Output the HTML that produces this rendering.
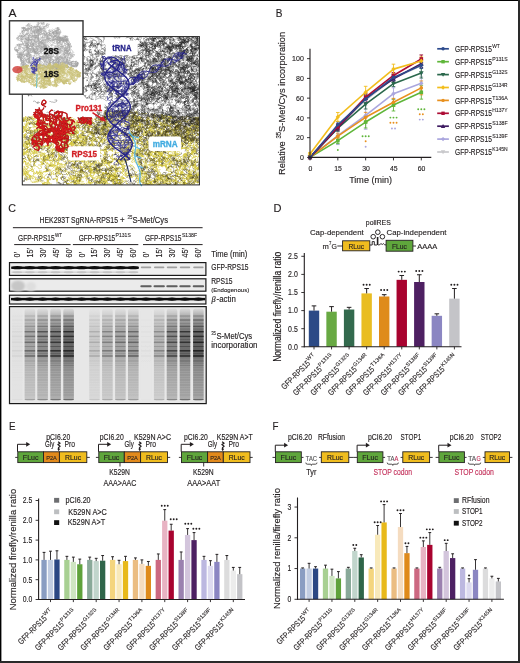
<!DOCTYPE html>
<html><head><meta charset="utf-8"><style>
html,body{margin:0;padding:0;background:#fff;}
body{width:520px;height:663px;overflow:hidden;position:relative;}
svg{position:absolute;left:0;top:0;display:block;font-family:"Liberation Sans", sans-serif;will-change:transform;}
</style></head><body>
<svg width="520" height="663" viewBox="0 0 520 663">
<rect x="0.00" y="0.00" width="520.00" height="663.00" fill="#fff" />
<text x="8.40" y="16.80" font-size="11.5" fill="#231f20" textLength="8.00" lengthAdjust="spacingAndGlyphs" stroke="#231f20" stroke-width="0.15">A</text>
<text x="275.80" y="16.80" font-size="11.5" fill="#231f20" textLength="6.70" lengthAdjust="spacingAndGlyphs" stroke="#231f20" stroke-width="0.15">B</text>
<text x="8.30" y="212.10" font-size="11.5" fill="#231f20" textLength="7.70" lengthAdjust="spacingAndGlyphs" stroke="#231f20" stroke-width="0.15">C</text>
<text x="273.60" y="211.80" font-size="11.5" fill="#231f20" textLength="8.00" lengthAdjust="spacingAndGlyphs" stroke="#231f20" stroke-width="0.15">D</text>
<text x="8.90" y="429.50" font-size="11.5" fill="#231f20" textLength="6.50" lengthAdjust="spacingAndGlyphs" stroke="#231f20" stroke-width="0.15">E</text>
<text x="272.40" y="429.50" font-size="11.5" fill="#231f20" textLength="6.00" lengthAdjust="spacingAndGlyphs" stroke="#231f20" stroke-width="0.15">F</text>
<line x1="337.82" y1="123.83" x2="337.82" y2="129.75" stroke="#c8c8cb" stroke-width="0.9" />
<line x1="336.02" y1="123.83" x2="339.62" y2="123.83" stroke="#c8c8cb" stroke-width="0.9" />
<line x1="336.02" y1="129.75" x2="339.62" y2="129.75" stroke="#c8c8cb" stroke-width="0.9" />
<line x1="365.65" y1="95.19" x2="365.65" y2="105.06" stroke="#c8c8cb" stroke-width="0.9" />
<line x1="363.85" y1="95.19" x2="367.45" y2="95.19" stroke="#c8c8cb" stroke-width="0.9" />
<line x1="363.85" y1="105.06" x2="367.45" y2="105.06" stroke="#c8c8cb" stroke-width="0.9" />
<line x1="393.48" y1="73.46" x2="393.48" y2="83.34" stroke="#c8c8cb" stroke-width="0.9" />
<line x1="391.68" y1="73.46" x2="395.28" y2="73.46" stroke="#c8c8cb" stroke-width="0.9" />
<line x1="391.68" y1="83.34" x2="395.28" y2="83.34" stroke="#c8c8cb" stroke-width="0.9" />
<line x1="421.30" y1="54.70" x2="421.30" y2="76.42" stroke="#c8c8cb" stroke-width="0.9" />
<line x1="419.50" y1="54.70" x2="423.10" y2="54.70" stroke="#c8c8cb" stroke-width="0.9" />
<line x1="419.50" y1="76.42" x2="423.10" y2="76.42" stroke="#c8c8cb" stroke-width="0.9" />
<line x1="337.82" y1="126.79" x2="337.82" y2="144.56" stroke="#aaa6de" stroke-width="0.9" />
<line x1="336.02" y1="126.79" x2="339.62" y2="126.79" stroke="#aaa6de" stroke-width="0.9" />
<line x1="336.02" y1="144.56" x2="339.62" y2="144.56" stroke="#aaa6de" stroke-width="0.9" />
<line x1="365.65" y1="101.61" x2="365.65" y2="129.26" stroke="#aaa6de" stroke-width="0.9" />
<line x1="363.85" y1="101.61" x2="367.45" y2="101.61" stroke="#aaa6de" stroke-width="0.9" />
<line x1="363.85" y1="129.26" x2="367.45" y2="129.26" stroke="#aaa6de" stroke-width="0.9" />
<line x1="393.48" y1="87.78" x2="393.48" y2="99.63" stroke="#aaa6de" stroke-width="0.9" />
<line x1="391.68" y1="87.78" x2="395.28" y2="87.78" stroke="#aaa6de" stroke-width="0.9" />
<line x1="391.68" y1="99.63" x2="395.28" y2="99.63" stroke="#aaa6de" stroke-width="0.9" />
<line x1="421.30" y1="73.46" x2="421.30" y2="93.21" stroke="#aaa6de" stroke-width="0.9" />
<line x1="419.50" y1="73.46" x2="423.10" y2="73.46" stroke="#aaa6de" stroke-width="0.9" />
<line x1="419.50" y1="93.21" x2="423.10" y2="93.21" stroke="#aaa6de" stroke-width="0.9" />
<line x1="337.82" y1="137.65" x2="337.82" y2="143.58" stroke="#5fb63a" stroke-width="0.9" />
<line x1="336.02" y1="137.65" x2="339.62" y2="137.65" stroke="#5fb63a" stroke-width="0.9" />
<line x1="336.02" y1="143.58" x2="339.62" y2="143.58" stroke="#5fb63a" stroke-width="0.9" />
<line x1="365.65" y1="116.12" x2="365.65" y2="127.97" stroke="#5fb63a" stroke-width="0.9" />
<line x1="363.85" y1="116.12" x2="367.45" y2="116.12" stroke="#5fb63a" stroke-width="0.9" />
<line x1="363.85" y1="127.97" x2="367.45" y2="127.97" stroke="#5fb63a" stroke-width="0.9" />
<line x1="393.48" y1="99.14" x2="393.48" y2="110.99" stroke="#5fb63a" stroke-width="0.9" />
<line x1="391.68" y1="99.14" x2="395.28" y2="99.14" stroke="#5fb63a" stroke-width="0.9" />
<line x1="391.68" y1="110.99" x2="395.28" y2="110.99" stroke="#5fb63a" stroke-width="0.9" />
<line x1="421.30" y1="85.31" x2="421.30" y2="99.14" stroke="#5fb63a" stroke-width="0.9" />
<line x1="419.50" y1="85.31" x2="423.10" y2="85.31" stroke="#5fb63a" stroke-width="0.9" />
<line x1="419.50" y1="99.14" x2="423.10" y2="99.14" stroke="#5fb63a" stroke-width="0.9" />
<line x1="337.82" y1="133.21" x2="337.82" y2="139.13" stroke="#e8901e" stroke-width="0.9" />
<line x1="336.02" y1="133.21" x2="339.62" y2="133.21" stroke="#e8901e" stroke-width="0.9" />
<line x1="336.02" y1="139.13" x2="339.62" y2="139.13" stroke="#e8901e" stroke-width="0.9" />
<line x1="365.65" y1="112.37" x2="365.65" y2="122.25" stroke="#e8901e" stroke-width="0.9" />
<line x1="363.85" y1="112.37" x2="367.45" y2="112.37" stroke="#e8901e" stroke-width="0.9" />
<line x1="363.85" y1="122.25" x2="367.45" y2="122.25" stroke="#e8901e" stroke-width="0.9" />
<line x1="393.48" y1="98.35" x2="393.48" y2="106.25" stroke="#e8901e" stroke-width="0.9" />
<line x1="391.68" y1="98.35" x2="395.28" y2="98.35" stroke="#e8901e" stroke-width="0.9" />
<line x1="391.68" y1="106.25" x2="395.28" y2="106.25" stroke="#e8901e" stroke-width="0.9" />
<line x1="421.30" y1="80.97" x2="421.30" y2="94.79" stroke="#e8901e" stroke-width="0.9" />
<line x1="419.50" y1="80.97" x2="423.10" y2="80.97" stroke="#e8901e" stroke-width="0.9" />
<line x1="419.50" y1="94.79" x2="423.10" y2="94.79" stroke="#e8901e" stroke-width="0.9" />
<line x1="337.82" y1="125.31" x2="337.82" y2="131.23" stroke="#2b684c" stroke-width="0.9" />
<line x1="336.02" y1="125.31" x2="339.62" y2="125.31" stroke="#2b684c" stroke-width="0.9" />
<line x1="336.02" y1="131.23" x2="339.62" y2="131.23" stroke="#2b684c" stroke-width="0.9" />
<line x1="365.65" y1="99.14" x2="365.65" y2="109.01" stroke="#2b684c" stroke-width="0.9" />
<line x1="363.85" y1="99.14" x2="367.45" y2="99.14" stroke="#2b684c" stroke-width="0.9" />
<line x1="363.85" y1="109.01" x2="367.45" y2="109.01" stroke="#2b684c" stroke-width="0.9" />
<line x1="393.48" y1="80.67" x2="393.48" y2="86.60" stroke="#2b684c" stroke-width="0.9" />
<line x1="391.68" y1="80.67" x2="395.28" y2="80.67" stroke="#2b684c" stroke-width="0.9" />
<line x1="391.68" y1="86.60" x2="395.28" y2="86.60" stroke="#2b684c" stroke-width="0.9" />
<line x1="421.30" y1="68.13" x2="421.30" y2="78.00" stroke="#2b684c" stroke-width="0.9" />
<line x1="419.50" y1="68.13" x2="423.10" y2="68.13" stroke="#2b684c" stroke-width="0.9" />
<line x1="419.50" y1="78.00" x2="423.10" y2="78.00" stroke="#2b684c" stroke-width="0.9" />
<line x1="337.82" y1="124.81" x2="337.82" y2="130.74" stroke="#3f1c62" stroke-width="0.9" />
<line x1="336.02" y1="124.81" x2="339.62" y2="124.81" stroke="#3f1c62" stroke-width="0.9" />
<line x1="336.02" y1="130.74" x2="339.62" y2="130.74" stroke="#3f1c62" stroke-width="0.9" />
<line x1="365.65" y1="94.20" x2="365.65" y2="102.10" stroke="#3f1c62" stroke-width="0.9" />
<line x1="363.85" y1="94.20" x2="367.45" y2="94.20" stroke="#3f1c62" stroke-width="0.9" />
<line x1="363.85" y1="102.10" x2="367.45" y2="102.10" stroke="#3f1c62" stroke-width="0.9" />
<line x1="393.48" y1="75.83" x2="393.48" y2="81.76" stroke="#3f1c62" stroke-width="0.9" />
<line x1="391.68" y1="75.83" x2="395.28" y2="75.83" stroke="#3f1c62" stroke-width="0.9" />
<line x1="391.68" y1="81.76" x2="395.28" y2="81.76" stroke="#3f1c62" stroke-width="0.9" />
<line x1="421.30" y1="59.64" x2="421.30" y2="67.54" stroke="#3f1c62" stroke-width="0.9" />
<line x1="419.50" y1="59.64" x2="423.10" y2="59.64" stroke="#3f1c62" stroke-width="0.9" />
<line x1="419.50" y1="67.54" x2="423.10" y2="67.54" stroke="#3f1c62" stroke-width="0.9" />
<line x1="337.82" y1="123.83" x2="337.82" y2="129.75" stroke="#ad0d35" stroke-width="0.9" />
<line x1="336.02" y1="123.83" x2="339.62" y2="123.83" stroke="#ad0d35" stroke-width="0.9" />
<line x1="336.02" y1="129.75" x2="339.62" y2="129.75" stroke="#ad0d35" stroke-width="0.9" />
<line x1="365.65" y1="93.21" x2="365.65" y2="101.11" stroke="#ad0d35" stroke-width="0.9" />
<line x1="363.85" y1="93.21" x2="367.45" y2="93.21" stroke="#ad0d35" stroke-width="0.9" />
<line x1="363.85" y1="101.11" x2="367.45" y2="101.11" stroke="#ad0d35" stroke-width="0.9" />
<line x1="393.48" y1="72.48" x2="393.48" y2="78.40" stroke="#ad0d35" stroke-width="0.9" />
<line x1="391.68" y1="72.48" x2="395.28" y2="72.48" stroke="#ad0d35" stroke-width="0.9" />
<line x1="391.68" y1="78.40" x2="395.28" y2="78.40" stroke="#ad0d35" stroke-width="0.9" />
<line x1="421.30" y1="55.00" x2="421.30" y2="62.90" stroke="#ad0d35" stroke-width="0.9" />
<line x1="419.50" y1="55.00" x2="423.10" y2="55.00" stroke="#ad0d35" stroke-width="0.9" />
<line x1="419.50" y1="62.90" x2="423.10" y2="62.90" stroke="#ad0d35" stroke-width="0.9" />
<line x1="337.82" y1="121.85" x2="337.82" y2="127.78" stroke="#2c4a8c" stroke-width="0.9" />
<line x1="336.02" y1="121.85" x2="339.62" y2="121.85" stroke="#2c4a8c" stroke-width="0.9" />
<line x1="336.02" y1="127.78" x2="339.62" y2="127.78" stroke="#2c4a8c" stroke-width="0.9" />
<line x1="365.65" y1="95.19" x2="365.65" y2="103.09" stroke="#2c4a8c" stroke-width="0.9" />
<line x1="363.85" y1="95.19" x2="367.45" y2="95.19" stroke="#2c4a8c" stroke-width="0.9" />
<line x1="363.85" y1="103.09" x2="367.45" y2="103.09" stroke="#2c4a8c" stroke-width="0.9" />
<line x1="393.48" y1="74.45" x2="393.48" y2="80.38" stroke="#2c4a8c" stroke-width="0.9" />
<line x1="391.68" y1="74.45" x2="395.28" y2="74.45" stroke="#2c4a8c" stroke-width="0.9" />
<line x1="391.68" y1="80.38" x2="395.28" y2="80.38" stroke="#2c4a8c" stroke-width="0.9" />
<line x1="421.30" y1="62.40" x2="421.30" y2="68.33" stroke="#2c4a8c" stroke-width="0.9" />
<line x1="419.50" y1="62.40" x2="423.10" y2="62.40" stroke="#2c4a8c" stroke-width="0.9" />
<line x1="419.50" y1="68.33" x2="423.10" y2="68.33" stroke="#2c4a8c" stroke-width="0.9" />
<line x1="310.00" y1="152.46" x2="310.00" y2="155.43" stroke="#f2bd1c" stroke-width="0.9" />
<line x1="308.20" y1="152.46" x2="311.80" y2="152.46" stroke="#f2bd1c" stroke-width="0.9" />
<line x1="308.20" y1="155.43" x2="311.80" y2="155.43" stroke="#f2bd1c" stroke-width="0.9" />
<line x1="337.82" y1="112.47" x2="337.82" y2="121.36" stroke="#f2bd1c" stroke-width="0.9" />
<line x1="336.02" y1="112.47" x2="339.62" y2="112.47" stroke="#f2bd1c" stroke-width="0.9" />
<line x1="336.02" y1="121.36" x2="339.62" y2="121.36" stroke="#f2bd1c" stroke-width="0.9" />
<line x1="365.65" y1="86.30" x2="365.65" y2="98.15" stroke="#f2bd1c" stroke-width="0.9" />
<line x1="363.85" y1="86.30" x2="367.45" y2="86.30" stroke="#f2bd1c" stroke-width="0.9" />
<line x1="363.85" y1="98.15" x2="367.45" y2="98.15" stroke="#f2bd1c" stroke-width="0.9" />
<line x1="393.48" y1="64.18" x2="393.48" y2="74.05" stroke="#f2bd1c" stroke-width="0.9" />
<line x1="391.68" y1="64.18" x2="395.28" y2="64.18" stroke="#f2bd1c" stroke-width="0.9" />
<line x1="391.68" y1="74.05" x2="395.28" y2="74.05" stroke="#f2bd1c" stroke-width="0.9" />
<line x1="421.30" y1="56.97" x2="421.30" y2="64.87" stroke="#f2bd1c" stroke-width="0.9" />
<line x1="419.50" y1="56.97" x2="423.10" y2="56.97" stroke="#f2bd1c" stroke-width="0.9" />
<line x1="419.50" y1="64.87" x2="423.10" y2="64.87" stroke="#f2bd1c" stroke-width="0.9" />
<polyline points="310.00,157.40 337.82,126.79 365.65,100.12 393.48,78.40 421.30,65.56" fill="none" stroke="#c8c8cb" stroke-width="1.6" stroke-linejoin="round"/>
<path d="M310.00 159.74L312.34 155.60L307.66 155.60Z" fill="#c8c8cb"/>
<path d="M337.82 129.13L340.16 124.99L335.49 124.99Z" fill="#c8c8cb"/>
<path d="M365.65 102.47L367.99 98.33L363.31 98.33Z" fill="#c8c8cb"/>
<path d="M393.48 80.74L395.81 76.60L391.14 76.60Z" fill="#c8c8cb"/>
<path d="M421.30 67.90L423.64 63.76L418.96 63.76Z" fill="#c8c8cb"/>
<polyline points="310.00,157.40 337.82,135.68 365.65,115.43 393.48,93.71 421.30,83.34" fill="none" stroke="#aaa6de" stroke-width="1.6" stroke-linejoin="round"/>
<path d="M310.00 155.06L312.16 157.40L310.00 159.74L307.84 157.40Z" fill="#aaa6de"/>
<path d="M337.82 133.34L339.99 135.68L337.82 138.02L335.66 135.68Z" fill="#aaa6de"/>
<path d="M365.65 113.09L367.81 115.43L365.65 117.77L363.49 115.43Z" fill="#aaa6de"/>
<path d="M393.48 91.37L395.64 93.71L393.48 96.05L391.31 93.71Z" fill="#aaa6de"/>
<path d="M421.30 81.00L423.46 83.34L421.30 85.68L419.14 83.34Z" fill="#aaa6de"/>
<polyline points="310.00,157.40 337.82,140.61 365.65,122.05 393.48,105.06 421.30,92.23" fill="none" stroke="#5fb63a" stroke-width="1.6" stroke-linejoin="round"/>
<rect x="308.20" y="155.60" width="3.60" height="3.60" fill="#5fb63a" />
<rect x="336.02" y="138.81" width="3.60" height="3.60" fill="#5fb63a" />
<rect x="363.85" y="120.25" width="3.60" height="3.60" fill="#5fb63a" />
<rect x="391.68" y="103.26" width="3.60" height="3.60" fill="#5fb63a" />
<rect x="419.50" y="90.43" width="3.60" height="3.60" fill="#5fb63a" />
<polyline points="310.00,157.40 337.82,136.17 365.65,117.31 393.48,102.30 421.30,87.88" fill="none" stroke="#e8901e" stroke-width="1.6" stroke-linejoin="round"/>
<circle cx="310.00" cy="157.40" r="1.80" fill="#e8901e"/>
<circle cx="337.82" cy="136.17" r="1.80" fill="#e8901e"/>
<circle cx="365.65" cy="117.31" r="1.80" fill="#e8901e"/>
<circle cx="393.48" cy="102.30" r="1.80" fill="#e8901e"/>
<circle cx="421.30" cy="87.88" r="1.80" fill="#e8901e"/>
<polyline points="310.00,157.40 337.82,128.27 365.65,104.08 393.48,83.63 421.30,73.07" fill="none" stroke="#2b684c" stroke-width="1.6" stroke-linejoin="round"/>
<path d="M310.00 159.74L312.34 155.60L307.66 155.60Z" fill="#2b684c"/>
<path d="M337.82 130.61L340.16 126.47L335.49 126.47Z" fill="#2b684c"/>
<path d="M365.65 106.42L367.99 102.28L363.31 102.28Z" fill="#2b684c"/>
<path d="M393.48 85.97L395.81 81.83L391.14 81.83Z" fill="#2b684c"/>
<path d="M421.30 75.41L423.64 71.27L418.96 71.27Z" fill="#2b684c"/>
<polyline points="310.00,157.40 337.82,127.78 365.65,98.15 393.48,78.80 421.30,63.59" fill="none" stroke="#3f1c62" stroke-width="1.6" stroke-linejoin="round"/>
<path d="M310.00 155.06L312.34 159.20L307.66 159.20Z" fill="#3f1c62"/>
<path d="M337.82 125.44L340.16 129.58L335.49 129.58Z" fill="#3f1c62"/>
<path d="M365.65 95.81L367.99 99.95L363.31 99.95Z" fill="#3f1c62"/>
<path d="M393.48 76.45L395.81 80.59L391.14 80.59Z" fill="#3f1c62"/>
<path d="M421.30 61.25L423.64 65.39L418.96 65.39Z" fill="#3f1c62"/>
<polyline points="310.00,157.40 337.82,126.79 365.65,97.16 393.48,75.44 421.30,58.95" fill="none" stroke="#ad0d35" stroke-width="1.6" stroke-linejoin="round"/>
<rect x="308.20" y="155.60" width="3.60" height="3.60" fill="#ad0d35" />
<rect x="336.02" y="124.99" width="3.60" height="3.60" fill="#ad0d35" />
<rect x="363.85" y="95.36" width="3.60" height="3.60" fill="#ad0d35" />
<rect x="391.68" y="73.64" width="3.60" height="3.60" fill="#ad0d35" />
<rect x="419.50" y="57.15" width="3.60" height="3.60" fill="#ad0d35" />
<polyline points="310.00,157.40 337.82,124.81 365.65,99.14 393.48,77.41 421.30,65.36" fill="none" stroke="#2c4a8c" stroke-width="1.6" stroke-linejoin="round"/>
<circle cx="310.00" cy="157.40" r="1.80" fill="#2c4a8c"/>
<circle cx="337.82" cy="124.81" r="1.80" fill="#2c4a8c"/>
<circle cx="365.65" cy="99.14" r="1.80" fill="#2c4a8c"/>
<circle cx="393.48" cy="77.41" r="1.80" fill="#2c4a8c"/>
<circle cx="421.30" cy="65.36" r="1.80" fill="#2c4a8c"/>
<polyline points="310.00,153.94 337.82,116.91 365.65,92.23 393.48,69.12 421.30,60.92" fill="none" stroke="#f2bd1c" stroke-width="1.6" stroke-linejoin="round"/>
<path d="M310.00 151.60L312.16 153.94L310.00 156.28L307.84 153.94Z" fill="#f2bd1c"/>
<path d="M337.82 114.57L339.99 116.91L337.82 119.25L335.66 116.91Z" fill="#f2bd1c"/>
<path d="M365.65 89.89L367.81 92.23L365.65 94.57L363.49 92.23Z" fill="#f2bd1c"/>
<path d="M393.48 66.78L395.64 69.12L393.48 71.46L391.31 69.12Z" fill="#f2bd1c"/>
<path d="M421.30 58.58L423.46 60.92L421.30 63.26L419.14 60.92Z" fill="#f2bd1c"/>
<circle cx="337.82" cy="150.00" r="0.95" fill="#5fb63a"/>
<circle cx="362.55" cy="136.30" r="0.95" fill="#5fb63a"/>
<circle cx="365.65" cy="136.30" r="0.95" fill="#5fb63a"/>
<circle cx="368.75" cy="136.30" r="0.95" fill="#5fb63a"/>
<circle cx="365.65" cy="141.30" r="0.95" fill="#e8901e"/>
<circle cx="365.65" cy="146.80" r="0.95" fill="#aaa6de"/>
<circle cx="390.38" cy="117.60" r="0.95" fill="#5fb63a"/>
<circle cx="393.48" cy="117.60" r="0.95" fill="#5fb63a"/>
<circle cx="396.58" cy="117.60" r="0.95" fill="#5fb63a"/>
<circle cx="390.38" cy="122.80" r="0.95" fill="#e8901e"/>
<circle cx="393.48" cy="122.80" r="0.95" fill="#e8901e"/>
<circle cx="396.58" cy="122.80" r="0.95" fill="#e8901e"/>
<circle cx="391.93" cy="128.50" r="0.95" fill="#aaa6de"/>
<circle cx="395.03" cy="128.50" r="0.95" fill="#aaa6de"/>
<circle cx="418.20" cy="109.20" r="0.95" fill="#5fb63a"/>
<circle cx="421.30" cy="109.20" r="0.95" fill="#5fb63a"/>
<circle cx="424.40" cy="109.20" r="0.95" fill="#5fb63a"/>
<circle cx="419.75" cy="114.20" r="0.95" fill="#e8901e"/>
<circle cx="422.85" cy="114.20" r="0.95" fill="#e8901e"/>
<circle cx="419.75" cy="119.60" r="0.95" fill="#aaa6de"/>
<circle cx="422.85" cy="119.60" r="0.95" fill="#aaa6de"/>
<line x1="310.00" y1="48.80" x2="310.00" y2="158.00" stroke="#231f20" stroke-width="1.1" />
<line x1="309.50" y1="157.40" x2="431.30" y2="157.40" stroke="#231f20" stroke-width="1.1" />
<line x1="307.00" y1="157.40" x2="310.00" y2="157.40" stroke="#231f20" stroke-width="0.9" />
<text x="303.80" y="160.15" font-size="7.9" fill="#231f20" text-anchor="end" textLength="3.91" lengthAdjust="spacingAndGlyphs"  stroke="#231f20" stroke-width="0.15">0</text>
<line x1="307.00" y1="137.65" x2="310.00" y2="137.65" stroke="#231f20" stroke-width="0.9" />
<text x="303.80" y="140.40" font-size="7.9" fill="#231f20" text-anchor="end" textLength="7.82" lengthAdjust="spacingAndGlyphs"  stroke="#231f20" stroke-width="0.15">20</text>
<line x1="307.00" y1="117.90" x2="310.00" y2="117.90" stroke="#231f20" stroke-width="0.9" />
<text x="303.80" y="120.65" font-size="7.9" fill="#231f20" text-anchor="end" textLength="7.82" lengthAdjust="spacingAndGlyphs"  stroke="#231f20" stroke-width="0.15">40</text>
<line x1="307.00" y1="98.15" x2="310.00" y2="98.15" stroke="#231f20" stroke-width="0.9" />
<text x="303.80" y="100.90" font-size="7.9" fill="#231f20" text-anchor="end" textLength="7.82" lengthAdjust="spacingAndGlyphs"  stroke="#231f20" stroke-width="0.15">60</text>
<line x1="307.00" y1="78.40" x2="310.00" y2="78.40" stroke="#231f20" stroke-width="0.9" />
<text x="303.80" y="81.15" font-size="7.9" fill="#231f20" text-anchor="end" textLength="7.82" lengthAdjust="spacingAndGlyphs"  stroke="#231f20" stroke-width="0.15">80</text>
<line x1="307.00" y1="58.65" x2="310.00" y2="58.65" stroke="#231f20" stroke-width="0.9" />
<text x="303.80" y="61.40" font-size="7.9" fill="#231f20" text-anchor="end" textLength="11.73" lengthAdjust="spacingAndGlyphs"  stroke="#231f20" stroke-width="0.15">100</text>
<line x1="310.00" y1="157.40" x2="310.00" y2="160.40" stroke="#231f20" stroke-width="0.9" />
<text x="310.30" y="170.60" font-size="7.3" fill="#231f20" text-anchor="middle" textLength="3.82" lengthAdjust="spacingAndGlyphs"  stroke="#231f20" stroke-width="0.15">0</text>
<line x1="337.82" y1="157.40" x2="337.82" y2="160.40" stroke="#231f20" stroke-width="0.9" />
<text x="338.12" y="170.60" font-size="7.3" fill="#231f20" text-anchor="middle" textLength="7.63" lengthAdjust="spacingAndGlyphs"  stroke="#231f20" stroke-width="0.15">15</text>
<line x1="365.65" y1="157.40" x2="365.65" y2="160.40" stroke="#231f20" stroke-width="0.9" />
<text x="365.95" y="170.60" font-size="7.3" fill="#231f20" text-anchor="middle" textLength="7.63" lengthAdjust="spacingAndGlyphs"  stroke="#231f20" stroke-width="0.15">30</text>
<line x1="393.48" y1="157.40" x2="393.48" y2="160.40" stroke="#231f20" stroke-width="0.9" />
<text x="393.78" y="170.60" font-size="7.3" fill="#231f20" text-anchor="middle" textLength="7.63" lengthAdjust="spacingAndGlyphs"  stroke="#231f20" stroke-width="0.15">45</text>
<line x1="421.30" y1="157.40" x2="421.30" y2="160.40" stroke="#231f20" stroke-width="0.9" />
<text x="421.60" y="170.60" font-size="7.3" fill="#231f20" text-anchor="middle" textLength="7.63" lengthAdjust="spacingAndGlyphs"  stroke="#231f20" stroke-width="0.15">60</text>
<text x="370.60" y="182.50" font-size="9.8" fill="#231f20" text-anchor="middle" textLength="42.80" lengthAdjust="spacingAndGlyphs"  stroke="#231f20" stroke-width="0.15">Time (min)</text>
<text transform="translate(284.6 103.4) rotate(-90)" font-size="9.9" fill="#231f20" text-anchor="middle" textLength="143" lengthAdjust="spacingAndGlyphs" stroke="#231f20" stroke-width="0.15">Relative <tspan font-size="6.4" dy="-3.4">35</tspan><tspan dy="3.4">S-Met/Cys incorporation</tspan></text>
<line x1="437.20" y1="48.80" x2="448.90" y2="48.80" stroke="#2c4a8c" stroke-width="1.7" />
<circle cx="443.05" cy="48.80" r="1.70" fill="#2c4a8c"/>
<g><text x="455.00" y="51.90" font-size="8.2" fill="#231f20" textLength="36.90" lengthAdjust="spacingAndGlyphs" stroke="#231f20" stroke-width="0.15">GFP-RPS15</text><text x="492.30" y="47.90" font-size="5.00" fill="#231f20" textLength="7.50" lengthAdjust="spacingAndGlyphs" stroke="#231f20" stroke-width="0.1">WT</text></g>
<line x1="437.20" y1="61.70" x2="448.90" y2="61.70" stroke="#5fb63a" stroke-width="1.7" />
<rect x="441.35" y="60.00" width="3.40" height="3.40" fill="#5fb63a" />
<g><text x="455.00" y="64.80" font-size="8.2" fill="#231f20" textLength="36.90" lengthAdjust="spacingAndGlyphs" stroke="#231f20" stroke-width="0.15">GFP-RPS15</text><text x="492.30" y="60.80" font-size="5.00" fill="#231f20" textLength="15.30" lengthAdjust="spacingAndGlyphs" stroke="#231f20" stroke-width="0.1">P131S</text></g>
<line x1="437.20" y1="74.60" x2="448.90" y2="74.60" stroke="#2b684c" stroke-width="1.7" />
<path d="M443.05 76.81L445.26 72.90L440.84 72.90Z" fill="#2b684c"/>
<g><text x="455.00" y="77.70" font-size="8.2" fill="#231f20" textLength="36.90" lengthAdjust="spacingAndGlyphs" stroke="#231f20" stroke-width="0.15">GFP-RPS15</text><text x="492.30" y="73.70" font-size="5.00" fill="#231f20" textLength="15.30" lengthAdjust="spacingAndGlyphs" stroke="#231f20" stroke-width="0.1">G132S</text></g>
<line x1="437.20" y1="87.50" x2="448.90" y2="87.50" stroke="#f2bd1c" stroke-width="1.7" />
<path d="M443.05 85.29L445.09 87.50L443.05 89.71L441.01 87.50Z" fill="#f2bd1c"/>
<g><text x="455.00" y="90.60" font-size="8.2" fill="#231f20" textLength="36.90" lengthAdjust="spacingAndGlyphs" stroke="#231f20" stroke-width="0.15">GFP-RPS15</text><text x="492.30" y="86.60" font-size="5.00" fill="#231f20" textLength="15.30" lengthAdjust="spacingAndGlyphs" stroke="#231f20" stroke-width="0.1">G134R</text></g>
<line x1="437.20" y1="100.40" x2="448.90" y2="100.40" stroke="#e8901e" stroke-width="1.7" />
<circle cx="443.05" cy="100.40" r="1.70" fill="#e8901e"/>
<g><text x="455.00" y="103.50" font-size="8.2" fill="#231f20" textLength="36.90" lengthAdjust="spacingAndGlyphs" stroke="#231f20" stroke-width="0.15">GFP-RPS15</text><text x="492.30" y="99.50" font-size="5.00" fill="#231f20" textLength="15.30" lengthAdjust="spacingAndGlyphs" stroke="#231f20" stroke-width="0.1">T136A</text></g>
<line x1="437.20" y1="113.30" x2="448.90" y2="113.30" stroke="#ad0d35" stroke-width="1.7" />
<rect x="441.35" y="111.60" width="3.40" height="3.40" fill="#ad0d35" />
<g><text x="455.00" y="116.40" font-size="8.2" fill="#231f20" textLength="36.90" lengthAdjust="spacingAndGlyphs" stroke="#231f20" stroke-width="0.15">GFP-RPS15</text><text x="492.30" y="112.40" font-size="5.00" fill="#231f20" textLength="15.30" lengthAdjust="spacingAndGlyphs" stroke="#231f20" stroke-width="0.1">H137Y</text></g>
<line x1="437.20" y1="126.20" x2="448.90" y2="126.20" stroke="#3f1c62" stroke-width="1.7" />
<path d="M443.05 123.99L445.26 127.90L440.84 127.90Z" fill="#3f1c62"/>
<g><text x="455.00" y="129.30" font-size="8.2" fill="#231f20" textLength="36.90" lengthAdjust="spacingAndGlyphs" stroke="#231f20" stroke-width="0.15">GFP-RPS15</text><text x="492.30" y="125.30" font-size="5.00" fill="#231f20" textLength="15.30" lengthAdjust="spacingAndGlyphs" stroke="#231f20" stroke-width="0.1">S138F</text></g>
<line x1="437.20" y1="139.10" x2="448.90" y2="139.10" stroke="#aaa6de" stroke-width="1.7" />
<path d="M443.05 136.89L445.09 139.10L443.05 141.31L441.01 139.10Z" fill="#aaa6de"/>
<g><text x="455.00" y="142.20" font-size="8.2" fill="#231f20" textLength="36.90" lengthAdjust="spacingAndGlyphs" stroke="#231f20" stroke-width="0.15">GFP-RPS15</text><text x="492.30" y="138.20" font-size="5.00" fill="#231f20" textLength="15.30" lengthAdjust="spacingAndGlyphs" stroke="#231f20" stroke-width="0.1">S139F</text></g>
<line x1="437.20" y1="152.00" x2="448.90" y2="152.00" stroke="#c8c8cb" stroke-width="1.7" />
<path d="M443.05 154.21L445.26 150.30L440.84 150.30Z" fill="#c8c8cb"/>
<g><text x="455.00" y="155.10" font-size="8.2" fill="#231f20" textLength="36.90" lengthAdjust="spacingAndGlyphs" stroke="#231f20" stroke-width="0.15">GFP-RPS15</text><text x="492.30" y="151.10" font-size="5.00" fill="#231f20" textLength="15.30" lengthAdjust="spacingAndGlyphs" stroke="#231f20" stroke-width="0.1">K145N</text></g>
<rect x="308.80" y="310.60" width="10.40" height="36.20" fill="#2c4a86" />
<line x1="314.00" y1="310.60" x2="314.00" y2="305.89" stroke="#231f20" stroke-width="1.0" />
<line x1="311.70" y1="305.89" x2="316.30" y2="305.89" stroke="#231f20" stroke-width="1.0" />
<line x1="314.00" y1="346.80" x2="314.00" y2="349.40" stroke="#231f20" stroke-width="0.9" />
<rect x="326.35" y="311.69" width="10.40" height="35.11" fill="#68a943" />
<line x1="331.55" y1="311.69" x2="331.55" y2="306.62" stroke="#231f20" stroke-width="1.0" />
<line x1="329.25" y1="306.62" x2="333.85" y2="306.62" stroke="#231f20" stroke-width="1.0" />
<line x1="331.55" y1="346.80" x2="331.55" y2="349.40" stroke="#231f20" stroke-width="0.9" />
<rect x="343.90" y="309.51" width="10.40" height="37.29" fill="#336a4e" />
<line x1="349.10" y1="309.51" x2="349.10" y2="307.34" stroke="#231f20" stroke-width="1.0" />
<line x1="346.80" y1="307.34" x2="351.40" y2="307.34" stroke="#231f20" stroke-width="1.0" />
<line x1="349.10" y1="346.80" x2="349.10" y2="349.40" stroke="#231f20" stroke-width="0.9" />
<rect x="361.45" y="293.40" width="10.40" height="53.40" fill="#e9bd22" />
<line x1="366.65" y1="293.40" x2="366.65" y2="288.52" stroke="#231f20" stroke-width="1.0" />
<line x1="364.35" y1="288.52" x2="368.95" y2="288.52" stroke="#231f20" stroke-width="1.0" />
<line x1="366.65" y1="346.80" x2="366.65" y2="349.40" stroke="#231f20" stroke-width="0.9" />
<circle cx="363.55" cy="284.80" r="0.95" fill="#231f20"/>
<circle cx="366.65" cy="284.80" r="0.95" fill="#231f20"/>
<circle cx="369.75" cy="284.80" r="0.95" fill="#231f20"/>
<rect x="379.00" y="296.48" width="10.40" height="50.32" fill="#df8b1b" />
<line x1="384.20" y1="296.48" x2="384.20" y2="294.67" stroke="#231f20" stroke-width="1.0" />
<line x1="381.90" y1="294.67" x2="386.50" y2="294.67" stroke="#231f20" stroke-width="1.0" />
<line x1="384.20" y1="346.80" x2="384.20" y2="349.40" stroke="#231f20" stroke-width="0.9" />
<circle cx="381.10" cy="290.00" r="0.95" fill="#231f20"/>
<circle cx="384.20" cy="290.00" r="0.95" fill="#231f20"/>
<circle cx="387.30" cy="290.00" r="0.95" fill="#231f20"/>
<rect x="396.55" y="279.83" width="10.40" height="66.97" fill="#a8032f" />
<line x1="401.75" y1="279.83" x2="401.75" y2="275.49" stroke="#231f20" stroke-width="1.0" />
<line x1="399.45" y1="275.49" x2="404.05" y2="275.49" stroke="#231f20" stroke-width="1.0" />
<line x1="401.75" y1="346.80" x2="401.75" y2="349.40" stroke="#231f20" stroke-width="0.9" />
<circle cx="398.65" cy="271.60" r="0.95" fill="#231f20"/>
<circle cx="401.75" cy="271.60" r="0.95" fill="#231f20"/>
<circle cx="404.85" cy="271.60" r="0.95" fill="#231f20"/>
<rect x="414.10" y="282.00" width="10.40" height="64.80" fill="#4e2062" />
<line x1="419.30" y1="282.00" x2="419.30" y2="274.76" stroke="#231f20" stroke-width="1.0" />
<line x1="417.00" y1="274.76" x2="421.60" y2="274.76" stroke="#231f20" stroke-width="1.0" />
<line x1="419.30" y1="346.80" x2="419.30" y2="349.40" stroke="#231f20" stroke-width="0.9" />
<circle cx="416.20" cy="271.00" r="0.95" fill="#231f20"/>
<circle cx="419.30" cy="271.00" r="0.95" fill="#231f20"/>
<circle cx="422.40" cy="271.00" r="0.95" fill="#231f20"/>
<rect x="431.65" y="315.81" width="10.40" height="30.99" fill="#8b86c2" />
<line x1="436.85" y1="315.81" x2="436.85" y2="313.82" stroke="#231f20" stroke-width="1.0" />
<line x1="434.55" y1="313.82" x2="439.15" y2="313.82" stroke="#231f20" stroke-width="1.0" />
<line x1="436.85" y1="346.80" x2="436.85" y2="349.40" stroke="#231f20" stroke-width="0.9" />
<rect x="449.20" y="298.65" width="10.40" height="48.15" fill="#c4c4c8" />
<line x1="454.40" y1="298.65" x2="454.40" y2="288.52" stroke="#231f20" stroke-width="1.0" />
<line x1="452.10" y1="288.52" x2="456.70" y2="288.52" stroke="#231f20" stroke-width="1.0" />
<line x1="454.40" y1="346.80" x2="454.40" y2="349.40" stroke="#231f20" stroke-width="0.9" />
<circle cx="451.30" cy="284.80" r="0.95" fill="#231f20"/>
<circle cx="454.40" cy="284.80" r="0.95" fill="#231f20"/>
<circle cx="457.50" cy="284.80" r="0.95" fill="#231f20"/>
<line x1="304.30" y1="253.00" x2="304.30" y2="347.30" stroke="#231f20" stroke-width="1.1" />
<line x1="303.80" y1="346.80" x2="461.50" y2="346.80" stroke="#231f20" stroke-width="1.1" />
<line x1="301.30" y1="346.80" x2="304.30" y2="346.80" stroke="#231f20" stroke-width="0.9" />
<text x="297.80" y="349.65" font-size="8.4" fill="#231f20" text-anchor="end" textLength="9.70" lengthAdjust="spacingAndGlyphs"  stroke="#231f20" stroke-width="0.15">0.0</text>
<line x1="301.30" y1="328.70" x2="304.30" y2="328.70" stroke="#231f20" stroke-width="0.9" />
<text x="297.80" y="331.55" font-size="8.4" fill="#231f20" text-anchor="end" textLength="9.70" lengthAdjust="spacingAndGlyphs"  stroke="#231f20" stroke-width="0.15">0.5</text>
<line x1="301.30" y1="310.60" x2="304.30" y2="310.60" stroke="#231f20" stroke-width="0.9" />
<text x="297.80" y="313.45" font-size="8.4" fill="#231f20" text-anchor="end" textLength="9.70" lengthAdjust="spacingAndGlyphs"  stroke="#231f20" stroke-width="0.15">1.0</text>
<line x1="301.30" y1="292.50" x2="304.30" y2="292.50" stroke="#231f20" stroke-width="0.9" />
<text x="297.80" y="295.35" font-size="8.4" fill="#231f20" text-anchor="end" textLength="9.70" lengthAdjust="spacingAndGlyphs"  stroke="#231f20" stroke-width="0.15">1.5</text>
<line x1="301.30" y1="274.40" x2="304.30" y2="274.40" stroke="#231f20" stroke-width="0.9" />
<text x="297.80" y="277.25" font-size="8.4" fill="#231f20" text-anchor="end" textLength="9.70" lengthAdjust="spacingAndGlyphs"  stroke="#231f20" stroke-width="0.15">2.0</text>
<line x1="301.30" y1="256.30" x2="304.30" y2="256.30" stroke="#231f20" stroke-width="0.9" />
<text x="297.80" y="259.15" font-size="8.4" fill="#231f20" text-anchor="end" textLength="9.70" lengthAdjust="spacingAndGlyphs"  stroke="#231f20" stroke-width="0.15">2.5</text>
<text transform="translate(281.0 306.8) rotate(-90)" font-size="10" fill="#231f20" text-anchor="middle" textLength="110" lengthAdjust="spacingAndGlyphs" stroke="#231f20" stroke-width="0.15">Normalized firefly/renilla ratio</text>
<g transform="rotate(-45 317.00 357.50)"><text x="271.10" y="357.50" font-size="8.3" fill="#231f20" textLength="36.90" lengthAdjust="spacingAndGlyphs" stroke="#231f20" stroke-width="0.15">GFP-RPS15</text><text x="308.40" y="353.90" font-size="5.30" fill="#231f20" textLength="8.60" lengthAdjust="spacingAndGlyphs" stroke="#231f20" stroke-width="0.1">WT</text></g>
<g transform="rotate(-45 334.55 357.50)"><text x="280.25" y="357.50" font-size="8.3" fill="#231f20" textLength="36.90" lengthAdjust="spacingAndGlyphs" stroke="#231f20" stroke-width="0.15">GFP-RPS15</text><text x="317.55" y="353.90" font-size="5.30" fill="#231f20" textLength="17.00" lengthAdjust="spacingAndGlyphs" stroke="#231f20" stroke-width="0.1">P131S</text></g>
<g transform="rotate(-45 352.10 357.50)"><text x="297.80" y="357.50" font-size="8.3" fill="#231f20" textLength="36.90" lengthAdjust="spacingAndGlyphs" stroke="#231f20" stroke-width="0.15">GFP-RPS15</text><text x="335.10" y="353.90" font-size="5.30" fill="#231f20" textLength="17.00" lengthAdjust="spacingAndGlyphs" stroke="#231f20" stroke-width="0.1">G132S</text></g>
<g transform="rotate(-45 369.65 357.50)"><text x="315.35" y="357.50" font-size="8.3" fill="#231f20" textLength="36.90" lengthAdjust="spacingAndGlyphs" stroke="#231f20" stroke-width="0.15">GFP-RPS15</text><text x="352.65" y="353.90" font-size="5.30" fill="#231f20" textLength="17.00" lengthAdjust="spacingAndGlyphs" stroke="#231f20" stroke-width="0.1">G134R</text></g>
<g transform="rotate(-45 387.20 357.50)"><text x="332.90" y="357.50" font-size="8.3" fill="#231f20" textLength="36.90" lengthAdjust="spacingAndGlyphs" stroke="#231f20" stroke-width="0.15">GFP-RPS15</text><text x="370.20" y="353.90" font-size="5.30" fill="#231f20" textLength="17.00" lengthAdjust="spacingAndGlyphs" stroke="#231f20" stroke-width="0.1">T136A</text></g>
<g transform="rotate(-45 404.75 357.50)"><text x="350.45" y="357.50" font-size="8.3" fill="#231f20" textLength="36.90" lengthAdjust="spacingAndGlyphs" stroke="#231f20" stroke-width="0.15">GFP-RPS15</text><text x="387.75" y="353.90" font-size="5.30" fill="#231f20" textLength="17.00" lengthAdjust="spacingAndGlyphs" stroke="#231f20" stroke-width="0.1">H137Y</text></g>
<g transform="rotate(-45 422.30 357.50)"><text x="368.00" y="357.50" font-size="8.3" fill="#231f20" textLength="36.90" lengthAdjust="spacingAndGlyphs" stroke="#231f20" stroke-width="0.15">GFP-RPS15</text><text x="405.30" y="353.90" font-size="5.30" fill="#231f20" textLength="17.00" lengthAdjust="spacingAndGlyphs" stroke="#231f20" stroke-width="0.1">S138F</text></g>
<g transform="rotate(-45 439.85 357.50)"><text x="385.55" y="357.50" font-size="8.3" fill="#231f20" textLength="36.90" lengthAdjust="spacingAndGlyphs" stroke="#231f20" stroke-width="0.15">GFP-RPS15</text><text x="422.85" y="353.90" font-size="5.30" fill="#231f20" textLength="17.00" lengthAdjust="spacingAndGlyphs" stroke="#231f20" stroke-width="0.1">S139F</text></g>
<g transform="rotate(-45 457.40 357.50)"><text x="403.10" y="357.50" font-size="8.3" fill="#231f20" textLength="36.90" lengthAdjust="spacingAndGlyphs" stroke="#231f20" stroke-width="0.15">GFP-RPS15</text><text x="440.40" y="353.90" font-size="5.30" fill="#231f20" textLength="17.00" lengthAdjust="spacingAndGlyphs" stroke="#231f20" stroke-width="0.1">K145N</text></g>
<text x="365.80" y="225.40" font-size="8.0" fill="#231f20" textLength="25.00" lengthAdjust="spacingAndGlyphs"  stroke="#231f20" stroke-width="0.15">pollRES</text>
<text x="310.00" y="234.80" font-size="8.0" fill="#231f20" textLength="53.70" lengthAdjust="spacingAndGlyphs"  stroke="#231f20" stroke-width="0.15">Cap-dependent</text>
<text x="386.50" y="234.80" font-size="8.0" fill="#231f20" textLength="60.00" lengthAdjust="spacingAndGlyphs"  stroke="#231f20" stroke-width="0.15">Cap-independent</text>
<text x="322.60" y="248.60" font-size="8.0" fill="#231f20" textLength="6.30" lengthAdjust="spacingAndGlyphs"  stroke="#231f20" stroke-width="0.15">m</text>
<text x="329.00" y="244.60" font-size="4.8" fill="#231f20" textLength="2.40" lengthAdjust="spacingAndGlyphs"  stroke="#231f20" stroke-width="0.1">7</text>
<text x="331.60" y="248.60" font-size="8.0" fill="#231f20" textLength="5.40" lengthAdjust="spacingAndGlyphs"  stroke="#231f20" stroke-width="0.15">G</text>
<line x1="337.30" y1="246.00" x2="342.50" y2="246.00" stroke="#231f20" stroke-width="0.9" />
<rect x="342.60" y="240.80" width="27.20" height="10.00" fill="#f0bd1f" stroke="#231f20" stroke-width="0.9" />
<text x="356.30" y="248.70" font-size="7.8" fill="#231f20" text-anchor="middle" textLength="15.50" lengthAdjust="spacingAndGlyphs"  stroke="#231f20" stroke-width="0.15">RLuc</text>
<path d="M370 245.0 H372.2 V241.6 H374.3 V245.0 H376.9 M378.3 245.0 H379.4 Q380.6 243.0 381.7 244.0 Q382.6 245.0 383.4 243.6 Q384.2 245.0 386.2 245.0" fill="none" stroke="#231f20" stroke-width="0.95"/>
<path d="M377.6 245.0 V237.0" stroke="#231f20" stroke-width="1.6"/>
<circle cx="377.8" cy="232.2" r="2.3" fill="none" stroke="#231f20" stroke-width="0.95"/>
<circle cx="373.2" cy="236.7" r="2.3" fill="none" stroke="#231f20" stroke-width="0.95"/>
<circle cx="382.4" cy="236.7" r="2.3" fill="none" stroke="#231f20" stroke-width="0.95"/>
<rect x="386.10" y="240.30" width="26.80" height="10.90" fill="#5fa63c" stroke="#231f20" stroke-width="0.9" />
<text x="399.50" y="248.70" font-size="7.8" fill="#231f20" text-anchor="middle" textLength="15.00" lengthAdjust="spacingAndGlyphs"  stroke="#231f20" stroke-width="0.15">FLuc</text>
<line x1="413.00" y1="246.00" x2="416.00" y2="246.00" stroke="#231f20" stroke-width="0.9" />
<text x="417.30" y="248.70" font-size="8.0" fill="#231f20" textLength="20.00" lengthAdjust="spacingAndGlyphs"  stroke="#231f20" stroke-width="0.15">AAAA</text>
<line x1="15.20" y1="457.40" x2="17.80" y2="457.40" stroke="#231f20" stroke-width="0.9" />
<line x1="86.80" y1="457.40" x2="89.80" y2="457.40" stroke="#231f20" stroke-width="0.9" />
<rect x="17.80" y="451.80" width="25.70" height="10.80" fill="#5fa63c" stroke="#231f20" stroke-width="0.9" />
<text x="30.65" y="460.00" font-size="7.8" fill="#231f20" text-anchor="middle" textLength="15.60" lengthAdjust="spacingAndGlyphs"  stroke="#231f20" stroke-width="0.15">FLuc</text>
<rect x="43.50" y="451.80" width="15.90" height="10.80" fill="#e28a1c" stroke="#231f20" stroke-width="0.9" />
<text x="51.45" y="460.00" font-size="6.2" fill="#231f20" text-anchor="middle" textLength="10.60" lengthAdjust="spacingAndGlyphs"  stroke="#231f20" stroke-width="0.1">P2A</text>
<rect x="59.40" y="451.80" width="27.40" height="10.80" fill="#f0bd1f" stroke="#231f20" stroke-width="0.9" />
<text x="73.10" y="460.00" font-size="7.8" fill="#231f20" text-anchor="middle" textLength="16.00" lengthAdjust="spacingAndGlyphs"  stroke="#231f20" stroke-width="0.15">RLuc</text>
<path d="M17.50 451.80V444.30H27.40" fill="none" stroke="#231f20" stroke-width="1.0"/>
<path d="M26.20 441.90L30.20 444.30L26.20 446.70Z" fill="#231f20"/>
<text x="46.30" y="439.80" font-size="8.2" fill="#231f20" textLength="23.90" lengthAdjust="spacingAndGlyphs"  stroke="#231f20" stroke-width="0.15">pCI6.20</text>
<text x="45.10" y="447.10" font-size="8.2" fill="#231f20" textLength="9.20" lengthAdjust="spacingAndGlyphs"  stroke="#231f20" stroke-width="0.15">Gly</text>
<path d="M58.10 441.80 L60.10 443.20 L57.90 444.60 L60.10 446.20 L58.50 447.60 L58.70 449.60" fill="none" stroke="#231f20" stroke-width="1.25" stroke-linejoin="round"/>
<path d="M57.30 448.80L60.10 448.80L58.70 451.20Z" fill="#231f20"/>
<text x="64.40" y="447.10" font-size="8.2" fill="#231f20" textLength="10.50" lengthAdjust="spacingAndGlyphs"  stroke="#231f20" stroke-width="0.15">Pro</text>
<line x1="95.90" y1="457.40" x2="98.80" y2="457.40" stroke="#231f20" stroke-width="0.9" />
<line x1="167.50" y1="457.40" x2="170.20" y2="457.40" stroke="#231f20" stroke-width="0.9" />
<rect x="98.80" y="451.80" width="25.50" height="10.80" fill="#5fa63c" stroke="#231f20" stroke-width="0.9" />
<text x="111.55" y="460.00" font-size="7.8" fill="#231f20" text-anchor="middle" textLength="15.60" lengthAdjust="spacingAndGlyphs"  stroke="#231f20" stroke-width="0.15">FLuc</text>
<rect x="124.30" y="451.80" width="16.30" height="10.80" fill="#e28a1c" stroke="#231f20" stroke-width="0.9" />
<text x="132.45" y="460.00" font-size="6.2" fill="#231f20" text-anchor="middle" textLength="10.60" lengthAdjust="spacingAndGlyphs"  stroke="#231f20" stroke-width="0.1">P2A</text>
<rect x="140.60" y="451.80" width="26.90" height="10.80" fill="#f0bd1f" stroke="#231f20" stroke-width="0.9" />
<text x="154.05" y="460.00" font-size="7.8" fill="#231f20" text-anchor="middle" textLength="16.00" lengthAdjust="spacingAndGlyphs"  stroke="#231f20" stroke-width="0.15">RLuc</text>
<path d="M98.50 451.80V444.30H108.40" fill="none" stroke="#231f20" stroke-width="1.0"/>
<path d="M107.20 441.90L111.20 444.30L107.20 446.70Z" fill="#231f20"/>
<text x="99.80" y="439.80" font-size="8.2" fill="#231f20" textLength="23.90" lengthAdjust="spacingAndGlyphs"  stroke="#231f20" stroke-width="0.15">pCI6.20</text>
<text x="134.00" y="439.80" font-size="8.2" fill="#231f20" textLength="37.00" lengthAdjust="spacingAndGlyphs"  stroke="#231f20" stroke-width="0.15">K529N A>C</text>
<text x="124.60" y="447.10" font-size="8.2" fill="#231f20" textLength="9.20" lengthAdjust="spacingAndGlyphs"  stroke="#231f20" stroke-width="0.15">Gly</text>
<path d="M139.10 441.80 L141.10 443.20 L138.90 444.60 L141.10 446.20 L139.50 447.60 L139.70 449.60" fill="none" stroke="#231f20" stroke-width="1.25" stroke-linejoin="round"/>
<path d="M138.30 448.80L141.10 448.80L139.70 451.20Z" fill="#231f20"/>
<text x="145.50" y="447.10" font-size="8.2" fill="#231f20" textLength="10.50" lengthAdjust="spacingAndGlyphs"  stroke="#231f20" stroke-width="0.15">Pro</text>
<line x1="120.00" y1="462.60" x2="120.00" y2="466.50" stroke="#231f20" stroke-width="0.9" />
<text x="119.60" y="475.00" font-size="8.2" fill="#231f20" text-anchor="middle" textLength="20.60" lengthAdjust="spacingAndGlyphs"  stroke="#231f20" stroke-width="0.15">K529N</text>
<text x="120.00" y="486.00" font-size="8.2" fill="#231f20" text-anchor="middle" textLength="33.00" lengthAdjust="spacingAndGlyphs"  stroke="#231f20" stroke-width="0.15">AAA>AAC</text>
<line x1="178.90" y1="457.40" x2="181.50" y2="457.40" stroke="#231f20" stroke-width="0.9" />
<line x1="250.00" y1="457.40" x2="252.70" y2="457.40" stroke="#231f20" stroke-width="0.9" />
<rect x="181.50" y="451.80" width="26.10" height="10.80" fill="#5fa63c" stroke="#231f20" stroke-width="0.9" />
<text x="194.55" y="460.00" font-size="7.8" fill="#231f20" text-anchor="middle" textLength="15.60" lengthAdjust="spacingAndGlyphs"  stroke="#231f20" stroke-width="0.15">FLuc</text>
<rect x="207.60" y="451.80" width="15.70" height="10.80" fill="#e28a1c" stroke="#231f20" stroke-width="0.9" />
<text x="215.45" y="460.00" font-size="6.2" fill="#231f20" text-anchor="middle" textLength="10.60" lengthAdjust="spacingAndGlyphs"  stroke="#231f20" stroke-width="0.1">P2A</text>
<rect x="223.30" y="451.80" width="26.70" height="10.80" fill="#f0bd1f" stroke="#231f20" stroke-width="0.9" />
<text x="236.65" y="460.00" font-size="7.8" fill="#231f20" text-anchor="middle" textLength="16.00" lengthAdjust="spacingAndGlyphs"  stroke="#231f20" stroke-width="0.15">RLuc</text>
<path d="M181.20 451.80V444.30H191.10" fill="none" stroke="#231f20" stroke-width="1.0"/>
<path d="M189.90 441.90L193.90 444.30L189.90 446.70Z" fill="#231f20"/>
<text x="184.00" y="439.80" font-size="8.2" fill="#231f20" textLength="23.90" lengthAdjust="spacingAndGlyphs"  stroke="#231f20" stroke-width="0.15">pCI6.20</text>
<text x="216.80" y="439.80" font-size="8.2" fill="#231f20" textLength="36.00" lengthAdjust="spacingAndGlyphs"  stroke="#231f20" stroke-width="0.15">K529N A>T</text>
<text x="207.80" y="447.10" font-size="8.2" fill="#231f20" textLength="9.20" lengthAdjust="spacingAndGlyphs"  stroke="#231f20" stroke-width="0.15">Gly</text>
<path d="M222.10 441.80 L224.10 443.20 L221.90 444.60 L224.10 446.20 L222.50 447.60 L222.70 449.60" fill="none" stroke="#231f20" stroke-width="1.25" stroke-linejoin="round"/>
<path d="M221.30 448.80L224.10 448.80L222.70 451.20Z" fill="#231f20"/>
<text x="228.60" y="447.10" font-size="8.2" fill="#231f20" textLength="10.50" lengthAdjust="spacingAndGlyphs"  stroke="#231f20" stroke-width="0.15">Pro</text>
<line x1="203.70" y1="462.60" x2="203.70" y2="466.50" stroke="#231f20" stroke-width="0.9" />
<text x="203.30" y="475.00" font-size="8.2" fill="#231f20" text-anchor="middle" textLength="20.60" lengthAdjust="spacingAndGlyphs"  stroke="#231f20" stroke-width="0.15">K529N</text>
<text x="203.70" y="486.00" font-size="8.2" fill="#231f20" text-anchor="middle" textLength="33.00" lengthAdjust="spacingAndGlyphs"  stroke="#231f20" stroke-width="0.15">AAA>AAT</text>
<rect x="41.40" y="559.90" width="5.30" height="39.60" fill="#8a9dc2" />
<line x1="44.05" y1="559.90" x2="44.05" y2="552.38" stroke="#231f20" stroke-width="0.9" />
<line x1="42.65" y1="552.38" x2="45.45" y2="552.38" stroke="#231f20" stroke-width="1.0" />
<rect x="47.85" y="559.90" width="5.30" height="39.60" fill="#c2cde2" />
<line x1="50.50" y1="559.90" x2="50.50" y2="551.19" stroke="#231f20" stroke-width="0.9" />
<line x1="49.10" y1="551.19" x2="51.90" y2="551.19" stroke="#231f20" stroke-width="1.0" />
<rect x="54.30" y="559.50" width="5.30" height="40.00" fill="#2b4783" />
<line x1="56.95" y1="559.50" x2="56.95" y2="550.79" stroke="#231f20" stroke-width="0.9" />
<line x1="55.55" y1="550.79" x2="58.35" y2="550.79" stroke="#231f20" stroke-width="1.0" />
<line x1="50.50" y1="599.50" x2="50.50" y2="602.10" stroke="#231f20" stroke-width="0.9" />
<rect x="64.25" y="559.90" width="5.30" height="39.60" fill="#a8d092" />
<line x1="66.90" y1="559.90" x2="66.90" y2="556.34" stroke="#231f20" stroke-width="0.9" />
<line x1="65.50" y1="556.34" x2="68.30" y2="556.34" stroke="#231f20" stroke-width="1.0" />
<rect x="70.70" y="561.88" width="5.30" height="37.62" fill="#cfe5c2" />
<line x1="73.35" y1="561.88" x2="73.35" y2="557.13" stroke="#231f20" stroke-width="0.9" />
<line x1="71.95" y1="557.13" x2="74.75" y2="557.13" stroke="#231f20" stroke-width="1.0" />
<rect x="77.15" y="564.26" width="5.30" height="35.24" fill="#5fa23b" />
<line x1="79.80" y1="564.26" x2="79.80" y2="559.11" stroke="#231f20" stroke-width="0.9" />
<line x1="78.40" y1="559.11" x2="81.20" y2="559.11" stroke="#231f20" stroke-width="1.0" />
<line x1="73.35" y1="599.50" x2="73.35" y2="602.10" stroke="#231f20" stroke-width="0.9" />
<rect x="87.10" y="559.90" width="5.30" height="39.60" fill="#89a999" />
<line x1="89.75" y1="559.90" x2="89.75" y2="557.13" stroke="#231f20" stroke-width="0.9" />
<line x1="88.35" y1="557.13" x2="91.15" y2="557.13" stroke="#231f20" stroke-width="1.0" />
<rect x="93.55" y="561.09" width="5.30" height="38.41" fill="#c1d5cc" />
<line x1="96.20" y1="561.09" x2="96.20" y2="558.32" stroke="#231f20" stroke-width="0.9" />
<line x1="94.80" y1="558.32" x2="97.60" y2="558.32" stroke="#231f20" stroke-width="1.0" />
<rect x="100.00" y="560.69" width="5.30" height="38.81" fill="#2f6549" />
<line x1="102.65" y1="560.69" x2="102.65" y2="555.54" stroke="#231f20" stroke-width="0.9" />
<line x1="101.25" y1="555.54" x2="104.05" y2="555.54" stroke="#231f20" stroke-width="1.0" />
<line x1="96.20" y1="599.50" x2="96.20" y2="602.10" stroke="#231f20" stroke-width="0.9" />
<rect x="109.95" y="559.90" width="5.30" height="39.60" fill="#f4d57e" />
<line x1="112.60" y1="559.90" x2="112.60" y2="556.73" stroke="#231f20" stroke-width="0.9" />
<line x1="111.20" y1="556.73" x2="114.00" y2="556.73" stroke="#231f20" stroke-width="1.0" />
<rect x="116.40" y="564.26" width="5.30" height="35.24" fill="#f8e9ba" />
<line x1="119.05" y1="564.26" x2="119.05" y2="560.30" stroke="#231f20" stroke-width="0.9" />
<line x1="117.65" y1="560.30" x2="120.45" y2="560.30" stroke="#231f20" stroke-width="1.0" />
<rect x="122.85" y="561.09" width="5.30" height="38.41" fill="#e8b91a" />
<line x1="125.50" y1="561.09" x2="125.50" y2="556.34" stroke="#231f20" stroke-width="0.9" />
<line x1="124.10" y1="556.34" x2="126.90" y2="556.34" stroke="#231f20" stroke-width="1.0" />
<line x1="119.05" y1="599.50" x2="119.05" y2="602.10" stroke="#231f20" stroke-width="0.9" />
<rect x="132.80" y="559.90" width="5.30" height="39.60" fill="#ebbd82" />
<line x1="135.45" y1="559.90" x2="135.45" y2="557.92" stroke="#231f20" stroke-width="0.9" />
<line x1="134.05" y1="557.92" x2="136.85" y2="557.92" stroke="#231f20" stroke-width="1.0" />
<rect x="139.25" y="563.86" width="5.30" height="35.64" fill="#f5dcc0" />
<line x1="141.90" y1="563.86" x2="141.90" y2="559.90" stroke="#231f20" stroke-width="0.9" />
<line x1="140.50" y1="559.90" x2="143.30" y2="559.90" stroke="#231f20" stroke-width="1.0" />
<rect x="145.70" y="565.84" width="5.30" height="33.66" fill="#df8a1b" />
<line x1="148.35" y1="565.84" x2="148.35" y2="561.48" stroke="#231f20" stroke-width="0.9" />
<line x1="146.95" y1="561.48" x2="149.75" y2="561.48" stroke="#231f20" stroke-width="1.0" />
<line x1="141.90" y1="599.50" x2="141.90" y2="602.10" stroke="#231f20" stroke-width="0.9" />
<rect x="155.65" y="559.90" width="5.30" height="39.60" fill="#cc6881" />
<line x1="158.30" y1="559.90" x2="158.30" y2="553.96" stroke="#231f20" stroke-width="0.9" />
<line x1="156.90" y1="553.96" x2="159.70" y2="553.96" stroke="#231f20" stroke-width="1.0" />
<rect x="162.10" y="520.70" width="5.30" height="78.80" fill="#e8b3c3" />
<line x1="164.75" y1="520.70" x2="164.75" y2="509.61" stroke="#231f20" stroke-width="0.9" />
<line x1="163.35" y1="509.61" x2="166.15" y2="509.61" stroke="#231f20" stroke-width="1.0" />
<rect x="168.55" y="530.60" width="5.30" height="68.90" fill="#a8032f" />
<line x1="171.20" y1="530.60" x2="171.20" y2="524.26" stroke="#231f20" stroke-width="0.9" />
<line x1="169.80" y1="524.26" x2="172.60" y2="524.26" stroke="#231f20" stroke-width="1.0" />
<line x1="164.75" y1="599.50" x2="164.75" y2="602.10" stroke="#231f20" stroke-width="0.9" />
<rect x="178.50" y="559.90" width="5.30" height="39.60" fill="#9b81af" />
<line x1="181.15" y1="559.90" x2="181.15" y2="551.98" stroke="#231f20" stroke-width="0.9" />
<line x1="179.75" y1="551.98" x2="182.55" y2="551.98" stroke="#231f20" stroke-width="1.0" />
<rect x="184.95" y="534.95" width="5.30" height="64.55" fill="#d3c5dc" />
<line x1="187.60" y1="534.95" x2="187.60" y2="528.62" stroke="#231f20" stroke-width="0.9" />
<line x1="186.20" y1="528.62" x2="189.00" y2="528.62" stroke="#231f20" stroke-width="1.0" />
<rect x="191.40" y="540.10" width="5.30" height="59.40" fill="#4d2062" />
<line x1="194.05" y1="540.10" x2="194.05" y2="532.58" stroke="#231f20" stroke-width="0.9" />
<line x1="192.65" y1="532.58" x2="195.45" y2="532.58" stroke="#231f20" stroke-width="1.0" />
<line x1="187.60" y1="599.50" x2="187.60" y2="602.10" stroke="#231f20" stroke-width="0.9" />
<rect x="201.35" y="559.90" width="5.30" height="39.60" fill="#bcb8e0" />
<line x1="204.00" y1="559.90" x2="204.00" y2="556.34" stroke="#231f20" stroke-width="0.9" />
<line x1="202.60" y1="556.34" x2="205.40" y2="556.34" stroke="#231f20" stroke-width="1.0" />
<rect x="207.80" y="565.84" width="5.30" height="33.66" fill="#dddbf0" />
<line x1="210.45" y1="565.84" x2="210.45" y2="560.69" stroke="#231f20" stroke-width="0.9" />
<line x1="209.05" y1="560.69" x2="211.85" y2="560.69" stroke="#231f20" stroke-width="1.0" />
<rect x="214.25" y="561.88" width="5.30" height="37.62" fill="#8b86c2" />
<line x1="216.90" y1="561.88" x2="216.90" y2="554.36" stroke="#231f20" stroke-width="0.9" />
<line x1="215.50" y1="554.36" x2="218.30" y2="554.36" stroke="#231f20" stroke-width="1.0" />
<line x1="210.45" y1="599.50" x2="210.45" y2="602.10" stroke="#231f20" stroke-width="0.9" />
<rect x="224.20" y="559.90" width="5.30" height="39.60" fill="#dcdcdd" />
<line x1="226.85" y1="559.90" x2="226.85" y2="555.54" stroke="#231f20" stroke-width="0.9" />
<line x1="225.45" y1="555.54" x2="228.25" y2="555.54" stroke="#231f20" stroke-width="1.0" />
<rect x="230.65" y="570.59" width="5.30" height="28.91" fill="#ececec" />
<line x1="233.30" y1="570.59" x2="233.30" y2="567.42" stroke="#231f20" stroke-width="0.9" />
<line x1="231.90" y1="567.42" x2="234.70" y2="567.42" stroke="#231f20" stroke-width="1.0" />
<rect x="237.10" y="574.16" width="5.30" height="25.34" fill="#c3c3c7" />
<line x1="239.75" y1="574.16" x2="239.75" y2="567.42" stroke="#231f20" stroke-width="0.9" />
<line x1="238.35" y1="567.42" x2="241.15" y2="567.42" stroke="#231f20" stroke-width="1.0" />
<line x1="233.30" y1="599.50" x2="233.30" y2="602.10" stroke="#231f20" stroke-width="0.9" />
<circle cx="161.75" cy="505.80" r="0.95" fill="#231f20"/>
<circle cx="164.75" cy="505.80" r="0.95" fill="#231f20"/>
<circle cx="167.75" cy="505.80" r="0.95" fill="#231f20"/>
<circle cx="170.70" cy="519.30" r="0.95" fill="#231f20"/>
<circle cx="173.70" cy="519.30" r="0.95" fill="#231f20"/>
<circle cx="176.70" cy="519.30" r="0.95" fill="#231f20"/>
<circle cx="185.30" cy="523.80" r="0.95" fill="#231f20"/>
<circle cx="188.30" cy="523.80" r="0.95" fill="#231f20"/>
<circle cx="191.30" cy="523.80" r="0.95" fill="#231f20"/>
<circle cx="193.35" cy="528.80" r="0.95" fill="#231f20"/>
<circle cx="196.35" cy="528.80" r="0.95" fill="#231f20"/>
<circle cx="199.35" cy="528.80" r="0.95" fill="#231f20"/>
<line x1="38.60" y1="498.60" x2="38.60" y2="600.00" stroke="#231f20" stroke-width="1.1" />
<line x1="38.10" y1="599.50" x2="245.00" y2="599.50" stroke="#231f20" stroke-width="1.1" />
<line x1="35.60" y1="599.50" x2="38.60" y2="599.50" stroke="#231f20" stroke-width="0.9" />
<text x="32.30" y="602.40" font-size="8.2" fill="#231f20" text-anchor="end" textLength="9.50" lengthAdjust="spacingAndGlyphs"  stroke="#231f20" stroke-width="0.15">0.0</text>
<line x1="35.60" y1="579.70" x2="38.60" y2="579.70" stroke="#231f20" stroke-width="0.9" />
<text x="32.30" y="582.60" font-size="8.2" fill="#231f20" text-anchor="end" textLength="9.50" lengthAdjust="spacingAndGlyphs"  stroke="#231f20" stroke-width="0.15">0.5</text>
<line x1="35.60" y1="559.90" x2="38.60" y2="559.90" stroke="#231f20" stroke-width="0.9" />
<text x="32.30" y="562.80" font-size="8.2" fill="#231f20" text-anchor="end" textLength="9.50" lengthAdjust="spacingAndGlyphs"  stroke="#231f20" stroke-width="0.15">1.0</text>
<line x1="35.60" y1="540.10" x2="38.60" y2="540.10" stroke="#231f20" stroke-width="0.9" />
<text x="32.30" y="543.00" font-size="8.2" fill="#231f20" text-anchor="end" textLength="9.50" lengthAdjust="spacingAndGlyphs"  stroke="#231f20" stroke-width="0.15">1.5</text>
<line x1="35.60" y1="520.30" x2="38.60" y2="520.30" stroke="#231f20" stroke-width="0.9" />
<text x="32.30" y="523.20" font-size="8.2" fill="#231f20" text-anchor="end" textLength="9.50" lengthAdjust="spacingAndGlyphs"  stroke="#231f20" stroke-width="0.15">2.0</text>
<line x1="35.60" y1="500.50" x2="38.60" y2="500.50" stroke="#231f20" stroke-width="0.9" />
<text x="32.30" y="503.40" font-size="8.2" fill="#231f20" text-anchor="end" textLength="9.50" lengthAdjust="spacingAndGlyphs"  stroke="#231f20" stroke-width="0.15">2.5</text>
<text transform="translate(15.8 549.6) rotate(-90)" font-size="9.9" fill="#231f20" text-anchor="middle" textLength="121.5" lengthAdjust="spacingAndGlyphs" stroke="#231f20" stroke-width="0.15">Normalized firefly/renilla ratio</text>
<rect x="54.10" y="497.90" width="5.10" height="4.80" fill="#6d6e71" />
<text x="65.60" y="503.00" font-size="8.2" fill="#231f20" textLength="25.00" lengthAdjust="spacingAndGlyphs"  stroke="#231f20" stroke-width="0.15">pCI6.20</text>
<rect x="54.10" y="509.40" width="5.10" height="4.80" fill="#bcbec0" />
<text x="68.30" y="514.50" font-size="8.2" fill="#231f20" textLength="38.60" lengthAdjust="spacingAndGlyphs"  stroke="#231f20" stroke-width="0.15">K529N A>C</text>
<rect x="54.10" y="520.20" width="5.10" height="4.80" fill="#111111" />
<text x="67.70" y="524.60" font-size="8.2" fill="#231f20" textLength="37.50" lengthAdjust="spacingAndGlyphs"  stroke="#231f20" stroke-width="0.15">K529N A>T</text>
<g transform="rotate(-45 53.70 612.50)"><text x="7.80" y="612.50" font-size="8.3" fill="#231f20" textLength="36.90" lengthAdjust="spacingAndGlyphs" stroke="#231f20" stroke-width="0.15">GFP-RPS15</text><text x="45.10" y="608.90" font-size="5.30" fill="#231f20" textLength="8.60" lengthAdjust="spacingAndGlyphs" stroke="#231f20" stroke-width="0.1">WT</text></g>
<g transform="rotate(-45 76.55 612.50)"><text x="22.25" y="612.50" font-size="8.3" fill="#231f20" textLength="36.90" lengthAdjust="spacingAndGlyphs" stroke="#231f20" stroke-width="0.15">GFP-RPS15</text><text x="59.55" y="608.90" font-size="5.30" fill="#231f20" textLength="17.00" lengthAdjust="spacingAndGlyphs" stroke="#231f20" stroke-width="0.1">P131S</text></g>
<g transform="rotate(-45 99.40 612.50)"><text x="45.10" y="612.50" font-size="8.3" fill="#231f20" textLength="36.90" lengthAdjust="spacingAndGlyphs" stroke="#231f20" stroke-width="0.15">GFP-RPS15</text><text x="82.40" y="608.90" font-size="5.30" fill="#231f20" textLength="17.00" lengthAdjust="spacingAndGlyphs" stroke="#231f20" stroke-width="0.1">G132S</text></g>
<g transform="rotate(-45 122.25 612.50)"><text x="67.95" y="612.50" font-size="8.3" fill="#231f20" textLength="36.90" lengthAdjust="spacingAndGlyphs" stroke="#231f20" stroke-width="0.15">GFP-RPS15</text><text x="105.25" y="608.90" font-size="5.30" fill="#231f20" textLength="17.00" lengthAdjust="spacingAndGlyphs" stroke="#231f20" stroke-width="0.1">G134R</text></g>
<g transform="rotate(-45 145.10 612.50)"><text x="90.80" y="612.50" font-size="8.3" fill="#231f20" textLength="36.90" lengthAdjust="spacingAndGlyphs" stroke="#231f20" stroke-width="0.15">GFP-RPS15</text><text x="128.10" y="608.90" font-size="5.30" fill="#231f20" textLength="17.00" lengthAdjust="spacingAndGlyphs" stroke="#231f20" stroke-width="0.1">T136A</text></g>
<g transform="rotate(-45 167.95 612.50)"><text x="113.65" y="612.50" font-size="8.3" fill="#231f20" textLength="36.90" lengthAdjust="spacingAndGlyphs" stroke="#231f20" stroke-width="0.15">GFP-RPS15</text><text x="150.95" y="608.90" font-size="5.30" fill="#231f20" textLength="17.00" lengthAdjust="spacingAndGlyphs" stroke="#231f20" stroke-width="0.1">H137Y</text></g>
<g transform="rotate(-45 190.80 612.50)"><text x="136.50" y="612.50" font-size="8.3" fill="#231f20" textLength="36.90" lengthAdjust="spacingAndGlyphs" stroke="#231f20" stroke-width="0.15">GFP-RPS15</text><text x="173.80" y="608.90" font-size="5.30" fill="#231f20" textLength="17.00" lengthAdjust="spacingAndGlyphs" stroke="#231f20" stroke-width="0.1">S138F</text></g>
<g transform="rotate(-45 213.65 612.50)"><text x="159.35" y="612.50" font-size="8.3" fill="#231f20" textLength="36.90" lengthAdjust="spacingAndGlyphs" stroke="#231f20" stroke-width="0.15">GFP-RPS15</text><text x="196.65" y="608.90" font-size="5.30" fill="#231f20" textLength="17.00" lengthAdjust="spacingAndGlyphs" stroke="#231f20" stroke-width="0.1">S139F</text></g>
<g transform="rotate(-45 236.50 612.50)"><text x="182.20" y="612.50" font-size="8.3" fill="#231f20" textLength="36.90" lengthAdjust="spacingAndGlyphs" stroke="#231f20" stroke-width="0.15">GFP-RPS15</text><text x="219.50" y="608.90" font-size="5.30" fill="#231f20" textLength="17.00" lengthAdjust="spacingAndGlyphs" stroke="#231f20" stroke-width="0.1">K145N</text></g>
<line x1="272.50" y1="457.40" x2="275.50" y2="457.40" stroke="#231f20" stroke-width="0.9" />
<line x1="301.30" y1="457.40" x2="303.50" y2="457.40" stroke="#231f20" stroke-width="0.9" />
<line x1="319.10" y1="457.40" x2="321.30" y2="457.40" stroke="#231f20" stroke-width="0.9" />
<line x1="348.80" y1="457.40" x2="353.80" y2="457.40" stroke="#231f20" stroke-width="0.9" />
<rect x="275.50" y="451.80" width="25.80" height="10.80" fill="#5fa63c" stroke="#231f20" stroke-width="0.9" />
<text x="288.40" y="460.00" font-size="7.8" fill="#231f20" text-anchor="middle" textLength="15.60" lengthAdjust="spacingAndGlyphs"  stroke="#231f20" stroke-width="0.15">FLuc</text>
<rect x="321.30" y="451.80" width="27.50" height="10.80" fill="#f0bd1f" stroke="#231f20" stroke-width="0.9" />
<text x="335.05" y="460.00" font-size="7.8" fill="#231f20" text-anchor="middle" textLength="16.00" lengthAdjust="spacingAndGlyphs"  stroke="#231f20" stroke-width="0.15">RLuc</text>
<path d="M275.30 451.80V445.20H285.30" fill="none" stroke="#231f20" stroke-width="1.0"/>
<path d="M284.10 442.80L288.10 445.20L284.10 447.60Z" fill="#231f20"/>
<text x="305.80" y="460.60" font-size="6.6" fill="#58595b" textLength="11.20" lengthAdjust="spacingAndGlyphs"  stroke="#58595b" stroke-width="0.15">TAC</text>
<path d="M305.80 462.60 q0 1.6 1.6 1.6 H310.40 q1 0 1 1.2 q0 -1.2 1 -1.2 H315.40 q1.6 0 1.6 -1.6" fill="none" stroke="#231f20" stroke-width="0.8"/>
<text x="288.00" y="439.80" font-size="8.2" fill="#231f20" textLength="24.00" lengthAdjust="spacingAndGlyphs"  stroke="#231f20" stroke-width="0.15">pCI6.20</text>
<text x="318.00" y="439.80" font-size="8.2" fill="#231f20" textLength="27.00" lengthAdjust="spacingAndGlyphs"  stroke="#231f20" stroke-width="0.15">RFfusion</text>
<text x="311.30" y="475.20" font-size="8.2" fill="#231f20" text-anchor="middle" textLength="10.00" lengthAdjust="spacingAndGlyphs"  stroke="#231f20" stroke-width="0.15">Tyr</text>
<line x1="353.80" y1="457.40" x2="357.30" y2="457.40" stroke="#231f20" stroke-width="0.9" />
<line x1="382.90" y1="457.40" x2="385.10" y2="457.40" stroke="#231f20" stroke-width="0.9" />
<line x1="400.60" y1="457.40" x2="402.80" y2="457.40" stroke="#231f20" stroke-width="0.9" />
<line x1="429.60" y1="457.40" x2="432.70" y2="457.40" stroke="#231f20" stroke-width="0.9" />
<rect x="357.30" y="451.80" width="25.60" height="10.80" fill="#5fa63c" stroke="#231f20" stroke-width="0.9" />
<text x="370.10" y="460.00" font-size="7.8" fill="#231f20" text-anchor="middle" textLength="15.60" lengthAdjust="spacingAndGlyphs"  stroke="#231f20" stroke-width="0.15">FLuc</text>
<rect x="402.80" y="451.80" width="26.80" height="10.80" fill="#f0bd1f" stroke="#231f20" stroke-width="0.9" />
<text x="416.20" y="460.00" font-size="7.8" fill="#231f20" text-anchor="middle" textLength="16.00" lengthAdjust="spacingAndGlyphs"  stroke="#231f20" stroke-width="0.15">RLuc</text>
<path d="M357.10 451.80V445.20H367.10" fill="none" stroke="#231f20" stroke-width="1.0"/>
<path d="M365.90 442.80L369.90 445.20L365.90 447.60Z" fill="#231f20"/>
<text x="387.20" y="460.60" font-size="6.6" fill="#58595b" textLength="7.17" lengthAdjust="spacingAndGlyphs"  stroke="#58595b" stroke-width="0.15">TA</text>
<text x="394.59" y="460.60" font-size="6.6" fill="#c4325c" textLength="3.81" lengthAdjust="spacingAndGlyphs"  stroke="#c4325c" stroke-width="0.15">A</text>
<path d="M387.20 462.60 q0 1.6 1.6 1.6 H391.80 q1 0 1 1.2 q0 -1.2 1 -1.2 H396.80 q1.6 0 1.6 -1.6" fill="none" stroke="#231f20" stroke-width="0.8"/>
<text x="368.00" y="439.80" font-size="8.2" fill="#231f20" textLength="24.00" lengthAdjust="spacingAndGlyphs"  stroke="#231f20" stroke-width="0.15">pCI6.20</text>
<text x="400.60" y="439.80" font-size="8.2" fill="#231f20" textLength="20.60" lengthAdjust="spacingAndGlyphs"  stroke="#231f20" stroke-width="0.15">STOP1</text>
<text x="373.40" y="475.10" font-size="8.2" fill="#c4325c" textLength="38.60" lengthAdjust="spacingAndGlyphs"  stroke="#c4325c" stroke-width="0.15">STOP codon</text>
<line x1="435.60" y1="457.40" x2="438.90" y2="457.40" stroke="#231f20" stroke-width="0.9" />
<line x1="464.40" y1="457.40" x2="466.60" y2="457.40" stroke="#231f20" stroke-width="0.9" />
<line x1="482.80" y1="457.40" x2="485.00" y2="457.40" stroke="#231f20" stroke-width="0.9" />
<line x1="509.50" y1="457.40" x2="512.40" y2="457.40" stroke="#231f20" stroke-width="0.9" />
<rect x="438.90" y="451.80" width="25.50" height="10.80" fill="#5fa63c" stroke="#231f20" stroke-width="0.9" />
<text x="451.65" y="460.00" font-size="7.8" fill="#231f20" text-anchor="middle" textLength="15.60" lengthAdjust="spacingAndGlyphs"  stroke="#231f20" stroke-width="0.15">FLuc</text>
<rect x="485.00" y="451.80" width="24.50" height="10.80" fill="#f0bd1f" stroke="#231f20" stroke-width="0.9" />
<text x="497.25" y="460.00" font-size="7.8" fill="#231f20" text-anchor="middle" textLength="16.00" lengthAdjust="spacingAndGlyphs"  stroke="#231f20" stroke-width="0.15">RLuc</text>
<path d="M438.70 451.80V445.20H448.70" fill="none" stroke="#231f20" stroke-width="1.0"/>
<path d="M447.50 442.80L451.50 445.20L447.50 447.60Z" fill="#231f20"/>
<text x="468.30" y="460.60" font-size="6.6" fill="#58595b" textLength="7.94" lengthAdjust="spacingAndGlyphs"  stroke="#58595b" stroke-width="0.15">TA</text>
<text x="476.48" y="460.60" font-size="6.6" fill="#c4325c" textLength="4.22" lengthAdjust="spacingAndGlyphs"  stroke="#c4325c" stroke-width="0.15">G</text>
<path d="M468.30 462.60 q0 1.6 1.6 1.6 H473.50 q1 0 1 1.2 q0 -1.2 1 -1.2 H479.10 q1.6 0 1.6 -1.6" fill="none" stroke="#231f20" stroke-width="0.8"/>
<text x="449.70" y="439.80" font-size="8.2" fill="#231f20" textLength="24.00" lengthAdjust="spacingAndGlyphs"  stroke="#231f20" stroke-width="0.15">pCI6.20</text>
<text x="480.70" y="439.80" font-size="8.2" fill="#231f20" textLength="20.60" lengthAdjust="spacingAndGlyphs"  stroke="#231f20" stroke-width="0.15">STOP2</text>
<text x="454.60" y="475.10" font-size="8.2" fill="#c4325c" textLength="39.20" lengthAdjust="spacingAndGlyphs"  stroke="#c4325c" stroke-width="0.15">STOP codon</text>
<rect x="300.00" y="568.55" width="5.30" height="30.75" fill="#8a9dc2" />
<line x1="302.65" y1="568.55" x2="302.65" y2="567.93" stroke="#231f20" stroke-width="0.9" />
<line x1="301.25" y1="567.93" x2="304.05" y2="567.93" stroke="#231f20" stroke-width="1.0" />
<rect x="306.45" y="568.55" width="5.30" height="30.75" fill="#c2cde2" />
<line x1="309.10" y1="568.55" x2="309.10" y2="563.32" stroke="#231f20" stroke-width="0.9" />
<line x1="307.70" y1="563.32" x2="310.50" y2="563.32" stroke="#231f20" stroke-width="1.0" />
<rect x="312.90" y="568.55" width="5.30" height="30.75" fill="#2b4783" />
<line x1="315.55" y1="568.55" x2="315.55" y2="566.70" stroke="#231f20" stroke-width="0.9" />
<line x1="314.15" y1="566.70" x2="316.95" y2="566.70" stroke="#231f20" stroke-width="1.0" />
<line x1="309.10" y1="599.30" x2="309.10" y2="601.90" stroke="#231f20" stroke-width="0.9" />
<rect x="322.85" y="568.55" width="5.30" height="30.75" fill="#a8d092" />
<line x1="325.50" y1="568.55" x2="325.50" y2="565.17" stroke="#231f20" stroke-width="0.9" />
<line x1="324.10" y1="565.17" x2="326.90" y2="565.17" stroke="#231f20" stroke-width="1.0" />
<rect x="329.30" y="575.93" width="5.30" height="23.37" fill="#cfe5c2" />
<line x1="331.95" y1="575.93" x2="331.95" y2="569.16" stroke="#231f20" stroke-width="0.9" />
<line x1="330.55" y1="569.16" x2="333.35" y2="569.16" stroke="#231f20" stroke-width="1.0" />
<rect x="335.75" y="578.39" width="5.30" height="20.91" fill="#5fa23b" />
<line x1="338.40" y1="578.39" x2="338.40" y2="571.62" stroke="#231f20" stroke-width="0.9" />
<line x1="337.00" y1="571.62" x2="339.80" y2="571.62" stroke="#231f20" stroke-width="1.0" />
<line x1="331.95" y1="599.30" x2="331.95" y2="601.90" stroke="#231f20" stroke-width="0.9" />
<rect x="345.70" y="568.55" width="5.30" height="30.75" fill="#89a999" />
<line x1="348.35" y1="568.55" x2="348.35" y2="567.32" stroke="#231f20" stroke-width="0.9" />
<line x1="346.95" y1="567.32" x2="349.75" y2="567.32" stroke="#231f20" stroke-width="1.0" />
<rect x="352.15" y="551.02" width="5.30" height="48.28" fill="#c1d5cc" />
<line x1="354.80" y1="551.02" x2="354.80" y2="548.25" stroke="#231f20" stroke-width="0.9" />
<line x1="353.40" y1="548.25" x2="356.20" y2="548.25" stroke="#231f20" stroke-width="1.0" />
<rect x="358.60" y="557.48" width="5.30" height="41.82" fill="#2f6549" />
<line x1="361.25" y1="557.48" x2="361.25" y2="554.71" stroke="#231f20" stroke-width="0.9" />
<line x1="359.85" y1="554.71" x2="362.65" y2="554.71" stroke="#231f20" stroke-width="1.0" />
<line x1="354.80" y1="599.30" x2="354.80" y2="601.90" stroke="#231f20" stroke-width="0.9" />
<rect x="368.55" y="568.55" width="5.30" height="30.75" fill="#f4d57e" />
<line x1="371.20" y1="568.55" x2="371.20" y2="567.93" stroke="#231f20" stroke-width="0.9" />
<line x1="369.80" y1="567.93" x2="372.60" y2="567.93" stroke="#231f20" stroke-width="1.0" />
<rect x="375.00" y="534.72" width="5.30" height="64.58" fill="#f8e9ba" />
<line x1="377.65" y1="534.72" x2="377.65" y2="525.50" stroke="#231f20" stroke-width="0.9" />
<line x1="376.25" y1="525.50" x2="379.05" y2="525.50" stroke="#231f20" stroke-width="1.0" />
<rect x="381.45" y="522.42" width="5.30" height="76.88" fill="#e8b91a" />
<line x1="384.10" y1="522.42" x2="384.10" y2="504.59" stroke="#231f20" stroke-width="0.9" />
<line x1="382.70" y1="504.59" x2="385.50" y2="504.59" stroke="#231f20" stroke-width="1.0" />
<line x1="377.65" y1="599.30" x2="377.65" y2="601.90" stroke="#231f20" stroke-width="0.9" />
<rect x="391.40" y="568.55" width="5.30" height="30.75" fill="#ebbd82" />
<line x1="394.05" y1="568.55" x2="394.05" y2="567.93" stroke="#231f20" stroke-width="0.9" />
<line x1="392.65" y1="567.93" x2="395.45" y2="567.93" stroke="#231f20" stroke-width="1.0" />
<rect x="397.85" y="527.04" width="5.30" height="72.26" fill="#f5dcc0" />
<line x1="400.50" y1="527.04" x2="400.50" y2="513.51" stroke="#231f20" stroke-width="0.9" />
<line x1="399.10" y1="513.51" x2="401.90" y2="513.51" stroke="#231f20" stroke-width="1.0" />
<rect x="404.30" y="553.17" width="5.30" height="46.12" fill="#df8a1b" />
<line x1="406.95" y1="553.17" x2="406.95" y2="546.41" stroke="#231f20" stroke-width="0.9" />
<line x1="405.55" y1="546.41" x2="408.35" y2="546.41" stroke="#231f20" stroke-width="1.0" />
<line x1="400.50" y1="599.30" x2="400.50" y2="601.90" stroke="#231f20" stroke-width="0.9" />
<rect x="414.25" y="568.55" width="5.30" height="30.75" fill="#cc6881" />
<line x1="416.90" y1="568.55" x2="416.90" y2="567.93" stroke="#231f20" stroke-width="0.9" />
<line x1="415.50" y1="567.93" x2="418.30" y2="567.93" stroke="#231f20" stroke-width="1.0" />
<rect x="420.70" y="547.02" width="5.30" height="52.27" fill="#e8b3c3" />
<line x1="423.35" y1="547.02" x2="423.35" y2="540.88" stroke="#231f20" stroke-width="0.9" />
<line x1="421.95" y1="540.88" x2="424.75" y2="540.88" stroke="#231f20" stroke-width="1.0" />
<rect x="427.15" y="544.87" width="5.30" height="54.43" fill="#a8032f" />
<line x1="429.80" y1="544.87" x2="429.80" y2="532.57" stroke="#231f20" stroke-width="0.9" />
<line x1="428.40" y1="532.57" x2="431.20" y2="532.57" stroke="#231f20" stroke-width="1.0" />
<line x1="423.35" y1="599.30" x2="423.35" y2="601.90" stroke="#231f20" stroke-width="0.9" />
<rect x="437.10" y="568.55" width="5.30" height="30.75" fill="#9b81af" />
<line x1="439.75" y1="568.55" x2="439.75" y2="567.32" stroke="#231f20" stroke-width="0.9" />
<line x1="438.35" y1="567.32" x2="441.15" y2="567.32" stroke="#231f20" stroke-width="1.0" />
<rect x="443.55" y="551.02" width="5.30" height="48.28" fill="#d3c5dc" />
<line x1="446.20" y1="551.02" x2="446.20" y2="543.33" stroke="#231f20" stroke-width="0.9" />
<line x1="444.80" y1="543.33" x2="447.60" y2="543.33" stroke="#231f20" stroke-width="1.0" />
<rect x="450.00" y="558.09" width="5.30" height="41.21" fill="#4d2062" />
<line x1="452.65" y1="558.09" x2="452.65" y2="553.79" stroke="#231f20" stroke-width="0.9" />
<line x1="451.25" y1="553.79" x2="454.05" y2="553.79" stroke="#231f20" stroke-width="1.0" />
<line x1="446.20" y1="599.30" x2="446.20" y2="601.90" stroke="#231f20" stroke-width="0.9" />
<rect x="459.95" y="568.55" width="5.30" height="30.75" fill="#bcb8e0" />
<line x1="462.60" y1="568.55" x2="462.60" y2="567.93" stroke="#231f20" stroke-width="0.9" />
<line x1="461.20" y1="567.93" x2="464.00" y2="567.93" stroke="#231f20" stroke-width="1.0" />
<rect x="466.40" y="582.39" width="5.30" height="16.91" fill="#dddbf0" />
<line x1="469.05" y1="582.39" x2="469.05" y2="578.70" stroke="#231f20" stroke-width="0.9" />
<line x1="467.65" y1="578.70" x2="470.45" y2="578.70" stroke="#231f20" stroke-width="1.0" />
<rect x="472.85" y="569.78" width="5.30" height="29.52" fill="#8b86c2" />
<line x1="475.50" y1="569.78" x2="475.50" y2="559.63" stroke="#231f20" stroke-width="0.9" />
<line x1="474.10" y1="559.63" x2="476.90" y2="559.63" stroke="#231f20" stroke-width="1.0" />
<line x1="469.05" y1="599.30" x2="469.05" y2="601.90" stroke="#231f20" stroke-width="0.9" />
<rect x="482.80" y="568.55" width="5.30" height="30.75" fill="#dcdcdd" />
<line x1="485.45" y1="568.55" x2="485.45" y2="567.93" stroke="#231f20" stroke-width="0.9" />
<line x1="484.05" y1="567.93" x2="486.85" y2="567.93" stroke="#231f20" stroke-width="1.0" />
<rect x="489.25" y="578.39" width="5.30" height="20.91" fill="#ececec" />
<line x1="491.90" y1="578.39" x2="491.90" y2="576.24" stroke="#231f20" stroke-width="0.9" />
<line x1="490.50" y1="576.24" x2="493.30" y2="576.24" stroke="#231f20" stroke-width="1.0" />
<rect x="495.70" y="581.46" width="5.30" height="17.84" fill="#c3c3c7" />
<line x1="498.35" y1="581.46" x2="498.35" y2="578.39" stroke="#231f20" stroke-width="0.9" />
<line x1="496.95" y1="578.39" x2="499.75" y2="578.39" stroke="#231f20" stroke-width="1.0" />
<line x1="491.90" y1="599.30" x2="491.90" y2="601.90" stroke="#231f20" stroke-width="0.9" />
<circle cx="353.30" cy="545.05" r="0.95" fill="#231f20"/>
<circle cx="356.30" cy="545.05" r="0.95" fill="#231f20"/>
<circle cx="374.65" cy="522.30" r="0.95" fill="#231f20"/>
<circle cx="377.65" cy="522.30" r="0.95" fill="#231f20"/>
<circle cx="380.65" cy="522.30" r="0.95" fill="#231f20"/>
<circle cx="381.10" cy="501.39" r="0.95" fill="#231f20"/>
<circle cx="384.10" cy="501.39" r="0.95" fill="#231f20"/>
<circle cx="387.10" cy="501.39" r="0.95" fill="#231f20"/>
<circle cx="397.50" cy="510.31" r="0.95" fill="#231f20"/>
<circle cx="400.50" cy="510.31" r="0.95" fill="#231f20"/>
<circle cx="403.50" cy="510.31" r="0.95" fill="#231f20"/>
<circle cx="405.45" cy="543.21" r="0.95" fill="#231f20"/>
<circle cx="408.45" cy="543.21" r="0.95" fill="#231f20"/>
<circle cx="420.35" cy="537.67" r="0.95" fill="#231f20"/>
<circle cx="423.35" cy="537.67" r="0.95" fill="#231f20"/>
<circle cx="426.35" cy="537.67" r="0.95" fill="#231f20"/>
<circle cx="426.80" cy="529.37" r="0.95" fill="#231f20"/>
<circle cx="429.80" cy="529.37" r="0.95" fill="#231f20"/>
<circle cx="432.80" cy="529.37" r="0.95" fill="#231f20"/>
<circle cx="444.70" cy="540.13" r="0.95" fill="#231f20"/>
<circle cx="447.70" cy="540.13" r="0.95" fill="#231f20"/>
<circle cx="469.05" cy="575.50" r="0.95" fill="#231f20"/>
<line x1="297.50" y1="497.50" x2="297.50" y2="599.80" stroke="#231f20" stroke-width="1.1" />
<line x1="297.00" y1="599.30" x2="503.90" y2="599.30" stroke="#231f20" stroke-width="1.1" />
<line x1="294.50" y1="599.30" x2="297.50" y2="599.30" stroke="#231f20" stroke-width="0.9" />
<text x="291.20" y="602.15" font-size="8.3" fill="#231f20" text-anchor="end" textLength="3.80" lengthAdjust="spacingAndGlyphs"  stroke="#231f20" stroke-width="0.15">0</text>
<line x1="294.50" y1="568.55" x2="297.50" y2="568.55" stroke="#231f20" stroke-width="0.9" />
<text x="291.20" y="571.40" font-size="8.3" fill="#231f20" text-anchor="end" textLength="3.80" lengthAdjust="spacingAndGlyphs"  stroke="#231f20" stroke-width="0.15">1</text>
<line x1="294.50" y1="537.80" x2="297.50" y2="537.80" stroke="#231f20" stroke-width="0.9" />
<text x="291.20" y="540.65" font-size="8.3" fill="#231f20" text-anchor="end" textLength="3.80" lengthAdjust="spacingAndGlyphs"  stroke="#231f20" stroke-width="0.15">2</text>
<line x1="294.50" y1="507.05" x2="297.50" y2="507.05" stroke="#231f20" stroke-width="0.9" />
<text x="291.20" y="509.90" font-size="8.3" fill="#231f20" text-anchor="end" textLength="3.80" lengthAdjust="spacingAndGlyphs"  stroke="#231f20" stroke-width="0.15">3</text>
<text transform="translate(280.4 548.6) rotate(-90)" font-size="9.9" fill="#231f20" text-anchor="middle" textLength="121" lengthAdjust="spacingAndGlyphs" stroke="#231f20" stroke-width="0.15">Normalized renilla/firefly ratio</text>
<rect x="453.80" y="498.20" width="5.00" height="4.80" fill="#6d6e71" />
<text x="462.00" y="503.40" font-size="8.2" fill="#231f20" textLength="27.50" lengthAdjust="spacingAndGlyphs"  stroke="#231f20" stroke-width="0.15">RFfusion</text>
<rect x="453.80" y="509.10" width="5.00" height="4.80" fill="#bcbec0" />
<text x="462.00" y="514.30" font-size="8.2" fill="#231f20" textLength="20.60" lengthAdjust="spacingAndGlyphs"  stroke="#231f20" stroke-width="0.15">STOP1</text>
<rect x="453.80" y="520.80" width="5.00" height="4.80" fill="#111111" />
<text x="462.00" y="526.00" font-size="8.2" fill="#231f20" textLength="20.60" lengthAdjust="spacingAndGlyphs"  stroke="#231f20" stroke-width="0.15">STOP2</text>
<g transform="rotate(-45 312.30 612.50)"><text x="266.40" y="612.50" font-size="8.3" fill="#231f20" textLength="36.90" lengthAdjust="spacingAndGlyphs" stroke="#231f20" stroke-width="0.15">GFP-RPS15</text><text x="303.70" y="608.90" font-size="5.30" fill="#231f20" textLength="8.60" lengthAdjust="spacingAndGlyphs" stroke="#231f20" stroke-width="0.1">WT</text></g>
<g transform="rotate(-45 335.15 612.50)"><text x="280.85" y="612.50" font-size="8.3" fill="#231f20" textLength="36.90" lengthAdjust="spacingAndGlyphs" stroke="#231f20" stroke-width="0.15">GFP-RPS15</text><text x="318.15" y="608.90" font-size="5.30" fill="#231f20" textLength="17.00" lengthAdjust="spacingAndGlyphs" stroke="#231f20" stroke-width="0.1">P131S</text></g>
<g transform="rotate(-45 358.00 612.50)"><text x="303.70" y="612.50" font-size="8.3" fill="#231f20" textLength="36.90" lengthAdjust="spacingAndGlyphs" stroke="#231f20" stroke-width="0.15">GFP-RPS15</text><text x="341.00" y="608.90" font-size="5.30" fill="#231f20" textLength="17.00" lengthAdjust="spacingAndGlyphs" stroke="#231f20" stroke-width="0.1">G132S</text></g>
<g transform="rotate(-45 380.85 612.50)"><text x="326.55" y="612.50" font-size="8.3" fill="#231f20" textLength="36.90" lengthAdjust="spacingAndGlyphs" stroke="#231f20" stroke-width="0.15">GFP-RPS15</text><text x="363.85" y="608.90" font-size="5.30" fill="#231f20" textLength="17.00" lengthAdjust="spacingAndGlyphs" stroke="#231f20" stroke-width="0.1">G134R</text></g>
<g transform="rotate(-45 403.70 612.50)"><text x="349.40" y="612.50" font-size="8.3" fill="#231f20" textLength="36.90" lengthAdjust="spacingAndGlyphs" stroke="#231f20" stroke-width="0.15">GFP-RPS15</text><text x="386.70" y="608.90" font-size="5.30" fill="#231f20" textLength="17.00" lengthAdjust="spacingAndGlyphs" stroke="#231f20" stroke-width="0.1">T136A</text></g>
<g transform="rotate(-45 426.55 612.50)"><text x="372.25" y="612.50" font-size="8.3" fill="#231f20" textLength="36.90" lengthAdjust="spacingAndGlyphs" stroke="#231f20" stroke-width="0.15">GFP-RPS15</text><text x="409.55" y="608.90" font-size="5.30" fill="#231f20" textLength="17.00" lengthAdjust="spacingAndGlyphs" stroke="#231f20" stroke-width="0.1">H137Y</text></g>
<g transform="rotate(-45 449.40 612.50)"><text x="395.10" y="612.50" font-size="8.3" fill="#231f20" textLength="36.90" lengthAdjust="spacingAndGlyphs" stroke="#231f20" stroke-width="0.15">GFP-RPS15</text><text x="432.40" y="608.90" font-size="5.30" fill="#231f20" textLength="17.00" lengthAdjust="spacingAndGlyphs" stroke="#231f20" stroke-width="0.1">S138F</text></g>
<g transform="rotate(-45 472.25 612.50)"><text x="417.95" y="612.50" font-size="8.3" fill="#231f20" textLength="36.90" lengthAdjust="spacingAndGlyphs" stroke="#231f20" stroke-width="0.15">GFP-RPS15</text><text x="455.25" y="608.90" font-size="5.30" fill="#231f20" textLength="17.00" lengthAdjust="spacingAndGlyphs" stroke="#231f20" stroke-width="0.1">S139F</text></g>
<g transform="rotate(-45 495.10 612.50)"><text x="440.80" y="612.50" font-size="8.3" fill="#231f20" textLength="36.90" lengthAdjust="spacingAndGlyphs" stroke="#231f20" stroke-width="0.15">GFP-RPS15</text><text x="478.10" y="608.90" font-size="5.30" fill="#231f20" textLength="17.00" lengthAdjust="spacingAndGlyphs" stroke="#231f20" stroke-width="0.1">K145N</text></g>
<text x="39.60" y="222.90" font-size="8.2" fill="#231f20" textLength="78.40" lengthAdjust="spacingAndGlyphs"  stroke="#231f20" stroke-width="0.15">HEK293T SgRNA-RPS15</text>
<text x="119.90" y="222.90" font-size="8.2" fill="#231f20" textLength="4.60" lengthAdjust="spacingAndGlyphs"  stroke="#231f20" stroke-width="0.15">+</text>
<text x="127.50" y="219.20" font-size="5.6" fill="#231f20" textLength="4.80" lengthAdjust="spacingAndGlyphs"  stroke="#231f20" stroke-width="0.1">35</text>
<text x="132.40" y="222.90" font-size="8.2" fill="#231f20" textLength="35.60" lengthAdjust="spacingAndGlyphs"  stroke="#231f20" stroke-width="0.15">S-Met/Cys</text>
<line x1="12.90" y1="227.70" x2="202.60" y2="227.70" stroke="#231f20" stroke-width="1.0" />
<g><text x="18.10" y="240.80" font-size="8.2" fill="#231f20" textLength="36.50" lengthAdjust="spacingAndGlyphs" stroke="#231f20" stroke-width="0.15">GFP-RPS15</text><text x="55.00" y="236.50" font-size="4.80" fill="#231f20" textLength="7.10" lengthAdjust="spacingAndGlyphs" stroke="#231f20" stroke-width="0.1">WT</text></g>
<line x1="14.20" y1="244.60" x2="70.60" y2="244.60" stroke="#231f20" stroke-width="1.0" />
<g><text x="78.70" y="240.80" font-size="8.2" fill="#231f20" textLength="36.50" lengthAdjust="spacingAndGlyphs" stroke="#231f20" stroke-width="0.15">GFP-RPS15</text><text x="115.60" y="236.50" font-size="4.80" fill="#231f20" textLength="15.20" lengthAdjust="spacingAndGlyphs" stroke="#231f20" stroke-width="0.1">P131S</text></g>
<line x1="72.90" y1="244.60" x2="138.30" y2="244.60" stroke="#231f20" stroke-width="1.0" />
<g><text x="145.00" y="240.80" font-size="8.2" fill="#231f20" textLength="36.50" lengthAdjust="spacingAndGlyphs" stroke="#231f20" stroke-width="0.15">GFP-RPS15</text><text x="181.90" y="236.50" font-size="4.80" fill="#231f20" textLength="15.20" lengthAdjust="spacingAndGlyphs" stroke="#231f20" stroke-width="0.1">S138F</text></g>
<line x1="143.00" y1="244.60" x2="202.60" y2="244.60" stroke="#231f20" stroke-width="1.0" />
<text transform="translate(20.20 257.4) rotate(-90)" font-size="8.6" fill="#231f20" textLength="5.4" lengthAdjust="spacingAndGlyphs" stroke="#231f20" stroke-width="0.15">0′</text>
<text transform="translate(32.80 257.4) rotate(-90)" font-size="8.6" fill="#231f20" textLength="9.2" lengthAdjust="spacingAndGlyphs" stroke="#231f20" stroke-width="0.15">15′</text>
<text transform="translate(45.50 257.4) rotate(-90)" font-size="8.6" fill="#231f20" textLength="9.2" lengthAdjust="spacingAndGlyphs" stroke="#231f20" stroke-width="0.15">30′</text>
<text transform="translate(58.50 257.4) rotate(-90)" font-size="8.6" fill="#231f20" textLength="9.2" lengthAdjust="spacingAndGlyphs" stroke="#231f20" stroke-width="0.15">45′</text>
<text transform="translate(71.50 257.4) rotate(-90)" font-size="8.6" fill="#231f20" textLength="9.2" lengthAdjust="spacingAndGlyphs" stroke="#231f20" stroke-width="0.15">60′</text>
<text transform="translate(84.50 257.4) rotate(-90)" font-size="8.6" fill="#231f20" textLength="5.4" lengthAdjust="spacingAndGlyphs" stroke="#231f20" stroke-width="0.15">0′</text>
<text transform="translate(97.40 257.4) rotate(-90)" font-size="8.6" fill="#231f20" textLength="9.2" lengthAdjust="spacingAndGlyphs" stroke="#231f20" stroke-width="0.15">15′</text>
<text transform="translate(110.30 257.4) rotate(-90)" font-size="8.6" fill="#231f20" textLength="9.2" lengthAdjust="spacingAndGlyphs" stroke="#231f20" stroke-width="0.15">30′</text>
<text transform="translate(123.30 257.4) rotate(-90)" font-size="8.6" fill="#231f20" textLength="9.2" lengthAdjust="spacingAndGlyphs" stroke="#231f20" stroke-width="0.15">45′</text>
<text transform="translate(136.20 257.4) rotate(-90)" font-size="8.6" fill="#231f20" textLength="9.2" lengthAdjust="spacingAndGlyphs" stroke="#231f20" stroke-width="0.15">60′</text>
<text transform="translate(148.90 257.4) rotate(-90)" font-size="8.6" fill="#231f20" textLength="5.4" lengthAdjust="spacingAndGlyphs" stroke="#231f20" stroke-width="0.15">0′</text>
<text transform="translate(162.10 257.4) rotate(-90)" font-size="8.6" fill="#231f20" textLength="9.2" lengthAdjust="spacingAndGlyphs" stroke="#231f20" stroke-width="0.15">15′</text>
<text transform="translate(174.90 257.4) rotate(-90)" font-size="8.6" fill="#231f20" textLength="9.2" lengthAdjust="spacingAndGlyphs" stroke="#231f20" stroke-width="0.15">30′</text>
<text transform="translate(187.90 257.4) rotate(-90)" font-size="8.6" fill="#231f20" textLength="9.2" lengthAdjust="spacingAndGlyphs" stroke="#231f20" stroke-width="0.15">45′</text>
<text transform="translate(201.30 257.4) rotate(-90)" font-size="8.6" fill="#231f20" textLength="9.2" lengthAdjust="spacingAndGlyphs" stroke="#231f20" stroke-width="0.15">60′</text>
<text x="211.20" y="256.70" font-size="8.2" fill="#231f20" textLength="36.20" lengthAdjust="spacingAndGlyphs"  stroke="#231f20" stroke-width="0.15">Time (min)</text>
<text x="211.20" y="270.40" font-size="8.2" fill="#231f20" textLength="37.30" lengthAdjust="spacingAndGlyphs"  stroke="#231f20" stroke-width="0.15">GFP-RPS15</text>
<text x="211.20" y="284.30" font-size="8.2" fill="#231f20" textLength="21.40" lengthAdjust="spacingAndGlyphs"  stroke="#231f20" stroke-width="0.15">RPS15</text>
<text x="211.20" y="291.60" font-size="5.4" fill="#231f20" textLength="38.00" lengthAdjust="spacingAndGlyphs"  stroke="#231f20" stroke-width="0.1">(Endogenous)</text>
<text x="211.6" y="302.4" font-size="8.2" fill="#231f20" font-family="Liberation Serif, serif" font-style="italic" stroke="#231f20" stroke-width="0.15">β</text>
<text x="216.60" y="302.40" font-size="8.2" fill="#231f20" textLength="19.20" lengthAdjust="spacingAndGlyphs"  stroke="#231f20" stroke-width="0.15">-actin</text>
<text x="211.20" y="335.40" font-size="5.6" fill="#231f20" textLength="4.80" lengthAdjust="spacingAndGlyphs"  stroke="#231f20" stroke-width="0.1">35</text>
<text x="216.40" y="339.20" font-size="8.2" fill="#231f20" textLength="35.70" lengthAdjust="spacingAndGlyphs"  stroke="#231f20" stroke-width="0.15">S-Met/Cys</text>
<text x="211.20" y="348.20" font-size="8.2" fill="#231f20" textLength="46.40" lengthAdjust="spacingAndGlyphs"  stroke="#231f20" stroke-width="0.15">incorporation</text>
<defs><filter id="bl1" x="-20%" y="-50%" width="140%" height="200%"><feGaussianBlur stdDeviation="0.6"/></filter><filter id="bl2" x="-20%" y="-50%" width="140%" height="200%"><feGaussianBlur stdDeviation="1.2"/></filter></defs>
<rect x="9.50" y="262.60" width="196.40" height="12.80" fill="#efefef" stroke="#1a1a1a" stroke-width="1.2" />
<g filter="url(#bl1)"><rect x="11.2" y="266.6" width="127.4" height="2.3" fill="#111"/><rect x="11.5" y="271.4" width="126.8" height="1.6" fill="#d6d6d6"/><ellipse cx="17.30" cy="267.7" rx="5.6" ry="1.6" fill="#0a0a0a"/><ellipse cx="17.30" cy="272.2" rx="4.8" ry="1.0" fill="#c4c4c4"/><ellipse cx="29.90" cy="267.7" rx="5.6" ry="1.6" fill="#0a0a0a"/><ellipse cx="29.90" cy="272.2" rx="4.8" ry="1.0" fill="#c4c4c4"/><ellipse cx="42.60" cy="267.7" rx="5.6" ry="1.6" fill="#0a0a0a"/><ellipse cx="42.60" cy="272.2" rx="4.8" ry="1.0" fill="#c4c4c4"/><ellipse cx="55.60" cy="267.7" rx="5.6" ry="1.6" fill="#0a0a0a"/><ellipse cx="55.60" cy="272.2" rx="4.8" ry="1.0" fill="#c4c4c4"/><ellipse cx="68.60" cy="267.7" rx="5.6" ry="1.6" fill="#0a0a0a"/><ellipse cx="68.60" cy="272.2" rx="4.8" ry="1.0" fill="#c4c4c4"/><ellipse cx="81.60" cy="267.7" rx="5.6" ry="1.6" fill="#0a0a0a"/><ellipse cx="81.60" cy="272.2" rx="4.8" ry="1.0" fill="#c4c4c4"/><ellipse cx="94.50" cy="267.7" rx="5.6" ry="1.6" fill="#0a0a0a"/><ellipse cx="94.50" cy="272.2" rx="4.8" ry="1.0" fill="#c4c4c4"/><ellipse cx="107.40" cy="267.7" rx="5.6" ry="1.6" fill="#0a0a0a"/><ellipse cx="107.40" cy="272.2" rx="4.8" ry="1.0" fill="#c4c4c4"/><ellipse cx="120.40" cy="267.7" rx="5.6" ry="1.6" fill="#0a0a0a"/><ellipse cx="120.40" cy="272.2" rx="4.8" ry="1.0" fill="#c4c4c4"/><ellipse cx="133.30" cy="267.7" rx="5.6" ry="1.6" fill="#0a0a0a"/><ellipse cx="133.30" cy="272.2" rx="4.8" ry="1.0" fill="#c4c4c4"/><rect x="140.80" y="266.6" width="10.4" height="1.7" rx="0.8" fill="#a0a0a0"/><rect x="154.00" y="266.6" width="10.4" height="1.7" rx="0.8" fill="#a0a0a0"/><rect x="166.80" y="266.6" width="10.4" height="1.7" rx="0.8" fill="#a0a0a0"/><rect x="179.80" y="266.6" width="10.4" height="1.7" rx="0.8" fill="#a0a0a0"/><rect x="193.20" y="266.6" width="10.4" height="1.7" rx="0.8" fill="#a0a0a0"/></g>
<rect x="9.50" y="278.80" width="196.40" height="12.40" fill="#ebebeb" stroke="#1a1a1a" stroke-width="1.2" />
<g filter="url(#bl2)"><ellipse cx="18" cy="286" rx="7" ry="5.5" fill="#c6c6c6"/><ellipse cx="31" cy="286.5" rx="5" ry="4.5" fill="#dedede"/></g><g filter="url(#bl1)"><rect x="140.30" y="285.2" width="11.4" height="2.0" rx="1.0" fill="#5e5e5e"/><rect x="153.50" y="285.2" width="11.4" height="2.0" rx="1.0" fill="#5e5e5e"/><rect x="166.30" y="285.2" width="11.4" height="2.0" rx="1.0" fill="#5e5e5e"/><rect x="179.30" y="285.2" width="11.4" height="2.0" rx="1.0" fill="#5e5e5e"/><rect x="192.70" y="285.2" width="11.4" height="2.0" rx="1.0" fill="#5e5e5e"/></g>
<rect x="9.50" y="295.20" width="196.40" height="8.80" fill="#ececec" stroke="#1a1a1a" stroke-width="1.2" />
<g filter="url(#bl1)"><rect x="11.0" y="297.9" width="194.2" height="2.4" fill="#111"/><ellipse cx="17.30" cy="299.1" rx="5.8" ry="1.7" fill="#080808"/><ellipse cx="29.90" cy="299.1" rx="5.8" ry="1.7" fill="#080808"/><ellipse cx="42.60" cy="299.1" rx="5.8" ry="1.7" fill="#080808"/><ellipse cx="55.60" cy="299.1" rx="5.8" ry="1.7" fill="#080808"/><ellipse cx="68.60" cy="299.1" rx="5.8" ry="1.7" fill="#080808"/><ellipse cx="81.60" cy="299.1" rx="5.8" ry="1.7" fill="#080808"/><ellipse cx="94.50" cy="299.1" rx="5.8" ry="1.7" fill="#080808"/><ellipse cx="107.40" cy="299.1" rx="5.8" ry="1.7" fill="#080808"/><ellipse cx="120.40" cy="299.1" rx="5.8" ry="1.7" fill="#080808"/><ellipse cx="133.30" cy="299.1" rx="5.8" ry="1.7" fill="#080808"/><ellipse cx="146.00" cy="299.1" rx="5.8" ry="1.7" fill="#080808"/><ellipse cx="159.20" cy="299.1" rx="5.8" ry="1.7" fill="#080808"/><ellipse cx="172.00" cy="299.1" rx="5.8" ry="1.7" fill="#080808"/><ellipse cx="185.00" cy="299.1" rx="5.8" ry="1.7" fill="#080808"/><ellipse cx="198.40" cy="299.1" rx="5.8" ry="1.7" fill="#080808"/></g>
<rect x="9.50" y="306.60" width="196.70" height="97.00" fill="#e7e7e7" stroke="#1a1a1a" stroke-width="1.2" />
<defs><linearGradient id="lg" x1="0" y1="0" x2="0" y2="1"><stop offset="0" stop-color="#dcdcdc"/><stop offset="0.07" stop-color="#b0b0b0"/><stop offset="0.16" stop-color="#8c8c8c"/><stop offset="0.28" stop-color="#666"/><stop offset="0.5" stop-color="#5c5c5c"/><stop offset="0.56" stop-color="#7c7c7c"/><stop offset="0.66" stop-color="#949494"/><stop offset="1" stop-color="#a6a6a6"/></linearGradient></defs>
<g filter="url(#bl1)"><rect x="12.00" y="308.5" width="10.6" height="92.0" rx="2.5" fill="url(#lg)" opacity="0.06"/><rect x="12.00" y="315.25" width="10.6" height="1.50" fill="#111" opacity="0.01"/><rect x="12.00" y="319.30" width="10.6" height="1.40" fill="#111" opacity="0.02"/><rect x="12.00" y="322.90" width="10.6" height="0.80" fill="#111" opacity="0.01"/><rect x="12.00" y="325.75" width="10.6" height="1.30" fill="#111" opacity="0.02"/><rect x="12.00" y="328.60" width="10.6" height="0.80" fill="#111" opacity="0.01"/><rect x="12.00" y="330.95" width="10.6" height="1.50" fill="#111" opacity="0.04"/><rect x="12.00" y="335.70" width="10.6" height="1.40" fill="#111" opacity="0.04"/><rect x="12.00" y="339.00" width="10.6" height="0.80" fill="#111" opacity="0.01"/><rect x="12.00" y="341.55" width="10.6" height="1.50" fill="#111" opacity="0.04"/><rect x="12.00" y="346.00" width="10.6" height="1.00" fill="#111" opacity="0.02"/><rect x="12.00" y="350.00" width="10.6" height="1.60" fill="#111" opacity="0.05"/><rect x="12.00" y="353.10" width="10.6" height="0.80" fill="#111" opacity="0.01"/><rect x="12.00" y="355.20" width="10.6" height="1.60" fill="#111" opacity="0.05"/><rect x="12.00" y="360.50" width="10.6" height="1.00" fill="#111" opacity="0.02"/><rect x="12.00" y="362.95" width="10.6" height="0.70" fill="#111" opacity="0.01"/><rect x="12.00" y="365.05" width="10.6" height="0.90" fill="#111" opacity="0.01"/><rect x="12.00" y="367.45" width="10.6" height="0.70" fill="#111" opacity="0.01"/><rect x="12.00" y="369.55" width="10.6" height="0.90" fill="#111" opacity="0.01"/><rect x="12.00" y="372.15" width="10.6" height="0.70" fill="#111" opacity="0.01"/><rect x="12.00" y="374.55" width="10.6" height="0.90" fill="#111" opacity="0.01"/><rect x="12.00" y="377.15" width="10.6" height="0.70" fill="#111" opacity="0.01"/><rect x="12.00" y="379.55" width="10.6" height="0.90" fill="#111" opacity="0.01"/><rect x="12.00" y="382.15" width="10.6" height="0.70" fill="#111" opacity="0.00"/><rect x="12.00" y="384.55" width="10.6" height="0.90" fill="#111" opacity="0.01"/><rect x="12.00" y="387.15" width="10.6" height="0.70" fill="#111" opacity="0.00"/><rect x="12.00" y="389.55" width="10.6" height="0.90" fill="#111" opacity="0.01"/><rect x="12.00" y="392.15" width="10.6" height="0.70" fill="#111" opacity="0.00"/><rect x="12.00" y="394.55" width="10.6" height="0.90" fill="#111" opacity="0.01"/><rect x="12.00" y="399.15" width="10.6" height="0.90" fill="#111" opacity="0.03"/><rect x="24.60" y="308.5" width="10.6" height="92.0" rx="2.5" fill="url(#lg)" opacity="0.50"/><rect x="24.60" y="315.25" width="10.6" height="1.50" fill="#111" opacity="0.10"/><rect x="24.60" y="319.30" width="10.6" height="1.40" fill="#111" opacity="0.18"/><rect x="24.60" y="322.90" width="10.6" height="0.80" fill="#111" opacity="0.10"/><rect x="24.60" y="325.75" width="10.6" height="1.30" fill="#111" opacity="0.20"/><rect x="24.60" y="328.60" width="10.6" height="0.80" fill="#111" opacity="0.12"/><rect x="24.60" y="330.95" width="10.6" height="1.50" fill="#111" opacity="0.36"/><rect x="24.60" y="335.70" width="10.6" height="1.40" fill="#111" opacity="0.34"/><rect x="24.60" y="339.00" width="10.6" height="0.80" fill="#111" opacity="0.12"/><rect x="24.60" y="341.55" width="10.6" height="1.50" fill="#111" opacity="0.36"/><rect x="24.60" y="346.00" width="10.6" height="1.00" fill="#111" opacity="0.18"/><rect x="24.60" y="350.00" width="10.6" height="1.60" fill="#111" opacity="0.38"/><rect x="24.60" y="353.10" width="10.6" height="0.80" fill="#111" opacity="0.12"/><rect x="24.60" y="355.20" width="10.6" height="1.60" fill="#111" opacity="0.38"/><rect x="24.60" y="360.50" width="10.6" height="1.00" fill="#111" opacity="0.14"/><rect x="24.60" y="362.95" width="10.6" height="0.70" fill="#111" opacity="0.06"/><rect x="24.60" y="365.05" width="10.6" height="0.90" fill="#111" opacity="0.09"/><rect x="24.60" y="367.45" width="10.6" height="0.70" fill="#111" opacity="0.06"/><rect x="24.60" y="369.55" width="10.6" height="0.90" fill="#111" opacity="0.08"/><rect x="24.60" y="372.15" width="10.6" height="0.70" fill="#111" opacity="0.05"/><rect x="24.60" y="374.55" width="10.6" height="0.90" fill="#111" opacity="0.07"/><rect x="24.60" y="377.15" width="10.6" height="0.70" fill="#111" opacity="0.05"/><rect x="24.60" y="379.55" width="10.6" height="0.90" fill="#111" opacity="0.06"/><rect x="24.60" y="382.15" width="10.6" height="0.70" fill="#111" opacity="0.04"/><rect x="24.60" y="384.55" width="10.6" height="0.90" fill="#111" opacity="0.06"/><rect x="24.60" y="387.15" width="10.6" height="0.70" fill="#111" opacity="0.04"/><rect x="24.60" y="389.55" width="10.6" height="0.90" fill="#111" opacity="0.05"/><rect x="24.60" y="392.15" width="10.6" height="0.70" fill="#111" opacity="0.04"/><rect x="24.60" y="394.55" width="10.6" height="0.90" fill="#111" opacity="0.05"/><rect x="24.60" y="399.15" width="10.6" height="0.90" fill="#111" opacity="0.24"/><rect x="37.30" y="308.5" width="10.6" height="92.0" rx="2.5" fill="url(#lg)" opacity="0.68"/><rect x="37.30" y="315.25" width="10.6" height="1.50" fill="#111" opacity="0.14"/><rect x="37.30" y="319.30" width="10.6" height="1.40" fill="#111" opacity="0.24"/><rect x="37.30" y="322.90" width="10.6" height="0.80" fill="#111" opacity="0.14"/><rect x="37.30" y="325.75" width="10.6" height="1.30" fill="#111" opacity="0.27"/><rect x="37.30" y="328.60" width="10.6" height="0.80" fill="#111" opacity="0.16"/><rect x="37.30" y="330.95" width="10.6" height="1.50" fill="#111" opacity="0.49"/><rect x="37.30" y="335.70" width="10.6" height="1.40" fill="#111" opacity="0.46"/><rect x="37.30" y="339.00" width="10.6" height="0.80" fill="#111" opacity="0.16"/><rect x="37.30" y="341.55" width="10.6" height="1.50" fill="#111" opacity="0.49"/><rect x="37.30" y="346.00" width="10.6" height="1.00" fill="#111" opacity="0.24"/><rect x="37.30" y="350.00" width="10.6" height="1.60" fill="#111" opacity="0.52"/><rect x="37.30" y="353.10" width="10.6" height="0.80" fill="#111" opacity="0.16"/><rect x="37.30" y="355.20" width="10.6" height="1.60" fill="#111" opacity="0.52"/><rect x="37.30" y="360.50" width="10.6" height="1.00" fill="#111" opacity="0.19"/><rect x="37.30" y="362.95" width="10.6" height="0.70" fill="#111" opacity="0.08"/><rect x="37.30" y="365.05" width="10.6" height="0.90" fill="#111" opacity="0.12"/><rect x="37.30" y="367.45" width="10.6" height="0.70" fill="#111" opacity="0.08"/><rect x="37.30" y="369.55" width="10.6" height="0.90" fill="#111" opacity="0.11"/><rect x="37.30" y="372.15" width="10.6" height="0.70" fill="#111" opacity="0.07"/><rect x="37.30" y="374.55" width="10.6" height="0.90" fill="#111" opacity="0.10"/><rect x="37.30" y="377.15" width="10.6" height="0.70" fill="#111" opacity="0.07"/><rect x="37.30" y="379.55" width="10.6" height="0.90" fill="#111" opacity="0.09"/><rect x="37.30" y="382.15" width="10.6" height="0.70" fill="#111" opacity="0.05"/><rect x="37.30" y="384.55" width="10.6" height="0.90" fill="#111" opacity="0.08"/><rect x="37.30" y="387.15" width="10.6" height="0.70" fill="#111" opacity="0.05"/><rect x="37.30" y="389.55" width="10.6" height="0.90" fill="#111" opacity="0.07"/><rect x="37.30" y="392.15" width="10.6" height="0.70" fill="#111" opacity="0.05"/><rect x="37.30" y="394.55" width="10.6" height="0.90" fill="#111" opacity="0.07"/><rect x="37.30" y="399.15" width="10.6" height="0.90" fill="#111" opacity="0.33"/><rect x="50.30" y="308.5" width="10.6" height="92.0" rx="2.5" fill="url(#lg)" opacity="0.85"/><rect x="50.30" y="315.25" width="10.6" height="1.50" fill="#111" opacity="0.17"/><rect x="50.30" y="319.30" width="10.6" height="1.40" fill="#111" opacity="0.31"/><rect x="50.30" y="322.90" width="10.6" height="0.80" fill="#111" opacity="0.17"/><rect x="50.30" y="325.75" width="10.6" height="1.30" fill="#111" opacity="0.34"/><rect x="50.30" y="328.60" width="10.6" height="0.80" fill="#111" opacity="0.20"/><rect x="50.30" y="330.95" width="10.6" height="1.50" fill="#111" opacity="0.61"/><rect x="50.30" y="335.70" width="10.6" height="1.40" fill="#111" opacity="0.58"/><rect x="50.30" y="339.00" width="10.6" height="0.80" fill="#111" opacity="0.20"/><rect x="50.30" y="341.55" width="10.6" height="1.50" fill="#111" opacity="0.61"/><rect x="50.30" y="346.00" width="10.6" height="1.00" fill="#111" opacity="0.31"/><rect x="50.30" y="350.00" width="10.6" height="1.60" fill="#111" opacity="0.65"/><rect x="50.30" y="353.10" width="10.6" height="0.80" fill="#111" opacity="0.20"/><rect x="50.30" y="355.20" width="10.6" height="1.60" fill="#111" opacity="0.65"/><rect x="50.30" y="360.50" width="10.6" height="1.00" fill="#111" opacity="0.24"/><rect x="50.30" y="362.95" width="10.6" height="0.70" fill="#111" opacity="0.10"/><rect x="50.30" y="365.05" width="10.6" height="0.90" fill="#111" opacity="0.15"/><rect x="50.30" y="367.45" width="10.6" height="0.70" fill="#111" opacity="0.10"/><rect x="50.30" y="369.55" width="10.6" height="0.90" fill="#111" opacity="0.14"/><rect x="50.30" y="372.15" width="10.6" height="0.70" fill="#111" opacity="0.08"/><rect x="50.30" y="374.55" width="10.6" height="0.90" fill="#111" opacity="0.12"/><rect x="50.30" y="377.15" width="10.6" height="0.70" fill="#111" opacity="0.08"/><rect x="50.30" y="379.55" width="10.6" height="0.90" fill="#111" opacity="0.11"/><rect x="50.30" y="382.15" width="10.6" height="0.70" fill="#111" opacity="0.07"/><rect x="50.30" y="384.55" width="10.6" height="0.90" fill="#111" opacity="0.10"/><rect x="50.30" y="387.15" width="10.6" height="0.70" fill="#111" opacity="0.07"/><rect x="50.30" y="389.55" width="10.6" height="0.90" fill="#111" opacity="0.09"/><rect x="50.30" y="392.15" width="10.6" height="0.70" fill="#111" opacity="0.07"/><rect x="50.30" y="394.55" width="10.6" height="0.90" fill="#111" opacity="0.08"/><rect x="50.30" y="399.15" width="10.6" height="0.90" fill="#111" opacity="0.41"/><rect x="63.30" y="308.5" width="10.6" height="92.0" rx="2.5" fill="url(#lg)" opacity="0.97"/><rect x="63.30" y="315.25" width="10.6" height="1.50" fill="#111" opacity="0.19"/><rect x="63.30" y="319.30" width="10.6" height="1.40" fill="#111" opacity="0.35"/><rect x="63.30" y="322.90" width="10.6" height="0.80" fill="#111" opacity="0.19"/><rect x="63.30" y="325.75" width="10.6" height="1.30" fill="#111" opacity="0.39"/><rect x="63.30" y="328.60" width="10.6" height="0.80" fill="#111" opacity="0.23"/><rect x="63.30" y="330.95" width="10.6" height="1.50" fill="#111" opacity="0.70"/><rect x="63.30" y="335.70" width="10.6" height="1.40" fill="#111" opacity="0.66"/><rect x="63.30" y="339.00" width="10.6" height="0.80" fill="#111" opacity="0.23"/><rect x="63.30" y="341.55" width="10.6" height="1.50" fill="#111" opacity="0.70"/><rect x="63.30" y="346.00" width="10.6" height="1.00" fill="#111" opacity="0.35"/><rect x="63.30" y="350.00" width="10.6" height="1.60" fill="#111" opacity="0.74"/><rect x="63.30" y="353.10" width="10.6" height="0.80" fill="#111" opacity="0.23"/><rect x="63.30" y="355.20" width="10.6" height="1.60" fill="#111" opacity="0.74"/><rect x="63.30" y="360.50" width="10.6" height="1.00" fill="#111" opacity="0.27"/><rect x="63.30" y="362.95" width="10.6" height="0.70" fill="#111" opacity="0.12"/><rect x="63.30" y="365.05" width="10.6" height="0.90" fill="#111" opacity="0.17"/><rect x="63.30" y="367.45" width="10.6" height="0.70" fill="#111" opacity="0.11"/><rect x="63.30" y="369.55" width="10.6" height="0.90" fill="#111" opacity="0.16"/><rect x="63.30" y="372.15" width="10.6" height="0.70" fill="#111" opacity="0.09"/><rect x="63.30" y="374.55" width="10.6" height="0.90" fill="#111" opacity="0.14"/><rect x="63.30" y="377.15" width="10.6" height="0.70" fill="#111" opacity="0.09"/><rect x="63.30" y="379.55" width="10.6" height="0.90" fill="#111" opacity="0.12"/><rect x="63.30" y="382.15" width="10.6" height="0.70" fill="#111" opacity="0.08"/><rect x="63.30" y="384.55" width="10.6" height="0.90" fill="#111" opacity="0.11"/><rect x="63.30" y="387.15" width="10.6" height="0.70" fill="#111" opacity="0.08"/><rect x="63.30" y="389.55" width="10.6" height="0.90" fill="#111" opacity="0.10"/><rect x="63.30" y="392.15" width="10.6" height="0.70" fill="#111" opacity="0.08"/><rect x="63.30" y="394.55" width="10.6" height="0.90" fill="#111" opacity="0.09"/><rect x="63.30" y="399.15" width="10.6" height="0.90" fill="#111" opacity="0.47"/><rect x="89.20" y="308.5" width="10.6" height="92.0" rx="2.5" fill="url(#lg)" opacity="0.22"/><rect x="89.20" y="315.25" width="10.6" height="1.50" fill="#111" opacity="0.04"/><rect x="89.20" y="319.30" width="10.6" height="1.40" fill="#111" opacity="0.08"/><rect x="89.20" y="322.90" width="10.6" height="0.80" fill="#111" opacity="0.04"/><rect x="89.20" y="325.75" width="10.6" height="1.30" fill="#111" opacity="0.09"/><rect x="89.20" y="328.60" width="10.6" height="0.80" fill="#111" opacity="0.05"/><rect x="89.20" y="330.95" width="10.6" height="1.50" fill="#111" opacity="0.16"/><rect x="89.20" y="335.70" width="10.6" height="1.40" fill="#111" opacity="0.15"/><rect x="89.20" y="339.00" width="10.6" height="0.80" fill="#111" opacity="0.05"/><rect x="89.20" y="341.55" width="10.6" height="1.50" fill="#111" opacity="0.16"/><rect x="89.20" y="346.00" width="10.6" height="1.00" fill="#111" opacity="0.08"/><rect x="89.20" y="350.00" width="10.6" height="1.60" fill="#111" opacity="0.17"/><rect x="89.20" y="353.10" width="10.6" height="0.80" fill="#111" opacity="0.05"/><rect x="89.20" y="355.20" width="10.6" height="1.60" fill="#111" opacity="0.17"/><rect x="89.20" y="360.50" width="10.6" height="1.00" fill="#111" opacity="0.06"/><rect x="89.20" y="362.95" width="10.6" height="0.70" fill="#111" opacity="0.03"/><rect x="89.20" y="365.05" width="10.6" height="0.90" fill="#111" opacity="0.04"/><rect x="89.20" y="367.45" width="10.6" height="0.70" fill="#111" opacity="0.02"/><rect x="89.20" y="369.55" width="10.6" height="0.90" fill="#111" opacity="0.04"/><rect x="89.20" y="372.15" width="10.6" height="0.70" fill="#111" opacity="0.02"/><rect x="89.20" y="374.55" width="10.6" height="0.90" fill="#111" opacity="0.03"/><rect x="89.20" y="377.15" width="10.6" height="0.70" fill="#111" opacity="0.02"/><rect x="89.20" y="379.55" width="10.6" height="0.90" fill="#111" opacity="0.03"/><rect x="89.20" y="382.15" width="10.6" height="0.70" fill="#111" opacity="0.02"/><rect x="89.20" y="384.55" width="10.6" height="0.90" fill="#111" opacity="0.02"/><rect x="89.20" y="387.15" width="10.6" height="0.70" fill="#111" opacity="0.02"/><rect x="89.20" y="389.55" width="10.6" height="0.90" fill="#111" opacity="0.02"/><rect x="89.20" y="392.15" width="10.6" height="0.70" fill="#111" opacity="0.02"/><rect x="89.20" y="394.55" width="10.6" height="0.90" fill="#111" opacity="0.02"/><rect x="89.20" y="399.15" width="10.6" height="0.90" fill="#111" opacity="0.11"/><rect x="102.10" y="308.5" width="10.6" height="92.0" rx="2.5" fill="url(#lg)" opacity="0.42"/><rect x="102.10" y="315.25" width="10.6" height="1.50" fill="#111" opacity="0.08"/><rect x="102.10" y="319.30" width="10.6" height="1.40" fill="#111" opacity="0.15"/><rect x="102.10" y="322.90" width="10.6" height="0.80" fill="#111" opacity="0.08"/><rect x="102.10" y="325.75" width="10.6" height="1.30" fill="#111" opacity="0.17"/><rect x="102.10" y="328.60" width="10.6" height="0.80" fill="#111" opacity="0.10"/><rect x="102.10" y="330.95" width="10.6" height="1.50" fill="#111" opacity="0.30"/><rect x="102.10" y="335.70" width="10.6" height="1.40" fill="#111" opacity="0.29"/><rect x="102.10" y="339.00" width="10.6" height="0.80" fill="#111" opacity="0.10"/><rect x="102.10" y="341.55" width="10.6" height="1.50" fill="#111" opacity="0.30"/><rect x="102.10" y="346.00" width="10.6" height="1.00" fill="#111" opacity="0.15"/><rect x="102.10" y="350.00" width="10.6" height="1.60" fill="#111" opacity="0.32"/><rect x="102.10" y="353.10" width="10.6" height="0.80" fill="#111" opacity="0.10"/><rect x="102.10" y="355.20" width="10.6" height="1.60" fill="#111" opacity="0.32"/><rect x="102.10" y="360.50" width="10.6" height="1.00" fill="#111" opacity="0.12"/><rect x="102.10" y="362.95" width="10.6" height="0.70" fill="#111" opacity="0.05"/><rect x="102.10" y="365.05" width="10.6" height="0.90" fill="#111" opacity="0.07"/><rect x="102.10" y="367.45" width="10.6" height="0.70" fill="#111" opacity="0.05"/><rect x="102.10" y="369.55" width="10.6" height="0.90" fill="#111" opacity="0.07"/><rect x="102.10" y="372.15" width="10.6" height="0.70" fill="#111" opacity="0.04"/><rect x="102.10" y="374.55" width="10.6" height="0.90" fill="#111" opacity="0.06"/><rect x="102.10" y="377.15" width="10.6" height="0.70" fill="#111" opacity="0.04"/><rect x="102.10" y="379.55" width="10.6" height="0.90" fill="#111" opacity="0.05"/><rect x="102.10" y="382.15" width="10.6" height="0.70" fill="#111" opacity="0.03"/><rect x="102.10" y="384.55" width="10.6" height="0.90" fill="#111" opacity="0.05"/><rect x="102.10" y="387.15" width="10.6" height="0.70" fill="#111" opacity="0.03"/><rect x="102.10" y="389.55" width="10.6" height="0.90" fill="#111" opacity="0.04"/><rect x="102.10" y="392.15" width="10.6" height="0.70" fill="#111" opacity="0.03"/><rect x="102.10" y="394.55" width="10.6" height="0.90" fill="#111" opacity="0.04"/><rect x="102.10" y="399.15" width="10.6" height="0.90" fill="#111" opacity="0.20"/><rect x="115.10" y="308.5" width="10.6" height="92.0" rx="2.5" fill="url(#lg)" opacity="0.50"/><rect x="115.10" y="315.25" width="10.6" height="1.50" fill="#111" opacity="0.10"/><rect x="115.10" y="319.30" width="10.6" height="1.40" fill="#111" opacity="0.18"/><rect x="115.10" y="322.90" width="10.6" height="0.80" fill="#111" opacity="0.10"/><rect x="115.10" y="325.75" width="10.6" height="1.30" fill="#111" opacity="0.20"/><rect x="115.10" y="328.60" width="10.6" height="0.80" fill="#111" opacity="0.12"/><rect x="115.10" y="330.95" width="10.6" height="1.50" fill="#111" opacity="0.36"/><rect x="115.10" y="335.70" width="10.6" height="1.40" fill="#111" opacity="0.34"/><rect x="115.10" y="339.00" width="10.6" height="0.80" fill="#111" opacity="0.12"/><rect x="115.10" y="341.55" width="10.6" height="1.50" fill="#111" opacity="0.36"/><rect x="115.10" y="346.00" width="10.6" height="1.00" fill="#111" opacity="0.18"/><rect x="115.10" y="350.00" width="10.6" height="1.60" fill="#111" opacity="0.38"/><rect x="115.10" y="353.10" width="10.6" height="0.80" fill="#111" opacity="0.12"/><rect x="115.10" y="355.20" width="10.6" height="1.60" fill="#111" opacity="0.38"/><rect x="115.10" y="360.50" width="10.6" height="1.00" fill="#111" opacity="0.14"/><rect x="115.10" y="362.95" width="10.6" height="0.70" fill="#111" opacity="0.06"/><rect x="115.10" y="365.05" width="10.6" height="0.90" fill="#111" opacity="0.09"/><rect x="115.10" y="367.45" width="10.6" height="0.70" fill="#111" opacity="0.06"/><rect x="115.10" y="369.55" width="10.6" height="0.90" fill="#111" opacity="0.08"/><rect x="115.10" y="372.15" width="10.6" height="0.70" fill="#111" opacity="0.05"/><rect x="115.10" y="374.55" width="10.6" height="0.90" fill="#111" opacity="0.07"/><rect x="115.10" y="377.15" width="10.6" height="0.70" fill="#111" opacity="0.05"/><rect x="115.10" y="379.55" width="10.6" height="0.90" fill="#111" opacity="0.06"/><rect x="115.10" y="382.15" width="10.6" height="0.70" fill="#111" opacity="0.04"/><rect x="115.10" y="384.55" width="10.6" height="0.90" fill="#111" opacity="0.06"/><rect x="115.10" y="387.15" width="10.6" height="0.70" fill="#111" opacity="0.04"/><rect x="115.10" y="389.55" width="10.6" height="0.90" fill="#111" opacity="0.05"/><rect x="115.10" y="392.15" width="10.6" height="0.70" fill="#111" opacity="0.04"/><rect x="115.10" y="394.55" width="10.6" height="0.90" fill="#111" opacity="0.05"/><rect x="115.10" y="399.15" width="10.6" height="0.90" fill="#111" opacity="0.24"/><rect x="128.00" y="308.5" width="10.6" height="92.0" rx="2.5" fill="url(#lg)" opacity="0.55"/><rect x="128.00" y="315.25" width="10.6" height="1.50" fill="#111" opacity="0.11"/><rect x="128.00" y="319.30" width="10.6" height="1.40" fill="#111" opacity="0.20"/><rect x="128.00" y="322.90" width="10.6" height="0.80" fill="#111" opacity="0.11"/><rect x="128.00" y="325.75" width="10.6" height="1.30" fill="#111" opacity="0.22"/><rect x="128.00" y="328.60" width="10.6" height="0.80" fill="#111" opacity="0.13"/><rect x="128.00" y="330.95" width="10.6" height="1.50" fill="#111" opacity="0.40"/><rect x="128.00" y="335.70" width="10.6" height="1.40" fill="#111" opacity="0.37"/><rect x="128.00" y="339.00" width="10.6" height="0.80" fill="#111" opacity="0.13"/><rect x="128.00" y="341.55" width="10.6" height="1.50" fill="#111" opacity="0.40"/><rect x="128.00" y="346.00" width="10.6" height="1.00" fill="#111" opacity="0.20"/><rect x="128.00" y="350.00" width="10.6" height="1.60" fill="#111" opacity="0.42"/><rect x="128.00" y="353.10" width="10.6" height="0.80" fill="#111" opacity="0.13"/><rect x="128.00" y="355.20" width="10.6" height="1.60" fill="#111" opacity="0.42"/><rect x="128.00" y="360.50" width="10.6" height="1.00" fill="#111" opacity="0.15"/><rect x="128.00" y="362.95" width="10.6" height="0.70" fill="#111" opacity="0.07"/><rect x="128.00" y="365.05" width="10.6" height="0.90" fill="#111" opacity="0.10"/><rect x="128.00" y="367.45" width="10.6" height="0.70" fill="#111" opacity="0.06"/><rect x="128.00" y="369.55" width="10.6" height="0.90" fill="#111" opacity="0.09"/><rect x="128.00" y="372.15" width="10.6" height="0.70" fill="#111" opacity="0.05"/><rect x="128.00" y="374.55" width="10.6" height="0.90" fill="#111" opacity="0.08"/><rect x="128.00" y="377.15" width="10.6" height="0.70" fill="#111" opacity="0.05"/><rect x="128.00" y="379.55" width="10.6" height="0.90" fill="#111" opacity="0.07"/><rect x="128.00" y="382.15" width="10.6" height="0.70" fill="#111" opacity="0.04"/><rect x="128.00" y="384.55" width="10.6" height="0.90" fill="#111" opacity="0.06"/><rect x="128.00" y="387.15" width="10.6" height="0.70" fill="#111" opacity="0.04"/><rect x="128.00" y="389.55" width="10.6" height="0.90" fill="#111" opacity="0.06"/><rect x="128.00" y="392.15" width="10.6" height="0.70" fill="#111" opacity="0.04"/><rect x="128.00" y="394.55" width="10.6" height="0.90" fill="#111" opacity="0.05"/><rect x="128.00" y="399.15" width="10.6" height="0.90" fill="#111" opacity="0.26"/><rect x="140.70" y="308.5" width="10.6" height="92.0" rx="2.5" fill="url(#lg)" opacity="0.02"/><rect x="140.70" y="315.25" width="10.6" height="1.50" fill="#111" opacity="0.00"/><rect x="140.70" y="319.30" width="10.6" height="1.40" fill="#111" opacity="0.01"/><rect x="140.70" y="322.90" width="10.6" height="0.80" fill="#111" opacity="0.00"/><rect x="140.70" y="325.75" width="10.6" height="1.30" fill="#111" opacity="0.01"/><rect x="140.70" y="328.60" width="10.6" height="0.80" fill="#111" opacity="0.00"/><rect x="140.70" y="330.95" width="10.6" height="1.50" fill="#111" opacity="0.01"/><rect x="140.70" y="335.70" width="10.6" height="1.40" fill="#111" opacity="0.01"/><rect x="140.70" y="339.00" width="10.6" height="0.80" fill="#111" opacity="0.00"/><rect x="140.70" y="341.55" width="10.6" height="1.50" fill="#111" opacity="0.01"/><rect x="140.70" y="346.00" width="10.6" height="1.00" fill="#111" opacity="0.01"/><rect x="140.70" y="350.00" width="10.6" height="1.60" fill="#111" opacity="0.02"/><rect x="140.70" y="353.10" width="10.6" height="0.80" fill="#111" opacity="0.00"/><rect x="140.70" y="355.20" width="10.6" height="1.60" fill="#111" opacity="0.02"/><rect x="140.70" y="360.50" width="10.6" height="1.00" fill="#111" opacity="0.01"/><rect x="140.70" y="362.95" width="10.6" height="0.70" fill="#111" opacity="0.00"/><rect x="140.70" y="365.05" width="10.6" height="0.90" fill="#111" opacity="0.00"/><rect x="140.70" y="367.45" width="10.6" height="0.70" fill="#111" opacity="0.00"/><rect x="140.70" y="369.55" width="10.6" height="0.90" fill="#111" opacity="0.00"/><rect x="140.70" y="372.15" width="10.6" height="0.70" fill="#111" opacity="0.00"/><rect x="140.70" y="374.55" width="10.6" height="0.90" fill="#111" opacity="0.00"/><rect x="140.70" y="377.15" width="10.6" height="0.70" fill="#111" opacity="0.00"/><rect x="140.70" y="379.55" width="10.6" height="0.90" fill="#111" opacity="0.00"/><rect x="140.70" y="382.15" width="10.6" height="0.70" fill="#111" opacity="0.00"/><rect x="140.70" y="384.55" width="10.6" height="0.90" fill="#111" opacity="0.00"/><rect x="140.70" y="387.15" width="10.6" height="0.70" fill="#111" opacity="0.00"/><rect x="140.70" y="389.55" width="10.6" height="0.90" fill="#111" opacity="0.00"/><rect x="140.70" y="392.15" width="10.6" height="0.70" fill="#111" opacity="0.00"/><rect x="140.70" y="394.55" width="10.6" height="0.90" fill="#111" opacity="0.00"/><rect x="140.70" y="399.15" width="10.6" height="0.90" fill="#111" opacity="0.01"/><rect x="153.90" y="308.5" width="10.6" height="92.0" rx="2.5" fill="url(#lg)" opacity="0.38"/><rect x="153.90" y="315.25" width="10.6" height="1.50" fill="#111" opacity="0.08"/><rect x="153.90" y="319.30" width="10.6" height="1.40" fill="#111" opacity="0.14"/><rect x="153.90" y="322.90" width="10.6" height="0.80" fill="#111" opacity="0.08"/><rect x="153.90" y="325.75" width="10.6" height="1.30" fill="#111" opacity="0.15"/><rect x="153.90" y="328.60" width="10.6" height="0.80" fill="#111" opacity="0.09"/><rect x="153.90" y="330.95" width="10.6" height="1.50" fill="#111" opacity="0.27"/><rect x="153.90" y="335.70" width="10.6" height="1.40" fill="#111" opacity="0.26"/><rect x="153.90" y="339.00" width="10.6" height="0.80" fill="#111" opacity="0.09"/><rect x="153.90" y="341.55" width="10.6" height="1.50" fill="#111" opacity="0.27"/><rect x="153.90" y="346.00" width="10.6" height="1.00" fill="#111" opacity="0.14"/><rect x="153.90" y="350.00" width="10.6" height="1.60" fill="#111" opacity="0.29"/><rect x="153.90" y="353.10" width="10.6" height="0.80" fill="#111" opacity="0.09"/><rect x="153.90" y="355.20" width="10.6" height="1.60" fill="#111" opacity="0.29"/><rect x="153.90" y="360.50" width="10.6" height="1.00" fill="#111" opacity="0.11"/><rect x="153.90" y="362.95" width="10.6" height="0.70" fill="#111" opacity="0.05"/><rect x="153.90" y="365.05" width="10.6" height="0.90" fill="#111" opacity="0.07"/><rect x="153.90" y="367.45" width="10.6" height="0.70" fill="#111" opacity="0.04"/><rect x="153.90" y="369.55" width="10.6" height="0.90" fill="#111" opacity="0.06"/><rect x="153.90" y="372.15" width="10.6" height="0.70" fill="#111" opacity="0.04"/><rect x="153.90" y="374.55" width="10.6" height="0.90" fill="#111" opacity="0.05"/><rect x="153.90" y="377.15" width="10.6" height="0.70" fill="#111" opacity="0.04"/><rect x="153.90" y="379.55" width="10.6" height="0.90" fill="#111" opacity="0.05"/><rect x="153.90" y="382.15" width="10.6" height="0.70" fill="#111" opacity="0.03"/><rect x="153.90" y="384.55" width="10.6" height="0.90" fill="#111" opacity="0.04"/><rect x="153.90" y="387.15" width="10.6" height="0.70" fill="#111" opacity="0.03"/><rect x="153.90" y="389.55" width="10.6" height="0.90" fill="#111" opacity="0.04"/><rect x="153.90" y="392.15" width="10.6" height="0.70" fill="#111" opacity="0.03"/><rect x="153.90" y="394.55" width="10.6" height="0.90" fill="#111" opacity="0.04"/><rect x="153.90" y="399.15" width="10.6" height="0.90" fill="#111" opacity="0.18"/><rect x="166.70" y="308.5" width="10.6" height="92.0" rx="2.5" fill="url(#lg)" opacity="0.72"/><rect x="166.70" y="315.25" width="10.6" height="1.50" fill="#111" opacity="0.14"/><rect x="166.70" y="319.30" width="10.6" height="1.40" fill="#111" opacity="0.26"/><rect x="166.70" y="322.90" width="10.6" height="0.80" fill="#111" opacity="0.14"/><rect x="166.70" y="325.75" width="10.6" height="1.30" fill="#111" opacity="0.29"/><rect x="166.70" y="328.60" width="10.6" height="0.80" fill="#111" opacity="0.17"/><rect x="166.70" y="330.95" width="10.6" height="1.50" fill="#111" opacity="0.52"/><rect x="166.70" y="335.70" width="10.6" height="1.40" fill="#111" opacity="0.49"/><rect x="166.70" y="339.00" width="10.6" height="0.80" fill="#111" opacity="0.17"/><rect x="166.70" y="341.55" width="10.6" height="1.50" fill="#111" opacity="0.52"/><rect x="166.70" y="346.00" width="10.6" height="1.00" fill="#111" opacity="0.26"/><rect x="166.70" y="350.00" width="10.6" height="1.60" fill="#111" opacity="0.55"/><rect x="166.70" y="353.10" width="10.6" height="0.80" fill="#111" opacity="0.17"/><rect x="166.70" y="355.20" width="10.6" height="1.60" fill="#111" opacity="0.55"/><rect x="166.70" y="360.50" width="10.6" height="1.00" fill="#111" opacity="0.20"/><rect x="166.70" y="362.95" width="10.6" height="0.70" fill="#111" opacity="0.09"/><rect x="166.70" y="365.05" width="10.6" height="0.90" fill="#111" opacity="0.13"/><rect x="166.70" y="367.45" width="10.6" height="0.70" fill="#111" opacity="0.08"/><rect x="166.70" y="369.55" width="10.6" height="0.90" fill="#111" opacity="0.12"/><rect x="166.70" y="372.15" width="10.6" height="0.70" fill="#111" opacity="0.07"/><rect x="166.70" y="374.55" width="10.6" height="0.90" fill="#111" opacity="0.10"/><rect x="166.70" y="377.15" width="10.6" height="0.70" fill="#111" opacity="0.07"/><rect x="166.70" y="379.55" width="10.6" height="0.90" fill="#111" opacity="0.09"/><rect x="166.70" y="382.15" width="10.6" height="0.70" fill="#111" opacity="0.06"/><rect x="166.70" y="384.55" width="10.6" height="0.90" fill="#111" opacity="0.08"/><rect x="166.70" y="387.15" width="10.6" height="0.70" fill="#111" opacity="0.06"/><rect x="166.70" y="389.55" width="10.6" height="0.90" fill="#111" opacity="0.07"/><rect x="166.70" y="392.15" width="10.6" height="0.70" fill="#111" opacity="0.06"/><rect x="166.70" y="394.55" width="10.6" height="0.90" fill="#111" opacity="0.07"/><rect x="166.70" y="399.15" width="10.6" height="0.90" fill="#111" opacity="0.35"/><rect x="179.70" y="308.5" width="10.6" height="92.0" rx="2.5" fill="url(#lg)" opacity="0.90"/><rect x="179.70" y="315.25" width="10.6" height="1.50" fill="#111" opacity="0.18"/><rect x="179.70" y="319.30" width="10.6" height="1.40" fill="#111" opacity="0.32"/><rect x="179.70" y="322.90" width="10.6" height="0.80" fill="#111" opacity="0.18"/><rect x="179.70" y="325.75" width="10.6" height="1.30" fill="#111" opacity="0.36"/><rect x="179.70" y="328.60" width="10.6" height="0.80" fill="#111" opacity="0.22"/><rect x="179.70" y="330.95" width="10.6" height="1.50" fill="#111" opacity="0.65"/><rect x="179.70" y="335.70" width="10.6" height="1.40" fill="#111" opacity="0.61"/><rect x="179.70" y="339.00" width="10.6" height="0.80" fill="#111" opacity="0.22"/><rect x="179.70" y="341.55" width="10.6" height="1.50" fill="#111" opacity="0.65"/><rect x="179.70" y="346.00" width="10.6" height="1.00" fill="#111" opacity="0.32"/><rect x="179.70" y="350.00" width="10.6" height="1.60" fill="#111" opacity="0.68"/><rect x="179.70" y="353.10" width="10.6" height="0.80" fill="#111" opacity="0.22"/><rect x="179.70" y="355.20" width="10.6" height="1.60" fill="#111" opacity="0.68"/><rect x="179.70" y="360.50" width="10.6" height="1.00" fill="#111" opacity="0.25"/><rect x="179.70" y="362.95" width="10.6" height="0.70" fill="#111" opacity="0.11"/><rect x="179.70" y="365.05" width="10.6" height="0.90" fill="#111" opacity="0.16"/><rect x="179.70" y="367.45" width="10.6" height="0.70" fill="#111" opacity="0.10"/><rect x="179.70" y="369.55" width="10.6" height="0.90" fill="#111" opacity="0.14"/><rect x="179.70" y="372.15" width="10.6" height="0.70" fill="#111" opacity="0.09"/><rect x="179.70" y="374.55" width="10.6" height="0.90" fill="#111" opacity="0.13"/><rect x="179.70" y="377.15" width="10.6" height="0.70" fill="#111" opacity="0.09"/><rect x="179.70" y="379.55" width="10.6" height="0.90" fill="#111" opacity="0.12"/><rect x="179.70" y="382.15" width="10.6" height="0.70" fill="#111" opacity="0.07"/><rect x="179.70" y="384.55" width="10.6" height="0.90" fill="#111" opacity="0.10"/><rect x="179.70" y="387.15" width="10.6" height="0.70" fill="#111" opacity="0.07"/><rect x="179.70" y="389.55" width="10.6" height="0.90" fill="#111" opacity="0.09"/><rect x="179.70" y="392.15" width="10.6" height="0.70" fill="#111" opacity="0.07"/><rect x="179.70" y="394.55" width="10.6" height="0.90" fill="#111" opacity="0.09"/><rect x="179.70" y="399.15" width="10.6" height="0.90" fill="#111" opacity="0.43"/><rect x="193.10" y="308.5" width="10.6" height="92.0" rx="2.5" fill="url(#lg)" opacity="1.00"/><rect x="193.10" y="315.25" width="10.6" height="1.50" fill="#111" opacity="0.21"/><rect x="193.10" y="319.30" width="10.6" height="1.40" fill="#111" opacity="0.38"/><rect x="193.10" y="322.90" width="10.6" height="0.80" fill="#111" opacity="0.21"/><rect x="193.10" y="325.75" width="10.6" height="1.30" fill="#111" opacity="0.42"/><rect x="193.10" y="328.60" width="10.6" height="0.80" fill="#111" opacity="0.25"/><rect x="193.10" y="330.95" width="10.6" height="1.50" fill="#111" opacity="0.76"/><rect x="193.10" y="335.70" width="10.6" height="1.40" fill="#111" opacity="0.71"/><rect x="193.10" y="339.00" width="10.6" height="0.80" fill="#111" opacity="0.25"/><rect x="193.10" y="341.55" width="10.6" height="1.50" fill="#111" opacity="0.76"/><rect x="193.10" y="346.00" width="10.6" height="1.00" fill="#111" opacity="0.38"/><rect x="193.10" y="350.00" width="10.6" height="1.60" fill="#111" opacity="0.80"/><rect x="193.10" y="353.10" width="10.6" height="0.80" fill="#111" opacity="0.25"/><rect x="193.10" y="355.20" width="10.6" height="1.60" fill="#111" opacity="0.80"/><rect x="193.10" y="360.50" width="10.6" height="1.00" fill="#111" opacity="0.29"/><rect x="193.10" y="362.95" width="10.6" height="0.70" fill="#111" opacity="0.13"/><rect x="193.10" y="365.05" width="10.6" height="0.90" fill="#111" opacity="0.18"/><rect x="193.10" y="367.45" width="10.6" height="0.70" fill="#111" opacity="0.12"/><rect x="193.10" y="369.55" width="10.6" height="0.90" fill="#111" opacity="0.17"/><rect x="193.10" y="372.15" width="10.6" height="0.70" fill="#111" opacity="0.10"/><rect x="193.10" y="374.55" width="10.6" height="0.90" fill="#111" opacity="0.15"/><rect x="193.10" y="377.15" width="10.6" height="0.70" fill="#111" opacity="0.10"/><rect x="193.10" y="379.55" width="10.6" height="0.90" fill="#111" opacity="0.13"/><rect x="193.10" y="382.15" width="10.6" height="0.70" fill="#111" opacity="0.08"/><rect x="193.10" y="384.55" width="10.6" height="0.90" fill="#111" opacity="0.12"/><rect x="193.10" y="387.15" width="10.6" height="0.70" fill="#111" opacity="0.08"/><rect x="193.10" y="389.55" width="10.6" height="0.90" fill="#111" opacity="0.11"/><rect x="193.10" y="392.15" width="10.6" height="0.70" fill="#111" opacity="0.08"/><rect x="193.10" y="394.55" width="10.6" height="0.90" fill="#111" opacity="0.10"/><rect x="193.10" y="399.15" width="10.6" height="0.90" fill="#111" opacity="0.50"/></g>
<defs><clipPath id="cpm"><rect x="22.3" y="36.6" width="177.1" height="148.3"/></clipPath><clipPath id="cpi"><rect x="9.8" y="21.1" width="72.9" height="72.8"/></clipPath></defs>
<g clip-path="url(#cpm)"><g transform="scale(0.5)"><path d="M56 348l-1 2-1-2-1-2-1-3-2 0 0-3-2-2 1-2-1-3M180 308l2-1 3 0 2-2 0-2 3-1 3 1 2-1-1-3 2 2M167 279l0-3 3-1 2-1 2 1 2-1 1-3 2-1 2-2 0-2M263 296l1 3-3 0-1 2-2 0 2 0 3 1 2 0 2-1 2-2M382 295l-2 0-3 1-2 1-2 2-2-2-3 0 0-3 3 1 1-2M75 309l-2-1-1-3-2-1-1-3-3 0-1-2-2 1-1 3 3 0M50 257l-1 2-2-1 0-3 0-3 2 2 2 2-3 1-2 1M199 306l-3-1-2 1 2 2 2-2 2-1 3 2-2-2-1-2-2-2M144 268l-2 1-3-1-2 1-3 0 0 3-2 1-1 3 1 2-1 2M79 271l-1 3-2-1-3-1-2 1-3 1-2-2-1 2 1-2-2-2M380 259l-2 2 2-2-3-1-2-1-2-2-2-1-2 1 0 2-2 2M176 337l-2 1-2-2 2 0 2 2-2 2-2-1-2-2-1-2 1 2M327 319l0-3-3 1-1 2 0 3 0 3-2-2-3-1 1-3-3 0M69 346l3 0-2 2-3-1 1 3-2 1-2 1-2 2-2-3 3 0M355 347l0 3-2 2 1-3 2-1 0-3 0-2 0-3 3 1-1 2M158 361l-2 0-3-1-2 1-1 2-2 2-2-2-2 2-2 1 0-2M71 276l2 0 2-2 2 1 2 0 1-2 2-2 0-3 2 0 3 0M366 328l1-2 1-3-1-2 0-3 0-2 1-3-2-2 3 0 3-1M380 348l-2 0-2 2-3-1-3 0-1-2-2-2-2 1-3-2 2-2M188 257l2 1 2 3 0 2 0 3 2 2-1-2 0-3 1-3-1-2M316 249l-2 0-3 0-3 0 0 2 1 2-2 2 2 2 2-2 2-2M382 351l-2 1-3 0 1 2 3 0 0-3 3 1-2 3 2 2 0 2M225 301l-2-1-1-2-1-2-3-1-2 1-3 1-2 0 0 3 2 1M327 353l-3 1 0 2 0 3 1 2-2 2-2 2 0 2-3 0-2-2M320 240l2-1 2-2 0-2 3 1 0 3 1 2 1 2 3-1 2 1M388 362l1 2-1 2-3 1 1-2 1-3 3 1 2 1 3 0 0 2M209 307l2 1 0 3 0 2 2-2-3-1-2-1-1 2-1-2 0 2M265 302l-1 2 2 2 0 2-1 3 2-1-2 2 1 3 2 1 2 2M293 353l1 2-1 2 1 3 2-2 1-2 2-2-1-2-3 0-2 0M92 309l2 2 0 3 0 2 2-2-2-2 2-1 3 0 2 0-2 2M93 235l2 1 3 0 2-1 1-2 3 1 2-1 2 2-2 2-1 2M111 275l-1 2 0 2-1 3-1-3 0-2-2-1 2-1 3 1 1-3M353 254l-2 1 3 1 2 1 2-1 1-3-2-1-2-2-2 1-1 3M78 350l2-1 1-2 0-3 1 3 1-2-2 0-3 0 2-3-1-2M325 331l-2 0-2-1 2 0 1-3-1-2-2-2-2 0-3 1 3 0M225 350l-2 2 3 0-2-2-3 0-2 0 1-2 0-3-1-2 1-2M284 307l2-1 0-3 1-2 0-3-2 0-3-1-1 2 2 2-1 2M208 348l2-1 3-1 1 3 1-2-3-1-2 1-3 0-2 1-1-2M161 328l0 3 2 1 1 3-1 2 0 3-1 2-1 2-3 1 0-2M128 311l2-1 2-2 1-3 3 1 2 1 1-2 2-2-3-1-2 2M249 309l-2 1-3-1 2-2 2 1 2-1 2-2 3-1 1-3 2-1M275 240l-1 2 2-1 2-2-2-2 3 0-1-3 2-1 1 2-1 3M149 330l1-2-2-3-1-2 2 2 1 3 0 2-2 2 0 2 2 2M202 274l-1 2-1 3 0 2 2-1 2 1 3 1-2 2-1 2 0-2M367 335l2-1 0-3 1-2 1-2-3-1-2 0-2 2-3 0-2 2M395 270l1-2-2-2-1-2-2-1-2 1-3 0 0-2 2-2-3 0M135 252l3 1-1 2 2-2 2-2-1-2-1-2-1-3-2-1-2 1M198 245l-3 0-1 2-1 2-2 2-2 1-2 2-2 0-1-2-2-2M362 322l-2-1-3 1-2-1-3-1-2-1-2-2-1-2 2-2-1-3M364 368l2-1-2-2 2-2-1-2-2 0-2 2-1 2-3 0M329 249l2-2 2 1-1 3 2 1 3-1 1 3 2 1 2 0 2 2M353 370l-1-3-2 1 2-1-1-3 0-2-1-2-3-1-1-2M288 261l0 3 2 2 2-2-2-2-3-1 3 2 1 2 0 2 2 0M392 342l-1-3 2-2-2-2 0-3 0-2-2-2-2 1-1 3-2-2M337 335l-2 1-3 1-1-2 1-2 2 2 2-1 2-1 1 3 1 2M364 278l2-2 2 1 3-1 1-3 2-2 2 0 2-2 0-2 0-3M71 326l-2-2-2-2-2 1-3 1-2 2 0 2 0 3 1 2 3 1M229 352l1 2-3 0-2 0-1-2-1-3 1-2-2 0 2 2 2 1M46 294l2-1-2-1 0-3 2 1-2 2 2-1 3 0 2-2-1-3M88 288l0-3 2-1 2-2-2-1 2 2 2 2 1 2 3 1-1-3M95 274l2 0 1-3 3 1 1 2 1-2 2 1 0 3-2 1-2-1M102 299l-2 2-2 2-2 2-1-2 2-2 1-3-1-2 1-2 1-3M246 281l-2 2-1-2-2-2-2-1-2-2-1-2 1-3 2-1 0-3M299 268l1-2-3-1-1-2-3 2-2-1-2-1-2 3-1 2-3 0M383 258l-2 2-2 1 2 2-2-2-2-1-3-1-2-1 2-1-1-2M187 331l-3-1-3 1 0 2-3 0-2-2 1-2 1-2-1-2 0-3M295 295l-2 1 0-3 1-2 2-2 1-2-1-2-3-1-1-2 0-3M105 337l2-2-1-3-3 0-2 0-2-2 0 3 3-1 2 0 2 1M262 232l1-2 2-2 2 2 2-1 1 2 3 0 2-2-2-2-3-1M299 369l2-2 2-2 1-2 2-2 3 1 1 2 1 2 1-2 1-2M340 308l1 2 3 1 2-1 3 1-3-1-2 2-2 0 2-1 3 0M265 245l3-1-1-3-1 3 1 2 2 0 1-3 2-1 1-2 1-3M56 238l0-2-2 0 0 2 2-1-2 2 1 2 2 0 2-2 1 3M358 348l-2 0-3-1 3-1 2 1-1 3-2 1-2-1 1-2-3-1M242 234l3-1 2 0 1-3 2-2-1 3 2 1-2 2-1-3-2 1M332 241l2-1 3 0 3-1-1 3-1-3 1-2 3 0 0-2 3 0M109 249l3 0 2-1 3 0-2 1-3-1-1-2-2 0-1 3 3-2M333 291l-2 0-2-1-3-2-2 0 0 2 2 2 2 1 2 2 2 2M202 264l2-2 1-2-2-2-1-2 2 1-1-2-3 1-2-2 1-2M214 323l0 2-1-2-2 0-2-1 2-1-1-3 0-2 3 0 3 0M325 258l-2 2 0-2 3-1 1 2 2 0-1-3 2-1 3 1 0 2M399 262l-3-2-2 0 0-2-1-3 2-1 2 1 0 2M217 362l0-2-3-1 0-2-3 0-2 2 3 0 1 3 0 2 2 0M75 240l-1 3-2 1 3 0-3 0-1-2 2-1 2 1 1 2 3 0M285 289l-1 2-1 2-2 2-1 3-2 0 1 3-1-2 2-2 2 1M395 367l-2-2-2-1-2 2 1 2-2 0-3 1-1-3M198 362l-2 1-2-1-3 1 2 1 3-1-2 2-2-2-3-1-2 1M110 344l2-2 0-2 1-3-1-2 2 0-1 2 0 2 3 1 1 2M82 305l-1-2 2-1 2-2 3 0 0-3 1-2 2-2 2-1 1-2M373 316l0 3-2 1-1 2-2 2-2-1-2-2-2 1-2-2-2-2M369 284l1-2 1-3 3 1 2 2-1-3 1-2 2-2-3 1 1 3M249 233l-3-1-2 0-3 1-2-1-1-2-2-2-3 2-2 0-2-2M286 279l-3 0-1 3-3 0 2-2 2-1 2-2 2 2 3 0 3 0M188 330l-1-2-3-1-2 2 3-1 1-2 1-2 0-3-2-1-2 1M185 339l-2 2 0-2-1-3 0-2-1-3-2 0 1-3 3 0-1-2M179 289l3 1 0 3 1 2 2 2-1 2-2 1-2 2 1 3 1 2M392 336l-2-1-3-1-2-2 3 0 2-2 2-2-2-1 1-3-1-2M136 350l-2 0-1-3 2 2 2-1 2-1-2 0 1-3 2 1 2-2M45 279l1-3-1-2 2 1 3 1 2-2-2-3-2-1-2-1M212 322l1-2 3 1 2 1-1 3 1 2 2-1 0 3-2 1-3-1M302 331l3 0 2 2 2-1 1-3 0-2 3 0-1-3 0-2 2-2M98 273l-3-1 0 3-2 0-1 3 0 2 2 1 2 1-1 3 1-3M224 347l1-2-2-2 0-2-2-2 0-3 2-1 2 1 1-2-2 1M152 294l3-1-3 0-1 2-1 3 1 2 1 3-2 1-3 1-1-2M320 316l-2 2 1 2-2 2-2 1-2 1-3 0-1-2-1-2-2-2M176 262l-2-1-2-1-2-2-1-2 0-3-3-1-2 2-3 0 0 3M206 335l-1 2-1 2-3-1-2 1-3 1-1-2-3-1-1-2 1-3M275 366l2-1 1-3-2-1 1-2 1-3-1-2-3-1-2 0-3-1M168 278l-2-2 1-2 0-3-1-2 0-3-1-2-2-1-2-1 2-1M234 325l2 0 2-2 2 0-1-2 2 0 3-1 1 2-1 2-2 0M97 362l-2-2 2 1-1 2-2-2-1-3 1-2 2-1 3 1 1 3M218 347l2 2 2 2 0 3 0-3 3 1 2 1 2-1-2-2-3 1M184 262l1 3-1 2 2 2 3 1 0 2 1-2-2 0-2-2 2 1M251 228l-3 0 3 1 2 0 1 2 3 0-2 2-2 1 1-3 2-1M198 279l2 1 3 0 2-1 2-1 3 0 2 1 2 2 1 2 1 3M272 251l-2 2 2-1 3 2 0 2-1 3 2 1 3 1 0 2-3 2M79 272l2-2 1-2 2-2 1-3-2-1-3-1-3 1-2-1-2-1M189 281l1-3 1 2-2 1-3 0-2-1-2 1-3-1 1-2-1-3M164 304l2 1-2 1 1 3-2 1-3 1-1-3-1-2 1-3 3 0M179 311l-3 1 0 2-2 2-2 0-3-1-1 2-2 1 2 1 2-1M292 335l-3 0-1-2 2-2 3 0 1 2 0 3-2 1 1-3 2 0M334 311l3 1 2-1 2 2 0-3-2 2-2-1-1-2-1-3 3-1M284 301l-2 2-1 2 1 3 0 2 2 2 2 2 3 0 2 1 2-2M328 326l2 1 2 2 2 1 2-2 3 0 1 2 2 2 0 2 2 1M338 272l2 3 2 0 2-2-1-2-1-2-2 0-2 2-2 1-3 0M296 317l1-2 2 1 3 1 2 1-2 1 0 3-1 2-3 0 1 3M394 257l1 2 1 3-3-1-3 0-2-1 0 3-1 2-3 1-2-1M367 286l-3 1-2 0-3 1 1 3 0 2 2 3 2 0 3 0 2-2M252 296l-2 0-1 2-2 2-1 2 3 0 2 0 1 2 3 1 2-1M301 278l0 3 2-1 1-2-3-1-2 1-1 2 0 3 1-2 2 1M80 286l3 0 1-2 2-1 2-1 3-1 0-3 1-2 3-1 1-2M228 237l-1-3-2-1-2-2-3 0-2-1 1 2 2 1 2-2 2 2M323 289l2-2 1-2-2 1-3-1 1-3 2-1 2-1 0 3 3 1M377 260l0-2 0-3-3-1-1-2-3 0-1 2 1 3 1 2-2-1M295 301l2-1 3 1-2 2 0 2 2-1-2 2-2 1 1 3 0-3M162 340l3 0-1 3 1 2-2-2-2-2 1-2 1-3 1-2-2-1M137 322l-3 2 1 2-2 1-2 2-2 2 0-3 3-1 2 0 3 1M122 313l-2 1 2-1 2 2 1 3 1 2 1 2 1 2 3-1 1-3M86 313l2-1 2-1 3 0 2-1 2-2 3 0 2-2 1-2 1-3M125 335l-2 0-3 0 0-3-1 3-2-2-2 1-1 2 0 3 2 1M307 264l-3-1-1-2 0-3 1-2 2-2 0-3 2-1-2 0-2-3M273 301l-2 2 0 3-2 2 3-1 2 1 2-2-2 1-3 0-1-2M330 358l1-2 3-2-1-2 1-3 3 1 2-1 1-2-3 0-2 1M335 245l-1-3 2-2-2-2-1-2-3 0-2 2-2-2 1-2 2 2M144 332l2-2 2-2 1-2 2-2 2-1 3 0-3-1 0-3-1-2M82 286l-3 0-1-1-1-3 1-2 3 0 2-1-1-3-2-1-3 0M204 248l0 3 1 2-1 3 1 2 2-2 2-1 0-2-3 1-2-2M294 263l-2-2 0-2-2-1-2-2-2 0-2-2 2-1-1-3 1-2M317 295l0-3 2 0 2 1 2-1 3 0 1 2 1 3 2 1 3-1M49 242l-2 1 1-3 1-2 3-1-2 2-3 0 1 3-2 0 2-1M297 299l-2 0-2-2-2 1-3-2 3 0-2 2 1-2-2-2-2-1M237 369l2-1 1-3-1-2 0-3 3-1 0-3 1-1-1-3M50 275l-1-2 2-2 2-2-2 2-2-2 3 0-1 3-3 1 0-3M200 258l3 1 2-2 2-1 2 1-1 2 2 2 2 2 2 1 2 1M88 285l1-2 1-3-2 1-3 1 3-1 2 2 2-1 1-3 1-2M366 288l-1-2-2 2 3 1 2-1 2 2 2 2 0 2 2 0 1 3M66 251l2 0 0-2-1-3 3 1 2 1 1-2 2-2 1-2 1-2M120 313l1 3 0 2-2-1 1-2 3 2-1 2-2 2 2-2-3 0M321 339l-3 1-2 0-3-1 0-3-3-1-1-2-1 3-2 1 2 2M364 359l-2-2-3 2-2-1-2-2-2 0-3-1-2 0-2-2-2-1M308 260l2 0 1 2 0 3 0 3-1-3-1-2 0 3-1 2 0 2M339 292l2 0 1-3 3 0 0 2 1 3 3-1 1 2 1-3-1-2M222 292l3-1 0-3 3 0 2 2-1-3-2-1-3 0 0 2 2 3M228 362l-2-1 1-2 0-3 0-2-1-3 2-2 2-1-2 2 2-2M319 311l1-3 1 2 1 3-1 2-2 2-1-3 0-2 3 1 2-1M133 275l2 2-1 2 0 2 2 1-3 0-2-1-3 1-2-1-1-3M84 254l2 1-1 3-2 1-3 1-2-1-2 2-2-1-1-3 1-2M390 352l2 0 3-1 2-2 1 2-2-1M320 315l1 2-2 2 2 1-3 1 2 2 2 1 1-2-3 0-2 0M89 263l-2-2 2-2-3-1 0-3 0-2 0 2 2-1-2-2-2-1M136 270l-2-2 3 0-1-3-2-2 0-2 1-2 0-3-3 1 1 2M158 247l-1 2-3 0 0-3-1-2-1-3-1-2-3-1-2 0-1 2M152 285l-1-1-1-3-3 1-1-3 3-1-3 2 3-1 2 1-2 1M272 232l-1 3 2 2-3 1-1-2 1-2-1 2-1-3 2-2-3 0M308 260l0 2-1 3-1 2-1 3 1 2 2-1 0 2 3 0 2 0M88 260l-1-3-2-1-2-2 2-1 2 2 2 2 1 2 1 3-2 0M379 343l3 1 2-1-1 2-1 3 2 1 1 3 2 1 2-2 2-1M364 343l0 2-2 0 1 2 3-1 2 1-2 2-2-1-3 1 0-3M241 340l2-1 2 1 3 2-1-3 0-2 3-1-2-2 2-1 1-2M234 268l2 1-2 2-2 0-2 2 0 3-2 0-3 0-2 0-1-3M45 241l2-2 2 1 1-2-1-3-3 0-1 2 1 3 1 2 2 2M244 230l3 1 0-3-2-2-2 0 0-2-3 1-2-1-3 0-2 1M272 303l1-3 2-1 1-2-1-2 0-3-1-2 1-3-2 1-3 1M195 318l-3 0-3 0 2-1 3-1-2-1-3-1-2-2 2-2-1-2M61 275l-2-1-1-3 3 1 2 0 2 1 3 1 3 0-2 2 0-3M263 268l-2-1 0 2 2 2 0 2-1 3-2-1-3 1 3 2 1 2M387 323l2-2 2-2 0 2 0 3 3 0 1-2 1-2-2-2 1-3M152 351l1 2 0 3-2 2 3 1 2-1 3 1-2 2 1-3 3-1M51 347l1 2 0 3 2 2 2 2 2-1 3 1-1 2 2 2 0 3M153 343l0-2 1-3 1-2 0-2 1-3 2 0 2 1 1 3 0-3M242 284l0 3 2 1 2 1 0-2-2-2 0-2-2-1-2-1-3 0M190 340l0-2-2 0-2 2-3-1-2-1 1 3 0 2-1 3 2 0M325 312l-3-1 3 0-1-3 1-2-3 0 0 3-2-1 3 0 2 1M77 243l-2-1 0-2-2 2-2 1-3 1 0-3 0-2 2-2 0 3M58 244l1 3-1 2-2 2-3-2-2 1 0 2-2 2-2-1-1-2M261 272l-1-2-3 1-2 1-3-1-1 2 2 0 3 1-1-3 0-2M223 364l3 0 1 2 1 2 2-2 2 1 2-1 2 0 3 1M388 333l0-3 1-2 2 2-1 2-2-2 2-1 2-3 2-1 2-1M74 346l0-2-2-2 3 1 2 2-3 2-2-1 2-2 1 3 3 0M67 262l1-2 3 0 0 3-2 2-1 2-1 2-2 2-3 0 2 1M143 262l-2-1 1 2 2 0 3 0 1-3 1-2-1-2-3-1 0 3M49 299l2-1-1-2-2-2 2-2 2 1-1-2-2-2-2-1 0 2M328 314l0 3 0 2 2 2 1 3 2-1 2-1-1 2 3-1 1-2M112 318l-3 1-2 0-3-1-2-2-1-2-2-2 2-1 2-2-3 1M180 289l2 1 3-1-1 3-1 2-3 0-1-2 0 2 3 0-2 2M117 283l2 0 2-2-2-2-3 0 2 2 3-1-1-2 1-2 3 0M393 305l2 2 2 2 2 2-2 2-2 1 2 0 1-2-1-3M173 325l2 2 2 0-1 2-2 1-3 0-1 2 1 3 1 2 1 2M287 326l0-3 1-2 2-2 1-2 1 3 0 2 1 3 2-2-1-2M346 237l-2-2-1-2-3 0-2 0-3 1-2-1-3 1-2-1-2 1M338 252l2-2 2-2-2-2-2 0-1-3 1-2 2 3 2-2-2-2M277 252l2 0 1-3-2 2-2-1-2 2-3-2-1 3 0 2-3 0M319 309l-2 2-1 3-2 0 0-2-3-2 0-2-3 1 0 2 0 3M53 311l2 1 3-2 2 0 2 2 1 2 1 3-3 1-2-1-1 3M284 282l1 3-2-3-2 0-3 0 2-1-1-2 2-1 2-2 2-2M270 227l-1 2-1 2-3 1 0 3 2-1 3-1 2 1 1 2 0 3M80 284l-3 0-2-1 1-3 1-2 1-2 1-3 1 2-2 1-1-3M216 255l0-3-3 1-2 1 0-2-2-3 3 0 2 1 3 1 2 1M343 259l2 0 2 2 2 0-1-2-3 0-1-1-2 2 2 1 2-1M201 335l1-3 3 0 2-2 2 2 2-1 2 2 1 3 1 2 2 1M199 238l-2 1 2 1 2-1 2-2-1-2 2 0 3 0-3 1M336 267l-2-2-3 0 2-2 1-2-2-1 2 2-3-1-1 2-2 0M183 346l-2-1 2-1-2-1-2-2-1 2 1-2 3 0 2-1 3 0M287 249l-2-2-2 1-2 2-2 2-2-1-2 2-3 0-2 1-1-3M265 274l2-2 3 2 1 2-2 1-2 2-3 1-1 2 1 2 0 3M356 340l-3-1-2 2 0 3 1 2-1 2-1-3 1-2 2-2 2-2M65 306l0-3 2 1 2-2 2-2 2-1 3 0 1-2-2-2 2-2M215 360l0-3 0-2 2-3 2-2 2 0 2 2 3-1 2 1 3 0M312 305l-2-1 2-1-1-2 1 2 2 1 1 2 2 0 3 0 2 0M251 304l2 1 3-1-1-2-2-2-1 2 2 2 0-3 3 0 1 2M221 369l-2-2-2 0-3 1 1-3-1-2-2-1-2-3-2-1 0 2M361 330l2 2-3 1 1 2-2-1-2-2 0 3-2 2-2 1-1 2M97 363l1 2 1 2-1 3-3 0-2-2M239 338l2-1 2-2 2-2-2-2 1-2-3 0 2-1-2-2-2 2M53 289l0-3-2 1 0-2 1-3 1 3 3 1 0 2-2 1 1-3M211 307l-2 1-1 3 2-2 3-1-1-3-3 0 1-2-2-2-2 1M61 265l-1 2 1 2 2 0 3-1-1 3 1 3 2 1 2 2 3 0M220 323l3-1 2 2 0-3 0-3-2-1-2-1 0-3-2-1 0-3M132 357l-3 0 2 1 2 2 3 0-3 0-3 1-2 0-1-2 1 2M71 284l1 2-1 2 3 1-1-2 1 2 0 3 0 2 1-2 2-2M111 356l2 2 0 2 0 3 2-2 0-3-1 3 1 2 2 2 0 2M294 346l-3 1 0-3-2-1-3 0-2 1-2-1-2-2-3 0-2 1M118 308l-2-2 1-2-1-2 1-2-2-1 0-3-3-1-2 0-2 2M281 360l3 0 2 1 1 3 0 3-1 2 1-2-3-1 1-2-3-1M114 250l1 2 0 3-2 2-2-2-1 2-2 1-3 1-1-2-2 2M392 295l-3-1-2 1 1 2 2 2 3 0-2-2 1-2-3 0-2 1M124 332l0-2 2-1 3 1 2 1-1 2 0 3 1 3-2 2-2-2M255 242l-1-2-2-2-3-1-2 0-3 0 2 3-1 2 2 2 2 1M103 346l2 2-3 0 0 3 0-3 1-2 1-3 2-1 2-2 2 1M236 335l3-1 1 2 3-1 2-1 1 3 0 2 2 2-1-2-3 1M244 294l3 1 2 0 1 2 2 1-1-2 2-2 2 2 1-3 2 2M328 237l2-1 2-3 0-2 2 2 2 1 2 1 0 3 0 3 2 0M309 304l-1 2 3 0 2 2 2 1 2-2 0-3-2-2-3-1-2 2M348 309l-1 2-2 1-1-3-1 3 0 2-3 1-3-1-1 2 0-2M228 354l-3-1-2 0-1-2-1 2-3-2-2 1 0-3 0-2 3-1M247 248l3-2 1-2 0-3-1-2-2-1 1-2 3-1-1-2-1-2M381 259l1-3-2-2 2 2 0 3 2 2 2 1 2-1 3 0 2 0M247 312l3 1 3 0 0 3 1 2 0 3-1 2 1 2-3 0-1 2M198 365l2-1 2 0 3 1 3 0 2-1 2 2-1 2-1-3M201 265l1-2 0-3 2-1 2-2 1-3 2-1 0-3 1-2 3 0M337 331l2-3-3-1-2 1-3-1 0 2 1 3-1 2 1-2 1-3M207 284l3-1 1-2-2 0 0-3-3 2-2 0-1 3 2 1 0 3M354 270l2 1 2 3-2 2 0-3-2-1 0-3 2-1 2-2 1 3M73 275l-2 1 0 3 0 2 0 3 0-3 2 2 1 2-1 3 0-3M82 253l-2 2-2 1 3 0-2-2-1 3-1 2 3 1 2-2-1 3M384 324l-1-2-1-2-3-1-2-1 1-3-3-1-2 0 0-3-2-1M59 288l-1 2 1-2-1-3-2-2 1-2 0-3-1 3-2 2-2-2M302 296l2 0 2-2-1-2 0-3-2 0-2-2-2 0-3 0-2 1M226 363l-1-2-2-2 0-2 3-1 1 3 1 2-2 2 2 3-3 0M353 270l-2-1 0 3 0-3-2-2 2-2 0-2 3 0 2 2 1 2M45 336l1 2 1 3 2 2 1 2-2 1-2-3-1-2 1 3M59 289l0 3-1 2-3 0 0 2-2-2 1-3-1 3-2 1 1-2M319 271l3-1 2 0 3-1 2-2-2-2 0-3-3 1-2 2 2 2M137 248l-2-1-1 3-3 1-2 1-1-2-3-1-2 0 0-3-2 1M105 249l1 2 0 2 0 3-2-2 1-3-2-1 0 2-3 1-2 2M95 314l-2 2-2-1 3 1 2 1 2 1 1-2 1-3-1-2-2 2M69 268l-3 0-2 2-2 1-3 0 0 3 0 2 3 1 1-2 3-1M60 277l-1 2 0 3 0 2 0 3 1 2-1 3 3 0 2 0 1-3M80 356l3 0-1 3-2 1-3 0-3 0-2-1-2 0 2 2 0 2M112 316l-2 2 0 2-2 1 1 2 1 3 0 2-1 3 1 2-3 1M125 271l1-2-2 1 2 2 0 3 0 2-2-2-2 0-1 3 3 1M313 276l1-2 1-2 0-3 2 1 3 0 0-2 1-3-1-2-2-2M52 340l2-2 2-2 2-1 2 2 2 1 2 2 1-3 0-2 2-3M152 274l1-2 0-3 0-2 2-1-1-3-3 0-2-2 3 0 2 0M70 253l-3 1-2 0 3 0 2 0 2-2 3 0 2 2-3 1-2-2M255 248l3 0-2 2-3 0-2-2-1-2 3 1-1 3-1 2-3 1M178 247l1-3-3 1-1-2-2 1-1 3-3 1-2-1-1-2 0-2M385 294l3 0 0-2 1 2-1 3 0 2-2 2 0 2 0 3-1 2M218 260l-2-2-3 0-1-2 1-2-2 1-3 0-1 3-2 2-1 2M129 245l0 2 2 3-3-1 3-1-1-3 3-1 2 1 1 2-1-2M171 369l-2-2-2 1-3 0-2 1 2 0 3-1 2-1M80 265l-2 1-1 2 0 3 0 2-1 3 1 2-3 0-2 1-3 0M70 332l-2-2-2-2 3-1 1-3 1-2 0-2 2 0 0-2-1-2M99 310l-3 1 2 2-3-1 0 3 3-1 1-2-2 0-2 2-2 2M151 349l0-2 0-3-1-2-1-3-1-2-2-1-3-1-1-2-2 2M389 293l0 3-1 2 0 3 3 1 0 3 1 2 0-2-2-3 0-2M335 361l1-2-3 1 1-2 0-3-2-2-3 0-2-1-2-1 0 2M215 305l-2-2 0-3-2-2 0-2-3 0 2-2 2-2-2 1-1-2M278 357l-3 0-2 0-3 1 2 2 1 3 1 2 2 2-1 2 2 0M143 271l-1-3 3 0-2-2-2 1 2 1-3 1-1 2-3 1-2 1M58 328l-3 0 1-3 2-1 2-2 2 0-2 1-2-3 1-2 3 0M317 277l3 1-2 2-1 2-2 2 2-1 3 0 1 2 2-2-2-2M82 305l2 1 3 1 2 1-1 3 1 2 3 1 2 2-2 1-1 2M223 330l0 3 3 0 0-3 2-1 3-1 2-1 2-1 2-2 2 0M70 267l-2-1 2-1-1-3 2-2 2 0 3 0 1-3 2-2 1-1M193 242l-2-2-1-2-2 1-2 2-2 2 2 2 2 0 1 2-2 2M308 369l-2 0-3 0-2-2-2 1-3-1-2 1-3-1-2 0M86 348l-2-2 0 3 1 2 0 3-2 1-2-1 1-3 2-1-3-1M299 297l3 1-2 2-2 2 3 1 2-1-2-1-2-2-2-1-3 0M53 362l1-2-1-2-3 0-1-2 1-2 1-2 0-3-3 0 1-3M77 275l1 3 0 2-3 1-2-1-2-2-2 1-3 1-1 2-3 0M302 287l0-3 0-2-1-3 1-2 0 2-2-1 0-3 2-2 2 2M284 306l1-3-2-1 2-2 2-1 2-2 1-2 3-1 2 2-2 1M349 363l-3 0 1-2 2-1 3 0-1 2 1 2 2 2-1 3M309 273l3-1 2-1 2 1 2-2 2 0 1 3 0 2 3 0 0-3M371 365l-1 3 1-2-2 0-2 2 2 1 2-1M190 283l2 1 3-1 2 1 1 2-2 3-1 2 2-1 3 1 2-1M396 251l-3 0-2 1-3 0-2-2-2 2-2 1-2 1 0 2-2 2M65 260l-1 3 2 0-2-2-2 1-3 0 0-3-1 3-3-2-2 0M328 309l2-1 1 2 3 1 2 1 2 1 1-3 1-2 2 1 3-1M312 265l-2 1-2 2-1 2-2 1-1 3 3 0 1-3 3 1 2 0M66 306l2 1 1-3-1 3 3 0 1-2 1-2 2-2-1-3 2 2M366 356l-3 0-1 3 2 2 2-1 2 1 2 2 0-3-2 2-3 0M241 363l-1 2-2 1-3 0-1-2-1-2-2-2-1-2 0-3 3 0M388 251l-2 1-1 2-2-2-3 0 3 0 2-2-1-3 3 0 2 1M81 297l-2 1-2 1-2 2-1 3 2 1 3 1 3 0 0 3-3 0M65 283l2 2 2 2 1 2 2 1-1-2-2 1 0-3-2 1-2-2M285 353l2-1 3 0 0 3-3-1-2-1 1 3 2 1 0 2-1 3M153 248l1 3-1 2-2 0-3 2-1-2-1-3 2-1-1-2 0-2M65 240l-1-2-2-2-1-2-2-1 2 0M63 310l-1-3-2 0 2 2-2 2 1 2 3 1 1 2 2-2 2-1M174 363l-1-2 2-2 2 1 2-1-2 1 1 2 2 3 2-2 1-3M324 322l0 2-2 0-3 0 0 2-2 1-1 2-3 0-2-1-1-2M294 308l1 3 1 2 2-2 1-2 3 0 2-2 2-2-2-2 0-3M128 305l-1-3 0-2 2-2 2-2 3 0 0-3 3-1-2-2-2-1M154 297l1-2 3-1 2 2 3 0 2 0 3 0 2-2 1-2-1-3M394 313l-2 0-3 1-2-2 0-2-2-2-1-2-2 2 2 1 1 2M109 305l-2 1 2 1 1-3-2 0-2 2 0 2 0 3 0 2 2-1M308 241l0-3-1-2 2-2-2 1 0-2 2-2-1-2 3-1M95 290l-3 1 3 1-2 1-3-1-1 2-2 1-3-1-2-1-1 3M203 321l3-1 1-2-3 0-2 0-2-2-1-2-1-2-1-3-2-1M59 246l3 1 1-2-2-2 3-1 2 2 2 1 3-1 2 0 3 1M210 292l2 2 2 1-2 2-2 2-3-1-2 1-2 2 3 0 2 1M291 252l3 0 0-3 2-1 0-2-1-3-2-1 0-3 1-2 2 1M103 278l1-2 1-2 0-3-3-1 2-2 2-1 1 2 1 3 1 2M351 243l2 2 0-3 2 1 3 0 1 2 2 1 0 3 2 2-2 1M55 236l0 3-2 1-1-2-2-1-3 1-1 2 0-3M327 316l0-3-2-1-2-2 1-2 2-1 3 2 1 2 1 2-2-2M354 260l1-2 2-1 1-2-2 0-3-1-2 1-1 3 3 0-1 3M308 281l-2-2 2 1 3-1 2 0 0-3-2 2-2 2-1 2-1-2M152 257l-3 0-2-1-3 0-2 1-3 1-2 0-2 2 2 1-1 3M214 229l0 3 2 2 2 1 3-1-1-2-3-1-1-2-2 1 2 2M168 304l-1 2 0 2-1 2-3 0-2-1 1-3-3 1 0 3 2 1M377 272l-2 2 2 1 0 3 2 0 3 1 1 2 0 3 3 0-2-2M321 361l-1-3-3 0 0-2 2-1-2-2 0-2-2 1 0 3 0 2M149 288l-3 0-2-1-3 0 1-2 2 1-1 3 2-2 2 0 2 2M347 334l3 0 2 2 1-3-3-1-1-2 0-3 0-2 0 2-3 0M134 309l3 1 1 2 1 2-1 2 1 3 1 2 0 2 2 1 1-2M154 356l1-2 2 2 1-2-2-1 0-3-1-2 1-2 0-3 0 2M233 233l2-1 2-1 0-3 2-1 1-3 1-2 1-3-1 3 2 1M319 358l2 2 2-2-1 2 0 3-1-3 2-1 2 1 3 0 2-1M281 288l-2-1 2 0 2 2 3 0-1-2-1-3-2 2 3-1 1-1M189 268l0-2 0-3 1-2-1-3-2-1-2-2-2-2-1 3 0-3M231 356l3-1 1-2 3 1 2 1 3-1 2 1 3 0 1 2 3 1M314 367l0 3 2-1 3 0-3 0-2-1M238 250l-2-2-1-2-1-2 0-3-3 0-2-2 0 2-1 3-2 1M273 287l1-3 2-2 1-2 2-2 0-3 2 1 0-2 3-1-2-2M233 364l1 3-3 1-2 0-3 1 2-2-3 0-2 2M388 239l3-1 1-2 3 1 2-2-3 1-2-1-1 2-1 2M196 354l0 3-2 1-3 0-3-1-1-2-3 0-1-2-1-3-1-2M96 259l2-2 1 3 0 2-2 1-3 1-1 2-1 3-3-1-2-1M298 338l2-1 3 0 2 1 2 2 2-1 3-1 0-3 1-2 3-1M302 284l-3 1-2 2-1 2-1 2-2-1-2-2-3-1-2 2 2 2M93 305l-2 2-2-1-2 3 2 1-1 3-2 1 0 3 2 2 2 2M47 334l3-1 0 3 2 2-1 2 1 3 0 2 2-1 2 2 2-2M154 353l1 3-3 0-2 1-2-2-1-3-2-2 1 3 1 2 2 1M320 322l0 3-1 2-2 2 2 2 3 0 1 2 2-2 2-1-2 2M309 290l2 2 1 2-3 1 3 0 2 1-2 2 3 1-2-2-1 2M374 307l-3-1-1 2 0 2 2 1-1 3 1 2-3 1 0 3 2 1M116 355l-1-2-2-1 0-3 1-2-2 0-3 1-2 2 0-3 0-3M82 323l-1 2 2 2 2 1 2 0-2 0-2 1 1-2-1-3-1-2M287 355l2 1 1 2 1 3 2 2 0 2-2 3-2-1-1-3 3-1M277 272l-1-3-2 2 2-1 2-2 0-3 1-2-1-2 0-3-2-2M122 320l-1-3-2 2-2 0 0-3 0-3 1-2 2 2-2-1-2-1M113 304l3-1 2-1 1 2-2 2-1 2 2 2 2 2 2 1 2 2M225 282l-2-1-1-2-2 0 0-2 2-2 0-2-2-2-1 3 2-2M203 328l-2-1-1 3-1 2-1-2 2-2 2 2 2 1-2 2-2 0M184 352l2 0 2-2 1-2 1-3-2 2 2-1 0-2-3 0 2 2M397 283l-2 1-2 0-1 2-1 3 1 2 2-2 0-2-2-2-1-2M333 279l1 2 2 1 0-2-1-3-1-2-2-1 1-2-2-2 0-3M128 299l0 2 3 0 1-2 0-3-2 2 1 3 2-1 2 1 3 0M235 359l-2 2 0 2 3 1-3 1-2 0 1 3-2 2-2 0M184 266l-1-3-3 0-2-1-2 2-1 2 2 2-1 3 0 2-2 2M318 341l0 2 2 1 1 3 1 2-2-1-2 3-1 2 0-3-2-1M355 249l-3-1-2 0-1-2 3 1-1 2-2 0-3-2-1 2-1 3M303 317l-2-1-1-2 1-3 3 0 2 2 2-2 1 2-2 0 0 3M382 357l2 2 2-1-1 2-3 2-1 2-3 0-1 1-1-2 2 1M180 327l1 2-1 3-2 1-3 1-2-1-2-2-1-2-3 1-2-2M299 346l2 2 1 2-2 1-3 0-2-1-2-2-2-2 3-2 1-1M218 339l-2-1 2 2 2 1 3 0 2 0 2-1 3 1 2 0 0 3M356 291l0-3 0-3 1-2 0-3 3 1-2-2 1-2 0-3 2-1M164 320l2 1 3-1 2 2 1 2 2 2-1 3 1 2-2 1 2 1M71 359l0-3-2-1-1-3-2 2-2 0-3-1-1 2-1-3 2-1M281 275l-1 2 3-1 0-2-1 2-2 2-1 2-1-2-2-1-2-2M339 319l1-2 0-3-2-2-2 2 0 3 2 2 2 1 0-3 2-1M52 242l2-1-1 2 0 3 0 3 0 2 1 2-1 3 2 2 2-2M258 296l-2 1-2 2 0-2-2-2 2 1 2-3 1-2 0-2 1-3M246 338l-1-2 2 0 2 1 2 2 3 1 0 2-2 3-1 2-2 0M97 329l2 1 2 2 2 1 0-2 1-3 3 1 2-2 0-3 1-2M250 323l-2-2-2-2 2-1 2 2 3 1 2-1 2-2 0-2 1-3M94 326l2 2-1-3-3 1-2-2 0-3 2-1-2 0-3-1 0 3M188 276l-1-3 0-2 2 2-2 1-2-1 0-3 0-2-2-2-2-1M289 329l-2 1-3 0-1-2-2-2-2 1-2 1-3 1-1-3 0-2M362 298l3-1-2 1 0-3 2-1-1-3-2-1 1-3 2-1 0-2M192 347l3-1 2 1 3-1 0-2 0-3 2-2 1 3-1 2-1 3M277 303l0 2-2 1 1-2-2-2-2 2-3 0-2 2-2 1-2-1M337 365l3 1 1 2-2 2 0-3-3 0-2 1-2 1M80 311l-2-2-1 2 0 3-2-2-1-1-2 1-3 1 2-2 2 1M50 299l-1 2 2 2-2 2-2 2-1 2 2 1 3-1 2 0 3 1M187 309l0 2 1 2 2-1 2-2 3-1 2-1 1-2-1-2 2-2M80 293l-1-2-2-2-1-2 0 3-1 2-2 2-2 0 1-3 2 0M231 287l-3 1-1 2-1-2 0-3 2-2 3 0 2 1 1-3 1-2M318 307l2 1-2-2 2-2 1 3 2 0 2-2-2-2-2 2-1 2M207 241l1 2 3 0-1 3 3 0 2 0 1 3 2 0 3-1 2-1M229 278l-1-2-2 0-2-2-2-2-2 3-1 1 0 3 2 0 3 0M371 276l2-1 3-1 0-3-1-2 1-2 3-2-2-2-2 0 2 2M81 271l-2-1-1-3 0-2 0-3 0-2 3-1 1 2 2-1 1 3M311 359l-3 1 0 3 2 0 2 1 2-2-1-2 1-3 0-2 1-2M376 266l1 3 2 0 2 2 1-3 2 0 3 1 2 0-2 2 0 2M318 362l1-2 1-3-3 0 1 2-2 0 2 2-1-2-2 0-2-2M354 295l-2-1-2-2-2-1-2 1-2 2-2 1 1 3-2 2 3-2M284 307l-3 0-2 1 0 3 1 2 1-2 1-3 1 3 3 1 2 0M157 264l-1 3-2-1 0-2-3-1 0 2 1 2 1 3 0 2 2 0M373 307l2-2 2 2 2-1-1-2-2-1 0-3-2 2-2-1 0-3M186 305l2-1 3 0 0-3 0-2 1-2 2-2-2 0-3 0 0-3M234 341l-2 2 3 0-1-3-2 0-2-2-2-1-1-2-2-2-1-2M184 354l2 2-1 2 2-2 2-1 3-1 1-2 3 0 2-1 3 1M88 282l-2-1 2 1 2-2 2-1 3 0 2 1 3 0-1-2-2-2M160 240l0-3 3-1 2 2 1 2 2 1-2-1-2 2-3 0M90 322l1 3 2 2-1 3 1 2 0 3-1 2 3 1 2 0 3 1M148 367l2-3 2 1 1 2-3 0-2 1 2-1 2-1M162 288l-2-2 0-3 1-2 1-3 2-1-1-2-1-2 2-1 2-3M80 283l-1-2 0-3 2 2 1 2 1 3 2 1-1 3-2 1-1-3M181 268l-1-2-3-1-1-2 2-2 0-2-1-3 3-1 2-1-2-2M330 324l2-1 0 3 1-3 2-2 1-2-3-2-2-1-1-2-3-1M288 338l-3 0-1 1 0 3 2 2-1 3-2 1-2-2 1-3 1-2M313 310l-1 2-2 2-2 1-2-2-2-1-1-3-1 2-2-2-2 1M229 317l0 3 3-1 1 2 3 0 3 0 2 0 3-1 1-2-1-3M174 321l2 1 1-2 3 1 2-1 1-2 0-3-2-1-2 1-3 0M103 340l-3 0-2 1-1 2-3 0-3 0-2 0-2 1-2 3 2 2M297 295l2 1 3 0 2 1 3 0 1-3 1 3 1 2 2 2-1 3M138 367l-2 1-3-1 1 2 3-1-2-1 2-1 2 2M221 360l-2-2-2-2 0-2-3 0 0-3 1-3-1-2-1-2-3 1M345 318l-2 0-2 3 1 2 1 3 2 2 2 1 1 2-1 3 0 2M368 337l2-1 0-3 1-2 1-3 2 2-2 1-2 1-2-2-2 1M51 262l-1-3 3 0 2-2 2-1 0-3 2 2 2 1 2-1-2 0M151 262l2 3 2 0 2-1 1-2 1-3-1-2-2-1-3-1 0 3M206 271l-1-2 1 2 2 2 0-2 0-3-3-1-2 0-2 2 0 2M60 256l2 3 0 2-2 0-2 2 0 2-3 1-1-2-2-1 2 0M133 290l3 0 2-2-2 2-3 0-2 1-3 1-1 2-2 1-1 3M286 318l-2 2-2 2-2 1-2 0-1 3 2 1 0 3 0 3 1-3M170 283l-2 3-1-2-3-1 1-3 1-2-1-3 2 2-2 2 2 0M173 339l-2 1-3-1-3 0-2 1-2 2-2 0 1 3-1 2-2 2M50 318l-1-2-2 1 0 3 2 2 1 2 1 3 2-1 3 0 2 1M53 268l-2-2-1 3-2 1 0 3 1-2-1 2 0 3 2 0 2 2M114 272l0-2-1-3-2-1-2 2-2 2 2 1 3 1 3 0 2-2M340 295l-1-2-1-3 1-2-3-1 3 0 0-2 2 1 0-3-1-1M205 266l0 3-2-2 2-2-1-2-2-2-2 1 1 2 1 2 3 1M103 261l0 2 2-1-2-3-2 0-3-1 1 2-1 3 2-1 3-1M125 276l-2-1-2-2-2-2-2 2 1 2 2 2 2 0 2-1 2-3M86 242l-1-3 2-2 0-2-1-2-3 0-1 2-2-2 2-1M166 322l-1 2 2-1 1-3 2 2-1 2-1 3-2-2-1-3-1-2M245 288l1 3 0 2 2 2-2 1-3 0-2-1-3-1-1-2 2-2M161 268l1 3-1 2 2 2-3-1 2-1-1 2-2-2 0-2 3-1M54 342l-2 2 1 3 3 0 2 1 1 2 2 2-2 2-1 2 0 3M305 326l-2 2 3 1-2 2 3-1-1-3-1-2 1-3 0-2 3-1M170 335l-3-1-2 0-2 2-2 1 0 3 0 2 1 2 1 2 1 3M312 368l-3 0-2 1-2-2-1-2-2-1-2 2-3 1 3 1M325 266l-3 1-2 0-2-2 2-1 1-2 0-3 1-2 1 2 2 2M52 289l3-1 0-3 1-2 1-2 3 0 0-3 2 2-2 2-1 2M303 264l1-2 2-2-3-1-2 1 1 3 1 2 2 0 3 0 2 1M263 268l0-2-1-3 0-2 1-3 2-1 2-2 0-3 0-2 2 1M330 270l1 3 2 2 2 1 1 3 1 2 2 2-2 1 0-2 0-3M90 317l1-2 0-3-1-2-2-2-3 1 0 2-2-1-3 0 2 2M101 234l-2-2-3 1-2 0-2-2-3 0 1 3 0 2M77 295l-2 3-2 1-2 2-2 2 3 1 2-1 1-3 2-1 1-2M142 273l1-2 2-1 0 2-2 1-3-1 2-2 2-2 2-1 2 0M217 360l2-2 2-1-1-3-2-2 3 1 0-3-2-1 1 3-1-3M383 352l-1-2-3-1-1-2 2-2-3-1-1 2 1 2 1 3 1 2M159 279l2-2 2-2-3-1-2 1 0-3 1-2 1-2 2 2 2-2M329 368l-2-1 2-2-3-1 0 3 3 0 2 0 0-3 3-1 2 1M73 261l-1-3 1-2-1-2-3-1 0-3 1-2 3-1 2 0 3 1M293 242l3-2 2-1 0-3-1-2-1 2 0 3-3 1 2 1 2-2M79 354l-1-2-2-2-1-2 2-1 2 2 3 1 0 3 2 1 1 3M300 336l1-3-1-2-1-2-3 1 3-1 3 1 2 1 2 1 2-2M133 363l2-2 3 0 0-3 1-2 2-1 0-3-2 2-3 1 2 2M171 337l-3-2-2-2 2-2 0-2 3-1 2 1-2-2 0-2-1 2M272 310l-2 0 1-3-2-2 0-3-1-2-1-2-1-3 0-2 0-3M71 312l-2 1-2 0-1-2 2-1 0-2-1-2 2-2 0-3 2-2M368 310l1-2 2 2 2-2 0 3-2 2-2 1-1-2 1-3-3 0M350 297l0 3 0 2 0 3-1 2 1 3-1 2-2 1 1-2 1 2M251 348l2 2-1 3-2-1 1-3-1-2 1-3-3 0-2-2-2 2M374 240l3 1 2-2 2 2 0 2-1 3 2 1 0 3 3 0 2 0M70 237l0-3-2-1-3-1-2 1 2 1 0 3 3 0-1 2M162 319l2 1 0 3-3 0-2 0-2-2 1-2 2 1-2 2-2 0M337 336l-1 3-3 1 2 2 1-2 3 0 2 0 2-2-3 1 2 2M257 237l2-2-1-2 1-2-1-3-1-2 0-3 2-1 3 0M282 347l0 3 2 1 2 2 1 2 1 2 0 3 0 3-3 1 2 2M160 251l-2-1-2-1 1-3-3 0-2-1-3 1-1-3-3-1 3-1M117 277l0 2 3 1 2 0-1 2 2 2-1 3 3 1 1 2 2 1M358 321l3-1 1-2 2-1 2-2 2-2 0-2 0-3 1-2 2 2M293 237l1 3 1 2 1 2-1 3-1 2-2 2-3 0-2 1-2-1M150 298l1 3 1 2-2-2-2 2-2-1-3 0-2-1-3 1 2 2M114 238l0-3 2 2 2-2-2-2-2 2-1 2-3 1-1 2-2-1M141 246l2 1-1 3 0 2-2 2-2 1 2 2 0-3 2-1 3-1M376 353l3 1-1 2-1 2-3 0 0-2 1-3 2-1-2-2-2 1M377 260l-3 0-2 2 3 0 1 3 0-3 1 3-2 1-2-1-3 1M174 351l1 3-3-1-2 0-2-1 0 2-1 2-3-1-1-2 0 3M394 358l3 0 1-2-2 1-2 2-2-1-2 1 0 3 2-1M129 241l2-1 1-2-1-3-1 3-2 2 2 2 3 1M389 342l3 0-1-2-2-2-2-2-2-1 1-2 1-3 0-2-2-2M214 250l2 1 2 2 2 1 3 1-3-1-1-2-1-3-1-2-2 1M119 285l-3 1 0-3-1-2-3 1 0-3-2-1-2-2 1-3 0-2M393 363l1-2 0 2 1 3 3-1-3-1 2-1-1 2-2 0M295 257l3-1 1-2 2 2 2-1-2-2-1 3 0 2-1 3-3 0M143 274l2 1 2 0 3 0 2-2-2-2 0-3-2-2-1-2-2-1M300 320l2 1 3 0 1-2 2 0 3 0-3 1 0 3 0 2 1 3M153 277l-2 1 2-2 2 1 2 2-2 2-3-1-1 2-2 2 3 0M342 328l-2-1 0 3-2-2 2-2 2-1 2-1 0-3 3 0 1 2M206 245l-2-2-2-1-2 2 1-2-3-1-2 0-3 0-1-2-3-2M292 364l2-2 3-1 2-1 2-1 3 0 2 2 2 0 2-2 2-2M379 267l-1-2-2 2 2-2 2 0 3-2-3-1-2-1-3 1-3 0M183 339l-3-1 3 0-2-1-2-2 1-3 1 3-1 2 2 1 3 1M294 232l1 2 0 2 2 2 2 0 2 2 0 3 0 2 1-2-2-2M243 366l-1-3-1 3 0 2-1-2 0-3-1-2-2-2-2 0M131 276l-2 1-3 1-2-1-1-2-3-1 1 3 3-1 2-1 0-2M333 368l-2-2-2-2-2-1-1-2-2-2 1 2 0 3-3-1M229 354l0-2-3-1-1-2-2 1-1 3-1 2-3 1-1-2-3 0M300 245l2 1 2 1 2-1 2-2 3 0 2 2 1-2 3 1 2-1M361 328l-1 2 2 2 2-1 0-3-3 1-1-2-2 0-3-1-1 2M294 309l-3-1 0-2-2-2 2 0 2-2 1 2-2 2-3 0 1 3M215 304l-2 0-2-2 1-3 1-2 2-2-2-2 3-1 1-2 1-3M293 263l-2 2-1 2-1 3 3 1 1-2-1-3 2-2 2-1 2-1M264 248l-2 1 3 0 1-2-1-3-2-2 1-2-1-2 1-3-1-2M183 327l2-1 1-3-2-2-3 0-2-1-2-1-2-1-3 0-3 1M218 324l0 2-2 2 1 3 3 0-1 3 3 1 2-1 3 0 2 0M211 303l1-3-2 0-3-1 1 2 3 0-2 2 0 3 0 2 2 2M111 300l-3-1-1-2-2-2-1-2-1-3 2-1 3 1-2 2 2 2M236 223l1-3 1 3 2 0 2-2 1 3 2-2-2 1-3 1M125 336l2-1 1-2-3 1-1-2-2 0-3-1-1-2-3-1 0 2M158 349l0 2 2 2 1 2-2 0 2 2 2 0-2 1 1 2-2 2M155 246l-2 0-2-2-2-1 0 2 1 3 3 1 1 2 2 2 0 3M117 239l2 1 3 1 2 0 0-3-3 0-2-2 2-2-3 0-3 1M382 269l-3 0-2 1 1-3-2-1-3-1-1-2 1-3 2-1-2-1M60 328l-1 2-2 2-3 0 0 2 3 0-3 0-2-2 1-3-3 0M365 326l-2-1-2-2 2 2 0 2 1 2 1 3-1 2 1 2 2 1M376 362l-1-3-2 0-2-2-3 0-1-3 3-1-1-2-2-1-3 1M314 342l1-3 0-2-1-2-3-1 3 1-3 0-2 0-3-1-2 1M207 254l-1-2 2-2 2-1 1-3 0-2 3-1-1 3-1 2-2 1M240 334l-3 1-1 2-2-2-2-2-1 3-2 0 0 3 1 2 2 2M70 329l1 3 2 1 3 1 1 2 1 2 3-1 2-1 0-3-3-1M68 304l-2 1-2-2-2-2-2-2-3 1-1-2-2-2 1-2 2 2M301 274l-2 2-2 1-2-1 2-1 2-1 3-1-1-3 2 0 1-2M235 351l-2-1-3-1-1 2-1 2-1 3-3-1-1 2 2 2 2 2M203 330l1-3 2 1 3-1 2-2 2 0 3 0 3 0 2 0 2-2M308 314l-1-1 0-3-3-1-2 0-2-3 1-2 1 2-2 2-1-2M95 347l-1 2-2 1-2 1-2 3 1 2 2 1-2 1-1-3-3-1M376 364l0-2 0-3-1-2-3 0 1 2-2 2-2 2-1 2-2 0M49 346l2 2 1-3 3-1-1 2 0 3 2 0 1 3 2 0 2 2M223 338l-2 0-2-2-2 0-2-2-2-1-1-2-3-2-1-2 2 1M87 241l-2-1 3 0 2-1 1 2 0 3-3 0-2 2-2 0-3-1M164 288l-1 2-3 1 2 2 3 0 2-1 1-2-1-3-2-1-2 2M325 252l2 2 2 2-1 2 0 3 2 1 0 2 2-1 3 0 1-2M294 368l2 2-1-3 3 0 1-2 1-2 2 1 3-1 0-2M201 283l-2 1-1 2-1 3-1 2 2 2-2 1 2-2 2-1 0-2M271 296l2 2 1 2 2 0 3 0 2-2-2 0-3-1 0 2-1 3M365 288l1 3 2 1 0-3 3-1-1-2-2-2 1-3 0-2-2-2M316 264l-3-1 3 0 0-2-3-1 0-3 2-1 2 1 2-1 2-1M280 329l3 0 2 2 2 2 2-1 1-3-1-2 2-1 0-3 1-2M256 344l2 1-1 2-2-1 2-2 2-1 1-3 2-1 2-2 3 1M225 296l2 1-2-2-1-1-3-1-2 0-1 3-3-2-2 0 1 3M382 348l0 2-3 0-2 2 3-1-2-2-1 2-3-1-2-1-3 1M207 234l1 2 1 3 0-3-1-3 1-2 0-2 3 0 1-3 1-2M396 268l2 2-2 2-2-1-3 1 0 3-1-2-2 2M307 285l2-1-2-2-2-1 2-2-3 0 2 2 2-2-2-1-2 0M212 365l0-3 2 2-1 2-2 2-2-1-2 2 2-1 0-3M379 278l2 1 3 0 0 2 0 3 1 2 2 2 0 3-1 2-1 2M195 275l3 0 2 0 3 0 2 1 1 3 2 1 3 1-2-2 0-3M229 367l-2-1 0-3-3-1-1-3 1-2-3-1 0-3-3 0 0 3M180 247l0 2 2 1-1 2-2 2-1 2-3 0-1-2 2-3 0-2M225 234l-1-3 2-1 2 2-2 2-1 2-2-1 1 2 2-1-1-2M156 363l2-2 1 3 1 2-3 1-2 1-2 0-3 0 2-1M153 368l-3 1-2 0-1-2-2-2 0-2-2-2 0-3-2 2M100 267l-3 1-2 2-2 1 0-2-2-1 0-2 1-3 2-2-2 2M72 249l2-2-1 2 1 3 2-1 3-1 1-2 0-3 3 0 2 1M257 240l-2 1-2-1-3 0-2-1 1-2 0-3-2-1 1-2 3-1M281 237l-3 1-1 2 1 2 2-1 1-3 0-2-1-2-3-1-1 2M277 229l-2-1-2-2-1-2 1 2 2-2-2-2-2 1-2-1M382 326l2 2-1 2-1-2 3 0 0-2 0-3-2 0 1 2 3 0M187 310l-2 0-3-1-2 1-3 0 1 3 0 3 1-3 2 2-3-1M60 322l0-3-2-2-2-1 0-3 0 3 3 0 1 2-2 1-1 3M142 285l-1 3-1-2 2-1 3 0 2 2 0 3-3 0-2 0-3-1M159 354l0 3 1 2 1 3-2-2-3 0-2 2 0 2 0 3 3 1M52 341l1 2 2 0 3 0 2-1 2-2 2-2 0-2 0-3-2-1M240 365l-1 3 0-3-2 2 2 2 3-1 2-1 1 2M272 307l-1-2 0-3 0 3 3 0 1-2 1-3 2 0 0 3 2-1M187 349l1-2 0-3-3 1-2-1-1 2-2 2 2 2 0 2-1 2M314 350l-2 2 1 2 3 1 2 1-2 0-3 1-2-1-2 1-2-1M98 295l2-2-2-2-2 0 0 3 3 0 0 2-2 2-2-2 2-2M336 349l2 2 1-2 3-1 2-2 0-3-2-1-3 1-2 1 1-2M141 245l0-2 0-3-3 1-1 3-2-1-3 0 0 2 1 3-2 2M341 262l1 2-2 2 2-1 3 2-1 2 3 0 2-1 2 1 3 0M257 351l-2 0-2-2-1-2 2 0 3 0 2 1 2 2 1 2-2 2M229 294l0-2-3-1 0-3-2-1-3 1-2-1-2-1-3 0-3-1M279 236l-1 2 0-3 0 3 0 3 0 2 1 3 2 1-3 2 3-1M90 337l3 0-1-3 2-1 3 1 2-1 2-1-1-3-2-1-3 1M91 317l1 3 0 2-1-2 1 2 2-1 3-1-1-2 1-2 2-2M126 271l-1 3-2-1 0-3 1-2-2-3 2-1 2-2 0-3-1 2M375 330l0 3-2-1-3 0 0-3-1 2-1 3-1-3-2-1-2-1M217 232l0 3 0 2-1 3 1 2 1 2 3 0 2 1 2 1 3 0M106 312l-1-2-2-3 2 2 3 0 0 3-1 2-3-1-2-2 1-2M105 297l-3 1-2 0-1-2-1-3 1-2-2-2-2 0-2 2-2 1M228 235l-2 2-2 1 1 2 0 2-2 1 1 3 1-2 3-1 2 2M105 327l-1 3 0 2 2-1 3-1 2 1 2 2 1 2 0 3-2 2M199 331l1-2 0-3-2-1 0 2-2 1-2-2-1-3 2-2-1-2M387 304l-3-1-1-2 3-1-3-1-2-1-2 0-3-1 2 2-1 2M84 342l-2 0-3 1-2 1 1 2 3 1 2-1 2-2 2-1 3 1M330 294l-3-1 3-1 1-2 3 0 2-2 2 1 2-2 1-2 1-2M218 274l2-1 0-3-2-1-2-2 2-2 2 0 2 2-2 1 1 3M221 223l2 2 1-2 3 2-3-1-2-1-3 2 2-2-2 2 1 2M167 291l-2-1 1 2 2 2 0 2 1 3-1 2 1 2 3-1 2-1M324 305l3 1 1-2 2-2 2 0 3 0 0-3 3-1 1 3 3-1M132 303l-2 1 2 1-1-2-3 1-2-1-2-1 3-1 1-2 2-2M104 257l-3 0-1-2-2 2 3 0 2 0 0 3 0 2 2 2 3 0M209 339l2 1 2 2 0 3-1 2-2 0-2-2-3 0 0 3 1-3M126 342l-1-2-2 2 0-3-2-2-2-1-2-1 0 3 0 2 2 2M393 276l1 3 2-1 1 3 2 1-2 3-2-1-3 0-1 2M142 306l0-3 0-2 3-1 2 2-2 2-2 1-1-2 2-1 3-1M341 369l0-3 1-2 0-3-2 1-1 2 0-2-1-3 0-2M50 242l0-3 1-2 0-3 1-2-1 2 2 2 2-2-2 2M178 312l2-3 2-1 3 0 2 0 2-2-1-3 2-1 3-1 2-1M284 356l2 2-2 2-1 2-2 1 0-2 3-1 2 1 1-3 3-1M338 311l2 2-1-2 2 0-2 0-2-2-1-3 2-1 2-2 1-2M233 322l1 2 3-1-2-1-1-3 2 1 3 0 0-3 3 1 0-3M116 267l1-3-1-2-2 2 1 2-2 2 2-1 1 2 0 3 0 3M295 333l-1 3 0 2 0 3 0 2 2 2 3 0 2 0 3 0 2-1M99 359l-3 1-2 0 2 0-1-2 3 0 2 1 2-1-2 1 0 2M98 255l-2-2-2-1-2-1-3-1 2-3-1-2-2-2-2-1-2-2M65 306l2 2-2-1-2-1-3-1-2-1-3-1-2 1 2-2 2-2M215 251l-1-3 0-2-1-3 0-2-1-3 1-2 1 2-2 2 2 0M128 299l-2-2-3-1-2 1-2 2 0 2 1 3 2-1 3-1 0-3M354 278l1-2 3 1 2 2 2 0 1-2 0-3-2-2-2-2 0-2M379 320l-3-1 1-2 2-2 1-3-2 2-2-2-3-1-2 0 2 2M142 356l-1 2-1-2 2-2-1-2 3 0 2-1 2 0 3 1-3 1M254 251l3 1 2-1 2 1 3 1 2-1 2-1 2-2 2 0 3 1M351 365l2-2 3 0-3 1-2 1 0 2-2 0-1-2-2-2 0-3M218 248l-2-1-1-3 2-2 2-1 2-2 0-3-1-2-2-1-2 2M195 303l2 2-2 2 3 1 2-1-1-2-1-2 2-2 3-1-3-1M370 351l2 2 1 2 3-1-1-2 3 1 2-2 2 1 3 0 2 1M251 315l1-2 2 2-1 2-2 2-2-1-2-1-3 0 0 3 1 2M144 324l2-1 2-2 1-2-1-3 3 0-3 0-2-1 2 1-2 2M235 350l-3-1-2 1-2-1-2 1-2 1-3 1-2 1-1 3-1 2M207 323l2 1 2 1 3-1-2 2-2-2 1-2-2-2-3 0 3-1M325 269l2 2 2-1-2 1-3 1 2 2 2 2 3 0 2-1 1-2M94 294l1-2 2-1 2-2 2 1 1 2-2-1-2 0-3 1 0 3M161 246l2-1 1-2 0-3-2-1-2 2-2 0-2-1-2 2-2 0M113 284l-1 3 2 1-1-3-2-1-2 1-2 2-2 1-3-1 0 3M316 304l1 2 2 3 2 1 2-1 1-3-2-1 0 3 1 2 0 3M252 333l-2-1-2-1 2 1-2-2-2 0-1 2 2 1 0 2 1 3M68 238l-3 0-2-1-3 1-2 1 1 3 2 1 2 2 1 2-2 1M276 278l-3 0-2 1-2-2-3-1 0 2-1 3-1-2-2 2-2 1M153 362l3 1-2 2 3-1 0 3 3 0 2 2 0-2 2-2-2-2M231 353l-2 3 3 0 1-2 2 1 0 3 0 2-3 1 3 0 2-1M296 286l1 3 0 2 2 2 1 2 2 1 3 1 2-2-1-2-1 2M176 366l3 0 2-1 2 2-1 2-3-1 2-2 2-1 3 1M318 310l-3-1-2 0-3-1 1-3-2 0-3 0-2 0 0-3 3 1M337 269l-2 2-2-1-1-3-1-2 2-2-2-1 2 0 3 2 1 2M353 236l-3 0 0-3-1 2-2 3-2-1-2-1-3-1 1-2 1-2M280 341l-2 3 2-2 3 0 1 2-1 2 0 3 2-1-1-2-1-2M76 330l2 0 3 0 2-2 3 0 1-2 2 2-3-1-1 3-2 1M228 359l-2 1 1-2 2-2 2 1 1-2 1 2 1-2 0-3-1-2M153 258l1 2 2 2 0 3 0 3-2-3-2-1-3-1 2 2-2 3M308 300l3 0 2 1 3 1-1 2 2 2 0 3 3 0 2 2 0 2M180 237l1 3-1 2 1 3-1 2-2 2 1 2 1 3-2-2-1-2M310 294l3 2 2 1 1 3-1 2-3 0 2-2 2-1 2 2 0-3M342 298l-1 3 1 2-2 1-2-2-1-3-2-1-2-2-2 2-2 0M189 331l1 3 2 0 2 2 0 3 0 2-1 3 1 2 2 1 1 3M290 294l2-1-2-1-2 0-1-3 2-1 2-2 2 0 3-1-2-2M55 305l-2 2-3 0-2 0-1 3-2-2 2 0-1-2 2-2M159 296l2 2-1 2-3 0-1 3-2 1 2 2-1 3 0 2-2 2M156 314l3-2 2 1 3-1 1-3 0-2-2-2-2 1 1 2 2 0M163 269l1 2 2 0-1-3 0-2-2 0 2 0 3-1-2-2 2-1M128 292l-2 0 2-2 2 0 3 1 2 0 2 2-1-2-1 2 1 3M174 283l-1-2-2-2 2-2 2 1 3 0 2 1 2 2 1-3 0-2M324 264l2 2-2 1 0 3-1 2-3 1-2-2-1 2-2 2 2 2M134 247l2 2-2-3-2 2 2 1-3 1 0 3-3-1-2-1-1-2M190 280l1-2 0-3-3 1-2 2-2-1-1-2 3 0 1 3 0-3M70 354l3 1 1 2 0 3 2 0 2-1 2-2 2 2-1 2 0 3M235 297l0 3-2 1-3 1 1 2-2 2 2 2 2 1 2 2 3-1M342 246l2-2 0-3 3 2 2 0 2 2-3 1-2 2-3 0-1-2M290 345l0 2 3 1-1-2-3-1 0 2 0 3 2-1-2 1-2-2M135 307l-1-2 3 1 2 2 2-2 2-2 2-1 1-3 2-1 2-2M135 294l3-1 2 0 2-2 2-1-2 0 1-2-2 0 1-2 3 0M360 258l-3 0 0 3 2 2 2-1 2 2 1-3-3 0-2 2-3 0M155 293l-1-3 0-3 1-2 2 1 2 2 0-2 3 0 1-2 0-2M218 323l3-1 2 0 1 2 2-1 0-3 0-2 2-1 2-1 3 1M316 323l1-3-2 1-3 1 2 2-2 2 1 2-3 1-2 2-1-2M398 295l-2-2-1-2-2-2-2 2-2-1-2-1-1 3-2-1-3 0M299 364l-2 0 1 2 2-2 2 0 2 1-1 3-2 1 2 0M287 295l1-3 2 0 3-1 2-1 3-1 2-1 3 0 0-3 0-2M201 361l3 1-3 0-2 1-2 2-2 1 2 1 2-2 3 1-3 1M236 228l2 1 2 0 2 2-2 2-1-3-3 1 3 0-3 0-2 0M327 359l1-2 0-3 0-3-3 0-2 1-3 0-2-2-2 0-3 0M141 280l3-1 2 1 2 1-2 2 2-2 2 1 2-2 3 1 2 0M55 350l2 0 3 1-2 2 2 1 2 2 3 0 0 2 2-1-1-2M344 285l-2 1-2-2-2-2-2 1 2 2-2 0 0-3 3 0 1-3M119 287l-2 2 0 3 2 1 1-3 0-2-2-2 1 2 1 2 3 0M266 272l-2 1-3 1 2-3-1-2-1-2-1 2 2 1 3 1 2 0M389 267l0 3-2 0-3-1 1-2 2-2 2-2-1-3 0-2 1-2M284 322l2 0 2 2 2 0 1 3 1 2 0-3 2 2 0 3-1 3M289 259l-3-1-1-3-1-2-2 1-1 3 1 2 2 1 2-2 2-2M143 285l0-2-2-2-2 0-1-3-3 1 2-3-2-2-1-2-2 0M187 362l2 0-1-2-1-2-2-1-2-2-2-2 1-2 3 1 2 0M163 262l-2-2-2-1-2-2 1-2 0-3-2-2 1 3 1 2-3 0M237 300l2 0 1-2 2 1 3-1 2-1 3 0 2 1-1 2-2 1M140 288l-2-2-2 0-3 0-2 0 1 2-2 2-1 3-3 0-1-2M241 344l2 2 2 1 2 2-2 3-1 2 3 1 0 3 1-3-2 1M140 242l0 2-1 3-2 1 1 2 0 3-3 1-2-1-2 1-1 2M370 359l0-3-2 2-1-2-2-2 2-2-1-2-3-1-2 2-2-1M320 359l0-3 2 1 2 2-3 0-1-2-2-2 2 2 2 0 0 2M326 296l0 3 0 2 1 3 2-1 2-2 2-1 2 1 2 2 1-3M121 330l-1-3-2 0-2-2 2 1-2-1-1 3-1 2 0 2 2 2M326 300l3-1 0 3-3 1-2-2 1-2-1 2 1-2 3 0-3-1M186 263l-2-1-3 1-2 0 1 3-1 2 2 2 3 0 1 2 3 0M153 334l-1 2-3 0-2-1-2-1-1-3 0-2 3-1-1 2 1 3M132 342l-2-1-2 2 2 2 1-3 3-1 0 3 2 1 1-2 2-1M389 351l-2 1-3 0-2-1-1-3-1-2 0-3-2 0-1-2-1-2M104 244l0 3 2 2 0-3-3 1-1 2 0-3 0-3 0-2 2 2M354 306l2 1-1 3 1 2-2 2-1-3 0-2 0-3-3 1-1-3M217 314l-2-1-2 2-2-2-3 1-1 2 2 2 2 2 2 1-1 2M222 314l2-1 1-3 1-2-2 1 0 3 1 2-1 3 1 2 3 0M324 348l-1 2 0 2 2-1 3 1 2 2 0-3-2-1-2 0-1 2M47 284l-2-1 0 2 1-2 1-2 1-3 3 0 3-1M304 367l-2 2 0-3 1-2-2-1-3 0-2-1-2-1-3-1M349 262l-2 0-3 1-2-1-2-2 0-2 2-3-2-1-1-3-3 0M168 286l-3 1 2 2 2-1 2-2-1-2-2-2-3-1-1 2-1 3M279 264l2-1 3-1-3-1 1-2-3-1 1-3-3 1 1 3-2 1M81 292l-1-2-3 0-2-2-2 0 1 3 0 2 0 3-2 2 0 3M277 236l-2 1-2-2-1-2 0 2 3-1 1 2-2 2-2 1 2 2M329 330l-1 2-2-1 2-1 3 0 1 2-2 1-2-2-3-1 0 3M83 357l-2-1-1 3-2 2 0 2-3 1-2 0-3 1-2-1 0-3M390 303l-2-1-1-2 3 0 2 1-2 2-2 1-2 2 0 3-3-1M325 308l-2 1-3-1-1-2-1-2 1 2 2-1 2-2 0-3 3 1M380 305l-3 1-2 2-1 2-2 0-1-3 2 1 1 2-2 0-2-2M184 243l-1 2 2 1 0-2-1-3 1-2-1-3-2-1-2 2 2 1M200 368l2-2-2-2-1 3-3-1-2-1-2 0 0 2 0 3M151 292l-1-2-2-1-3 1-2-1-1-2 0-3 1-2 1 2 2 2M294 226l-2 2-2-1-2 1-1-2-1 2-2 0-2-2M156 281l-1-3 2-1 2-1-2-1-2 2-1-2 2 0 2-2 0 2M328 364l2-1 2-3 2-1 0 2-1 3 1 2 1 2 3 0M265 330l-3 1-1-2-2 2 2 1 3 0 2 0 2 2 1 2 1 3M264 287l2-1 3 0 2 0 3 1 2-1 2 2 3-1 2 0 1-2M167 296l2 1 0-2 3 0 2-2 2 1 2-2 0-2 0-3 2 2M217 226l2 1-2 0-2 2-2 1-1 3-2 0 0 2 0 3M59 274l2-1-1-3 2-2 0 3 0 2 1 3 2-2 2 3-1 2M330 244l1 2 1 3 0 2 3 0 2 1-1-2-1-2-3 0-1-3M206 257l2 1 1-2 3 1 2-1 1-3 2-1 3 0 2-1-1-2M224 325l-2 0-2 2-2 0-3 0-2 1 1-2 3 1 2-1 0-2M175 274l-3-1-2-1-1 2-1 2-2 2 2 1 2-2-2-2-3-1M381 344l-2-1 0-3 3 0 3 0 0 2 1 2 2 0 3 1-3 0M347 307l-3-1 0-3 2-2 2-1 1 2 3 1-1 3-1-3 0-2M208 364l2 0 1-2 3-1 2-1 3 0 2 1 2 1 0-2-1-3M348 266l1 2 2 2 0 3-1 2 2 2 1 2-1 3-2-1-3 0M350 294l2 1 3 0-1-3-2-1 0-3-1 2 0 3-2 2 2 2M312 236l-1 2 1 3 0 2-1 2-2 2-2-2-2-1 0-3 3 0M98 277l2 0 3 0 3 0 2-2-1-2 2-2 2 2-3 1-2-1M361 355l0-3-2 2-3-1-2 0-3 0-1 2 1 3 2 1 2-1M391 251l-2-2-1 2 3 1 2 2 2 0 2-2 1-2 0-3-3 0M55 293l2 2-2-2 0-3-1-2-1-2 0-3 2-2 3 1 2 0M365 284l-3 0-2 2-2 0-2 2-3 1 1 2 2-1 0-3 3 0M396 244l3 1-2-2-2-2-1-2-3 0-2-2-2-2-2 0M154 254l-2 2-2 2-2 2 1 3 0 2-1 3-2-2-1 2 2 2M327 364l-1 2-2 2-3-1-1 2-2-2-1 2M150 362l2 0 3 1 1-2 3 0 1 2 0-3 0-2 2-2-2-2M123 359l0-3 0-3 2 1 0-3 0-3-2-1-3 2 0-3 1 2M300 240l2 3-2 2 1 2-1 3 0 3-1 2 0 3 2 2-1 2M145 236l-2-2-1 3-2-1 0 2-3 0-3 1-2-2 0-2M220 224l-1 2 2 2 2 1 2 2 2 1 2 0 1 3 1 2-1 2M196 235l2 0-2-1-1 3-2-1-2 3-2 0M386 280l-2 2-2-1 2-1 1 2 2-1 2-2 2 1-2-2 2-2M244 323l-2 2 0 3-2 0 0-2 1-2 1-3 2 2 1-2-2-2M92 267l2 2 2 1 3 0 0 3-2-2-2-1-2-2 1-2 3-1M399 334l-3 0-1 3-2 1-2 1-1 3-2 2 2 1M380 279l2-1 3 1 1 2-2-1-1-2 2 1 2 2 1 3-2-1M53 282l-2 1-3 1-1 3 3 1 1 2 2 2-1 2 0 3 2 0M364 353l2 1 1 2 1 2 1 3 0 2 1 3-1 3-1-3 1-2M100 238l2-1-2-2 0-3-2 1 0 2-1 2 0 3 2-2 0-2M350 271l-3 0 0-2 3-1-2-3-2 2 1 2 1 3-1 2-1-3M381 265l-2-2 2-2 1-2 3-1 2 0 3 0 2-2 0-3 0-2M280 326l1-2-2-2-3 0-1 3 2 1-1 2-1 3 2-2-3 1M155 312l-1 2 0 3 2 2 0-3 2-2-1 2-2-2-3 1-1 2M156 286l-2-2-2-2-2-1 2-1 1-2 1 2 1 2 2-1 1-3M347 276l-3 0-2 2 3 1-2 2 0-2 0-3 0-2 1-2 3-1M318 260l-3-1 3 0 0 2 3-1 1-2 0-3 1 3 2 2-1 2M314 354l-1-3 2 2 2 0 0 2 3 0 2 1 3-1 1-2 0 3M152 281l1-2 2-2-2-1-1-3-3 0-2-1-2-2 2-1 0 2M168 249l2-2 3 0-3 0 0 3 3 1 2 0 3 1 1-3 1-2M51 295l2-2 1 3 1 2 1 2-2 0-1 3-2 1-2 2-2 0M55 359l0-3 0-2-2-2-2-2-1-2-1-2 2 1-1 3 1 2M106 275l2 0 2-1 3 1 2 1 1-2 1-3-2-1 0 2 2 2M366 316l2-2-2-2-2 0-2 2-3-1-2 1 0 2-2 2 2-1M243 317l3 0 2 1 3-1 1-2-2-1 2-2 3 1 1 2-2 2M379 289l2 1 0 3-2 0-2 2-1 2-2 2 2 2-2 2-1 2M269 343l3 1 2 1-3 1-1 2 1 3-1 2 2 1 2 2 2 1M246 328l0-3-2-1 2-2 0-2 1-2 3 0 2 2-1 2-3 1M126 291l2 1 2 1 0 3-1 2-3-1-2 1-2-1-2-1 2-1M84 264l0 2 2 1 3 0 2 1 2 2-1 2 1 3 0 3 2 1M292 307l0 3-2-1 0-3 2-2 2 1 1 3 0 2-2 2 3 0M111 266l2-1 3 0 1-2 2 0 3 1 0-2 0-3 3 2 1 2M239 296l2 2 2 2 3 0 0-2-1-3 3 2-1-3 3 0-1-2M143 237l1 2 1 2 2-2 1 3 0 2 2 2-1 2 1 3 1 2M223 248l1-3 1-2-3-2 0-2-3 1 2 2 0-3 1-3 2 2M176 350l-1 2 0 2 2-1 2-1 2-2 0-2 2-2 3 1 2 1M84 258l1 2 2 2 1 2 2 2-2 2 2 1-1-2-2-2-3 1M394 333l-3 0-2 0 0 3 1 2 2 0 3 0 1-2 1-3-2 2M116 321l1 2-1-2-2-2-2 1-2 1-3-2 2-2 1-2 0-2M279 353l0 2-1 3-1 2 3 1 2 2 0-3-3 0-2 0 2 0M351 339l0 2 3 1 2 1 1 3 1 2 2 1 3-1 1-2 1-2M71 293l1 2 2 2 2 2 1 2-3-1-1 3 0 3 3 1 0 2M170 278l2 2-2 2-2 1-3 0-2 2-1 2 1 2 3 2-2 2M132 268l2-1 2-1 2-1 3 1 2 1-2 2-2 1-2 1-3 1M227 360l3 0 3 1 2-1 0 2-2 0-2 1-3-1-2-1-2-2M387 305l0-3-3 1 1 2-2 2 0-3-1-2 2-2 2-1 2-2M359 327l1-1 2-3-3-1 2-2 1-2-1-3-2-1-1-2 1 2M188 293l-1-3-2-1-2-2 2-2 2-2 1-2 2-2 2 2 2 1M309 361l-2 0-3 1-2 1-2 1 2 2 2 1 0 2M136 262l-2 0 0 3-2 1-1 2-2 2 0 3-1 2 1 3-2 1M206 254l-2 2 2 2-1 2-2-2 1-3 2-1 1-3 0-2-2-2M350 255l1 3 2-1 2 2-1 2 1 3-3 1-1 3-1-2-1 2M314 354l-1 3-2 2-1 2-2-1 1-2 2 1-2 2 3 0 2 1M189 336l-3-1-2 1-2 2-1 2-3 1 0 3 2-1 3 2 2-2M85 291l-1-3-2 1-3 0-2 1-2-3-1-2-2 2 1 2 2 2M158 280l1 3 0-3-3 0-1-2 0-3 0-2 2-1 3 0 2 1M291 363l3 1 0 3 1 2 2-1-1 2 0-3 2-1M300 287l-3 0-1-3-2 0 1-3 1 3-2 1 0 3 3 0 1 2M267 248l-2 2 1 1 0-2 0-3 2-2 2-1-2-2-2 2-2 1M171 285l1-3 0-2 1-3 1 3 0 2-1 3-2 1 1 3 2 1M61 265l2 0 3 0 2-2 2 2 2 2 2-2 2 1 2-1 0-3M164 242l-3-1-2 1 2-2-2-2-3 2 0 2-2 2-1 2-2 2M263 224l2 1-2 1-2-2-3 0-2 2-1 2 3 0 2 1-2 0M364 274l2-2-2-2 1-2 2-1 2-2 3 0 1 2 2 2 0 2M259 283l-2 2-1 2 1 1 2 2-2 2-1 2-3 1-3 0-2 0M231 342l3 0 2 1 3 0-2-3-1-2-1-2-3 0-2-2 2-2M103 312l1-2 2-1-2 1 0 3 1 2 2 2-2-2 1-3-1-2M68 288l-3 0-2-1-3 0-2 1-2 1-2-1-2-2-2 0-2 2M165 311l1 2-1 3 0 2 3 1 1 2-1 2-2-2-3 0-2-2M161 277l-2-1 0-3-1-2 3 0 2 1 2 2 2-1 3 0-3 1M396 268l3 0-3 1-1-3 0 3 1 2M258 244l-2 1 0 2-1 3 1 2-2 2-2-2-1-2 2-1-3-1M96 313l2 2-3 1 0 3 2 0 2 1 1 3 1 2 2 2 0 2M296 291l-2 3 3 1-3-1 2-1 3-1 2 0 1 2-2 1-3-1M106 242l0 2-2 1-3 0-1 2 0 3 2 1-2 2 1 2-2-1M104 254l-2 1 2 2-2 2-2 0-2 2 2 2 2-2 1 2 2 0M373 277l2 0 3-1-1-2-1-2-1-3-2 2-2 0-2-2-1 3M377 308l1 2 3 1 1 2 3 2-1 2-1 3 1 2 2-2 2 2M310 265l-2-1-2 2-3 0 1-2-3-1-2-2-2-1-3 2-2 0M187 345l-2-1-3-1 0-2-3-1-2-1 2-2-3 0-2 0-2 2M324 331l2 0-1 3-2-1 1-3-2-1-3 0-1 2-1 3 1 2M183 264l0 2 3 1 2-1-3-1-2 1-2 1-1-2 2-1-1 2M144 285l0-2 3 1 2-1 1 2 3 0 1-2-3 1 0 2-2 2M348 355l2-1 2 2 1 2 0 3-2 0-3 0-1 2 2-2 1-2M259 257l2-1 0-3 2-2-1-2-1-2-1-3 0-2 0-3-1-2M214 304l2-2 2-1 3 0 2 0 3 0-1 3-1-3 0-2 2-2M138 283l-1 2-3 1-1 2-1 2 0 3 2 1 1 3-1 2-2 2M162 342l0 3 1-2 3 0 2 1-1 2 1 3 3-1 2 0 3 0M352 300l-3-1 0-2 2-1 0-3 3 0 2-1 3-1-3 1 1 3M45 264l2 0 2-2 0-3-1-2 0-3-2-1 1 3M105 359l2-2 2 1 1-2 2 2 1 2 2-2 0-2-2-3-2 1M141 260l2-2 3-1 2 0 2 2-1 2-1-3 3 0 1 3-1 2M271 314l-2 2-1 3-2 1-2 1-1 3 3 1 2-2 2-2-2-2M169 312l2 1 1 2-2 2-1 2-3 2-2 1 1 2 0-2-1-3M244 301l2 1 0 2 3 1 1 2-2 0-2-2 0-2-3-1-2-1M193 335l1 3 3 0 2 2 2 2-2 2-1 2-3-1 2-2 3 0M242 366l1-2 2-1-2-2-2 0-3-1-1 2-3 0 2-2-3 1M261 290l0 2-2 0-2 2 2 2-3 0-2-1-1 3 2 1-1-2M126 270l2-2 2 0 1 3 1 2 1 2-2-1-2 0-1 3-1 2M330 242l-1-3-1-2 2-2 2-2 1-2 0 2-1-2-3 1M72 326l-1-2 2-2 2-1 2-2 2-1 3-1 2 0 2-2 3-1M231 345l-1-3 3-1 2-1-1-3-2 1-3 0-1 2-2-2-1-2M137 254l-2 2 1 2 1 2 2-1 3-1 2 1 1 3-2 1-2 2M242 250l0-2 1-3 1-2 2-1 1-3-2-1 1-3-2-2-2-1M159 333l-1 3-2 1-2 0 0-2-2 0-3 0-2-1-1-3 0-2M206 326l0-3-1-2 2 0 3 1 2-1 0-2-2-2-3-1-1-3M124 270l1 2 3 0 2 0 3-1 2-2-1-2 2-1-1 3-3 0M91 298l2-2 1 2 2 2-2 2 2 2 3 0 2-1 2 2 1-2M121 253l2 2 1 3-1 2-1 3 2 2 2 1 2 2-1 3-2 1M341 332l-2 2-2 2-2-2-2-1-1-2 1 2 0 3 1 2-2 2M253 288l0-2 1-3-1-2-3-1-2 1-1 2-2-1 1-2 2-2M393 235l-3-1 0 3 1 2 3 1 1 2-3 1-2 1-1 3 1 2M112 291l2 1 0-3 0-2-3 0 0-2 1-3 1-2-1 2-3-1M162 340l0 3-1 2-2 2 3 1 1 2-1 2-3-1-2-1 1-2M88 268l1 2 0 2 3 0 1-3 2 0 3 2 1 2 2 1 2 2M109 336l3 0-2 2 2 2 3-1 2-2 2 0 3 0 0 2-3 0M215 346l1 2 2-1 3-1 0-3-1-2-3-1-2-2-1 2 3 0M116 231l0 3-2-1 1-2-2-2 3 1 0 2-2 2-2-1M260 316l2-2 2-2 0-3-2-2 3 0-1 3-1 2-1 2-2 2M311 256l3-1-2-2-2 2-2-1 0-3-2 1 0 3-2-2-1-2M367 361l1 2 0 3-1 2 1-2-3-2-2 0-2 1 1 3M310 314l2 2 2 0 3 1 3 0-1 2 2 1 2 2 3 1-3 0M377 282l-2-1-2 2 1-2 1-3 2 0 3-1 0-3 2-1 3 0M358 240l-1 2 3 1 2 1 1 2-2 3 0 2-3 1-2 1 2 1M139 294l2 0 3 1-1 3-2 1 0-2 3 0 2-1 2-1 2-3M108 264l-2-2-2-1-1-3-2-1-1 2 3 0-2-2 3-1 1 3M258 310l-2 3 3 1 1 2 0 3 2-2 3 1 2 1-1-2 0-3M334 369l-1-2 1-2 1-2-1-3-3-1 2-2-1-2-2-3M358 332l3 1 0 2-2 1 0 3 2 2 2 2-1 2 0 3 0 2M200 276l-3 1-1-3 2-2 3 1-1-2 1-3 3 2 2-2 2 1M125 260l0-3-2-1-2-1 1 2-1 3 3-1 2 1 3 1 1 2M48 326l-2 0 1-3 3 0 2 1-1 2 1 2 3 1 1 2M262 270l-2 2-1 2-1 2 0-2 2 1 1 3-1 2-2-1-1-2M119 301l2-1 2-2 1-2-2 0-2 2-2 1-2 2-2 2-3-1M257 369l-2-2-3 0 0-3 1-2-2-1-3 1-1 2-2-1 0 3M50 253l2 2 0-3-2-2 0-3 2 2 2-1 3-1 0-3-2 1M193 326l-2-2-1 3-1 2 1-2-1-3 0 3 0 2 1 3 3 1M330 333l0-3 0-2-2-2-2 1-2 2-1 2-2-2-2-2 1-2M228 241l-2 1-2-1-2-2-2-1 0 3 2 1 0-2-2-2 0-3M355 270l-1-2 3 1-2 2 2 2 0 2-1 3 0 3-1-3-1-2M183 260l2-2 3 1 2-2 2-1 1-2 3 1 0 2 2 2 0 3M156 287l-1 3-1 1-3-1 1-3-3 0-2 2-1 2 0 2-1 3M153 322l2-1 2-1-2-1-3 0-2-1 0-2-2 1-2 2 2 1M349 288l2 0 3-1 1-3 0-2-3 1-2 2-2-1-2-1-3 0M339 324l0 3 0-3 3-1 2 1 3 0 2-1 1-2 2-2 1-2M358 264l1 3-3 0-2 0-3 0-1-2-1-2 0-3-3 0 1 3M149 362l-2-1 0 3 3 1-1 3 2-3-2-1 1-3-1-2M294 348l0 3-3 1-2 1 0 3 3-1 2 1 0-2-2 0-1-3M318 248l2 2 2 2 3-1 1-2 2-1 0 3 3 0 2 1 3-1M87 316l1 2-2 1 0 2-1 3 0 2-1-2-2 0-3-1-2-1M115 347l3 1 0-2 0-3-3 0-2 1 0 2 2 2 2-1 3 1M328 232l-1-2-2 1-2 2 3 1-1-3-1-2 2 2M352 344l0 2 2 2 1 3 1 2 2 2 0 2 2-1 0-2-2-2M186 297l-1-2 2-2-3-1-2 0-3-1 3-2 2 2 0 2 3-1M165 310l-3-2-2 1-2-2-1 2 2 0 3 1 2-2 2-1 3 0M119 314l1-2 0 2 2-1-2 0-2 1-1 2-1 3 1 2 3 1M165 293l-3 1 0 2 1 3 0 2 0 3-3 0-2 2 0 2 1 2M391 360l0-3-2-1-3-1-1-2-2-2-1-2-1 2 2-2 1-2M68 281l0 2-1 2-1 3 3 1 1-2 2-1-2-2-1-2 0 3M285 348l-1 2 0 3-1 2 1 3 3 1-1 3-2 0-1 2-2 1M384 317l2-1 3-1-3-1 2-1 2-2-1-3 0-2-2-2-2-2M104 368l-3 0-2-2-1-2-3 0-1 2 0 3 2-2 2-1M137 317l2-1 2 2-1 3-2 2 1-3-3 0-2-2-2-2-1-1M372 369l-1-2 3 0-2 0-1-2-2-2 0 2 2 2-3 2M174 254l-3-1 1 2-3 1 1 3 0 2-2 2-3 1 0-3 0-2M143 313l-1-3 3 2 1 2-3 0-1 2-3-1-2 0-3-1-1-2M379 338l-1-3 3 0 0-3 2-2-1 2-2 1-2-2 0-2-2-2M265 252l0-3-3 1-2 1-3 1-1 2-1 2-2 2-2 2 0 3M140 352l2 2 2 2 2 0 0 3-2-1 2-2 2-2 2 1 2 2M84 361l0 2 0 3 2 2 2 1 2 0-1-2 2 1 2 1 3 1M350 262l-1 2-2 2 1-2-1-3 3-1-1-3 0-2 2-2 2-2M376 287l2 1 2-1 2 2-2 2-3-1-1 2 0-2 2-3-1-2M163 234l1 2 2 2 1 3 0-3 3 1-1-3M363 258l-1 3 0 2 1 3-1 2-2 2 2 2-1 2-2 1-3 2M89 306l-3 1-2-1 0 2 0 3-1 2-2 2 0-3 3-1 0 3M247 356l-2 2-2 1 1 3 3 0-2-1 1-3 0-2 2 0 2 2M374 284l-3 0-2 1-2 2-2 2 0-3-2-1-3-1-2 0-3-1M198 354l2 2 3 1 2 1 3-1-1-2 0-3 1-2-2-2 2-1M369 331l2-2 2-1 3-2 2 1 3-1 2-1-1-2-3-1 1 2M192 256l-2-1-1-3 3-1 2 1-2-2-1-2-2-2-2-1 0 3M241 327l0-3 0 3-3 0-1-2 2-2-2-1-3 0-1-2-2-2M157 290l-2 0-2 2 1 2 0 3 1 2-2 1-3 0-3-1-1-2M303 252l1 2 1 3 2-2 0 3 0 2 1 3-3-1-2-1 0-2M211 226l-3 0 1-3 2-1 2-2 2 2 2-2 0-2M309 232l-2 1 2 2 2 1 3-1 2 1 2 2-1 2 0 3-2-1M265 280l0 2-2-2-2 1-1 3 1 2 1-2 2-1 2-2 2-2M226 347l2-1 3 0 0 3 1 3-3 1 3 1 2 1 2-2 1-3M247 262l1 2 2 2 2-1 2 2-1 2-3 0-1 3-1 2-3 0M310 291l3 0 3 1 2 0 1-2-2-1-3 0-2 2-3 0 0-3M86 369l2-2 2-2 2 1 1-2 2-2 2-2 2-1 0-3-2-1M370 338l1-2 2-2 0-3-2-1-2-2 2-2 2-2 3 0-1 3M303 308l-2-2-1-2-3 1 2 3-3 1-2 1-2-2-2 1 2 0M371 338l-2-1 0-3-2-1 2 1 2 2 1 2 2 2 1 2 2 2M102 328l0 3 2 0 3 1 0-3 2 1 2 2 1-2-2 2 0 2M379 309l2-2 2-1 2-2 3 0 2-2-1-2 1 2 2 1 2 2M204 332l1-3 1-2 2-2 2 2 3 0 2-1 2-2 2-1-2-1M205 251l-1-2-1 2-2 3-2 0-3 0-1 2 0 2-2 3-2 1M203 359l1-3-2-1-2-1-2-2-3 1 0 2-2 1 0 3 2 1M182 290l-2 2 1 3-2 1 1 2-1 2-2-2-2-1-3 1-1 2M389 328l1-2-2-2 2-2-2-2 2-1 1-3-1-1 1-3 3 1M376 283l3-1 1-2 2 2 0 2 0 3-2 0 2-1-1-2-2-2M185 247l-3 1-2 0-1-2-2-1-3 0-1 3-2-3 3 0-1 3M202 352l2 2 2 2 1 2 0 3 2-2 0 2 1 2-2 2-2-1M146 268l3 0 0 3 1-3 2 1 0-3 1-2-1-2 2 1 2-1M190 347l-1-3-2-1-1-2-3 0-2 1 0 3 0 2-2 2 1 3M56 298l-2 2 0 2 1 3 2 1-1 3 0 2 2 1 0 3 2 1M73 261l-2-1-1 3-3-1-2 1-3-1-1 3 3 1 2 0-2-1M282 343l-2 0 2-1 2-2 2 1 2 2 0 2 0 3 2 0 3 1M115 247l3 0 1 2 1-3 1-2 0-3-2-1-2 1-3-1-1-2M175 347l-1-2-3 1-2-1-2-1-2 2 2 1 3 2 0 2 3 0M114 282l2-2 0-3-1-2 2-2 3 0 2 2 2 2 2-1 3 0M93 319l-1-3-2 2-3 0-2 1-3 0 2 2 3-1 2-2 1-2M332 255l-2-3-1-2-2-1 0-3 1-2-1-3-1-2-2-2-2 0M96 252l-2 2 2 2 0 3 0 2 1 2 1 3-2 2-1-2-2-2M115 295l-3 1-2-1-2 2-2 2 2 2-1-3-1 3-3-1-2 1M225 363l2-1 2-2 1-2 2 2-2 0-3-1-2-2-2 2-2 2M380 353l0 2-3 1-1-2 3 0 0-3-2 1-2 1-2 2-1 2M383 362l-3 0-2 1-3 1-1 1 1 2 2 2 3 0 2-1 1-3M87 366l1 3-2-1-1-2 0 3 2-1 3 1 2 0 3-1M70 317l-2 2 1-2 1 2 1 2-2 2-1 3 1 2-1 3 1 2M298 352l2 2 0 2-1 2 0 3-2 1-2 2 2-2-1-2-2-1M192 337l1 2-1 3 2 2 2-2 0-2-3-1-2 2 0 2-1 2M359 251l-2 2-1 2-3 1-2 2-2-2-2 2 2-1 1-3 2-1M120 236l-2 1-3 0-2 2-2-1-1 2-3 0-2 1-2 1-3-1M171 355l0 2 3 2-1-3 0-2 0-3 2 2 2-2-1-2 2-2M346 295l-2-2 1 3 0 2 1 2 1 3 1 2 2 2 0 3 1 2M102 253l-2 0-3 1-1-3-1-2 1-3 2 2 2 2-1-3-2-1M355 246l1 2 3 1 2 2-3-1-2 2-2 0-1 2 0 3 2-2M136 245l0-3 1-2 0-3-2 2-2 1-1 3 3-1 2 1-2 2M328 312l1 2 2 1-2-1-2-2 1 3 0 3 1-3 0 3 0 2M183 318l-3 0 0-3 2 2 2 1-1 2-2-1-3-1 1-3-1-2M383 358l2-1 3 0 1 3 1 2 0-3 1 3 0 2-1-2 0-3M353 252l-2-1 1-2 0-3 2-2 2 1 2-2 2 0 1-2 3-2M359 286l3 0-3 0 2-2 2-1 0-3 1-2 1-3 2 1-2 1M181 314l-3 1 0 3 1 2 2 0 3 0 2-1 2 2 2 2 2 2M194 296l-2-2-2 2-1 2 1 2 3 0 0 2-1 3-2 2 3 0M231 305l3 0 3 1 1-2 2-1 1 2 2 0 2 2-2 1-2-1M161 320l-1-3-2-1-3 0-2-2-1-2-3-1 1-2-2-2-2-1M114 331l1 2 1 3 0 2 2 2 1 2-1 3-3 0-2-2-2 0M177 259l1-3-1 3-3 1 2 1-1 3-2 1-2 2-3 0-2 2M50 287l2 1 2 1 3 0 2-2-2-2 0 2 2 2-1-3-2 2M174 369l-2-2 2-1 3 0 3 0 2 1 2-2 2 1 1-2M204 350l1-2 1-2 2 1 3-1 2-1-1-2-2 1 3 0-2 2M198 326l-1-3-1-2-2-2 0-2-3-1-1-3 3 0 0-3-3-1M395 358l-3 0 0-3-1-3 2-2 2 0 2-2 0-2 1-3M200 282l2 0 3 0-3 1-2 1 0 2-2 2-1 2-2 2-1 2M180 253l-1-3-2-1-2 1 1 2 2-1 1 2 0 2-2 2-1 2M331 254l-3 0-2 0-2-2 1-2-2 1-1-2-2-2 0-2-2-2M334 265l3 1-3-1-2 0-3 1-1 2 2 2 2-1 2 1 3-1M108 253l-2 2-2 1-3 0 2-2-2-2-1-3 2 0-1-3 0-2M358 307l-3 0 0 3-3-1-2 1-1 2 2 1 1 3 0 2 2 1M304 301l3-1 2-1 1 3 1 2 2 2 1 2-1 3 0 2-2 2M324 236l1-3-2-2-1-2 3 1-3 0 1 3 2 2-2-2M88 368l0-3 0-2 0 2 3 0 2 1 2 1 1-3-1-2 2 2M220 316l2 2 3 0 2 0 3 0 0 2 1-2 3-1 2 2 0 2M101 344l2 1-1-2-1-2-3-2-2 1-1-2-3-1-2 0-2 2M104 310l1-2 1-2-1-3 1-2 0-3-2 2 2 2-2 2 1 2M140 349l1 2 1 2 1 3 1 2-2 1 1-2 2 2 2-2 2 0M132 255l1 2-2 3 2 2 2 1 0-2 1 2 3 1-1 3 2 1M271 260l2-1 2-1 1 3-3 1-2-2-2-1 2-2 2-1 2 2M101 322l2-2-3 1-2 0 2-1 3 0 1 3 2 1 0-2-1-3M385 303l-1 2-2 2-2 0 2 2 1-3 2-2 2 1 2 2 2-2M121 327l3 0 0 3-2-2-3 0-2-1-2 2 0-3 0-2 2 0M333 360l2-1 0-3 2 1 2 2 2 0 3 0 2 2 2 2-2 2M362 339l3-1 0 3 0 3-2-2 2 0 1 2-1 2-3 1 0-3M285 318l-2 1-3-1-2 1-2 1-3 0-3 0-1 2 1 3 2 1M279 308l0-2-1-3 0 3-1 2-1 3 2 1-2-1-2 1-2 2M235 328l-3 1-2 1-1 2 2 0 3-1 2-2 1-2 1-2-3-1M354 305l1-2 2-1 2 2 1 2 0 2-2 2-2-2-3 1-2-1M310 345l2-1 1-3-1-2-2 2-1 2 3 0-2-3-2 0-1-3M72 233l-1 2-2 1-3 1-2 0-3 1-2-1-2 1 1-2 0-2M281 299l0-3 0 3 1 3 2 1 2 0-1-2 0-3 0-2 2 0M131 276l-3 1-3 0 0-2 3 0 0 3 0 2 1 3 3-1 2 0M384 281l-1 2-2 2 0 3-3-1-2-1 0-3 2-1 2 0-2 2M374 294l1 2-2 2-1-2-1-2 0 2-2 1-3 0-2 0 0-3M197 355l-2 2 2-1 3 0 0 2 0-2 3 1 0 2 0 3-2 2M391 346l3 1-2 2 1 2 2 3 2 0-2 2-2 0-2-2M358 334l3 0 2-2 1-2-2-1-2 0 2 2-1-3-1-2 2-1M177 302l0 2 2 3 1 2-1 2-2 2-3 0 0-3 3-1-1 3M150 307l-2 0-2-2-1-2 1-3 2 0 3-1 2-2 2 1 1 3M281 263l-2-2-1-2 0-3 1-2 3 0-2-2 2-2 2-2 2 1M136 279l-2 1-3 1-1-2 1-2 0-3 1-2-2 0 2 1-1 2M189 296l2-2-1-2 0-3-3-1-2-1-2-2 0-2 1-3-3 1M324 237l-1-2-3-1 2 2-3 1-2 1-1 2-2 2-3 0-1 2M54 301l0 2-2 1 1 2-3 0-2-1 1-2 2 2-2 2-2 1M335 355l-2 1 0-3 3-1-1-2-2 0-2 2 2-2 2-1 2-2M186 283l-2 0-3-2-1 2-2 0-2 2-2 2-2-1-2-1 2-1M337 234l3 0 2-2 1 2-1 3-1-3 0-2 2 1 2 2M157 293l2 2 2 1 1 2-2 2-2 1 1 2-1 2-2 2-2-2M202 363l2-2 2-2 0-2 0-3-1-2-2-2 2-1 3-1 2 1M376 245l-2-1-3-1-1-2 1-3 1-2 2-2 1-2 2 1 2 3M200 349l3 0 2 0 1-3 3 1 2 1 3 0 2 2 1 2 2 2M193 321l-3 1 1-3-2 0-1-3 1-2 1 3 1 2 2 0 3 0M125 279l1-2-2-2-2 2 3 1 2-2 2 2 0 2 2 2 1 3M206 261l-2 0 1-2 3 1-1 3 0 2 2 2 2-1-3 0 0 2M52 324l-2-2-2 2 1-3 1-2 3 0 1 2-2 2-3 0-2 1M332 238l2 1 2 1 3 0-2 2 1 2 2 1 1 3 0 2-2 2M209 269l1 3 2-2 1-2-2-2 3-1 2 1 2 1 1 3 2 2M353 366l3-1 2 1 2 2 3 1 2-1 3 1 1-2M391 243l2 1 1 2 0 3-1 2 1 2 3 1 1-2-1-3M161 321l2-2 2-2-2-1 1 2 1 2-1 3-2-1-3 1-1 2M333 318l1 2 2-1-2-1-1-3-1 2-2 2 1 2 1 3 3 0M379 364l0-3 2 3 2-1 2-2-1-2-2-1-3-1-2 1-2 2M152 315l2 2 2 1-1 2-2 2-2 2-2 1-1-3 3-1 2-2M378 352l2 2 2-1 0-3-2-2 0-2-1 2 0 2 0 3 0 2M110 268l2-1 3-1 1-2-1-3 1-2 0-2 1-3 1-2 0 2M197 313l-2 1-3 0-2 1-2 1 1 3 2 1 1 3 1 2-1 3M391 255l1-3 2 1 1-2 2-3-1-2 0-3-2-1-3-2-2 0M151 340l-2 2-2-2-1 3 0 2 2 2-2-1-3-1-2-2 3 1M324 275l-2 1-1-2 0-3 3-1 0-3 2-1 2-1 2-1 2 1M370 271l2-3 0 3 0 2 2 2 3 0-1 3-2-1 0 2-2 2M138 359l0-2 2 2-2 1 1 3 2 1 1 2 0 3M366 286l1 3-2 2-1 2-2 2-1 2-3 1-2 0 0-2 2 1M295 245l0 2-2 0 2 2 2 2-2-2 2 1 2 2 2 0 0-2M274 279l3 0 2-2 0-3 3 0 3-1 1-2 2-1-3-1-2-1M101 269l-3 0 2-2 0-3-3 0-3 0 2 2 3 0 2 2 2 1M258 349l2 2-3 0-3 0-2-1-3 0-2-1-2-2-2-1 0-3M308 304l0 2 2 2 1 3-1 2 3 1 0 2 2 2 2 2 3 1M312 254l-2-2-2 0-2 1-3 2 0 2-3 1 1 3-2-2-2 2M303 309l1-2-1-3 1-2 3-1-3-1 1-3 1-3-3 0-1 2M325 351l-3 1-2 0-2-2 0-3-3 1 2-2 1-2-3-1-2-1M396 355l-2 1 1-2-1-3 3 0-2 2-2 1-2 1-1 3-2 1M48 311l1-2-1-2-1-3 1-2-2 0 0-2 3-1-3-1M361 346l0-2-1-3-1-2 0-3-1-2 2 1 1 3 2 0 2-1M363 251l3 1 1 2 2 2 2 1 3 1 1 2 0 3 2-2 2-2M201 327l2-2 1-2 2-2-2-1-1 3 2 1 2 0 3-1 1-2M260 249l-1 2-3 1-1 2 1 3 2-2 0 3-2 2 2-2 0-2M161 287l2-2 0-3-1-2 1 3 2 1 2 2 3 0-1 2 1-2M213 353l0-2-1 2-3 0-2-2-2 1-2-2-1 2 1 2-1 3M261 265l2 0 1 3-3 1 3 0 2 2 1 2 0 3-1 2-3 0M92 291l-2 1-2 1-3 0-3 0 2 2-3 0 2 3 2-2-2-2M85 282l-2-1-2 1-3 0-2 2-3 1-2 0-3-1 1-2 2-2M185 328l-3 0-1-2 0-3-1 2-3 0-2-1-2-1 2-1 3 0M243 233l1-2 0 2-2 3-2 1-2 1-3 1-1-3-3 1-2 2M342 272l-3-1-1-2 0 2-3 1-2 0 0-2-2-3 1 3-2 1M231 368l2-2 2 1 3 0 2 0 2 3-3-2-2 0-1-2M285 309l1 2-3 0-2-1 2-1 2 2 1 2-3 1 1-2 2 1M235 349l-1-3-1-2-3 1-1 2 1 3 2 1 1 3-2-1-2 2M47 337l1 3-1 2 1 3-1 2 2-1-2 2 0 2-1 2M155 319l-1-2 1-3-3-1 2-2-3-1 2 2-1 2-1 3-3 0M347 288l2 2 1 2 0 3 1 2 1 3 2 0 1-3 2-2-1-2M215 262l2-2 0 3-3 0-1 3 2 2-2 2-2 2 0 2 3 0M341 257l-1 3-2 2-2 0-1 3-2 1 2-2 2-1 0-3-1-2M208 276l-1-2 2-1 3 1 2-2 2 0 1-2 1-2 1-3 1-2M211 255l-3 0-2 1 1-3 0 3 1-2 3-1 2 2 1-3 3 0M165 299l-2 1-1 3-1 2-3 1-2 1-3 0-2-1-3 1 2-2M337 322l-1-2-3 1-2 0-2 2-2 2-2-2-1-2-1 3-3 0M180 361l-2 2-2 1 2 0 3 2-3-2-2 0 2 1 2 1 3-1M169 308l-2 1-2 1 2-1 2 1-1-2 2-2-2-3-1-2 3-1M98 320l2 1 3 0 2 2-1 2-3 1 0 2-1 2-3 0-2 2M354 370l-1-3-2 2-3 0 2-2 2 0-1-2 1-2 2-2M391 281l-1-3-3 0-2-1-1 3 1-3-3-1-2 2-1 3 1-3M331 303l2 2 2-2 1-2-1-3 3 1-1-2 1-3 2-2 2-2M345 327l0 2-1-2-1-3 0-2-2-1-3-1-2 1-2-2 0-2M165 311l1 2 3 2 0 2 1-2 2 2 2 2 2 1 3 0-3 0M82 260l-2 1-1 3 3-2 1-2 2 0 2-2 2 1 2 0-2-1M290 266l-3 0 0 3 0 2 2 0 3-1 2-1-2 0 0 3 3 0M77 250l-2 1-1-3-3 0-2-1-2 2-3 1 1-3 2-2 2 2M67 258l3 1 2 2 0-3 2 2 2 2-2 2-2-2-3-1 1-2M238 247l2 1-1 2 3 0 2-1 1-2-2-2-1-3-1-2 2-2M308 361l1 2-1 3 1 2-1-2 1-2 3-1 2-1 2 1 2 2M175 243l-3 0-2 2 1 3-2 2-2 1-2 2 1 2 3 0 1 2M244 345l3-1 0-2-2-1-2-2 2-1 0-3 1-2-3-1 2-1M213 255l2 1 2 1-2 1 1 3 2 0 3 1 0-3 1 2-2-1M326 318l0 3 2-1 3-1 1-2 3 0 2-1 0-2 2-2 3 0M157 290l1 2 3-1-2-1 2-1 3 1 2 1 2 2 0 2 0 3M224 290l1 2 1 3 0 2-2-1-2-2-2-1-3-1 2-1 3-1M284 248l-2-3 1-2 1-3 2-1 2 2-1 3-2-2-2 0-1 3M391 291l3 1 2 0 0 3-2 1-2 2-3-1-2 2-1 2M125 291l-1 3 2 1-2 2 2 2 2 0 3 0 2 2 2-1 1 2M388 330l1 2 2 1 0 3 3 0 3 1-3 1-1-2 3 0M312 350l1 2 2 1 1 3 2-3 2 2 2 1 2-2 0-3-2-1M248 357l-2-1-2 2-3-1-2 2 0 2-3 0-3 0 0-3 2 2M359 278l3 1-3 1-1 2 2 1 0-2 1-3 2-1 2-2 2 0M133 255l-1-3 2-2 2 2 0 3 2 1 3 0 2 0 2-3 0-2M212 239l-2-1-2-1-2-2 2 1 3-1 2 1 1 2-1 3M351 282l0 3 2 2 2 1 0 3-3-2-1-2-2 1 0 3-3-1M83 260l-1-3 1-2-2-1-1-2-1-3-3 0-1-3 2-1 3 0M320 351l1 2 2 3 2 0 1 2 1 3 2 1 2 1 0-2 2-2M325 313l-2-2-2 1 0-2-2-2-1 3-2 2 3 1 1 2 3 1M332 356l2 1 3 0 0 3 1 2-2 2-2-2-3 0-1-2-3 0M364 243l3-1 2 1 3 0 2 1 1-2 2-1 2-2 2-1 0-2M394 342l0 2 1 2 0 3 3 1-3 0-2-1-3 0 0 3-3 1M311 297l2 0 3-1 2 0 0 2 1 2 0 3-2 1-3 1 1-2M159 248l3-1 0 3 2-2-2-1 3 0 1-2-3-1-2 0 0-3M232 226l-2 1-3 1 3 2 0 2 2 2 0 3 0 2-1 2-1 3M217 351l2-1 3 0 0 3 2-2 2 0 3 0-1-2-1-2-1-3M349 355l-2-2-3 0-2 0-3 0 2-2-1-3 2-2 3 1 2 1M69 337l-2 2-3 0-2 1-2 2-1-2-3 2-2-2 0-2-2-1M151 294l-3-1-1-2-1-2-3-1-3 0-2 2 3-1 2-1 2-2M97 262l-3 1 1 3-2 2-2-1 2-2 3 0-1-2-1-2-2 2M288 313l-2-1-3 0-2 1-2-2 1-2 1-2-2-2 2-1-1-3M397 248l-2 1-3-1 3-1 2 0 0-2-2-2-2-2M329 250l0-3-3 2-2-1 1-3-3 2-1 2 1-2 0-3-1-2M145 316l3 0 1 3-2 2-2 0 0 2-2-1 2-1 0-3 1-2M193 280l-3 0-2 0-3 0 2-2 2-1 3 1 1 3 2-2 0 3M354 324l1-3-2-1-3 1 2 2 3 1 2-1-2-2-1-2-1 2M128 316l1-2-2-1-3 0-1-2 0 3-2-1-1-2 0-3-3 1M376 368l-2 0-2-2-2-1 0 2 1 2-2 0M203 238l-2 1-1 2 1 2 3-1 0 3 1-2 1-3-1-3-1-1M146 300l-1-2 2-2-2-2 0-3-3 1-2 2 2 1 1-2 0-3M392 253l-1-2 1 2 1 2 1 3 2 2 2-1 1 3-3 0-2 1M121 281l-1-2-3 0-2 0-3 1-2-2-1-2 2 0 2-2 1 3M167 293l1-2 3-1-2-1-1-3 1-2-2 0-3-1-2 0-3 2M281 237l2-1-1-2 2 1 1 3 2 1 2 2 3 0 1 2 0 3M53 258l2 0 2 1-2 2-2 1-1 2-2-2-1-2 2-1 1 2M174 272l-1 2 1 3-2 0-2 2 0 3-2-1 1-3 3 1 0 3M364 279l1-2 2 0 1 2 0 3 0-3-2-2 0-2-1-3 2 2M81 356l-1 2-2 2-2 2-2 1-3 0-2 1-2 1-3 0 0-3M297 264l-2 2 0 3-2 1-2 2 2-2 0-2 0-3 0-2 2 1M346 290l-2 0-2 2-2 1-1 2-2 3-2 0-2-1 0-3-2-2M112 326l1-3 0-2 2-3 1-2 2-1 1-3 0-2-3-1-2 1M397 337l0 3-2 0-1-2 0-3-1-2-2 1-1 3 1 2M308 318l-2-1-1 2-3-1-2-1-2-1-3 2-2 1-1 2-2 0M302 325l-1 2-1 3-1 2 2 2 1-2 0-3 2-1 1 2-1 2M321 356l-1 2-3 1-2 0-1 3 3 0-1 3-2 1-2 0-3-1M255 355l2 1 2 0 3-1 2-1 3-1-2 2-3-1 1-2 2 1M323 247l-3-1 2 1 1 3 2 1 2 2 3 0 0 3-2 1 0 3M188 290l-1-2-1-2-3 0-1 2-1 2 2-1 3 1-2 2 0 3M249 279l-2 0-2 2 2 2 2 1 0 3 0 2-2-2 2-1 2 0M53 304l2 2 2-2 2-2 1-2-2-2 3-1 2 1-3 1-2 0M284 347l-2-2 0 3-1 2-2 1-3 1-2-1-2 2-2-2 3 0M205 360l3 0 2 2 3 0-1 2-2-1-1-3 0-2-1-3-2-2M98 270l1 3-1 1-2 3-2 1 3 0 2 0 2 2-2 2 1 3M204 363l-1 2 1 3 2-1 0-3 0-2-2-2-2 0 0-2 3 0M267 305l-2 1 1-3-1-2 0 3 1-3-2-2-2-2-1-2-2 2M185 313l1-2 2-1 3 0 2-1 3 0 2 0 2-3-3-1-1 3M190 335l-2 1-2 2-1 2-2 2-1-2-1-2-2-2-2-2 3-1M55 239l1 3 0 2 0 3-2 1-1 3-1 2-2 2 1 2 2 2M90 325l-1-2 2-2-2-1 1 2-3 1 1-3 2-2-1-2 2-2M272 258l-2 2-1-2-3 0-2-1 0-2 1-3-1-2-2-2-3-1M282 245l-2 1-2-2-3 1-2 0-2-2-1-3 0-2-1-3-2 2M148 358l0 2-2-2 2-1 1-3 2-1 0-3 0-2 3-1-2 2M71 347l-2-2-2 2 0-2 1-3-3 0-2-1 1 3 2-2 2-2M338 363l2-1 3 0 2 0-1-2-3-1-1-3-2 0-3 1-2-1M380 347l0 2 1 3 0 2 2 1 2 2-3 0-1 2-3-1-2-1M268 277l-2-1-3-1 3-1-1 2 3 1-3 1 2 3-1 2-2 1M168 364l-2-1-3-1-2 0-3 1-2 0-2-1-1-3 0-2 1-3M86 263l1-2 2 0 1-2 3-2 2 1 3 0-1 2-3-1 2-2M315 341l0 2 1 3 0 2 1 2-1 3 2 0-1 2 0 3-2-1M208 359l-1 2 0 3-1 2 2 3 2-1 1-2M340 335l2-2-3-1-1-2 2-2 2-2-2-1 1-2 3 0 0 2M128 365l2-1 2 2 2 1 3 0 2 1-2-1-2-1-1 3M247 331l0-2 1-2 1-3-2-1-2-2-3 0-2 1-1 3 1 2M228 354l2-1 2 2-1 2-2 1-3-1 2-2 2 1 3 1 1-2M301 264l-1-3-3-1 2-2-2-2-2 0-3 1 1-3 2-1 2-2M174 304l1 2 1-2 2-1 2 2 2 0 3-1 1 3-2 1-1 3M87 249l1 2 3 0 2 0 2-1 3 0 1-3 0-2 1-2 2-2M45 262l3 2-2 2-1-3 2-1-1-2 1-3 1-2 1-2M290 369l2-2 2 1 2 2-2-1 0-3-1-2-3 0M270 267l-2-1-2 2-2 2-2-1 2-3 2-1 3 1-1 2-2 2M95 340l-3 1-1 3-2-1 2-1 3 0 2 1 0-2-2 2-3 1M307 243l2 2 0 3-1 2 2 2-1 2-2-1 1-2 3-1-1-2M154 353l-1 2-2 0-3 1 0 3 2 1 1 2 3 0 3 0 2 0M151 279l-1 2-2 2-1-3-3 0-1 2 0 3-3 1 0 2-2 2M272 261l2 2 1 3 0 3 2 1-2 1-3 1-2-1-3-1-2-2M282 249l-3-1-1 3 2 2 2-1 0-3-2-1-2-1 1-2-2 0M377 347l3 0-1-3-3-1-1-2-3-1-2-2-2 1-3-2 3-1M313 331l-2-1-3-1 3-1 1 2 3 1 2 0 3 0 2 1 1-2M346 273l3 0 0 3 1 2 1 2 3 1 0-3 1-3-2-2 1-2M229 265l2-2 2 2 2-2 0 2 1 3 3 1 1-2 2-1-2 1M264 260l-2-2-3 0-2-1-1-2 1-3 2-1 3-1 0 2 3 0M160 311l-2-2 3-1 1-2 3 0 1 2 2 2 2 1 2 2 0 2" fill="none" stroke="#d4c73e" stroke-width="1.25" stroke-linejoin="round"/><path d="M149 259l-1 2-2 1-2 2-1 2 2 2 2 2 1 2-1 3M358 256l-1 2-2 1-2 2-1 3-1 2-1 3 0 2 0 3M205 339l-3 0-2-1-1 2-2 2-2 0-3 0 0-2 1-3M120 340l1-2 0-2-2-1-2 2-1-2-2 2-2 2-1 2M302 351l-2 2 0 3-3 1 2-2-1-2-1-2 1-3-1-2M272 253l-2 0-3 0-2 1-3 1 1 3-2 2 1 2 2 2M60 261l2 1 3 0 2 1 2-2 1 3 0 2-2 2-1 3M71 291l1 2 1 3 2 2 2 1-1 2 1 3 3 0 1 2M351 257l0 3 3-1 1-2 1-2-1-3 0-3 2-1 2 1M276 323l2 2 3 0 2-1 1 3-2-2-1-2-2-2 3 0M320 257l-2-2-2 0-3-1 2-3-2-2-2 1 2 2 2 2M344 263l1-2 0-3-2-2 0-2-2-1-3-1-2 1 0-2M132 362l-2 2 2-2 3 0 2-2-3 0 1 3-3 1 1 3M396 240l2-2-2-1-2-2 2-2 2 2-2 3 2 2-3 1M267 241l1-2 3 0 2-2 2 0 2-2 1 3 0 2 0 3M198 278l-1-3-2 0-2 1-2-2-2-1-2 0-2 2-1 2M58 276l-3 0-2 1-1-3 2-1 1 2-3 1-1-2-3 0M306 247l2 2 2 1 3 0 2-1 2-3-2-1-3 1-1-2M288 332l3 0-1 3 1 3-2 1-2 2 2-2-2-2-2-1M398 356l-3 0-3 1-2-1 1-2 2 1 3 0 1-3M329 344l2 2 1 3-1 2 2 2 2 1 1 3 3 0 1 2M92 281l2 1 2-1-1-2 1-3 1-2 0-2-3 0-2 1M373 349l-3-1-2 0 0 3 2 2 2 2 2 1 0 3 2 2M321 268l-3-1-2 2 1 2 2 2 0 3 0 2-1 3 0 2M292 326l0-3 0-2 0-3-1-2-1 2-3 0-2 2-2 0M192 239l-1 2 1 3 2 0 3 1 0-3 3 0 3 0-3 0M346 271l2-1 3 0 2 2 2 1 2 2 2-1-2 1-1 2M127 339l-1 2-3 1-2 2 2 2 0-3-2-1 0-3-3-1M378 253l1 3 0 2-1 2-2-2-2-2 1-2-2 2 2-1M224 363l-1-3-1 2-3-1-2 0-1-2 2-3 1-2 2-1M374 330l-1-2-1-2-2-3 0-2 2-2 2-1 1 2-1 3M392 278l2 2-2 3 1 2 2 2-1 2-2 2 1 2 1 2M255 232l-2 1-2 2-2 1-3 1 3 0 2 1 3 0 2 1M137 336l-3-1 2-1 2 2 2 2 1 2 2 2 2 1-2 2M278 318l-2-2 3-2 2 1-2 2 3 1 2 1-1 3 0 3M327 260l1 3 0 2 3 1 1 2-2 1-1-2-3-1 1-3M345 351l1 2-2 2-2-1-2 1-1 3-1-2-2-2-2-2M312 291l-1-2-3-1-2-2-3 0-2 0-3 0 3-1 0-3M123 359l-1-2-1-2 1 2 1-2 3 0 1 2-2-2 0-3M386 351l1-2-1-3 1-2 0 2 3 1 1 3 2 0 1 2M220 348l-2 1-2-2 1-3 1-2 1-2 2-2 2 2 2 1M292 361l0 3 1 2 1 2 3 1 2 0 2-2-1-3M310 273l1 2-1 3-1 2 3 0 2 1 3 0 2 0 2-2M181 295l1 2 3-1 2 0-1 2 1-2 0-3 1-2 1-2M335 369l-2-2-2-1-2 2-3 0-2-1-3-1-1-3 3 1M135 293l-2-1 1-2 1-2 0-3 2-2 1-2-2 1-2 2M332 281l-3-1-2 1-2-2-2 1-1 2 0 3 0 2 0 3M381 245l1 2 3 0-1-2 0-3 0-2-3-1-1-2-1 2M345 297l-2 2 2 2 2-1 2 2 3-1-1-3 3 0 2-2M114 266l2 1 0 2 2 0 0 2 1 3-2 2 1 2 2-2M215 233l-3 0-3 0 0 3 2-1 3-1 1-2-2 2 1 2M55 297l0-2-2 2-2 1-2-1-2 2 2 0 3 0M257 345l1 2 3 1 2 1 1 3-3-1-1 2 1 2 0 3M109 359l-3 0-2-2-1-2-1-3-2-2 0-2 0-3-1-2M211 231l1-2 2-2 0-3-2-2-2-1-2 2 3 2 2 0M217 346l-2 2-3-1 0-2 0-3-2 1 2-1 2-2 2-2M319 295l3 0-3 0 0 3-1 2 1 2 2 2 2-2 2 1M343 317l2-2 3 0-2-2-2-2-2 1 0 3 2 2 0 2M295 342l1 2-2 0-3-1-2-1-2-2 0-2 1-2 1-3M157 351l3 0 2 2-2 2-2 1-2-2-1-2 1-3 0-2M305 232l0-3-1-2 2 1 2 2 1 2 1 2-2 3-1 2M292 336l-1-2-1 2-1 2-2 2-1-3 1-2 2-2 2 0M397 247l0 3-3-1-2 1-2-2-2 2-1 2 0 3M188 256l-3 1-2 2 0 2 2 1 2 2 3 0 2 2 1-2M234 335l-2 2-1 2 1 3 2-2-1-3 3 0 2-1 3 1M202 329l0 2-3 0-1-2-2-1 3 0 2-2 2 1 1 2M255 269l3 0 2 1 0 3 1-3 2-1 1 2-1 2 2 1M338 333l2 0 3-1-1-2 2-1 3 0 2 0 3 0 0 3M396 255l2-1-1 1-2 3-1-3-2-1-3 0-1 2M170 246l-1 3-1 2-3-1-2-1-2 2-3 1 1 3 0 2M322 296l0-3-2-1 1-2 3 0 3 1 2-2-3-1 1 3M152 294l1-2-3-1 2-2 2 2-1 3 2 1 3 1 0 3M125 284l2 0 3 1 1-3-1-2 2-1 1 2 2 2 2-2M377 275l3-1 0 2 3 0 2-1 2 2 1 3 1 2-3 2M350 243l-3 0 3 0 1 2 3 1 2-1 1 2-1 3 0 2M134 277l2 2 3 1 2 1 2 2-2-2 1-3 1-2-2-2M394 261l3 1 1-2 1-3-3 2-1 2 0 3M211 356l-2 2-1-3 3 0-1-3 0-3-2 2-2 1-2-2M122 261l2-2 1-2 0-3-2 0 1-2 0 2 0 3 0 2M391 242l-2-1 1-2 3-1 0-2-1 2-3 1-2-1-2 1M263 352l-3-1-2-1-2 1-2 2-1 2 3-1 0-2 2-2M337 274l-1-2-3-1-2 1 0-2 0-3 1-2 2-2 1-2M303 291l-1-3 0-2 2-1-1 2-2-2 0-3-2 1-2 2M363 241l-2 2 2-1 3 0 2 1 3 0 1-2 1-3-2 1M388 278l-2 0-2-3-2 2-1 2 3 1 0 2-2 1-2 1M258 230l-3-1-2-1 2-1 3-2-3 1 1-3-1 3 0 2M259 265l2 1 3 0-1-3-2-1 2 2 2 1-1-2 1-2M395 301l-1-2-2-2-2 2 0-3-2 0-3 0-2 0 1-2M360 260l-1-2-2 3-1 2-1 2-2 2 3 1 1 2 3 0M212 341l-3 0-2 0-3 0 0-3 1-2 2 2 2-2 2 1M364 280l-2-1-3-1 0-3 1-2 1-3 1-2-1-2-2-2M215 324l2 1 3-1 2 1 1-2 0 3-2-1-2-1 2 0M176 319l-2-2-2-2 2 3 2-1-1-2 1-3 0-2-2 0M302 254l-3-1-2-2 0-3 0-2 0-3-1 3-2 1 1 3M222 287l-2 2-3 0-2 1 2 2 1 2 2 0-2 2-2 1M58 236l2-2 1 2-1 3-3 0-2 2-1-3 2-2 0-3M200 247l-1 3-2-1-3 0-2 0 2-2-1-3-2 0-1-2M291 259l2-2 2 0 3 0 0-3 1 2 2-1 1-2 1-2M305 271l-3 2-1 2-3 0 0-2 2-2 2 1 2-2 2-2M384 286l-2 2 2-2 1-2-1-2-3 0-1-3 3 2 2 1M199 288l0-2-2-2-2-1-3 0-3 0-1-2 1-3 2-1M250 228l-2 3 0-3-3-1-1-2 1-2 3-1 2 2 0-3M123 367l-2-1-1 2 2 1 2-2 2-2 3-1 1 2M304 248l0 3 1 2-1 2-1-2 1-2 2 2 3 0-2-1M125 306l-2-2-3 0-1-2-2-2-2-1-2 0-3 1 1 2M201 245l-2 1-2 1-2 2 1 2 2 1 2-2 2 1 1 2M216 244l-2-1-1 2-2 2-1-3-1 3 1 2 3 1 0 2M236 347l-2-1 2 0 0 2 1 3 1 2-2 0 0-2 3 0M369 268l-1-3 0-2-2 1-2-2-3 0-2-2-1-2-1-3M260 316l-3 0 0 2-1 3 2-2 0-2-1-3-2 1-1 2M361 257l-2-2-2-1-3-1-1 2-2 0-1 3-1 2-3 0M173 348l2 2-1 2 0 3 1 2 3 0 2 2-2-3 1-2M167 288l2 1 3-1 1-2 1-3-3 1 1-2 0-3-2-2M373 249l-2 2-1 2 1 3 1 2-2 3-2 0 0 2 1-2M278 316l3 0-3 0-2-1-1-2 0-3 1-2 3 0 2 1M248 336l1 3 1 2 1 2 2-2-2-2 3-1 0-3 3 1M213 302l0 2 1 3 0 2 2 1-2-1-2 1-1-2-1-3M165 307l0-2-1-3-3 1 0 3 0 2 2 1 3-1 2-1M184 334l-2-1-3 0-3 0-2 0-1-2-2-2-2 0-2 2M222 256l0-2-1-3-2-2-1-2 1-2 2-1-1-3-2-1M206 249l0 3 1 2-2 2 0 2 1 2 0 3 2-2 2-2M360 238l1-2 2-1 1-2 0 2 1 2 2-2 2 1M55 273l-1-2 0 2 2 2 2 1 2 1 2 2 2 2-2 1M186 249l2 2 1 2 0 3 0 2 1 3-2 1 1-3-2 2M65 243l2-2-3-1-1-2 0-3-3 1-2-2-2-1M285 267l-2 1 3 1 1 2 0 3 1 2 1 3-1 2-3-1M297 285l0-2-2-2-2 0-3 1 0 2-3 0-1-3 2-1M328 280l-2 2-1-2-2 0-3-1-3 1-1-2-2-2 1-3M151 266l-3 0 1-3 3 0 1 2-1 2-3 0 1 3-3-1M374 261l-2 1-2 2 3-1 0-2-2-2-2-2 0-2-1 3M311 235l-1-3 2-1 2-2 1 3 2-2 3-1M397 274l1 2-2 1 1 3-2 1-3-1 0-2M115 367l-2-1 2-1 2-1 1 2 3 1-3 1-1-3 3 0M213 253l-2 1 2-1 3 1 2 1 2 0 1-2 2-2 1-2M355 350l-1 3 2 0 3 0 1 2 1 2-2 2-2 2-2 0M261 254l-1-2-3 0 2 3-2 2-2-2-2-1-2-2-2-1M135 316l0-2 0 2 1 3-1 2 2 1 1 2 0 3 3 0M281 346l3 1 2-1 1 2 2-1 2-1 1 2 3 1 2 1M367 250l-3 0 0-3-1-2 2-2 2-1 0-2 2-2 0 3M253 331l2 2 2-1 3 0 1 2 2 2-1 3 2 1 3 0M197 340l3-1-1-3 0-3 0-2-3 1 1 2 2 2 2 0M225 292l0-3 2-1 2 1 1 2 2-2 2-1 2-2 2-2M71 323l2-1 0-3-2 2-2 2-1-2-2-1 2 2 0 2M125 291l1-3 3 1 2 2 0 2-1-2 1-3 2 0-2-1M397 286l-2 1 2 1-2 0 2 1 2-2-2-2-3-1M147 295l-1 2 3 1 2 2-3 0-2-2-2 1-2-2-3-1M384 245l-3-2-2 0-3-1-1 2-1-2 1-3 3 0 2 2M356 268l1 3-1 2 2 2 3-1 2-1 1-2-1-2 2-2M389 254l-3 0-2 1 0-2-2-2-3 0-2 0 1-3 2 1M232 320l3 2-1 2 0-2 1-3-2-2 1 3 0 2 2-2M365 340l3 0 2 0 2-2 2-1 2-2 1-2-2-2 1-2M285 365l1 2 1-2 3 1 2 0 1 2-2 2-2-2M241 282l1 2 0-2-1-2-2-2-2 1-1 3-3-1-2-1M322 295l-2 2 1 2 2-1 2-3-2-2-2 1-3 1-2-1M58 274l2-1 2-1 2-1 3 0 2-1 0 2 0 3-1 2M341 287l3-1 2 1-3 1 2 1 3-1-2 2-3 1 1-2M112 289l-1-2 1-2-2-2 0-2 0-3-2-2 2-2 2 2M305 255l1 3 3-2 2-1 2-1-1-3 1-2-1 2 1 2M381 294l2 2 0 2 2 2 2-2 0 2-2 2-2-1-2-1M87 285l-2 0-2 2-3 1 0 3 1 2 2 0 3-1 2-1M379 333l2-2 3 0 2 1 0-3-3 0 1-3 2 1 2 2M139 249l-2-1 2 0 0 3 2 1 0 3 2-2 2 1 2-2M133 365l1 3-1-3-1-2-2 0-2-1-3-1-1-2-2-1M314 236l1-3-3-1-2-2-3 0 1 2-2-1 1 2-2 2M295 234l-2 1-2 2 2 2 2 2 1 2 1 3-2-3-2 0M379 258l-2 2 2 2-2-1-3 1-2 0-3 1 1 2-2 2M265 241l3 0 1 2 2 2 2 1-1 2 2-2-3 0-2-1M324 285l0 3 1 2-3 2 0 2 3 1-1 2 0 3 1 2M197 265l1 3 3 0 1 2 2 2 0 2 0 3-1 2 0 3M118 317l3 1 2 0 0 3 3-1 1-2-3-1-1-2 2-2M361 251l0 2-1 3 0 2 0 3 2 2 2-1-1-2-3-1M224 301l2-3 2-1-1-2-2-2-1-2 1-2-2-1-1-3M278 285l-3 0 2-2-1 3-2-2 0-3 3 1 2-1 0-3M293 268l3 0 1-3-3 1-2 0-2-2 1 2 0-3-2-1M282 270l-3 0-1-3 1-2 0-3 2 2 3-1 2 1-3 0M336 237l-2 2-2 2-2 2-2-1-2 1 2 2-1 2-1 2M214 329l1-3 1-2-1-2-1-3 1-2 0-3 2-1 3 0M319 275l-2 3 2 2-1 2 2 2 2-2-2-1-3 0-2 2M347 318l1-2 2 1-2 0-2 2 1 2 1-2 2 1 2 1M228 308l2 2 1-2 0-3 1 2-1 2-3 1-2 0-3 1M303 320l-3 1-1-2 2 1 3 1 2 1 1 3 2 1 0 3M321 281l2-1 1-2 1-3-2 0 0 2 0 3 1 2 2 2M254 223l0 3-2 1-3-1 1 3-2-2 2-2 0-2 1-3M168 283l1-2-2-2-1-2 0 3-1 2 1 2 0 3 1 3M251 306l-2 0-3-1 3 0 1 2 3 0 1 2 2 2-2 1M316 298l3 1 2 2-1 2-2 1-3-2 2-1 2-3 1 2M253 284l2 1 3 0-3 0-2 0-3 0-2 1-1-2 0-3M332 256l1 2 3 1 2-2-1 3 0 2 1 3 2-2 2-2M211 233l2-2 2 1 0-3-1-2 2-2-1 3-1 2 1 3M85 298l-2-1-2-1 1 2 2 1 3-1 2-1 2-2-3-1M274 266l-2 2-2-2-2 2-2 2 0 3-2-1-1-2-2-2M326 329l-1-2 0-3 1-2-1-2 2-2 2-2 1 3 1 2M267 258l2 2 0 3 0 2 2 2 1-3 1-2 0-2 1-3M116 349l1 2-2 1-2 2-1-3-1-2 0-3 3-1 2-1M160 343l1-2 2-2 2 1 0 2 2 0-2 0-3-1-2-1M280 348l-2 0-3 1-2 1-3 0-2-1-3-1 0-2-1-3M359 330l-2 1-3-1 0-3-2-2 2-2 0-3-3 0-3 1M90 302l2-2 2 2 1 3 0-3-2-2 3-1 2 1 2 2M325 315l-2-1 1-3 1 3 1 2 3 0-2 2-2 1-2 2M388 268l2-2-1-3-1-2-1-2-2 1-3 0 0 3 1 2M209 255l1 2-1 3-2-2 1-2-1-3 0-2-1-2 2 1M398 276l-2 1-3-1-2-1 0-2 1-3 2 2M365 363l-1-2-3 0 3 0 0-2 1-3-2-1-2 1 0 3M342 276l3 0 2-1 2-1 1-3 3 1 1-2 2-2 3-1M260 232l-1 2-2 2-1 3 2 2 1 2-1-2-2-1-3 0M277 273l0-3-1 3-2 2-2-2-2-2-1 2-2 2-3 1M171 252l-1 3-1-2 1-2 3-2 2-1 2-1 1-2 0-3M210 317l-3 1 2-2-2-1 1-2 3 1 2-1 2-2 2-2M162 328l0-3-2-1-3 1 3-1 2-1 1 2-1 3-2-1M222 227l2-2-1 2-3 1-1 2-2-2-2-1 1-2 1-3M311 358l2 1 3 0-1 3-2 1-3 0 0 2 3 2 2 0M382 243l3 0 1-2-2-2 0-2 0-3 1-2-1 2M395 280l-2-1-2 2-3-1-3 1 3 0-1-3 3 0 1-2M179 300l0-3 2 1 3-1 2-2 1-2 2-1 3-1 2 2M264 246l1 2-2 0-2-2 3 0 3-1 2 1-1 2-2-2M174 242l-1 2 0 2 1 3 1 2-3 0 0-2-1 2-2 2M304 267l-3-1-1-2 0 3-1 2 1 2 1-2 3 0 0-2M286 258l2 2 3 0 0-3 3-1 1-3 0-2 0-3-2 2M359 265l0 3-3-1 1 3 0 2 1-2 0-2 2-2 0-2M192 367l2 1 0-2-2-2-3 1 0 2 1 3 0-3M313 305l2-3 2-1-1 2-1-2-1-3-1 2 1 3 3 0M185 360l-1-2-2 2 3-2-1 3 3 1 2 2 1 2 0 3M300 353l-2 2-1 3-2 1-2 1 0-3-1-2 0-3 2 0M366 264l0 3 2 0 0 2 3 1 2 0 3 1 2 1-2-1M299 318l2 0 3-1 2 2-1 3 2 0-1-2-2-2-3-1M157 289l0-3 3-1 2-1 2 2-3 1-2-2 2 2-1-3M165 317l2 1 3 1 2-1 3 0 2 2 0 2 2 2 3 0M200 340l2 0 3 1 2-1 2 1 1-2 3 0 2 1 3 0M308 347l0-3 1-2 3-1 1 2 2 2 0 2-2 2-3 0M268 308l-1-2-2-1-2-2-3 0 0-2-3 0-2-1-3 1M174 330l1 3 2 1 1 3 1 2-2 2 0 2 2 3 2-2M110 305l-3 0-2 1-2-1-1 2 1 2 2-2 2 1-2 1M280 263l-1-2-3 1 3 0 2-2-1-2-2-2-1-2-2 1M206 325l-2 2-1 3-2 2-2 0-3 0-1-2 2 2-2 1M217 321l-2 1-2-2-2 1-2 3 1-3 0-2 0-3 2 0M307 236l-1-2-2 0-2-2 0-2-1-3 3 1-1 2M318 321l-2-2 2-1 3-1 1 2 2 1 3 1 1 2 2-1M355 368l-2-2-2-2-1 3 2 1-2 1M396 239l2-2-3 0 2 2 1-3-1-2M155 271l2-2-1 2-2 2 0 3 2 1 2-1-2-1-1-3M223 233l1-2 2 0 1-3-1-2-2-2 1-2-1-3M365 240l0-3 1-2-1-3 0 3 2 1 2 2 1-3M270 241l0-2 3-2 0 3 2 1 2 1-1-3 3 0 2-2M270 292l-3 0-2-2-3 0-2 1 0 2 3 0 2-1 2 1M234 231l0-3 0-2-2-2 3-1 2-1 3 0 2-1 1 3M389 268l2-2 2 1-2 2 0-3 3 1 2 1 3-1M282 300l-1 2 0 2 3 0 1 2 1 3 2 1 3-1 2-2M167 267l1 2 1 3-2-2-1 2 2-2 2 1 2 0-1 2M279 346l1 3 0 2 1 3 0 2-1 2 0 3 0 2 3 1M326 308l3-2 2-2-2-2-2 0 0 3 2 0 3 0-3 1M159 298l2-2 0-2 2-1 3 1 0-3-2 2-1-2-1-3M244 228l1-2-1-2-3 0-2 2 1-2-2-2-2 0-2-2M174 237l-1-2 2 0-2 1-1 2-1 2-2 2M282 232l1-2 0-3-3 1-2 1-2 2-1 3-1 2 1-2M48 360l0 2-2 1 2-1 1-3 0-2 3-1 1-2 2-2M201 236l0 3-2-2 3 2 0 2 2 2 2 1 2-1 3 1M378 269l-3 1-2 1 1 2-2 0-3 0-1 2-3 1-2-1M150 322l2 2 0 3-2 1-2 1-2-2-2 0-1 3-2 2M328 237l2-1-2-1-2-1-2 1-2-1-3 1-1-2 1-2M264 272l0-2 2-1 0-2-2-3 0-2 2-2-2-2 1-2M331 366l2 2 0-2 1 2 3 1-3 0M338 240l2 1 1 2-3-1-2-1-1 2-2 2 1 2 0-3M350 307l1 2 0 3 3 0 3 0 1-2 3-1 2-1 0-3M388 330l-2 0-1-3 3-1 0-2-3 0-2 0 0 3-2 2M260 301l1-2-3 0-1-2 0-2-2 0 0 3 3 0 2-1M103 282l1 2 3-1 2-1 2-1 1 2 3 0 2 1 0 3M243 226l2 1 1-2-3-1-2-1-2 1-3-1-2 0-2-3M282 326l1 2 0-2-1-3-2 2-2-2 2-2 2-1 1-3M142 305l-1-2 0-3-2-1-2-3-2 1-3 0 0 2 2 1M339 258l-2 1-2-2 0-2-1-3 2 0-2 0 1-2 0-3M302 345l0 3-2 2 1 3-2-1-3-2 1-2 3 1 0 3M133 332l2 0-2-2 0-2-1-2 0-3 1 3-2 1 0 2M337 353l-2-2-2-1-1 2-1 2-1 3 0 2 1 3 2 1M362 256l-2 2-2-2-3 0-1-3-2-1 2-1 3-1 2-2M211 282l-2-1 0 3-1 2 2 1-3 1 0-3-2 2 3 1M279 291l3 0 0-3 2 1 2 2 2-2 2 0 3 0-2-2M102 330l-3 1-1 1-2 3 0 2-1 3-2-1 1 2-1 2M235 307l2 2 1 3 0 2-1 3 0 2 3 0 2 0 2-1M369 277l-3-1-2-1 0 2-2 2 0-2 1-2 1 2 0 3M251 235l-2 2 2 2-2-2 1-2-3 0-1-2 0-3 0-2M347 354l1-3 2 0 2 1 3 1 2 2 2 1 1 2 3 1M230 292l-1-2-1-3 0-2 1-3-3 1 1 3 2-1 2 2M352 368l-2-2 2 0-2-1-2-2 2-2 1-3 1-2M149 347l-1-2-2 0 0 3 0 2 1 2 3-1 2 0 0 3M62 286l2-2 2 1 1 2 0 3-1-3 2-1 3 1 2-1M192 318l-2 1 0 2-2 2 0 3-2 1 0-2 2-3 2 0M286 333l-2-2-2 1 3 1 1 2-2 2-2 2 0-2 1-3M374 251l-2 2-3 0-2-1-2-2-3 0-2-2 3-1 1-2M302 342l0 3 1 2 2 2 2 2 3-1-1 3 2-1 0 3M397 361l-1-2-2-2 1-3-1-2-3 1-2 0-2 2-2 1M85 249l2 1 3-1 2 0 3 2-3 1-1 2-2-2-1 3M199 368l0-3 1-2 2 1 1 2 3 0-1 2-1-2M265 288l2-2-2 2-2 1-1-3-2-1 2-2 2 0 1 3M228 335l-3 0-1 2-3-1-2 1-3 0-2 0-2-1 2 0M291 270l3 0 3 0 1 2 0 3 2-1 3 0 1-2-2-1M139 352l0-3-2-2 0-2 3 1 2 1 2 1-1 2-2-2M336 359l2-1 2-1 3 0 2 0 2 1-2 2-2-2-3 0M244 324l-1-2-1-2-3-1-2-1 1-2 1-2 2-2-2-2M370 341l0-3 0-2 1-3 0-2 2-2 0-3-3-1-2 0M187 333l2 1 1 3 0 2-3 0 3-1 2-2 0-2 0-3M194 286l-1 3-2 1 2 2 1 2 2 2 0-3-1-2 2-1M48 317l-3 0 3 0 2-1 2 0-2-2-2-2-2-1M357 296l2 0-1-2 2-1 2 0 3 1 0-3-1-2 2-2M317 352l1-2-2 1-2-1-1-2-3-1-3 0-2-2 1 3M366 251l2-2-1-2-3 1-1 2 0 2 1 3-3 1-2-1M332 256l-1-2-3 0-2 1 1 2 2 2 2 1 1 3 0 2M276 274l-2-2-3-1 0-2 2-2-1 2-2 0 0-3 2-2M395 243l0-3-2-2 3 0 2-2 0 3-2 1-2-2M381 245l-2 2-2 0-3 0 3 0 0 3 1-3 1-2-3 0M135 239l-3 1 0-3-2 1-1-2-3 0-2 1-1 3 3-1M270 245l-3-2-2 0-2 2-2-2 3-1 2 0 2-2-1 2M333 267l2 1-1 2-3-1-1-2 2-2 1-2-3 0 2 3M130 344l1-2-2-2 3-1 2-1-3 0-2-1 1-2 1 2M296 243l-1 3 2-2-2-2 1 3-2 1-3 2-2-2-1-2M229 368l3 0-2-1-2-2 2-1-2-2-2-1M360 321l-2-2-2 2-1 2-1 2-2 3 2 2-3 0-2-2M270 268l-2-2 0-3 1-2 1-2-1-3-3 0 2-3 0-2M119 307l1 1 2 3 2-1 2 1 2 2 2 1 2 2 3 0M193 255l1-2 1 2 1 2 0 3-2 1 0 3-1 2-1 3M190 328l2 2 2 1 3 0 2 2-1 2 0 3 1 2 0 3M354 364l0 3 2 2-2-2 2-2 2-2-3 0 2-2M275 232l-2 1-2-2-2-1-3 0-1 2 0 2 0 3-1 2M114 233l-3 0 2-1-2-2 2 2 3-1 0 3 2 1M391 302l3-2 2 1 3 0 0 3-1 2-2-1M223 338l-1-2 1-3-3 1 0 3-2 1-1 2 2 1 3 0M361 323l2 2 0 3 2-1 3 1 1 2-2-1-3 0-2-1M196 238l2-1-2-2 1 3 2 1 2 0 2-2-3 0M315 263l3 0 2 1 1 3-3 0-1 3-2 1-2 0 2 2M305 275l-1 3-3-1 1-2 0-3-1-2 1-3-3-1 0-2M252 327l1-2-1-2 0-2 2-2 2 1 2 0 1-2 3-2M348 277l2 2 0 2 0 3 2 1 2 2 2 0 3 0-1 2M325 257l-2 2-1 2-2 2-1 3-2-2-2 1-3-1-3 0M161 333l1 2-2 1-2 1 2 1 3 0 2 2-3 1-1-2M225 223l1 2 2 2-2-1 1 2 2 2 2 1 2 1 2 2M311 252l0 2 3 0 2-1 2 1 2 2 2 2 2-2 2-1M384 277l0 2-1 2-1-2-1-3 2-1 1 2 1-2 2-1M334 287l-2 2-1 2 1 2 1-2-2 1-3 1 0 3 0 2M371 319l-3 1 0 2 2 2 2-1 0 3 2-2 2-2 1 2M198 307l-1 3-2 2 1 2 1-2 2-2 3 1 0 2-2 0M370 274l1-3 2-2 0-2-2-2 2-2 0-3 1-2 3 1M395 303l-3 1 2-2-1-2 2-2 1-2 2 0 0-2M206 348l1 2-3-1 0-2-2-3-2 0-3 1-1 3-1 1M380 257l2 0 1 2 3 1 2-2 2-1 1-2 3-1 2-1M376 362l2-2 0-2 2-1 3-1 1-2 2-1 1-2 2-2M62 270l-1-3 2-1-3-1 1-3-2 2-2 2-2 1-2 2M353 253l-3 0 1 2-1 3-1 2 2 0 2-2-1 2-2-2M182 360l0 2 2 2-1-2-2-1-3 0-1-2-1-3-1-2M309 349l-3-1 2-1-1 2 3 1 1 2 3 1 2-1-2 0M308 318l2-2-3 1 1 2 1 3 0 2 1 2 2 2 2 2M301 296l-1 2-3 0-2-2-2-2-2 2-2 0-1-3-2-1M217 278l0 2 1 3 0 2-2 2 0 2-3 0 1 3 2 1M378 270l2 1 2 2 3-1 0 3 2 2 2-1 0-3 2 1M343 272l2-2 3-1 2-2-1-2 1-3 2 2-1 2 1 3M179 294l-1-2-1-2 2-2 2 0 3 0 1 3 2 2 2 1M307 296l2-2 1-2 0-3-2-1-1-3 3 0 2-1 0-3M334 254l1-2 3 2 0-3 2-2-3 0-1-3-2-1 1-3M397 358l0 2 1 3-2 2 0-3-2-1-3 2-1-3M218 322l-3-1-2-2-2-1-2 2 1-2 0-3 3 1 0-3M368 352l0-3-3 0-2 2-2 0-1-3 2 1 3 0 1 2M340 278l-2-2-2-1-1-2 1-3-2-1 0-3 0-2-2-2M202 350l-3 1-2 1 0-3-2-1-2-2 2-2-1-3-2 2M332 265l2-2 0-3-1-2 1-3 2 1 2 2 0 2 2 2M198 358l1 2 1 3 0-3 1-2 1-3 2 1 3 0 0-3M393 242l2-2-1-3 3 1-2-2 3-1-2-2-2 3M207 259l1 3 2 1 3 0 2 0 3 0 2 1 2-1 0-3M137 282l-2-1-2-2 0-3 3-1-3-1 3-2 0-2-3 0M309 357l1 3 0 2-1 2-3 0 3 0 1-2 1 2-2 1M191 297l1 2-2 0-3 1 3 1-1 3-1 2 1-2 2-1M127 367l-2 2 2-2 1 3-2-2M92 257l2 2 1 2-1 3 2 2 2-2 1-2-2-2-1-2M366 317l1 2 1 2-2 2 2 1 3-1 2-2 2 0 0 3M221 336l2 2 2 1 2 2-2 3-2-1-1-3 1 3 1-2M324 352l1-3 3 0 3 1 2 1-2 2-2 0-3 0-2-2M330 299l-1-2-2-1 0-3 0-2 3 1 2-1 0 2 0 3M83 358l1-3-2-2-2 0-1 2-3 1 0 3 1 2 1 2M134 298l0 2-3-1-2 0-3 1-2 2-2 1-1-2-2 1M122 294l2 0 3 1-2 2-2 2-1 3 2 1-1 2-2-2M357 247l-2 1 1 3 2 1-1 2-1-2-3 0-1 2-2-1M98 341l-3 0-2 0 1-2-1-3-2 0-1-3 1-2-2-2M341 236l-2 2 2 2 1-3-2-2-2 1-3 0-2 0-3 0M105 307l-2 2-2 1-3-1-2 0 1 2 1 3 2 2-2 1M191 346l-2-2-1-2 0-3 0-2 0 2 2 2 1-2 3-2M393 262l-1-2-2-2-2 1 0-3-2-1 2 2-2 1-3-1M395 246l-2 2-2 2-2 1 1 3 0 2 3 1 2 2-1 2M199 268l-2 0-2-3-2 1 1 3 1 2 2 2-2 1-2 1M341 261l-2 2 3 0 1 2-1 3-3 1-1 2 1 3 2 1M57 266l2 2 2-2 3 0 3 0 2 0 2-1 2 2 1-2M98 347l2 1-1 2-3-1 3 0-1 2-1 3-3 0 3 1M303 338l2 1 1-3 0 3-3 1 1 3 3 0 3 0-1 2M337 287l-3 1-2-2 3-1 2-2 2-1-1-2-1-2 2-1M394 303l-1 2-1 3 3 1 1-2-3 0-2 0-3 1 2-3M268 369l1-2-3-1-2-1-2-1-3 0-2 1-2 3-2-1M392 329l1 3 2 0 2-2 2-2 0-2-2-3-2-1M378 354l3 0 0 3 3-1 2-1 2 0-2 0-3-1-2-2M204 294l-2-2-2 1 0 2-1-2 0-3 2-1 0 3-2 1M211 342l0-2 0-3 2 2 1 2-2 3 1-3-2-1-1-2M318 268l-2 0-3 1-1 2-2 2 3-1-2 2 1 2 2-2M154 359l0-3 1 3-2 2-2 2-2 1-2 1-1-2-2-2M360 233l2-1 2 2 1 2-1 3-2 1-2 2-2 1M268 226l0 2-1 2-3 0-1 3 3 0 2 1-2 1 1 2M337 284l3 0 1-2-2-2-2-1 3 0 0-2 2-2 2 0M267 351l0-3 2-2 0-2-1-3-2 0-1-2 0-3 2-1M57 274l-1 2 0 3 0 2 2-1 0-3-2 2-2 0-3 0M384 261l0 2 0 3 1 2-3 0-2 2-1 2-1 3-2 1M280 242l-3 0-2 1-1 2-3 1 2 2 1 2-2 1-1 3M353 254l-3 1-2-2-3 0 0-3 2-1 1-2-1-3-2 0M131 245l2-2 2 0 1-2-3 0-2-2-1-2-3 0 0-3M242 232l0-3 2-2 2 0-1-2 0-3 2-1 3 1 2 1M289 275l3 1 1 2 2 2-2 0-3 2-1-2-1-3 1-2M202 331l2 0 0-2 0-3 2-2-3-1 3-1-3-1-1-2M160 346l0-3 2 2 2 1 3 0 2-1 3 1 2 0 1 2M249 278l3-1 0 3 1 2 3 0-1 3-2 0-3-1-2-1M128 343l-2 1-2-2 2-1-2-2-2-1-3 0-2 2 1 3M271 276l0 2 1 2 3 1-1 3 0 2 2 2 2 1 2-2M163 340l2 0 0 3 3 0 2 0 1-2 0 2 2 2 2-1M257 243l2-1 3 1 2-2 2-1-3 0-1-2 1-2 2-1M170 315l-1 3 1-3-3 1 1 2 1 3 0 2-1 3 2 1M152 316l0 3 1-3-2 0-1 3-2-2-2 1-2 2-2-2M111 316l2-2 0-3-1-2-1 3-2 1 1-2-1-3-1-2M373 237l-1-3 2-2-3 1-2-1-2 2-1 2M113 292l-1 2-2 2-1 2 2 2 0 3 3-1-2-1 1-3M317 311l1 2-1-2-3 0-2-1 0-3-3 0 1 2-1-2M370 275l2 1 0 3-2 2-2 2 1 2 2 0 0-3 0-2M354 264l1 3 1 2-2 1 0-2 2-2 1-2-1-2-3-1M385 275l0 2 3 2-3 0-1-2 2-2 3 1-3-1-1-2M206 246l3-1 2 1 0 3-1 2-2 0 0 2-3 1-2 1M85 282l2-2-2-2-2-1 2 0 3 0 2 0 1 2 3 0M295 326l1-3-2-1 2 0 3 0 2 2 2 0 2 2 3-1M238 235l3-1 2 2 0 3 0 2-2 2 3 0-3-1-2-1M177 235l-2 2 1 2-2-1-2-2-2 2-1 3M324 318l-2 1-2 2-1 2-2-1-3 1-3 0-1-2-3 0M298 300l0-3 0-2-1-3 0-2-2-2-2 1 0-3 2-1M353 325l1-2-2-1-3-1-2 1 1 2 1 2 2 2 2 2M329 356l-2-2-2-2-2-2 2-2 1-2 2-2 2 2 3-1M396 364l-1-2-1-2-3-1-1-2-3-1-3 1 2-3-3 0M192 322l-3 0-2 2-1-3-2 1-2 2 0-3-2 2-2 2M178 253l2-1 2-1-1-3 3 1 1 2 1 2 3 0 1-2M316 315l-3 0 0 2-2-1-3 1-2 1-2 2-2 1-2-1M164 249l0-3 3 1 0 2-1 3-2 1 1 2 1 3 3-1M305 342l3 0-1-2-3-1 0 3-2 2 3 0 2 0 3 1M121 252l-3-1 2-2-1 3-2-1-2 1 0 2 3 1 1-2M373 275l1-2-3 1-1 2-3 0-1 2 0-3-2-1-2 0M326 304l3 0 2 0 0 3 3-1 2 1 2 2 2 2 1 2M156 355l-3 1 2-2 2-1-1-2 1-2 3 0 2 1 1 3M304 271l0-3 1-2 0 3 0 2-3 0-2 0 2 0 2 1M199 298l-2 1-3 1-1-2-2 2-1-3 0-2-2-1-3-1M137 278l0 2-1 2-2 2-3 1 3 0-1 2-3 0-1 2M192 262l0-2 0-3 0-2 0-3-2 0-1-2 0-3-2-2M131 239l0 3 0 2 1 3-3-1 0-2 2 0 1 3-1 2M357 298l1-2-2-2 2-1 1-3-2-1-3 1 1 3-2-1M256 310l-2 1 0 3-2 1-2 2-2 2 3 2 2 1 2-1M374 261l3 0 1 2 1-2 3 1 1-2-1-2 0-2 1-3M314 237l-2 1-1-2-2 2 1 2-2 1-1-3-1-2 0-2M373 287l3 0-3-2-2 1-2-1-2-2 3 1 2 1 1 3M277 228l-2 0 0-3 2-2-2 2 3 0 2 0M160 245l1-2 0-3 1-2-2-2 3 0 2 1 2 2M303 361l-2 0-3 1-2-1-3 0 0 3-2-2 0-2-2-2M223 255l3-1 2-1 2-1-1-2-3 0-1 3 3 0 1 2M323 247l-2 1-2 2-2-2-3 1 2 2-3 1-2 2-1 2M50 281l1 2-2 1 2 2 2 1 1 3 1-2 2-2 3 0M134 333l3 0 3 1 2-2 2-1 2-1 2-2 3 0 2 1M335 270l-1 3 2 1 1 2-2 2 2 2 0-3 1 3-2 2M369 245l1 2 2 0-1-3-2-1-1-3 2-1 0-3 0-3M276 252l0-2-1-3-2 0-2 2-2-1-1-2 1-3 2 0M210 251l2 1-1-2-1-3 0-2-1-3-2-2-1-2-2-1M341 253l-1-3 2 0 2-2 0-3 0-2 2-2 2-1 2 2M326 318l-1-3 3 0 2 0 3 2 2 1 2-1 2 2-2-2M354 320l0 2 2 2-1 2 0 3-1 2-1 3 0 2 2 0M240 358l0 3 0 2-3 1-2 2-2 1-2 0-3 0M202 264l3 1 2 1 3-1 0 3 3 1-2-2-2-1-3-1M390 259l1-3 2 2-2 2 0 2-3 0-2 2-2-2 0-2M382 291l-2 1-2 0-3 0 0 2-3 1 0 3-1 2-1 3M72 284l3 1 0-3 1-3 0-2-2-2 0 3-2-1-2-2M340 292l-1-3-2 2-3 1 1 3-2-2 3 1-1-3 1-2M204 263l3 0 2-1 2 1 3-1 2 0-1-2-3-1 2 3M165 239l-2-2-2-2-2 1 0 2 3 0 3 1 0-3M143 322l-1 3-2 1-2-2-1 2 0 3 0 3 3 0 2 0M289 303l1-3 2-1 2 2-1 2-1 3-3 1-2 1-3 0M172 311l1-2-2 1 2-1 1-2-2-2-2-2 2-1 3-1M381 266l-1 2 2 1 1 3 3-1-3 0-2-2-1 2-1-2M72 266l3-1 0-3 0-2 0-3 2-2 2-1-1-3-2 0M47 236l-1 3-1 2 1 2 1-2 3 1 2 0 2 2M103 256l2 1 2 2 2 1 1-3 2-1 1 3 1 2 0 3M316 233l-2 1-3 1-2 1-2-1-2-2-2 2-3-1-2-1M207 241l-1-2 2-1 1-2 2-2 2-2 2 0-2 1-2 2M273 233l-2 2-3 1-1 2-2 1-1 3-2-2 2 2-3 0M72 272l0 3-2-2 0 3 2-1 2-2 2-1 1-3-1-2M295 232l2-1 2 2 0-2 3 1 2 1 1-2 3 0 2-1M364 253l-2-2-2 1 2 2-3 0-2 1 2 0 1 3 2 1M95 300l0-3 3-1 2 0 1-3 1-2 1-3-2-2-1-2M281 301l0-3 1-2 2-1 2-2 1-2 2-2-1-2 1 2M316 279l2-1-2-2 2-2-1-2-1 2-2 0 1 3 1 2M286 300l3 0 0 2 2 2 2-1 0-3 2 0-1-2 2 2M162 291l3 0 1 2-3 0-1 2-1 2-2 2 0 3 2 1M331 244l-2-1-3 0 0 3 2 1 3 1 2-1 2-1-2-1M187 249l-1-3-3 1-2 1 0-2-2-1 2-1-2-1-2-2M321 277l0-3 1-2 3-1 2 0 1 3 2 1-1 2-3 0M346 244l3 0-3 1 0 2 2 2 2 1 3 1 1 2 0 3M327 290l3 0 0-2 3-1 1 2 2-1 3 0 1-2 3 0M321 239l-1-3-1-2-1-2-3-1-2-1-2-2-3 1-2-2M163 271l3 0 0-2-3-1-2-1 3-1 1-2 2 2-1 2M336 326l1-2 2-2 3 0 2 0 1-2 3-1 0-2 2-2M270 346l0 3 3 0 1 3 2 1-2 2-1 2 1 2 2 3M159 312l0-3 1-2 3-1-2-1-2 2 3-1 0-3-3-1M300 246l-2 2-2 1-3-1 1 3 1 3-2 1 2-1-2 2M148 283l1 3 2 1-3-1 2-2 1-3 3 0 0-2 2-2M348 258l1 3 2 0 1-2-1-3-3-1-2-1 0-3-2 0M297 289l-2 0-2-2-2-2-1-2-3 0 2 2 0 2 0 3M339 270l0-3-2-2-1-2 0-3-3-1 0-3-2-2-2 0M310 262l2-2 2 0 2 2 1 2 0 3 2 0-2-1-2 2M299 345l2-3-2-1-2-2 2-2-2 1 0 3 2 1-2 0M315 275l1-2-3 0 0 2-2-2-2-1 2-1 0-3-3 0M169 336l2 2 0-3 2 0 2 2 1 2 2 2 2 2 2-2M350 348l2 2-1 3 0-3-3 1-2-1-2 2-3 1-2-2M352 240l2 0 3 1 2 1 0-3 3 1 2-2-2-3 0-2M175 282l2 0 2 2-1 2-2 2 2 2 2 2 0-3-2-2M281 322l-2 1 1 1 2 3 1 2 0-2-2 1 0 2 3 1M280 240l2-2 2 1 2 2 2 2 0-3 1 3 0 2-1 3M222 231l1 3 2-1 1 3 2-1 0-3-1-2-2-2 0-3M106 283l-2 1-3 1-3-1-1 3-2 0-1-3 2-2 2 0M54 266l-1-2-1-3 3 0 2 0 2-3 0-2 2-2-2 2M279 282l3 1 2-1 0 2 2 0 2 2 0 2-2 1-1 2M358 269l1-3 2 1 1 2 1 3-3 0-2-2-1-2-2 1M326 362l0 3-1-3 0-2-1-2-3-1 1-3-1-2 0-3M377 351l2-1-2-2-1-2-3-1-2-2-1-2-3-1 0-2M169 263l1-3 0-2 0-3-3 0-1 3-2 0 1 2-2 2M337 356l1 3-2 2-3 0 1-3 2-2 2 0-2-1-1 3M345 315l-1 3 3 1 2-1 1-2-2 0-2 1 1 3-1 2M200 259l-2-2 1 3-3 1-2 0-3-1 2-1-2-2-1 3M374 258l-2 1-2 2-1 2-2 1 0 3-3-1-2-1-2-1M316 264l-1 3 2 1-3-1 3-1 2 2-3 0 0 3-1 2M259 230l0-2 1-3 1-2-3 0-1 2 0-2 0-3M341 342l1 2 2 2 2-1 2-2 0 2 3-1 1 2 3 2M384 234l-1 2 1 3-1 2-2 2-2 0 0-2 1-3 0-2M357 252l-3 1-2 0 1-2 2 1 2-2 3 1 1-3 2-1M283 271l1 2-1 2-2-1-2-2 1 2-1-2-2-2 2-3M174 310l3 1 0 3 0 2 2 0 3-1 2 1 3 1 2 1M314 364l1 2 3 1 1 3 2-2-1-2 3 0 2-1 3-1M98 275l-1 2 0 3-2 2-2 2-2-2-2 0-2-3 1 3M201 333l1-2-1-2-2-1-2 1-3 1 0 2-1 3-1 2M312 245l-2 3 0 2-1 3 2 1 1 2-3 1-3 0 0 2M372 289l-1-2-1-2-2-1 0 2-1 2-2 2 0 3 0-3M163 354l2 0-2-2 0-2-2-2-1 3-1 2 1 2-2 0M333 353l2 2 0-3-2-2 2-2 2 1 3 1 1-2 2 2M239 345l2-2 1 3-2 1-1 2 0 3-2 2 0-2 2-2M158 254l-3 1-2-1-1-3 2 1 3-1 0-2-2 1-2 2M264 248l-1 2-3 2-2 1 1-3 1-2 2 0 2 1 2 2M190 367l1-2 2-2 3 1 2 1 1-2-3 0-2-1-1 3M387 365l-3 0-1 2-2 2-2-2 0-2 2 0 1 2 3 0M130 269l3-1-2 1-2 2-1 2 2 1 0-2 2-1 0 2M136 276l0 2 2 0 2 2 2-2 0-3-1-2 1-3 2-2M264 246l2 2 2 1-1 2 0 3-2 2-2 0-2-2 2-1M214 361l2 1 1-2 2-2 0-3 0-2 2-2-2-1 2-1M161 245l-2-2 0-2-2-1 3-1 2 0-1-3 2-2M155 307l-2 2-2-1 0 3 0 2-2 0-3 0-2-2-2 1M350 278l2-2 1-1 3 1 2 2 0 2 2 2 3 1 0 2M338 363l2 1 0 3-1 2 2-1 2-2-2 2M373 236l-3 1-1 2 0 2 2 0 2-2-1-2-3-1-1 3M261 231l-2 2 3 1 2 1 0 3 0 2 3 1 0 3 3 0M305 279l-2 1-3 1-2-2-1-2-2 1-3 0 0-2-2-2M389 252l-2-1 1-2 0-3-1-2-2-2-2-1-2 2 1 2M239 247l-2 1-1-3 1-2-2-2-2 2 0 2-2 2 1-2M187 335l3 1 2 2 1 2 2 2 2 0 2-2 0 3-2-2M286 281l3 0-2-2-2-1-3 1-1-1-3 1 0 3 3 0M242 220l-1 2-2 2-1 2-2 2 1 2 1 2-1 2M365 246l-1 2-3 0-1 2 0 3 1 2-2-2 0-2-3-1M307 282l1 2-1 3 2 0-2 2-1 2-2-2-2 2-1-3M160 328l1-2-2 1-3 2-1 2 2 2 0 2 0 3-3-1M244 231l2 1 2-2-3 0-2 2-2-1 2-2 2 0 2 2M276 306l-2 1 0 2-1 3 2-1 1-3-3-1 1 2 2 2M284 299l2 0 1-2 3 1-2 2-3 1-2 0 2 1 3 0M169 262l1 2 2-1 3 1-2 2-1-3 3-1 2 0 2 2M367 364l1 2 0 3 1-3 1-2-2 0-2 2 2 0M226 335l-2-1 2 1 2 2 2 1 3 0 2 1 1-2-2-2M178 242l-2-2-2-1 3 0 2 1 2 2-2-2-2-1-3-1M274 261l1-3 2-1 1-2 1-2 2 0 1 3 0 3-1 2M219 291l0-3-2 1 1 2 0 3-2 1-3 1 0-3-1 3M352 369l-3 1-1-3-2-1-2-2-1-2 1-2-3 0M217 274l0-2 1-3-1-3-2 0-1 3 2-1 3 0-2-2M257 360l-1 3-3-1-2 1-2 2-2 2-2 1-3 1M308 325l1 2 0 2 2 1 1-2 0 3 1 2-3 1-2 1M354 331l2 1 2 2 3 0-1-3 2-1 1-2-2-1-2-1M318 258l-2 1-2 2-2 1-2 2-2 1-3-1-2-2 1 3M66 249l2-1 3 0 0 2-2-2 1-2-3-1-2 2 0-3M212 230l-2-2 1-2 0-3 1-2 2-2 2 2 0 2 1-2M316 270l3-1-1-2 1-3-2 0-3-1 2 3 0-3 2-1M149 325l3-1-2-2 1-2 1 2 2-1 2-1 3 0 2-1M178 309l-3 0-1-2-1-2 2-3-1-2 1-2 1-3-2-1M326 268l-2 2 1 2 2 2-1 3 1 2 1 2 2 0 2-2M160 328l-3-1-2 0 0 2-2 2-3 1-1-2-2 1-1 2M199 265l-3 2 2 1 3 1 1-2 2 2 3-1 1-2-1-2M192 332l3 1 0 2 3 0 0-2-2-2 0-3 2 1-1 2M62 358l-3 0-2 1-2-1-2-1 0 2-3 0-1 3 0 2M76 356l0-3 2-1 0 3 1 2 2 2 1 2 2 1 3-1M298 306l-2-1 2-2 0-3 3 0 1-3 1-2-2 2-2 2M217 224l1-2 1-2 2 2 0-3 2 1M141 361l2 2 3-1 2-2-1 3 2 2 2 0 2 2-1 2M144 332l-2-2 1-2 2 0 2 2 2 0 0-2-2 0 1 3M199 252l-2-1-2 1-3 1-2 2-2-1-3 2-2-1 3 0M80 288l-2-1-2 1 1 2 1 3 0 2 2 1 3 2 1-3M377 274l-1-3 0-2-1-3 2-1 3-1 1 2-1 2-1 2M184 277l-2-1-2 1-2 1 2 1 3-2 2 2-2 2-2 2M229 301l1-2-2-1-3 0 0-2-2 2-2 0-3 1-2-1M246 265l0 2 3 1-2 2-3-2-1-2 0-2 3 1 2 1M208 272l-2 0 2 0-2 1-2 2 0 3-3 0-1-2-3 0M364 325l0 2 0-2-2-2-1-2 3-1 2-1 3 0 0 3M245 311l-2 0-1 2 3 2 2 0 2-1 2-2 0 2-2 0M207 239l-2-2-1-2 3 0 1 2 3 1 1 2 2-1M344 345l-2 1 2-2 2 0 2-2 2-1 3 0 2-1 2-2M67 298l-1-2-1-2-2-2-1-3 0-2-3-1-1-3-1-2M58 248l3-2 2-1-3 1-2 1 1 3 1-2 3-1 2 1M208 247l1-2 1-2 1-3 0-2-2-1 2 0 2 2 2-2M298 298l3-1-3-1 1-2-3-2-2-1-2-1 0 2 2 3M360 236l0 2-3-1 1-2-1 2-2 2 1 2 0 3-1 2M358 333l-1-3-2-1 2-3 0-2 2-2-1 2 2-2 1 3M315 289l-1-2-1-3-1-2-1-2-2-2-3 1-2 0-3 0M100 305l-2-2-1 3 0 2 0 3 2 2 2 1 3 1 1-2M198 296l2 2 2-1 2 2 2 2 2-2 2 0 3 0 3 0M133 248l3-1 1 2-3-1-2 0-2-2-2-1-2 2-2 0M374 282l0-2-2 1-3 0-1-3 3 0 2-1 1 2 3 1M376 261l-1-3 3-1 2-1 2 1 1 3-2 2-3 0 2-1M350 275l-2 2 2-2-3 0-2 1 1-2-2-2-2 1-1 3M193 327l0 3 0 2 2 2 2 1-1-2-1-2-2-2-3-1M392 278l-2-2-2-1 0 2 3-1 2 1 0 3 0 2 0-2M340 264l3-1-2-2 2-2 3 1 2 1 3 1 0-2-2 1M234 259l3 1 3 0 1 2 1 2 2 2 1-3 0-2-1-3M121 310l2-1 2-2 2 1 2 2 0 3-1 2-3 1-2 0M381 325l2-2 0-2-3-1-2 1-2-2 0-3 2-1 0-2M278 300l2-1-1 2-1 3 1 2 2 1 3 0 1 2-2 1M114 312l-2 2 0-3 0-2 0-3 3-1 2-1-2-1-2 2M143 298l-3 1 1 3 0 2 1 3-1 2-1 2 0 3-1 2M300 304l-1 2-3 1-1 2 2 2 2 2 1-3-3-1-2 0M385 279l1 2 2-1 2-2-1-3-1-2-2-1-3-1-3 0M281 337l3-1 2 1 3-1 1-3 2 1 3 0 0 2 3-1M293 263l0 2 2 1 1 2 1 3 0-3 1-2 1-3-2-2M116 282l-2 0 2 0 1-2 2-2 1-2 3-1 1-3-3-1M231 231l-1-2 1-3 2-2-1-2 0-2 1 2 1 3 2-2M195 254l3 0 0 3-2 1 2 2 0 2-3 1-1 2-1 2M313 299l2-2 1 3-2 2-2 0-2 2 1 2 0 3-2 0M75 320l1-3-2 2 0 2 3 1 1-3-3-1 1 3 3 0M258 367l3 1 1-2 3 1 2 1 2 1-2 0-3-2M55 300l2-1 3-1 2 0 0 2-2-1-1 3 1 2-3 0M224 358l1 1 3 0 2-1 1-3 2 2 2 1 1 3-2-2M88 319l0-3-1-2 1-2 3 1-2 1-2 2 0 2-1 3M310 354l-1 2 0 3 0 2-2 2 1 2 3-1 0-3-2-2M257 309l0-3-2-1-3 0-2-1 0-3-2 2 3 0 2 0M377 283l-2 2-1 2-3 0-1 2 1 2 2-1 1-2 2-2M228 271l1 2 0 3-1 2-2 2-1 3 0 2 1 2-1 3M128 360l0-2 0-3 1-2-3 0 1 2 2 2 2-1 1-3M243 293l3 1-2 2-3 0 1 2 0-2-2 0-2 1-3 1M295 356l0 2-1-2 2-2 3 0 2 0 2 2 3 1 2-1M134 339l2-1 2-1 3-1 2 0 2 2 1 2-2 2-2-1M282 257l2 1 1 3-2-2 1-3 1-2 1-2-2 1 2 2M386 246l-3 1-1 2-2-1-2-2-2 0-2-2 1-2 1 3M182 279l-1-2-1-3-1 3 1-3-2-1-3 0 0-2 1-2M322 257l-1-3-2 2 0 3-1-3 1-2 2-1 2 1 2-2M236 284l1-2 2 2 2 2 0 3-2 1 0-3 1-2-3 0M204 361l2 2 3 0 2 2-2 2 0 2 1-2-2-1M209 249l-1-2 2 0 3 1-3 1-2 1-3-1 3 0-2-1M367 323l0 2 3 1 0-3 0-2-2-2 2-2-1-2 1-3M386 285l3 1 2-2 2-2 3 0-1-3 2-2-2-1-3 0M263 247l3 1 1-2 1-3 3 0 2 1-2 1-3 0-1 2M191 264l-3 0 1 2 0 3-1 2-3 1-2-2 1-2-2-2M209 277l2-1 2-2 3 2-3 1-1 2 3 1 2 0 1 2M309 246l0-3 2-2 0 3-2 2 0-3-2-2 2 2-3 0M295 251l-2-1-2 2 2-1-2-2-2-1 2 1 0-2 1-3M66 322l1 2 2 2-1 3-1 2-2 2-2 1-1-3 0-2M203 241l-2 2-2 2-1 1-1-2 3 0 0 3-1 2-2 2M185 269l-1-2-2-1-2-1 1-3 2 2 1 2 2 1 3 0M392 325l3 0 2 0-2 0 2 2 0 3M297 345l-3 1-1 2 2-2 1-2 3 0-2-1 1 2 3-1M216 236l-2 0-3-1 2 2 1 3 2-1 3-1 2 0 2-2M268 237l-2 1-1-2 2-2 0-3 2-2 2 0 0-3 2-1M186 333l0 3 2-1 3 0 1 3-3-1 0 3-1 2-1 3M377 346l2 2 3 1 2 0 2 1 3 1-2 2-2 2-1 2M375 276l0-2 1 2 3 1-2 2 2-1 3 1-1 3-2-2M344 250l-1 2 0 3 1 2 2 2-1-3 0-2-3-2-2 0M203 279l-2 2 0 2-3 1 1 3 1 2 2 2 2-2 2 1M338 235l2-2 2 0 3 0 2 2 1-2 2 1 2 3 1 2M345 241l-2 0 1-3 1-2-2-2 1-3 1 2 3 1M347 333l-3 1-2-1 2 0 0 2 3 1 1 2-1 2 0 3M283 256l3-1 2-1 1-3 3 0 0 2 2 2 1 2 2-1M377 306l-1-2-1 2 0 3 1 3 0 2 1 3 0 2 2 2M351 284l-2 1-3 1-2-2 0-2-2 2-2-1 0-2-3-1M134 311l-3 1-1 2-1 2-2-1 1 2 1 2-2-1 1-3M156 285l-3 0-2-2-2 2-2-2 0 3 3 0 2-1-2-2M284 339l2 3-3-1 2 2 0-3-2-1 0-3-3-1 0-3M219 234l-3-1-1-2-1-2-2-3-1 3 1-3 2-1 3 0M138 298l-1 3 2 0-1 2-1 3-2-2 1-2-1-2-2-1M226 298l-2-2-2 1-1 3-2-2-2-2-3 0 3 1 1-2M390 326l-2-2 2 0 3-2-2-1 0-3-1 2-2 2-1 2M219 263l2 2 1 2 3 0 1-2 0-3-1-2 1-2-2-2M381 244l0 2-2 2-2 1-3-1-2 1-2 1-3 2-2-1M175 264l1-3 0-2 0 2 2-1 1-3-3 0 1-3 0-2M369 257l-3 0-2 1 2 2 2-2 2 1-2 1 1 2-2 1M269 232l1-2 1-3-2-1-2-2-2 2 1 2 1-2-1-2M257 290l-3 0 2-1 3-1 1-2 1 2 3 1 2-2 0-3M371 273l2-2-2 2-2 1 1 3 1 2 2-1 2 2 3 1M155 331l2 1 1 2-1 2-1-2-2-1-3 0-2 2 0 2M104 254l2-2 2 2-1 2-2-1-2-2-2-1-2-2-3 0M374 268l0-2-2 1-2-2-2 1-3 0-2 1-2 2 3 1M69 280l0-3 2-2-1-2 1-2 2-2 1-3 0-2 1-3M201 257l3 0 2-1 3 0-1 3-2 1-2-3-2-1 1-2M362 247l2-3 2-1 2-2-3-1 0-2 2 1-2 3-1 2M221 266l-2-2-3 0-2 1-2 2-1 2 0 3 0-3 2-2M374 254l-3-1-1 3 0 2 2 2 2 0 1-2-1-2-3-1M328 246l-3 0-2 1-1 2 2 2 2 1 3-1 1 2 1 3M177 238l2-1 2 2 2 2 1 2 2 2-1 2-2 1 0 3M163 358l-2 2-3 1 2 2-2-1 2-1-1-3 2-2 2 0M238 369l2-2 2-1 2-1-2-2 0-3-2-1-3 0 3 0M328 268l3 1 0-2 0-3 3 1 2-2 2-1 3-1 2-2M268 259l3 1 2 2 2 0 2 2-3 1-2 0-2 2-2 2M270 243l1-2 2 1 2 2-3 0 3-2 2-1 2-1-1-3M388 260l2-2 2 1-1 3-1 2 0 3-2 1-2 0-2 2M374 327l2-1 1-3 1-2 0-2-1-3-2-1-3 1-2-2M134 349l-1-2-2 2-3 0-2 1-2-2-2-1-2 2-1-2M375 252l-2 0-3 2-2 1 1-2 3-1 2 0 3 0 2-1M275 234l0-2-3-1-1 2-2 1-3-1-2-1-3 0-2 1M170 337l2-1 3-1-2-2-2-1-3 1-1 2-2 1-1 3M395 330l3 0-1 3 0 2 0 3-1 2-2 0M276 256l-1 3 0 2 2 1 1 3-2-2 3-1 2-1 3 0M316 282l-3 1 3 1 2-1-1-3-2-1 0-2 1-3-2-2M283 316l-2-2-3-1 1 3-2 2 1 2-2-1 0-2-1-3M276 236l2 2-1 2-3 0 1 3 1 2-1 2-2 1-3 0M195 240l3-1 2 0 3 1 1-2 0-3 2 1M373 347l0-3 0-2 0-3 3 0 2 2 1-2-1 3-2 1M68 320l-1-3 1-2 1-2 2-1 3-2 1 3-2 1-2-1M164 301l-2 2-2 2 2 2 0 2 2 1 2 2 1 2-2 2M303 299l1 2-1 3-2 1-2-2 3-1-3-1-2-2-1 3M368 253l3 1 2-2-2 2-3-1 0 3-1 2-1-2 1-3M169 236l-2 1-3 0-2-1-2 2-1-2-3 1-1-2M210 346l1 2 3 1 2-2 2-1-2 2-2 1-2 1-3 1M290 323l2-2 2-1 2-2-1-2 1-3 3-1-1-2 0-3M331 276l-2-1-3 1-2-1-1 3 1-2 0-3-1-2-3 1M269 309l3 1 2 1 2 2-1-3-2-1-2-2-2-1-1-2M280 266l-2-1-3-1-2 1-1 2-1 2 1 3 2 0 1 3M125 239l-2-1 1-3 3 2 0 2 2-1 0-2M174 276l-2 1 1-2-2-1 0 3 2 1 0 2 2-1 1-3M313 247l1 2 0 3-1 2 0 3-3-1-2-1-1-3-1-2M378 367l-3-1-2 2 3-1 2-1 1 2-1-3-1-2M389 354l-1-2 0-3-1-2 0-3 0-2 1-3-1-2-2-1M97 322l-1-2-2-1-3 0-2 1-1 2-1 3-1 2 2 0M126 241l-3 1 0 2-2-2 0 3-2 2-1 2 1 2-2 2M276 261l-2-2 2 2 1 2 2 1 1 2-2 2-2 1 2 1M233 350l1 3-3 0-3 0-1-2-3-1-2-1 1-3-2-1M397 272l-3 0-1-2 2-2 3 1-3-1-1-3 2-2M294 269l-1 2 0 3 1 2-2 3-2-2 2-1 1-2 2-2M193 257l-1-3 1-2 2-1 1-2-1-3 2-1 3 0 2-1M208 352l-2 2-2 1 0-3-2 2 1 2 0 3 0 2 2 2M323 250l2-1 1 2 1 2 3 1 2 1 0-2-3-1-1 3M265 254l-2 1-3 0-2-1-2 2-2 1-2 2 1 2 2 1M131 305l3 1 2 1 2-2 0-2 0-3 3-1 2-2-3-1M291 271l3 1 2-1 3 0 0 2 0 3-3 1 2 1 1 3M161 345l1-3-3-1-2 1-3 1-2 0-3 1-2-2 2-2M273 237l-2 1 0 3 2 1 3 0-1-3-2 2-1-3-1-2M165 313l2 0 3 0 2 1 2-2 2 1 2-1 2-2 2 2M162 318l-2-1-2-2-1-2-2-2-1-2 2-2 1-2-3 0M333 249l0 2-2 3-2-2-2 1-2 1-2-2-2 1 3-1M367 269l-3 0 2-2-3 0 0 3 0 3 3 0 0-3 3-1M270 369l-1-3 2-1 1-2-2 0-2-2-1 2 2-1-1-2M362 276l-2 2 2 2 1 2-1-3-2-1-2-2-2 1-2 2M178 254l-3 0 0 3 3 1 0 2 1 3 0 2-3 0-3 0M264 352l-2-1-2-1-1-2 2-2 1 2 0 3 3-1-2-2M227 360l-2-1-1 3-1 2-2-2-1-2-2-2-2-2-2-1M375 278l-2 0-2-2-1-2-1-2-2-2 1-3 0-3-2-2M329 281l3 0 2-1-2-2 0-3-1-2 1-3-3 1-1-2M336 259l-2 1-3 1 1 2 2 0 3-1-3-1 0 2 2 1M237 318l-1 2-1 2 0 3 2 2 2 1 3 1 3 0 2 0M307 295l2 1 0 3-2 0-3-1-1-2-3 0-1-3-1-2M202 264l-3-1-1 2-1 2-1-2 2 1 3 0 2 1 0 3M117 319l-1 2-3 1-2 1-2-2-3 0 1-3 0-2 3-1M294 311l0-2 1-2 2 2 2 1-2 1 0 3 1 2 2 2M153 336l0-3 1-2 0-3 2 1 0 3-1-3-2-1-3 0M339 333l-2 2-2 1 2 0 0-3 0 3-2 2-2 1-1 3M193 265l-3 1-2 0-2 2-2-2-1-2 2-2 1-2-2-2M261 238l-1 2 2 2 1-2 3-1 1-2 0-3-3-1 1-2M324 332l0-3 1-2 1-3 1 3-3 1-1-3 0 3 2 2M271 252l0 3-1 2-2-1 1-2-1-2-2 0 0 3 2 1M208 241l-2-2-1 3-1-2-2-2-1-2 3-1M129 293l1 2 1 3 1 2 2 1 1-2 3 0 2-1 3 1M263 257l-3 0 1-2 1-3 1-2 3 0 2-2 2-1 2 1M202 260l-2 1-2 2-3 0-2 1-3 0-2 2 0 3-2 0M201 359l-1 2-1 3-2 2 0-3-2-2-2 0-3 0-2 2M330 274l-1-2-1-3-1-2 0-3 2 0 3-1 2 0-1 2M193 277l-2 2 1 3 0 2 2 1 0 3 0 2 0 3-1 2M310 272l2 2 1 2-1 3 2 1 0 3-2 1-3 1-1 2M378 364l2-2 3 0 2 0 3 0 0 2 1 3-2-2 0 2M346 267l-1-2-2-1-2-2-3 1 3-1 1-2 0 3 2 1M309 332l-1-2-2 2-3 1-1 2 1 3 2 2-3 0-2-2M373 309l2 2 2 1 3 1 1-3 2-1-3-2 0 3-3 0M237 265l-3-1-2-1 3-1 0-2-1-2 2-2 0 2 2-2M176 287l-2 3-1 2-2 2-2 1-3 0 0 3 0-3-2-1M291 254l-3 1 1 3 2-1 2 3 1 2-2-2 1-3 0-2M253 271l-2 2-2-1-2-2-2-1-1-3-2 2 1-2 2-2M224 277l-3 1 0 2-2 2-2 1-3 0-2 2-2 2 1 2M385 347l2-1 1-2 2-2 2 2 0 2 1 3 0 2 1 3M143 308l2 0-1-3 2-1 2 2 0 3-2 2 3 0-1 3M230 362l1 3 2 2 2 1 2-2 2-1 3 1-1 2M58 310l-2 0 0 3-1 3 2 1 1 3 2 1 2-2 2-2M194 298l-1 2-3 0 3 1 1-2 0-3 0 2-2 1-2 2" fill="none" stroke="#46421f" stroke-width="0.8" stroke-linejoin="round"/><path d="M357 233l2 0 2 2 2-2-3 1 0 2M360 251l1 2 1 2-1 3 3 0 2 1 1 2-1 2-1 2M307 244l-2 1 2-1 2-2-3 0-2-2-2 0-3 1-2 1M353 254l-2 0 0 2-2-1 2-1-1 2-2 1 0-2 0-2M387 253l-2 1 2 1 0-2 2 1 0 2-2 2-2 0-3-1M379 269l-2 1-2 2-1 2-2 1-1-2-1 3-2-2-2 1M349 276l-2 1-2-2 1-2 3-1-3-1-2-1-1-2 1-3M339 260l-1 2 0 3 2 1 2 0 3 0 1 2-1 2-2 0M332 278l0-3 2-1-1-1-2-2-1-2-3 0-2-2-2 1M399 248l-3-1-2 0 1 2-2 2 1 2-2 1 2 2 3-1M220 236l0 2 1 2 2-2 0-2 0-3 1-2-1-3-2 1M208 270l1-2 2-1 2 2-2-1-3 1M397 239l-3 1-2 0-1 2 2 3 1 2 0-3-3 0M271 266l1 2 3 0-3 0 2 1 3 0 0 2 2 2-2 2M230 250l2 2 0 2-2 2-1-2 0-3-2-1-2 1-3 1M192 230l-1 2 3 1-2 2 2 1 3-1-2-1-2 2-1 2M371 243l-2-2-1 3 2-1 2 1 3 1 2 1 1 2-1 3M393 266l0-3 2-1-2 0-2-1 0-3 2-1 2-1 2 1M195 259l-2-1 0-2 0 3-2 1 2 2 2 2 2 1 2 1M248 254l0 2 1 3 0 2 1 3 2 1 1-3 1-2-1-2M363 279l1 3-1 2 3 0 0-3-3 0-1 2M304 245l0 2 0 3-2 1-2-2-3 0 2-2 1 3 2 1M259 248l0 2 1 2-3 1-2 2-2 1 2 2-1 2 2 2M209 221l2 0 0 2 0 3 2 1 1 2-2 0-2-1 0-3M291 241l1-2 2-2-2-2 2-1 2-2 2 2 0 2-2 2M389 247l-2 0-2 0-3 0 3 1-1 2 1 2 0 2 1 3M193 229l-2 2 0 2 2 1-1 3-1 2 2 2 1-2M330 279l-2 0-2-1-2-2-3-1 2-1-1-3 2-1-2 0M303 268l3-1 2-1 2 2 1 2 0 2-2 2-2-2 1-2M300 277l-2 0 1-1-1-3-2 0-2-2 1-2 1-3M320 239l-1 2-1-2-1-2-2-1 1-3-2-2-1-2M390 245l2 1 2 2 2 2 0-3 0-2 3-1-3 0M378 282l-1 3 1-3-2 0-2-2-2-1-2-1 0-2M196 269l1-2-1-2-2 1-2 2-1 2M353 267l0-3-2 2-2 1-1-3-2-1-2-1-2-2 1-2M388 240l-1 2-2 2-1 3 1 2 3 0 2 0 1 3 0 2M393 240l2 0 3 0 1 3-2-2 0-3-1-2M261 227l-1-2 2-2 2 1 1 2 2 1 2-1 3 0M295 272l1-2 2 1-1 2 0-2-2-1-1-2-2 2-2 2M348 249l1-2 2-2 0-2 3 0 2 1 2 1 3 0 2-1M210 238l-2-2 0-2 0-3 0-2 0-3 0 3 2 2-2 1M327 267l-2 2 0 3-2 1-2 2-2-2-1-2 2-2 2 0M296 232l3-2 1-1 2 1 3 1 2-2-3 1-2-1M252 242l-2 0 0-2 3-1-1-3-1-2 3 1-2 2-3 0M205 232l3 1 2 0 1 3-2-2 2 0 2 2 0 2-2 2M252 265l2 2-2 2-2-2-3 1 0 2 3 0 0-3-2 1M269 273l-2-1 0-3 1-2 3 1 2 0 2 1 0 3-2 1M293 253l-2-2-2-1-2-2 2-2-1-3 3 1 1 2-2 2M310 232l2 1 2-2-1 2-2-1-3 1-1 1-2 2M376 277l3 0-1-3 2 1 1 2 3 1 2 1-2 2-2-2M200 228l-3 1-2 1 0 2 1-2 0-3-1-2 3 1 2-1M388 239l2 1 2 1 2 1 2 2 1-2-1-2 2 0 1 3M207 269l3-1 1 2-3 0-2-1-2-1M350 243l-1-3 1-2 0-3 2-1 1-2-1 2-3 1M349 240l3 0 2-1 2 2-2 2 0 2-3 0 3 1-2-1M229 246l2 0-2-2-2 2 2 2 2 0-2 1-2 2-2 1M243 267l2-2 0-2 0-3 0 3 2 2 2 1 3-1 1-2M390 243l1 2 0 2 0-2-3-1 1-2-1-2-1-3 0 3M367 247l0 3 1 2 0 2-2 2-2 1-2-1 0 3-2 1M349 234l3-1 2 0 2-1 3 1 0 2-2 2M245 244l-2-1-2 2-1 2 0 3-2 1-2 2-2 1 1 2M366 245l-2-1-2 0 0-3 0-2 3 0 2 0 1-2 3-1M256 270l0-2-1-2-3-1-2 1-2-1 1-2-2 0-2-1M191 258l2-1 2 2 1 2-1 3-2 1-2 1 0 3M215 255l1-2 3-1 2 2 2-1 2-1 2-1 2-2-1-2M265 266l2 1 2 1 2-1 2-2 2-1 3 0-2-2-2 1M333 236l-2 1-3 0-2-1-2 1-2-1-1 2 0 3 0 2M394 246l2 0 3-1-2-1-3-1M315 231l1 2 2 1 1 2 3 1 1 1 2 2 2 2-3 0M354 270l-2 3-1 2 1 2 0 3 2-2-2-2-2 1 2 1M241 252l2-2 2 2 1 2 2 2-1 2 1 2 2 2-2 0M399 282l-2-1-3-2-1 2-1 3 2 1 1-2M227 263l-2 0-2 1-2-1 0-2-3-1 0-2 3 0 2 0M362 265l3 0 2-1 3 1 2 0-2 2-1 2 1 2 1 3M226 253l1 2 0 2 2-1 2 1 1 2 2 2 0 3 2 1M341 275l-3-1-2 0-3 0-2-1-1 2-2 1-2 1-2 1M396 246l-2-2 0-2 0-3-3-1-2 2-1 2-1 3 0 2M204 226l-2-1-3 1-1 2 0-3 1-1-1-3 2-2M343 277l-2 0-1 2-2 2-3-1-1-2 1-3 1-2 2 0M252 256l2 0 2 1-1-2 0-3-1-2-2-2-2 0-2-1M394 263l-2-1-2-1-1 3 0 2-2-1-3 0 0 3 1 1M264 244l-2-2-3-1-1-2-2 1 3 0 1-3-2-2-1-2M234 231l-2 2-2-1-1-2-1 2-2 1-2 1-2 0-3 1M325 273l-2 2-2 0-2 2-1 2 1 2 1-2-2-1M311 247l0 3 3-1-2-2-3 0 2 2 0 3-2 1-2 2M200 231l2-1 3 0 1 2 3 0 0 2 1 3 1 2 1-2M300 247l3 1 2 1 2-1-1-3 1-2 2 2 1 2 0 3M273 273l-2 2-1-2-2 2-2-1-2 0M224 244l2-1 2-2 3-1 2 0-1 2-1-1-1-3 1-2M284 251l0-3 2-1 1-2-1-2-1-3-2 1-3 1-2 0M195 260l2 0 3 0 1-2 3 1 1 2 2-2 3 1 2 0M288 257l-1-3 2 0-2 0-2 1-3 1-2-1-2-2-3 0M257 267l-2 2-1-2 1 2 2-1 2 0 3 1 2 0 2-2M196 258l-2-1-1-3-2 2 0-2-1 2 2 2-2 2M244 224l0-2 2 1 0 3-2-1M319 233l2 2 3-2 1-1-1 2 1 2 1 2 2-1M354 256l2-2 1-2-2-1-2 0-3 1 0 2 1 3 2 0M357 270l-2-1-3-1-1-2 2-2 0-3 2-2 2 1 2 1M363 257l2-2 1-2 3 0 1-2-2 2-2-2-2-1-2 2M303 228l2 2 2 1-1 2-3 0 0-2-2 1-3 1M199 234l2-2 2 0-2-2-1-2-3 1-1-2-2-1-1-2M276 242l2 2 1 2-2-1-2 2 1 2-2 1-2 1-2-1M252 234l-2-1-2 0 2 2 2-1 2-1 3-1 1 2 1 2M364 262l0-2-1 2-2 0-1 2-3 0 1-2 1-2 2-2M242 227l-2 1-3 0-2 1 0 2 3 1-1 3 2 0 2 2M381 245l1-2 3 0 1-3-1-2 1-2 0-3 2 2M259 269l2 1-2 2-1 2 2 0 3-2-2-1-3 0M269 268l2-1-2-2 3 0 2 1 2-1-2 0-2 1-3 0M315 252l1-2-1-2-1-2-2-2-1-2 2 0 2-1 2-2M357 236l1 3 2-1 3 0 1 2 1-3 0-2-1-3M375 234l-2 1-2 2-2-2-2-2-2 0-1 3 1 2M342 237l-3 1 0-2-2-1-1 3-2 2-2 0-2 0-3 1M227 223l2 2 1 2 2-2-1-2-3-1 0 2-1 3M198 267l2 2-2 1 1-1-2-2-2 0-3-1 0 2M233 247l1-2 2 1 1-2-1-2-1-2 0-2 3 1 0 3M285 247l-3-1-2-1 0-2 2 0 3 1 0 2-2 1 1 2M285 266l-2 1 0-2 2-2 0-2-3 1 2 2 1 2-2 1M226 260l1-2 2 1-2 2-2 1 1 2 3 1 2 0 3 0M337 280l-1-3-2 0 0 3-2 2 2 0-2-1M209 253l1-2 1-2-3-1 2 2 3-1 2-1 1-2 3 0M370 281l2-1 0-3-2-2 1-2-2 1 2-1-1 2-1 2M334 279l2 1 2 1-1-2 0-3-3 1 2 2-3 0-2 1M274 260l0-3 1 3 1-3 3 1 1 3 2 0 2 2 2 2M268 232l2-2-2-2 0-2 1-2 2 1-1 2-1 2-1 3M291 264l0 2 0-2 2-2 2 1 2 0 2 1 0-3 2-1M305 236l3 0-3-1-2 0 1 3 0 2-2 1-3 1-1 2M237 225l-2-1-2 2-1 2 2 1 2-2 2-1-2-1-2-1M289 235l-3 0-2-2-3 1 3 1 1-2 1 1-1 2 1 3M212 259l0-3-2 1 1 2 0 3 1 2 0 3-2 2-2 1M224 271l0-2-3 0-2 1 2 1M228 262l-1-1-3-1-2 1-2 2-2-1-1-2-2 1 1 2M396 247l-1-2-3 1-2 0-2-2-2-1 2 2M353 277l-2-2 0 3 2 0 0 2-3 1 0-3 1-2-2-1M288 226l1 2 1 2 0 3 1 2-3 0 1-2 1-3M214 231l2 1 0 3-2 1-2 1-2-2-1-2-2-1-3-1M329 275l0 2 2 1 2-2 1 3 2 1-2 1-2 0-1-2M270 229l-2 1-2-2-1-3-3 1 2 2-1-2 1-2 2-1M290 249l2 1 2-2 3 0 2 0-2-1 2-2 2 1-2-1M279 275l2-2 2-2 2 1 2 2 2 1 3 0 0 3M341 256l-3 0-1 2-3 1-2 1 1 3-2-1-2 1-3 0M352 246l-2 1 0 3-2-1-2-1-3 0-2 0 2-1 1 2M292 228l-1 2 2 2 1-2 1-2 3 0-2 2 0 2-3 0M307 270l-3-1 1-3-1-2 2 1 2 1 1-2 0-3 0-2M242 245l0-3-2-1-1 1-2-1 1-3 0-2-2-2 1-3M340 257l0 2 0 3-1 2 2 2 0 3 1 2 0 2 2 1M223 261l2 2 2 1 2-1 1 2 0-3 3-1 2 0 2 1M254 229l-2 0 1-2 2 0 0 2-2 2 1-2 1 2-1 2M211 242l2 0 2-2 1-2 3 0 2-2 1-2 2 1 0 2M325 266l2 1-2 1-2 2 1 2-1 3 2-1 3 0 0 2M358 235l-2 2 0 3 1 2-1 2-3 0 0-3-2-1 1 2M266 263l-1 2 1 3 1 2 2 1-2 1-2-1-2 2 3 0M293 233l-1 2 3 1 2 1-1 2-1 2-3 1-1 2 2 1M205 247l-2-2 0 3-1 2-2 1-3 0 0-3-2 0-1 3M281 231l1 2 2 2 3 0 0 2 2 2-1 2 3 1 1-1M281 244l1-2 0-2 1-2 3 1 1 2-3 0-1 2-2 1M251 228l2-1 2 1 3 0 2-1 2 1 0-2-2-1-2-2M326 259l3 0-3-1-2 0-1-3 2 0 2-2 1-2 2-2M199 232l-3-1 2-1-1-2-2-2 0-3 0-2-2-1M341 240l2 0 2-1 0-2 2 0 0-2 1 2-1 2 1 3M212 242l0 2 0 3-2 1 1 3 1 2 2 2 1 2 1 2" fill="none" stroke="#262414" stroke-width="0.62" stroke-linejoin="round"/><path d="M325 101l1 3 2-2-2 1-2-2 2-1 2-2 0-3-1-2 3-1M343 227l-2 0-3 1 1 3 2 1 1-3 1 3 1 2 2 2 2-1M316 192l0-3-1-2 1-2 1-2 3 0 1-2 3 1 2 1-1 3M320 153l-2 1 1-3-1-2 2-2 2-1 2 0 3 1 2 1 2-1M243 206l2-1 1 2-1 2-2 1-2 0-2-2 3 0 2 0 1-3M384 217l0 2-1 2-2 1 0-2-3-1-2 0-1-3-2-2 2 2M258 198l1 3 2 2 2 1 2-1 2 2 2-3 0-2 2-1 2-2M202 91l0 3 1 2 1 2 2-2 1 2-3 0-2 1-2 2 2 1M303 188l0 3-1 2-2-2 1-2 2 1 2 2 2 0 3 1 2-1M356 187l3 2 0 2-3 1-1-2-1 3 1 2-1-2-1-3 0-2M204 155l0 2 3 1 2-1-1 3-2 0-3 0-2 0-3-1-2-2M325 79l-2 1 1-2 1-2 2-2 2 0 0 2-1 2 2 1 1 2M287 132l-2 2-2 1-2 1-1 3 0 2-2 1-1 2 1 2 2-2M367 185l-2-2 1-2-1 2 3 0 2 2 1 2-3 0-2-2-1 2M325 168l1-2 1-2-1-2-1-2 0-3-2 0 2-2 2 0-1 2M364 135l1 2 2-2 1-3 2-1 1 1 2-2 1-2-2 2-2 0M372 112l3 1 0 2 2 2 2 0 1-3 2 1 0 2-3 0-1-2M232 121l1-3-2-2-2 1-2-2-2 2-2 0-2 2-1 2 2 0M364 167l3 1 0-2 2-2 1-2 1-3 2 2 1 3 0 2-2 2M324 111l-2 0-2-2-1-2-3 0 3 1 1 2 2 2 0-3 1-2M344 127l-2-2-1-2 1-2 3 0-3 1-2-1-2-1-1 2-3 0M333 194l-1-3-3 0 1 2 0 3 3 0 2 0 3-1 0-3 3 0M187 88l-3 0-2-1 1-3-1-2 2 2 2 1-3 1 1 2 2 0M206 134l0 2-2 2-2-1-3 1 0 2 1 3-3 0 1 2-1 2M305 144l2-1-1-2-2-1-1-2-2-2-2 2 2 2 3-1 2-1M356 85l1 2 2-2 3 0 0 3-1 1-3 1-2 0-2 2 2 2M342 95l-3-1-1 3-1 2-2-1-3-1 2-1 0-3 2-1 2 2M196 183l2-2 2-1 2 0 1-3-2-2-2-2-2 1-2 1-2 2M302 182l-1 2 2 2-2-1-2 2 3 0 1 2 2 2 0 2 2-2M362 147l-2-2-2 0-2-3-2-1-1-2-1 3 1 2 1-3-1-2M357 157l-1 2 1 2-2 1-2 1-2 1-2 2 2 0 2-1 3 0M274 146l1-2-2 0-2 2 0 2-2 2-1-2-2-2-2 2-1 1M194 198l2-1 3-1 2 0 2 2 2-1 3 1 2 2 2 1 2 1M367 84l-1 2-1 3-2 0-2 2 2 2 1 2-1 2 0 3-2 1M313 166l-1-2-2-3 3 1 0-3-3-1 1-2 3 0 2 0 3-1M231 226l3 1 2 0 2-2 2 1 2 1 1-2 2 1 3 1 0-2M336 98l2-2 2 1-2-1-2-2 0 3 2 1 2-1-1 3 2-2M237 229l2 1 3 0 1 2-1 2-2 2 2 1 2 2 2-1M301 172l1 2 1 2 2 1 1-2 1-2 3 1 0 3 3-1 2 2M335 188l-2 0-1-3 0-2-3-1 3 0 2 1 0-3 0-2-1-2M374 180l0 3 0 2-2 1 0 3 2 0 2-1 2-1-1 2 0-3M239 96l1 2-2-2-1-2-3 0-2 2 1 2 2-1-1-2 2-2M329 78l-2-1 0-3 2 1 3-1 0 3 1 2 2 2M365 168l-1-2 2-1 0-2-2 0-1 3 2 2-3 1-2-1-2-1M391 213l-1-2-3 0-2-1 3 0 1-3 3 1 0 2-2-1 0-3M377 205l0 3 2 1-2 2-2 0-2-1-2-1 2-2 2 0 0-3M281 155l-1 3-1 2 3 1 2 0 0 2-1 2-1 2-3 1-2 0M374 221l-3 1-1 2 1 2 2 0-1-2-2 1-2 1-2-2-2 2M321 122l2-1 2 0 2 2 0-3 1-2 2 0 3 1-2 3 0 2M354 127l2 0 1-3 1-2-2-2 0-2-1-3-1-2 2-2 0-2M335 124l3 0-2-2-1-2-2-1-2 1-3-1-1-2 1 2-2 2M289 181l3 1 1 2-1 2 3-1 0 3 1 2 3 0 2 0 2 0M376 180l0-3 0-2-1-2 1-2 1 2-2 1 0 3-3-1-2 0M184 144l2 2 2 1 2 1 2 0 1 2 3 2 2 0 3 0 1-2M390 162l3-1-1 3 2 0-2-1-1-2-2-2-2 0-3 1 0 2M221 156l-3 0-2 2-1 2-1 2 1 2-2 2-2 1-1 2-2 2M293 80l-3-1-1-2 1-2 3 0 1 1 3 1 1 3-2 1M360 241l0-2 0-3 3 0-2-1-1 2 2 1 0 3-2-2-2 0M356 186l1 3-2 1-1 3-2 0-2-2-2-1-2-2 1-3-1-2M234 144l1 2-1 2-3 0-2-1-2-2 0-2 0-3 0-2-2-2M327 190l0 2 3 0 1-1 2 2-2 1 2 1 2-2 0-2-1-3M288 198l2 1-1-2-2 1 0-3 1-2 2-1 2-1 2-2 1 2M397 109l0-3 0-2-2-2 0-2 1-2-2 0-2 1-2-2-2 2M392 189l-1 2-1 2 0 3 0 2-2 2-3 0-2 1-1 2-2 2M361 165l-3 0-2 0-1-3 2 1 2-2 1-1 3-1 0-3 2 1M312 165l2 2 0 2 0-2 2 0 3 0 1 2 1-3 1-2-3-1M367 80l2 1 1 3 2 0-1-3-2 1-1-3-2-1 0-3 2-1M286 126l2 0 2-1 2 1-1 3-1 2 0 2 0 2 0-2-1-2M395 117l-1 3 2 2 1-2-2-1 0-3-3 0 0 3 0 2-2-1M193 187l2-2-2-2-2 0 1-2 1-2-2-2 0-2-1 2 2 1M306 166l-1-2 1-2-1 3 1-3-2-2-2-2 1-2-2-1 2-1M327 118l2-1 2 2 1 3-2 1 1 2 0 2-1 2 2 1 0 2M395 135l1-2 0-3-2-2-2 2-2-2-2-2-3 0 1-2 0-3M291 127l2-1 2-2 2-1 0 2-3-1-2 1-1 2-2 0 1 2M378 176l2 1 3 0 2 2 2 0 1 2 2 0-2 0-2-2-2 2M258 206l-2-2-2-1 1-2 2-1 3-1 1-2-3-1-2 0 0-3M381 80l-1 2-3 0-1 2-2-2 1 3 2-2-3 0-2 1 2 1M307 148l3 0 2 0 2-2 2-2 1-2 1 2 1-2 1-3 1-2M191 89l0 3 2 2 0 2 2 2 1 3 2 1-2 2-1 2 2 2M345 87l0 2 0 3-1 2-2 0-2 2 2 1 1 2-2 0 1 2M186 139l0 3-3 0-2-1 2-2 1-2 2-2-2 2-1-3 2 0M385 182l-2 1-1 3-2-1-2 1-1 3 2 0 3 1 2 2 2 0M326 199l-1 3-1-2 1 2-2 0-3 0-2 1 1 3-2-1-2-2M311 245l-2 1 1 2 0-2 2 1-2 1-2 0M281 236l2-1-2 1 2 0 1-3 1-2 3 1-1-2-3-1 2-2M320 104l-2 1-1 2-1 3 1 2-1 2 2 2-2 2 2 2 1 2M322 138l-2 1-2 1-2 2 1 2-2-1 0 3 1 2 3 0-1 2M235 148l1 2-1 3-2 0-3 0-1-1-2-2 1-2 2-1 1-2M281 93l1-1 2-2 2 1 1-3-1-2-1-2-2-1-3-1-1 2M243 113l0 3 1 2-1-3 1 3 2 1-3 1 0 2-2 2-1 2M384 80l-1-2-2 0 1 2 2 1 3 0 2 1-2 1-2 0 2-1M189 173l2-1 3 0 1-3-2-1-3 0-1 3-2-1-2 1-3 0M357 125l2-1 2-1 2-2 2 0 3-1 0-3-2-2-2-1-1-2M395 183l1-2 3 0 0-2-3-1-1 1-3 2 1 2M221 186l3 0 2 2-3 0 2 2-1 2 1 2-1 3-1 2 2 2M205 184l1-3 1-2 2-2 2-1 2 1 0 2-1 3-1 2-3 1M315 229l2 2 1 2 2 1-2 2-2-2-2 1-2-2-1-2-2-1M305 136l2 2 0 2 3 0 1-2-1-2-1-2 0-3-1-2 0-2M380 157l-2 0 0-3-1 3 0 2 2 2 2 1-1 2-1 2-1 3M268 210l1-2-3 0-2 0-1-2-2-2-2-1-3-1-1-2-3 0M364 223l1-3-1-2-2-1-3 0-1-3-2 1-2 1-3 0-2-2M333 163l-1 3-2-1-2-1-2 1-1-2-1 2 2 1-1 2 1 2M302 91l2-2-3 0 3 0 0-2-1-2-3 1-1 2-2 1-2-1M326 141l1-2-1-3-2 1-2 1-2-1-2-2 3-1 0-2-1 2M271 196l0-2 1-3 2 0 2 1 2 0-1-2-2 2 0 2-1-2M295 209l2-1-2 1-3 0-2-1-3-1-1-2 0-2-1-2-3 0M308 193l-1-2-3-1-2-1-2 0-1-2 0-3 1-2 2-2-2-2M393 109l-2 2-2-1-2 2 2 2-1 3-2 1-1 3-2 1 3 1M392 175l-1-3 2-1 2-2 1 2 1 2-2 2-2-1-3 0-2-2M321 170l2-2 2-2 2 2 2-1 1-2 3 0 0 2-3 0-1 3M382 178l3-1-1 3 2 2 0-3-1-2 0-2-2-2 1-2 3 0M277 117l2-1 3 1 2-1 3 1 2 1-3 1-1-1-2-2-3 1M356 138l2-1 2 2 2-2-1-3 2-2 1-2 2-1 1 2-2 0M251 101l1-2 2 1 2 1 3 1 2 0 2 1 2 2 3 0 2-1M243 179l1 2-2 2-2-1-2 0-2 1-2 2-1-2 2-1-2-2M308 208l-2-1 3 1-2-2 2-1 1-2 2-1 2-1 1 3 0 2M396 77l-1 2 0 3 1-3-2-1 0 2-3 2 1 2 3 1 1 2M384 239l1-2 1-2 1 2 2 2 0-3 2-2 1-2 2-1 1-3M336 148l-1-2-2-2-1-2 1-2 2 1 3-1 2 2 2 1 1 2M299 220l-2-3-2 1-2-2-1-2 0-3 2-1 2-2 1-2 2-1M245 144l2 1-1 3-2 1-2 1 2 1 2 2 2-2-2-2-1-2M355 186l0-2 1-2-1-2-1-2-1-2 1-3 2-1 2-1 2 0M262 131l1 2 2 1 2-2 2 0 2 1 2 1 2-2 2 0 1-2M366 85l-2 0-3-1 2 3 2 0-2-1-2-2 2-2 2 1 0-3M351 181l1 2 3 0-2-1 2 1-1 3 3 0 2 2 2 1 1-1M267 156l0-2 2-2 2 0-2 1 2 0 3-1 1 2 2 1 3-1M345 132l-1 2-2 2-2 0-2-1-3 1 3 1 2 0 2 0 3-1M376 198l0 3 2 1-3 1 2 2 1 2-2 2-1-3 1-2 1-2M263 121l-2-1 1-1-2-2-2 1-3 0-2 0-3-1-2-1 1 3M390 158l0-2-1-3-1-2-2-1-3-1-1 2 0 3 2 2 1 2M399 87l-3 1-2-1 0-2-3 1 1 2 2 1 2 2 1-2M216 112l0 3 1 2 2 2 2 1 2-1-1-2 0-2 1 2-2 2M326 85l-1-2-3 0-2-2-2 1-1 2-1 2-2 1 0-2 0-3M209 108l2 0 2 1 2-1 0-3-2-1-2-1-2-1 2-2 1-2M274 184l0 3 2 1 2-2 1 2 0 3 2 0 2 1 2-1 1-3M371 163l2 0 1 2-2 2-2 0-2 1-2 1 0-2 1-2 0 2M303 82l0-2 1-2 2-1 3-1 2 1 1-2 2 0 3 0 2-2M389 180l0-3-1-2-2-1-1-2-3-1-2 0-2 1-2-2 0-3M282 120l2 1 2 1 3 0-1-3 1-2-3 1-2 0-2-2-1-2M384 165l-2 0-2 2 0 3-1 2 2 2-2 2 3 0-1 3-1 2M281 196l2 0 2 2 3 0 2 0 3 0 1 2 2-1 1-3-2 1M340 186l2-2 2-1 3-1 2 0-2-1-1-3-1-2 0-2 1-3M245 116l-1 2-2 2-2-2-1-2 2 1 2-1 2 1 2 2 3 0M180 126l1 1 2 3 2 0 3-1-3-1 0-3 0-2-2-2 3-1M306 163l2 0 2 1 3 0-2 2-2-2-2-1 2 0 2-2 1 3M351 224l2-2 0-2 3 0 0 2 1 3 1 2 2 2 1 1-2 1M219 185l2 0 1 2 1 3 0 2 1 3 1 2-2 2 1 3 2-1M242 220l1-3-2 1-3 0-1-2-1 2 0 3 2-1 0-2 0-3M349 89l0 2 2 0 1 2-1 3 2-1 0 2-2 1-2-2 2-2M357 75l3 0 0 3 2 0 3 0 2 2 2 0-1-3 2 2-1 3M376 110l0 2 2 2 2 1 1 2 2 0 3 1-2-2-2 2 1-2M338 141l0 2 2 2 2-2-3 0 3 0 2 0 3 1 1 2 0 3M363 151l-1 3 0 2 2-1 3-1 2 0 0-3-1-2 2-1 2-2M341 86l-2-1 2 2 1 2-2 2-2 1 0 3 3-1 2-1-1-3M239 105l-2 2-3-1-2-1 1-3-2-2 1 3 1 2 1 2-1 2M396 190l-2 1-2-2-1-3-1-2-1-2-2 0-2 1-3 0 0 3M391 131l-2 2-2 1-3-1-2 1 1 2 0 3 1 2-2 1-2-2M307 90l1-3 2 2-2-1-2-2-2-1 0 3 1 2 3 1 2-1M388 225l2-2 2 0 2-2 0-2 1-2 2-1 2-2-1-3-3 1M251 96l-3-1 1-3 2 1 3 0 2 0 3 1 2-1 0 3 3 0M220 206l3-1 2 0 0 2 1 2-2 2-2-2-2-1-2 2-2 1M318 182l-1-2 3 1 2-1 0 3 0 2-1 2-2 2-1-2 0-3M338 231l-1-2-2 1-1-3 2-2 2-2 1 3-2 2 2 1 2 1M367 93l1 2-1 3 2 2-2 2-2 1-3 0 0-3-3 1 0 2M336 146l2 0 3 1-1-2-1-2 3-1 1-2 2-1 3 0 1-2M192 88l3-1 0 3 2-2-2 1 0-2 3-1 0 2-2 2-1 3M372 154l1-2-2 1 0 3 0 2 1 3 1 2 2 1 2 1 1-2M246 194l-1-2 0-2 0-3 3 0 2 1-1 2-2-2-1 3 3 0M241 121l-3-2-2 1-2 2-1 2-2 1-2-1 2-2-2 1-2 2M374 134l3-1-1 3-2 2-2 0-2 2-2-1-1-3-1-2 2-1M261 145l2 0 0 2 0 3-2 1 1-3-2-1 2-2-2 2 2 0M317 159l1 2 2 1 1-2 2-1-2 1-1-2-1-2 2-1 2-1M181 99l-3-1 0 3 0 2 2 2 2 1 1-3-2-1-2 1-1 2M297 124l0-3 2 2-1 2 2-1 2-2 2 2 2 0 2-2-1-2M353 107l1 2 3 0 1-2 0-3 3 1 2-1 2-2 2 3 0 2M274 218l2 1 2 2-2 2 2 2 0 2 1 3-3 0 2 2 1 2M238 173l-2 1-2-1-3 0 2-1 2-2-1 2 2 2 1 3 2-1M372 216l-2 2-2 1 0 3 0 2 2 2 1 2 0 3 2-1 2 0M398 208l-3 1-2-1-2-2-1-2 2-2 2 1 3 1 0 2 0 3M318 75l0 3-3 0 0-3-2 1-3 0 0-2-2 0M306 119l2 2 0 3-1-2 0-3 3-1 2-1 0 2-1 3 1 2M316 93l0-2 0-3-3-1 1 2 1 3 2 0 2-2 1-2 3-1M240 147l-1-3 2 0-1-3-2-1-2 1-3-1-2 2 0-3 1-2M382 114l1-2 2-2 0-2 1 2 1 2-2 2-2 1-1-2-2-2M281 115l1-2-1-3-2-1-2 1 0-3-2-1 0 2 2 1 2 2M383 206l-2 1-2-2-2-2-2-1 2-2-2-2 1 3-2 1-2 1M284 101l1 1 0 3 0 2-1 3-2-2-2-1-2-2-2 0 0-3M230 184l2 0 0-2 2-1 2 2 0 3 1 2 2 1-2-1 0-2M285 86l2 2 2-2 1-2 1 2 2 0 3-1 2 0 3-1 2 1M378 233l2 2 1-2 3 0-1-3 2-1 0-3 2 0 3 0-1 3M382 127l-3 0-1-3 0-2 1-2 2 2 1 2 1 2 3 0 1 2M308 125l-2-1-3 0-2 1 1 3-3 0-2 0-3-1 1 2-2 2M268 141l2 1 0-3 1-2 2 2-1 3-1 2 2 1-2-1-1-2M366 241l1-2-3-1 1 2 0 3 2 0 1 2 1 3 2-2 2 0M281 203l2 1-1 2 2 2 2 2-2 1-3-1-2-1 1 2 1 2M336 134l-1 2-3 1-2 1 1 2 2 1 2-1 3 0-1-3-2-2M283 155l0 3 2 1 1-2-1-2-1-2-2 0 3 0-2-2 0-3M233 174l2-2 1 3-3 0-2 1-3 1-1-3-1-2-1-2-3 1M388 97l2 2 1 2 2 0 0 2-2 2-2 2 0-2 2-2-1 2M245 124l2-1 1-3 1-2 2-2 2-1 1-2 1-2 1 2-2 1M186 177l-2 0-1-2 0-3-2-2-2 0-2-1 1-2 0-3 0-2M204 124l1-2 0 3-2 0-3 0 0-3 2-1 3 1 1 2 2 2M180 180l3 1 2 2 1-2 3 0 2 0-2 0-1-2-3 0-2-1M307 177l0 3-2 0-1-2-1-3 2-1 3 1 0-2 3 1 1-2M398 94l-2 1 2 0 1-2-1 2 0 3 0 2M387 160l-1-3-1-2 1-2 2 2 2-1 2 0 3 0 0-2-2-1M247 169l2-1-2-1 0-3 2-1 2 2 2 2 0-3-1-2 2 1M301 100l-2 2 1 2-1 3-1 2-3 1 2 2 0-3-2 2 2 0M306 182l1-2 3 1-1-3 1-2-2-1-2-1-2-2 1-2 0-3M205 148l0 3-1 2-2-2 0-2 0-3 1-2 2-1 2 0 1-2M359 113l2-2 2-1 2 2 0-3 1-2 1-3-1-2 2-2 2 1M318 233l-3 0 2-2-1-2-1 2-2-2-1-3 2-1 1-2 2-2M334 215l0 3 1 1 0 3-2 1-2 2 0 3 2 1 0 3 0 2M396 149l1-2-2 1-2-2 3 0 2 0M245 188l3-1-3 1-1-2 1-3 0-2-2-2 2 1 2 1 1 2M358 131l2-1-2-1-1-2 2 1 2 1-2 1 2 0 3-2-3-1M197 120l-3 0-1 2 2 2 1 2 1 2 2 2 1 2-3-1-2 1M393 185l2 2 2-2-1-2-2 1-3 0-1 2-2 1-2 1-3-1M291 99l1-2 2-2-1-2-2 2-3 1-1-3 3-1 2 0 2 1M312 140l2-2-1 2-2 1 2 1 1 2-2 2-2 2-1 2-3 0M367 107l-3 0 2 2-2-1-3-1 1 3 1 2 0 2 2 1 2-2M339 120l-1 2-2 1 0 3-3 0 1 3 0 2-2 2 1 2 2 0M202 195l-2-2 3 1-3 1-2-2 2-1 2-1 2 2 3 1 1-2M329 84l1 1 2 2 2 2 0 2-1 2 2 1 0 2-2 2 0 2M307 179l2-2 3 0 0-3 2-1-3-2-2 1 0 2-2 2-3-1M382 188l-1-2-2-2-2 1-3 1 1 2-2 2-1 2 1 1 2-1M385 219l3 0-2-2-2 0-3-1-2 1-3-1-1 2-3 0 2-1M233 122l0-2-2-1-3 0 0 2-1 3 0 2 3-1 1 2 0 3M263 224l1-3 3 0 1-2 0-2 3-1-1-3 1-2 0-3-2-1M377 204l1-2-2-2-2-2 0-2-2-2 2-2 2 0-1 2 2 2M328 234l0-2-3-1 0-2 2 2 2 0 2-2 1-2-1-1-3-1M281 101l2 1 3 0 2-2 1-2 2-1 2-1 1 3-2 1 2 2M388 119l-2 0-1-2 2-1-1 2 2 1 2 2 1 2-1-2 2-1M176 85l-3-1-1 2-2 2 1 2-3 1-1 2 2 1M353 93l1-2-2-2 1-2-2-1-1 2-2 1-2 2-1 2-1-2M361 143l0-2-1-2-2-2-2 1-2 1 0 3 2 2 1 2 2-2M325 165l-3-1 0 3-2 2-2-2-1-2-2-1-3-1 0-2-1-3M356 93l2-1 2 2 2-1 0-2 0-3-1 3 1 2 2-2-1-2M225 163l2-1 2-2-2-2-2-2-2 0-2 2-2-1-2 0-3 0M359 235l-1 3-2-1-2 1-1 2 1 3 2 1 2 1 3-1 2 0M371 86l1-3-1-2-3-1-2 2 1 2 0 3 2-1 2-2 2-1M349 232l-1 3 0-3 0-2 2 0 1-3-1 3 0 2 0 3-2-1M315 239l0 2 2 2 1-2 1 2 3 0 2 1 2 0 2-3 1-1M238 205l0-2-2-1 0-2 0 2-2 1 0-3 0-2 2-1 1 2M211 214l-1 2 2 1 2 1 0-2-3-1-1-2-1 2 2 1M339 179l0-2 0-3 0-2 3 0 0 2 2 1-2 1-2 1 0-2M333 232l-2-2-3 1-2 0-3-1 0-2-2 0-2 2 1 2 1 2M317 217l-2 0-2 1-2 2 3-1 2 1-2 1-3 0-2 2-2-1M266 140l0 2 1 3 2 1 2 2 1-3 2 2 2 2 0 2-2 1M352 193l1-2 2 2 1-2 1 2 2 2 2 1 2-1 2 2 3 0M306 179l-1-2 2 1 1 3-3 0-2 1-2 1-2 1-3-1-1-2M376 122l2 1 3-1 2 1 2 2 2 1 3-1 2-1 2-2 2 1M328 233l-1-2-2-2 1-2 0-3-3 1-2 1 2 1 3-1 2 0M295 229l2 0-2 0 0 2 2 2 2-1 2 0 2 2 2 2 1 2M373 241l-2 2-1 2 1 2 2-1-2 2 3 0-2 1 0 3M326 186l-2 2-1 3 1 2 2 2 3 0 2 0-2 2-2 0-1-3M276 160l2 0 2-1 3 1 2 1 2 0 2-2 1-2-1-3 0-2M348 232l-2 2-1 2 1 3 1 2 1 2 2-1 2-2 2 2-1-2M271 80l2-1 1-3 1 2 3 0-1 2-2-1 0-2 0-3M370 239l2-1-1-2-2-2 0-2 2 1 2-1 1-2 2 0 3 0M307 122l-2-2 0 3-3-1-2-1-2-1-2 2-2 1 2 0 0-2M276 147l0 3 3-1 2-1 2 0 2-2 3 0 1 2 0 3-2 1M277 155l-1-3-2-1-2-1 2 1 3 1 0-3 3 0 2 2 0 2M321 106l-1 2-3 0-2 1 0 2-2 2-1-1-1-3 1-2 3-1M169 141l0-2 2-2 1 3 0-3-1-2-1-2 1-2-2-1-1-3M340 214l3 0 2 1 2 2 2-1-2 2-2 2-1 2-2 0-3 1M364 166l-2 0-2 1-1-2 1-3 2 1-1 2-2 1 2 2 0-3M202 135l0-2-2-2-1-2-1-2 2 1-1-2-1-2 1-3 2 2M384 144l1-2 0-2 1-3 1-2 1-2-2-2-3-1-2 1-1 3M300 189l2 1 2-1 1-3 1-2-1-3 0-2-1-2 2-2-2-1M171 103l-2-2-3 0 2 1 2-2 0-3-2 2 0 2-1 3M388 209l2 1 2 1 1 3 2 2-2 1-2 2-3-1-2-2-1-2M322 86l2 2-1 3 3-1 1-2 3 0 2 1 2 1 0 2 1 2M218 152l-2-1-3 1 0-3 2-1 2-1 2 1 0 3 1-2-1-3M347 192l1 2 2-1 0-3-3 0-2-1-2 0 0 2 1 3 0 2M361 177l-2 1-3 0-2-1 0-2 0-3 1-2-2 1-2 2-3 0M351 232l-1 2-2 1-2 2-2-1 0-3-2-2 0-2 2 0 1 3M307 81l1 2-1 2-1 2-3 2 1-3 1-2-2-1 0 2 1 2M278 164l-2-1-3-1 0-2-2-1 0-3-2-1-2-2-2-1-2-2M378 228l1-2-1-3-2-1-2-1-2 1 0-3-2-1-3-1-2 2M354 180l-2 1-2-2 0-3 1-2-1-3 3 1 1 3 1 2 0 2M274 142l2-2 2-2-2-2 3 1-1 2 1 3-1 2 0 2 1 3M259 205l2-1 2-2 2 2 2-1 2 1 0-3 2-2 3 1 0 2M390 228l-1-2-1-2-1-3 2-2 0 3-1 2-2 1 0 3 0 2M291 138l2-2 0-3 2-1 1-2 0-3 2 2-2 2-2 1 0 3M104 221l3 1 2-1 1 2 2 3-3 0 0 2-2 2 2 2 3-1M375 240l2-2 2 2 2 0 3 0 2 0 1-2 2-1 2-1-2 0M240 137l-1 2-2 1-2 2-2 2-2-1-2-2-2 2-1 2-2 1M363 101l2-2 2 1 1 2 1-2-2-2 0-2-3 0 2-2-1-3M284 219l1 2 2 2 2 1 2 2-3 0-2 1-3-2 1 3 0-3M364 181l-1-2-1-2 1 2 2-2 0 3 0 2-3 0-1-2-3-1M236 191l0 2-2 1-2 1 3 0 2-1 2 1 1-2-3-1 0-3M210 177l0-3 0-2 0 2 2 0 3-1 2-1 1-3-1-2-1-2M376 150l-2 1-2 1-1 3-3 0-2-2 3 0 0-2-3 0-2 0M314 154l1 2 1 3 1-2 2 1 1 2 0 3 2-1 2-2 0-2M237 156l1 3-2 1-3 1-2 1 2 2-2 2-3 0 1-2-1-3M353 104l2-1-2-1-1-2 3-1-1 2-2 2-2 1-1 2 1 3M366 154l2 2 2 2 2-1 2 2 2-1 0 3-3 0-2 1-2 0M307 139l2 1 3 0 2 1-1 2-1 2-2 0-2 3 3 0 1-2M338 144l1 3 2-2-1 2 1 3-1 2-1 2 2 2 1 3-2-2M348 85l2-2-2-1 1-2 2 0 2-2-1-2 0-3M208 97l1 2 2-3 1 2-1 2 1 3-1-2-2 1-1-2-2-2M382 165l-1 2 1 2 3-1 0-2 3 0 1-3-2-1-2-1-1 3M274 220l1 1-1 3-2 1-2 1-2-2-1-2 1-3 0-2 0-3M344 195l-1-2 0-2 2-2 2-1 2 2 2 0 1-2 2-2 2 0M350 160l2-2 2-1 1-3 2 0 3-1 2-1 1 2 2-2 1-2M218 177l-2-2-2 0-2 1 1-2 3 0 0 3 0 2 2 0 2-1M361 204l-1 2-3-1-1-3-1-2-1-2 0-2-1-3-2 0 0-2M258 151l-2-2 1-2 3-1 2-2 2 0-1 3 2-2 1-3-1-2M190 153l2-1 3 0 2 2 2 0-1 2-1 3 3 0 1 3-1 2M341 146l2-1 2 1 3-1 1-1 3-1 2 2 2 2 2 0-2 1M395 131l2 0 0-3-2 0-3-1 1-3-1-2-2-2M340 195l2-1 1 2-1 2-1 2-2 0-3-1-2 0-2 2 1 2M313 116l-1 2 1 2 2 2-1 3 1 2 2-1 2 0 3-1 2 1M379 119l-2 2-2-1 0-3 2-1 2-2-1-2 3 0 2-1 1-2M201 135l2 1 0 3 2 2 3 0 0 3 2 1 0 2-1 3 0 2M369 114l-2-1-3 0 0 3-2 1 2 2 2 1 2 2 0-3 1-2M108 236l1-2 0-2-2-2-3 0-1 2 2 1 2-2 0 3 1-3M266 131l1-2 1-2 2-2-3-1-2 0-2 1 1 3-3 0-2 0M214 124l0 2-1 2-2 2 0 3-1 2-2 1-3 0-2 1-3 0M358 98l2-2-1-2-2 0-2-2-3 0 0 3 0 2 3 0 1 2M369 87l1 2 2 2 2 1 3 0 2-1 2-2 2 1 0-2 2 1M233 129l-1-2-1-2-3 1 0 2-1 2 0 3 0 2-1 3-2-2M326 154l3 1 1-2 0-3-2 0-3-1 0-3 2 0 2-2 0-2M244 227l1 2-2 2-1 3-2 0-1-2 1-2-3 0-2-1-2-1M367 106l-2 1-3-1-2-2 0-2 0-3 2 2 2 0 3 1 2 1M267 156l1-2-2-2-2 1 0 3 2 0 0 3-2 0-2 1-1 2M183 135l-3-1-2 1 1 3-1 1-1 3 0 2-2 0 1-2-1-2M306 208l2 0 0-3-2-2-2-1-2-1-2-2-2 1 2 2 1 2M276 123l3-1-1 3-2 1-3-1 0 3 1 2-2 0-1-2-2-1M285 217l1 3 2-1 3-1 1-3-1-2 0-3 1-2 3 0 2-1M358 104l1-2 1-3 1-2 0-2 0-3-2-1-2 1-1 3-2-2M345 117l-3 0-1-2 1-2 2-2 2 1 2 1 2 2-1 2 0 3M291 112l2-2 2-2-3-1-2 0-2 2-3-1 0-2-2-2-2 2M380 182l0-2 0-3 0-2 3-1 2 1 2 1-1 2 2 1 1 3M196 180l0 3 1 2 2 2 2 1 2 1 3 0 2 0 3-1 2 0M313 173l1 2 3 1 1-3 2-1 2 1 2 2 2 1-3 1-2-1M182 148l1 2 2 2 1 2 2 0-2 1-3 0-1 2-1 2-2-1M64 193l-1-2-2-1-3 0-2 0 0-2 1 2 1 2-2 0 1-2M315 215l2 2-2 2-2-1-2 1-1 2-3-1-2-1-2 1-3-1M172 131l3-1 2 1 2 1 3 1 2 0 1-3 1-2-1 2-3 1M380 170l2 0-1-3-1-2 2-1 2 2 0-3 0-2 2 1 2-1M335 176l2 2 2 0 2 1 3 1 0 3 1 2 3-1 2 0 2 0M182 193l2 2 0-2 1-2-2-1 2-2 3 0 1-2 0 2 2 1M335 185l2-2 2-2-1-2-3 0-2 2 1-2-2-2-1-2 1-3M171 99l-1-3-1-2 1-2 0-3 2 1 0 3-2 1-2 1-2 2M278 206l-3 1-1 2-2 2-2-2-1 3-3 0 2 1-2 1-2 0M329 147l2 0 3 1-2 1-2-2-1 2 2 1 2-1 1 1 2-2M386 166l1 3 1-3 2 1 3 0 2-1 1-2 3-1-2-1M230 210l0 3 3 0-2-2-2 0-2-2-2 0-2-1 1-2 1-2M327 138l-1-2-1-2-1-3-2 1-2 0-3 2-2 1-2 2 3-1M196 77l0-3-2 0-3 0 1 2 2-2 3 0 2 0M220 120l2 1 2 1 3 0 2-2-3 0-1-2 2-2 2-1 3 0M394 169l-3-1-2 0-3 1-2-2-2-1-2-1-2 2-1-3-2-2M357 153l1 3 2 1 0-3 1-2 0-2 1-2 0-3-1-2-1-2M345 161l2 1 0 2 0 3 2-2 1-2-1 2 2 1 2 2-3-1M357 171l-1-3-2 1-3-2-1 3-1 2-1 2-3-1 1 3 1 2M339 101l2 0 2-1 2 2-2-2-3 1-2-1-1-2-1-3-3 1M376 192l3-1-1-2 3-2-2-1 2 0 1-3 2-1 1-2-2-3M390 219l-1 2 2-2-1-3-1-1 2-2 2 0 1-2-3 0-1-2M310 193l-3 1 0-3 2-2-1-2-3-1 2-1 2 0 1-2-2-1M376 102l-1 3 3 0-2-1-1-3-1-1 2-1 1 3 0 2-2-2M383 188l2 1 2 2 3 0 2-1 2-1 2-2 1 3 1 2M342 134l-1-2-1-3 0-2 2-1 2 1 2-2 3 0 2 0 2-1M387 174l1-3 0-2 2 2 0 2-2 3 1 2-2-2 1-2 1-2M357 248l0-3 0-2 2 2-1 2 1 2 2 2-1-2M370 94l-2-2-2 1-3 0-2 0-3-1-2 0-3 0 1-3 2 2M325 101l1 2 2 1 2 1-1-2-2-2-2-1 0 2-2 2-2-1M207 85l-1-3 2-2 0-2 1-3-3 0 2 2 0 2M331 73l-1 2-2 2-1 2-2 1-3 1-1 2-3-1 1-2M361 114l-2-1-3-1-1 2-3 0 2 2 2-2 2 2 0 2 2 0M355 231l-3-1-2 0-3 0-2 1 1 2 1-2-1-3 1-1 3 0M382 146l-1 2 2 0 2 2 1 2 3 1 0 2-2 2 2-1 1-3M362 77l2 2 3 0 0-2 0-2-2 0 2-1M355 161l-2-2 1-2 1 2-3 0-1 2 0 2-2 2-2-1-3-1M337 97l1 1 3 0 0-3-1 2 2 2 1 2 2-1 0-3 2-1M278 117l-1-2-2-1-1 2-3 0-1 2 1 2 3 1 2-1 2 2M375 202l-3 0-2 1-1 2 0 2 2 2 2 1 2 1 2 1 2-2M333 167l2 2 2-2 2-1 3 0 2 0 1-2 0-3-2-1-2-1M294 217l2-2 0-2-1-2 1-3-1-1-2-2-2 1-3-2-2 1M396 92l-3-1-2 1-2 1 1 2 1 3 2 0 1-3 3 1 1 2M392 89l0 2 0 3 0 2 0 3 0-3 0 3-3 0-2-2-2 1M328 231l-1 2 0 2-1 2-2 1-3-1-2 0 2-1-1 2 1 2M173 150l2 1 0-2 0-3-2-2-2 0 2-1-2-3 0-2 0-2M302 118l-2 2 0 2 1 2 2 1-1 3-1 2-3-1-1 2 2-1M222 124l-2 1-1 3-1 2 2 0 2 2-1 3 0 2 0-2 2 2M289 170l-3 0 0 3 2-1 2 1-1 2-2-1-1 2 0 2 2 2M177 173l-2-2-1 2-2-2-2 1 2 1 2-2 3 0-1 2 2 0M393 177l-2 1 0-3-3-1-2-1-2 0-2 2-1 2-3 0-2 0M227 178l2-2 2 2 2 1 1-2 2-1 2-1-2-1-2-1-2 1M307 195l1-2 0-2 0-3 1-2 2-1 2-2 2 1 2 2 2-1M371 247l3-1 2 2-1 2 2-1-2-1-2 0-2 2-1-2 2-2M367 150l1-2-2-2 1-2 1-2 3 0 1 3-2 1-2 2 1-2M353 163l-2 1-2-2 2-2 2-2 3 0 2-1 2-1 3 0 2-1M394 187l2-2 0-2-2-2-2-1 2-2 2-2 2 1-1 2M356 172l-1-2-2 1 0 3-1 2 2 2 2-1-2-1-1 2-1 3M205 111l0-3-2 0-2-2-3 0-2 1 0-3 2-1 2 1 3-1M340 211l3-1 2 0 2 1 3 1 2-1 0-2 0-3 2-1 3 0M238 148l0-3 0 3 2 1 1 2 1 2 1 3-3 0 0 2-2 0M310 136l2-1-1-2-3 1-2 0-2-1-3 0 0 3 1-3-1-2M326 89l2-2 3 0 2 1 2 0 1 2 0 3 2 2-1 2-2 2M343 84l2 2 1 2 2 2 2-1 3 0 1 2-3 0 2 1 0-2M362 108l1-3-1-2-2 0-2 2-2 1-1 2 2-1 0-2 1-2M344 91l2 2 3 0 2 0 2 2-2 2-2 2 2 0 2-1 3 0M294 107l3 0 2 0 2 2 2-1 2 2 1 2 2 2 0 2 1 2M335 147l-2-1-2 0-2-3 3 2 2 1 0-3 2-1 2-2-1-2M369 179l2-1 1-2-1-3-2-2-1-2-2-1 2 0 3 1-1-3M308 164l-2-1-1 3 3 0-1-2-3 0-2-1 2-1 1-2-2 1M176 181l-3 0-2-1-1-3 3 2-3-1-1-2 0-2 3-1 2-1M180 140l-2 0 2-2 1-2 0-2 1-2 1-3-2 0 2 0 2-2M334 174l2 2 2-2 2-1-2-2-2-1-1-3 1 3-3 0 2-1M301 78l3-1-2-2-1-2-2 1-1 3 2 2 2-1-2 0 0-3M325 157l1 2-2 2-2 0-3 0-1-2-1-3 3 0-1 2-2 1M377 232l-2 0-3-1 3-1 2 0 2 1 2 2 0-2 1-2 3 0M257 207l-2 1-2 1-3 1-1-2-2 1 0-2-1-2-1-2-1-3M166 176l1-2 0 3 1 2-1 2 1 3 2 1M389 84l-2 0 2 2 2 1 0-2 2 1 2 2 0 2 3 1-3 1M362 78l-2 2-1 2 2 2-1 2 2 0 2 2-2 1-2 1-2 0M391 81l2-1 1-2 2-3-3 0 0 3 2-1 1-2-2-1M306 83l2 1 0-3 2 2 2 2 2 0 3-1-2 2 0 3 1 2M338 194l1 2 2-1-1-2-2-1-2-2-1-2 1-2-1-2-2-2M276 115l-3 0 0-2 1-2 2 0-1-2-2-1-2 0-1-2-2-1M334 126l-2 1-2 1 2 0 3 0 1-2-2-2 2 1 2 2 2 1M283 242l-1 2 3 0 1-2-3 0-1-2-1-2M299 190l-1-2 3-1 2 0 1-3 2-1 2 1-1 3-2 0-2-1M361 109l0 2-1 3 2 1 0 2-1 3-1 1-3 1 3 1-1 2M338 154l2 0 2-2 1-2-1-2-2 1-1 3-2 1-2 2-2 1M311 106l2 2 2 0 0-3 0-2-3 0 1 2 2-2-2 1-1-3M337 203l0 3 1 2 1 2 3 1-2-2-1-2 1-3-3 1-2 0M353 240l-2 0 1 2-3 1-2 0 0 3-1 2 2-1 2-2 3 0M349 226l-3 0-1 2-3 0-1-2 1-3 2-1 1-2-2 2 3 0M354 122l-2-1 1 2-1 2-2-1-3 1-1-2-3-1 0 2 0-2M297 191l-1 3 3 0 0 3-1 2 0 3 2 2 2-2 1 3-1 2M310 116l-1 2 2 2 2 1 0 2-2 2 2-1 1-2 1 2 1 2M228 103l-1 2-1 2 2-2-2 2-3 0-2 0-3-1 0-2 1-2M377 201l2-1-1-3-2-1 0 2 3 2 2 1-1 2-1 3 1 2M288 124l1-2-2-1-1-2-3 0 0 3 1 1-2 0-1 3 1 2M278 138l-2 2-2 1 2-2 2 2-2-1-3 0-2 2-2 0-1 3M362 130l2-2 1-2 2-2 1 3-2 2 0 3 0 2-2 1 0 3M235 221l-3 0-1 2-2-1 1-3 1-2 0-2 1-2 3-2 2 1M345 227l1-2 2-2-2-2 1-2 1-3 0-2-2-1 1-3 0-2M234 168l1 2-1-2 2 0 1 3 3-1 0 2-2-2-2 2-1 3M319 177l2 1-3 2 0 2 1 3 0 2-1 2 2 2 2 0 1 2M320 109l-1 2-1 3 2-2 2-1 2 2-2 2 1 2 0-2 3 0M320 89l-1 2 1 3 0 2 2-1 0 2-2 0 1 2 0 2 0 3M298 165l-2 1-3 0 0 3 0 2 3 1 0 2 0 3 1 2-3 2M190 167l2 2-3 1-1 2 3 0 0-2-3 1-1-3 0-2-1-3M368 109l2 0 1-3-3 0 0-2 2 1-1-2 0-3-2 1-2 2M372 148l2 1 2-2 2-2 1-2 0 3 2 2 2 0 2-2 2 2M374 133l-1 2-2-1-1 1-2-2-2 0-1 2 1 2 2-1 2-1M353 112l-2-1 2 2 1 2 0 3 0 2 0 3 2 2 3 1 1-3M244 183l2 0 3 1 1 2-2 0-2 0 0 2-1 3 3 0 1-2M332 74l0 2 0 3-2 1 0 3 0 2 1 2 2-1 0-2 2-2M381 122l-2 0-3 0-2-2-2 1-1 2 1 2 2 2 2 0 2 2M387 191l2 0 1-2 3 0 1 2-2 0-2-1-3-1-2 0 2 2M309 152l2 0-1-3-1-2-2 1-2-2-1-2 2 0 0-2-3 0M366 140l1-3-2-1-1 2-2 2-3-1 3-1 1 2-1 3 2-1M382 156l-2 1-2 2-2-1 2-1 3 0 2-1 1-3-3-1 0-2M347 161l-2 1-2 2-1-2-3-1-2-1 1-2 0-3-3 1-2-2M356 110l-3 0-1 2 2 1-1 3-2-1-1-2-2-1-1-3-1-2M392 108l0-3 1-2 2-2 2-1-2 0-3 0-1-2-2 1M375 163l0 3 2 0 1 2 2 2 2 0 0-2-2-2 2-2 2 2M360 170l2-1 1-2 2-2-1-2-2-2-2 2 0 2 1 2 1 3M365 110l-1-2 2 1 1 2-1 3-2 0-1-3-2 1 1-2 2-1M186 177l2 0 1-2 3 0 2-2 1 2-2 2 0 2 2 2 1 3M298 92l2 1 2-2 0-2-1-3-2-1-2-2-2 2 1 2 2 2M397 174l-1-3 0-2-2-2-1-2-2-1 0-3-1-2-2-2 2 2M378 194l-3 1-1-2-1-3 2-1-2 0-3 0 0-2 2-2 2 2M324 91l3 0-2-2-1-2 1 2 3 0 0-3 2-2 2 2 2 2M302 137l0-2 2 1 2 1 3 1-2-2-2-2 2 1-1 3 3 0M341 105l0-3 0-2 2-2-1-2 1-2 2 0 2 1 2 2 1 2M186 143l0 3-2 1-1 3-1 2-1 2-1 2 2 1 2-1 2-1M222 153l1-2 1-3 1-1 3 0 0 2-2 2-2 1-2-1 1 2M193 90l-2 1-2-2-2 1-1 2 2 1 0-2 3 0 0 2 1-2M389 196l-3 1-2 1-1 2 1 2 3-1-2-2 2 1-1 3-1-3M340 213l2 1-1 2-1-2 2 1 3-1 0 3-3 0-1-3 0-2M237 168l-2 2-1 2 3 1 2 0 3 0 0-2-2-2 1-3-3 1M396 124l2-2-2 2-2 1 1-3 2-1 1-2 0 2M384 229l-3-1-2 1-2-1-2 2-2-1-1 2 2 0 1 2 2 0M398 248l-3 0-2 2-2 0 2 1 2-1 2 1-2-2-2-2-2 0M198 84l0-2 0-2-3-2 2-2 2 2 2 2 2 1 1 2-2 2M300 159l-2-1 1-2 1-2 3-1 2-2 2 0 0-2-2 1 0-2M386 115l-2-2-2 0-2 0-1 3 0 2-2 2-2 0-3 0-2 0M359 118l-2-1-2-1-3 1 0 3-2 1-3-1-2-1-1-2-2 2M362 86l2 1-2 1 0 3-2-2-2 1-3-1-2 1 0 2-2 2M317 107l3 0 2-2 1 2 1 2-1 3-2 0-3 1-2 0-3 0M109 200l2 0 3 0-1 3-2 1-3 1-2-1-3 0-2-1-2 0M339 92l-1 3 1-3-2-1 0-2 3-1 2-2-2-2 0 3-2-1M226 193l2-2 2 1 2 0 1 3 2-1 2 2-1-2 2-2 0-2M359 110l3 0 1-2 3 0-2 1 2 1 2 1 2 2 1 2-1 2M273 215l-2-2 1-2-1-3-3 2 2 2-2 2-2 0-2-2 2-2M326 119l0 2-2 1 1 2-1 3-2-1-3 0 2 2-3 1 2 2M263 126l-1-2 1-2-1-2 2-1 3-1 2 0-1-3-2 0-2-1M380 180l1-2 3 0 1 2 3-1 2 2 2 0 2-2 2-1 2 2M289 183l1-2 0-2-1-3 0-2-1-3-1-1-1-3-2 1 0 3M294 102l0-3-2-1 1-3 0-2 2-2-1-2-2-2 2-1-3 0M352 146l1 2-1 2-1 3-2 1 0-2-1-3-1-2 3 1 1-2M321 189l-3 0-2 0-1 3 0 2 1 2 2 2 1-2 2 0 3 0M292 102l3 1 2 0 2-2-1-2-2 1-1 2-2 2 0 2 2 2M380 144l-2-2 1-3 2 0 2 0 3 1 0 2-1-2-2-2 0-2M368 88l0-3 2 2-1 2 2 2-2 1-2 2 3 0 1-2 1 2M381 85l-1-2-1-2-3 0-2 2 0 2-1 2-2-1-1-3-2 0M374 248l-2-1-1 3-1 2 2-2-2-2-2-2 1-2 2 1M372 129l0 2 3 1 2 0-2-1-2 2-2 1 0 2-3 0 3 1M189 95l0-2 3 1 0 2-1 2-1 2 0 3 2 1 2 1 0-3M393 230l2 0 2 2-3-1 0-3 1-2 1-2-3-1-1-2M293 77l1 2-2 0-2 2-1 2-1 2-1 3 2-1 2-2 2 1M179 176l-1-2-3 0 1-3 1-2 1-2 2-2 1-2-1-2 1-3M317 192l0-2-1-2-1-3 3 1 2 2-3 1 2-2 0-2-2 0M293 193l-3 1 2 2 1 2-1 2-2 2 1 2 1 3 0 2 2-2M218 144l-2 1 2-2-3 2-1-2 0-3-3 0 1-3 3 0-3 1M300 190l2-1 2-2 2-1 3 1 0 3 3 0-1 2-2-1 1-1M300 236l0-2-2-1-1-2 0-3-1-2 0-2 1-3 1-2-1-2M345 242l-1 3-2 0 0-2 3 1 1 2 1 3-2-2-2-2 0-3M281 120l2 1 0-2 2-2-2-1 0 2-2-1-2-2 3 1-3 1M179 192l-2 2-2 1-2 2 3-1-3-1-2-1-1-2 1-2 1 2M331 75l-1-2-3 0-2 0-1 3-1 2M329 180l1 2 0-3 2-2-2-2-2-1-2-1 1-2 2 0 1-3M385 181l2 2 1-2 2-2-1-3 2-1 0-2 2-1-1-2 0-3M296 101l2 2 3 0 0-2 2 0 3-1-1-3 2-1 0 2 3 1M229 138l-1-2 1 2 2 2 1 2-2 0-2-2-1-2-2 1 0 3M392 104l-1 2-3 1-2 0-3 0-2 1-1-2 2-1 1-2 0-3M388 173l2-2-2-1-2-1-2 2-1 2-1 2-2 2-1 2 2 1M398 135l-1-2-1-2 0-3-1-2 1-2-2-2-1-2 2-3M244 169l-2-2 0-2 3-1 1-2 2 2-1 3 3 0 2 1 1 2M250 174l-2 1 0 2 0 3 0 2 3 1 1 3-2 1-1 2-2 2M381 230l3 1 0 2 3 0 1 2-2 1 1 2 2 1 2-2 0 3M392 227l-2 1 2-2-3-1 0-2 3 0 0 3 2 0 3 1 2 2M389 78l-2-2 0-2 3 0 2 1 2 1 2 0-2 0 0 3M280 85l2 0 1 2 2-1-1 3-1 2-1 2-3-1 3-2 2 2M266 193l0 2 1 3 2 1-1 3 1 2-1 2-1-3 0-2-1-3M272 149l2-1-1-3-3 2 1-3 2 1 2-2 2-2-1-2 3 0M379 119l0-2-2 0-3 0-1-2-2-2-1-2 2-2 1 1 3 0M357 233l2-2 2 2 1-2 2-2 2 1-1 2-2 0-1 2 0 3M200 129l1 2 0-3-2-1-1 2-1 3 2 1 2 2 1-2 3-2M300 194l2 1 2 1 1-2 2 1 3 1 0-3-2-1 2-2-3-2M376 107l-2 1-3 0 2-2 0-3 2-2 1-2 2 2 2 1 1 3M251 219l2 2 2 2 1 2 3 1-2 2 2 2 2 2 1 2 1 2M265 228l-1-2-2-2-1-2 1-3-2-2-1-2-3-1-2 2-2 1M373 158l-2 2 1 2-2-1 2-2 2 0 0 2-2 2-3 0-2-1M316 113l-1-2 0-2 0-3 2-2 1-2 2 1-2 2-2 1 1 1M334 147l-2 1-2 1-1 3-2 1 0 2-2 0-3-1-1 2 3 1M360 155l2-1 3 0 2 1 2-1-2-2-2-2-2 1-2 2 2 1M231 133l0-2 2-2 0-2 3-1 1-3-2-2-1-1-1 2 3 1M394 144l2 2-3 1-2 2-2-1 1 2 2 1 2-2 3-1 0-2M353 117l3-1 2 0 3 0 1-3-3 0-2 0-2 1-1 2 0 2M261 133l2-1 0-3-1 2 2 1 2 1-2 1-2 1-2 1-2 2M285 90l-1 2-2-1-2-2 2-1 2-2 2 2 0 3 1 2-2 0M222 175l-2 2-3 1-2-1-2 0-2-2-2-2-1-2 1-2 3 1M354 161l-2 1 2 2 2 0 2-2 2-1 2-2 2 0 2 2-1 2M308 75l0 2 3 0-1 2-1 3-2-1 1-3 1-2 2 2 0-2M382 179l2 0 3 1 2 0-1-2-2-2 2 2 0-2-1-2-3-1M333 190l1-2 1-3 2 1 2 2 3 1 2 1 2-2-2-1-2-2M316 85l-3 0 0-2-2-1-3 0 0-2-1-2-3-1-2 2-2-2M173 93l-3-1-2-1-2 1 1-2 2 0M196 182l-1-2-2-1 0-3 2-1 1 2 1-2 2-1 2 2 1 2M312 152l3 0-2 1-3 0-2-1 0-2-3 0-2 0 1 2 0 2M198 109l-1-2 0-3 2 1 2 2 2 0 3-1 2 1 3-1-2-2M317 107l1 2 3 0 0-2-1-3 2-2-1-2-2-1-2 2 2-3M66 203l3-1 2 1 1 2 3 1 0-2 2 0 2 1-3 1-1 2M289 212l-3 1-2 1-2 2 0 2 1 3 3-1-2-2 1-2 2-1M349 127l2 2-2 2-2 1-1 2 0-2-2-2 0-3-1-2 2-1M305 156l2 1 2 0 3 0 1-2 0-2 1-2-1-2-2-1-3 0M329 106l2-2 1-1-2-1-1-3 2-1 0-2 2-2 3-1 2 1M282 115l3 0-1 2-3 1-1-2 2 0 2 2-1 2 2 2 0 3M191 125l0 2-2 1-2 0-2-2 1-2 1-2 1-2 1-3 1-2M333 229l2 1 0 3-2 1-3-1-2-1-1-2 2-1-2-2-1-2M375 134l2 1-2 1-1 2 0-2-2-2 3 0 1 2 2-1 1 1M369 131l2-1 2 1 2 1-1-2-2-1 1-3 2 1 0 2 1 2M394 140l-2 1 2-1 3-1 1-2-2-1-1-2 1-2 2-2M380 92l2 0 1 3 3 0 2 1 2 2 0 3-1 2 3 1 0 2M352 97l0-2-2 1-3-1-1 2-1-3 3 0-2-2 0-2 2-1M260 78l-2-2-1-2-2 0 2-1-2 2-2 0-1 2M231 134l2 2 2 1 0 2-2-2 2-1 1-3-2-2 0-3-3-1M365 96l0-3 0-2-1-2-1-3 2-1 2-2 3 1 1 2-2 1M288 93l2 2 1 2-1 2 0 2 3 1-2 3 1 2 0 3-2 1M334 148l-3 1-2-2-1 2 1 2-1 2-2 0-2 1-2 2 1 2M391 96l-1-1-2 1 2 2 2 2-1-3-2-1 1 2 1 2 3-1M200 118l2 2 2 2-1 2-2-1-1-2-1 2 2 1 2-1 3 1M370 175l0 2 0 3-3 0-1-2-2 2 0 2 0 2-1 2-3-1M278 158l-2-1-2-2-3 0-1 2-2 1 0 3-3 1-2 2 1 2M371 142l2 1 3-1 0 2-2 2 2 1 2 1 1-2-2-2-1-2M244 124l-1-2 1-2 0-3-2-2 2-2 0-2 1-2 1-2 3-1M324 119l2 1-1 3 3 0-1-2 1 2 0 3 2 1-2-1-2-1M280 107l0-3-3 1-2-2 3 1 2-2 1-2 2-1-2-2-2 0M267 183l1 2 2 1 3 1 0 2-2-1-2 0-2-2 2-2 3 1M357 229l2-2-1-2-1-2 1-3-2 3 0-3-2 0-2-2 0-2M213 130l-3 1-2 0-3-1-2 2-2 1 0 2 2 2 1 3 2 1M342 194l3 0 2 1-1 3-2 0 0 2 2-1-3 0 1 2-1 2M310 177l2 2 2 1 1 2 0 3-1 2-1 2-2-1 3-1 2-1M348 79l-2-2 2 1-1 3-2 0 1 2 1 3 2 1 1 2 1 3M172 138l2-1 2 1 0-2 2-1 1 2 2 2-2 0-3 0 3-1M393 156l2-2 2 0-2 0-2 2 0 2-1 3 2-2 0-3 2 2M291 228l-2 0-3 0-1-2-1-2 0-3-1-2 2-3-1-2-1-2M195 162l-3 1 0 3 1 2-1 2 1 2 0 3-2 2-2 0-1 2M263 178l2-2 1-2 2 0 2-1 1-2-2 1 2 2 0 2 2 3M321 93l2-2-2-1-2-2-1-2 2 0 1 3 1 2-1 2-1 2M301 126l-3 1 1 2 0 3 3-1 1-2-1-2-2-2-2 2-2 0M388 244l0 3 1 2 3 0 2 0 1 2 3 1-2-2-2-1-2-2M377 160l2 0 2-2 2-1 0-3-2-1-2 0-2 1-1 3 0 2M205 135l-1 2 0 3 2-2-2 1-1 3-2 1-1 3 0 2-3 1M279 182l-2 2-2-1-1-3-1-2-3-1-2 0 2 2 0 2 1 3M393 88l-3-1-2-1-2-1-2 0-2-2 2 0 2-2 2 1 1 2M254 167l-1 2 1-2 1-2-1 2 2 2 1 3 0 2 1 2 0 3M286 146l-1 3 3 0 2 1 1 2 2 2 2 1 2 1-1 2 2-1M191 188l0-3 2-1 1-3 2 1 3 1 2-2 2 1 1 2-3 2M212 184l3 0 0-2 2-1 0-3 0-2 1-3 2 2 2-1 0 2M177 171l3 0 2 0 3-1 2 2 0 2 2 2 1 2 2-1 3-1M345 216l-1 2 2-1 1-2-3-1-2 1 0-3 0 3 0 2 2-1M326 121l2 2 2 2 3-1-2-1-1 2-1 3 1 2 1 2 0 3M245 201l2-2-3 0-2 0-3-1-2-1-2 1-1 2 1-2 1-2M309 121l3 0 2-2 0-2 1-2 1-3-1-2-2 0-1 2 0 2M227 157l0-2-1-2 1-2 2-2 0-3-2 0-2 2 0-2 2 0M192 103l2 2-2 1-2 2 0 2 1-2 3 0 2 0 1 2 3 0M305 127l-2-2-2 1-1-3 1-2 2-1 2-1 2 1 3 0 0-2M347 102l-3-1-1-2 0-2-1 2 0 3-2 1 0-2-2-1 0-3M349 128l3 0 1 2-1 2 2-1 2-1 2-2 1 2-2 2 1 2M389 113l3 1 2 0 0 2 0 3 1-3-2 2 0 3 0 2 2 2M331 206l-2-2-1-2 0-2 0-3 3 0 0 2 1 3-2 1-1-2M336 121l-1 2-2 1-2 1 0 3 2 2-1 2 3 0 1 3 0 2M299 192l0-2 2-1 3-1 1-2 1-2 2 0 3 0 0 2 3 0M330 249l0-3 2-1 1-2 2-2 1-2-2 0-2 2 3 0 2 2M315 120l-2 0-3-2-2 0-2 2 0-2-2-2-2-2-1-2 2-2M364 195l3 1 2-1-1-2 2 0 3 0 2 1 2 1 0-2 2-1M209 181l-1 2-2 1-2-2-2 1 1-2 0-3-2 2 0 3-2 0M216 180l2 0 3 0-3-1 3 1 1 2 0 3 2 1 1 2 0 3M362 140l-1-2 0-3 3 0-3 0-1-2-2-1-3 1-2 1 2 1M298 80l-2 0-3 1 0 2-2 1-3 0 0-3-1-2 0-3 2 1M380 113l-1 3 1 2 2 1 0 3 2 1 3 1 1 2 0-3 3 0M240 132l2-1 2-2-2-1-2 2-2-1 2-2 2-1 2-2 1-2M375 184l2-2 0-2 2-1 3 2-1 2 1 3 3 0 2 0 0 3M325 158l2 2 2 1-1 3-1 2 2-1 1 2 0 3-3-1-2 0M357 79l2-1 1 2 1-2-1-2-1-3 2 1 2 0-1 2M250 112l2 0 0 2 2 2 3-1 2-2-1 3 3-1 2-1 2 1M244 131l-2 0-2-2 3 0 0-3 3-1 0 3 2 0-1-3 0 3M305 138l2-2-2 1-2-2-1-3-1-2-3 0-2 0 0-2 2 2M356 89l2-2 1-2 1-2 2-2 0-2 0-3-2-1-2 0 2-1M284 137l0 2-1 3 2 1 0 2 2 2 3-1 2-2 2 2 1 2M376 152l2-1 2 0 3 0 2 0 1-3 3-1 2 1-2-2 2-2M275 234l-2 1-3 0-2-2-2-1 1-3 2-1-1-2 0-2 2-2M190 119l-2 1-2-2-1-2 0-2-1-3 1-2-2-1-3 1-1-2M381 186l-3-1-1-2 1-3-3 0-1 2 0 3-2 2 0 2-1 3M193 199l-2 1 1-2 0-3 0-2-1-3-1-2-2-2 2-1M349 129l2-2 1 3-1 2 1-2 1 2 2 1 2 2 2 1 2 2M329 122l-2 0-3 0 0-3-2-1-3 0-2-1-3-1 3-1 2 0M264 113l2 0 3 0 1 3-2 2-2-1-1-2 1 2-2 2-1-2M372 213l3-1 2-1 1 2-2-1 2-2 1 2 1 2-2 2 1-2M178 141l-3 1-2-2 0-2 1-2 2-1 1 2-1 2-3 0 0-3M364 109l0 3-2 0 0-3-1-2-2-1-2-1-2 2-1 2-2-2M220 115l2-1 0 2 1 3 2 0-1-2-2-2-2 0-1 2-3 1M232 130l-2-2-2 0-3 0-2-1 1-2 1-2 3 0-2 2-3-1M393 123l-2 2 0 3-1-3-2 2-1 2 1-2 3 1 2 1 2 1M335 229l-2 0-2-2-1 2 1 3 2-2 3 0 2-1 2 1-1 2M326 122l-3-2-2-1 2-1 2-2 3 0-1 2-1 2-2-1-2-2M375 118l0 2 0 3 0 2 0 3 0 2 2 0 2-2 0 2 1 3M295 101l2 1 0 3 2 1 1-2-2 0 1 3 0 2 0 3 2 1M389 236l-2 1 2 1-1 2-2-2 1-2 2 0 1 2 2 0 2-2M171 195l-1-2-1-2-2-1-1-2-1 2-1-2 2 1 2 2M350 78l-2 1-2 0-2-2-1-2-2 0-3-1-2 0-3 1 1 2M347 234l-3-1-1-2-3 2 0 2-2 2-3-1 2 2 1 3 0 2M225 175l0-2-1-2 0-3-2-2 2-2 2 1 2-2-2-1-1 3M357 143l-1 2 3-1 2 0 3 1 2-1 2-2 2 0-1-2-2 1M309 146l-3 0-2-1-3 0-2 0 0 3-1 2 1 2-2 1 1 3M329 149l2-2-3 1-1-3-1-1-3-1-2 0-3 1-2-1 1 3M281 201l2-1 0-2 2 0 2 1 0 2 2 3 2 1 2 1 0 3M293 135l-1 2-2 0-3 0 0 2-2 1-2 0-3-1-1-2 2-2M183 172l-2-1-2-1-3 0 2 2 2 1 2 2 2-1-2-2-1 2M387 178l-1 2-2 1-1 2 2 0 2 0 2 2 3 1 1-2 2 2M352 157l1-3 3 0 2 0 1 2 0 3 1 2 1 2 2 2 2-1M383 123l-3 0 0-2 2-2 2-1 1-2-2 0 1-3 0-2 2-2M288 167l-1 2 3 0 2-1-2 2 0-2 2 1 2 1 2 1 3 0M365 156l2 2 2 0 3 1 2 1 0 3 1 2 2-1 2 0 0 2M181 135l0-2 0-2 2-1 0-3 2-1 2-2-2-3-1 3 2 1M252 89l1-2 0 2 0 3 2-2-2 2-2 1 1-2 2-1 3 0M372 212l0 3 2 1 1 3-2 1 2 2 2-1 2-1 0-3 2-1M334 198l-3 0 3 0 0-3 3-1 0-2 1-2 0-3-1-2-2 0M389 184l-2 1-1-2 2-2-3 1 2-2 3 1-2 2 1-2 2 0M347 165l-2-1 0 2 2 1 0 2 2 2 2-2-2-1-2 0 0 2M390 174l2 1 2 1 3 1-2 1-1 3-1 2 2-1-2-2M374 99l-1-2-2 2-1 2-2 0 0 3 3 0 2-1 2 2-2 2M339 150l2 2 0 2 2 2 0 2 2 1-2 1-2 2 2 0 2-2M324 182l0-3 0-2 0 2 2 1 0-3 0-2-2 1 0 3-1 2M355 190l2-1 1-2-2 0 2-1 0 2 2-1 2-2 2 2 2 2M261 112l2 3 2-2 1 2 2 2 1-3 0 3 2 0 3-1 2 1M325 99l1 2-3 2-1-3 0-2 3 0 1-2 2 2 3-1-1 3M323 142l-2 2 2 2 0-3 2-1 1-2 3 1 1-3 2 1 3 0M293 150l2 1 1 3 3 0 2-2 2 0 2 0 3 1-1 2-2 2M349 167l-2 2-2-1 0-3 2 0 2 2-3 0-2-1-1 3 2 1M387 176l0-3 2-2 0-2-1-3-1 3 2 2 1 2 1 2 3 0M387 105l2 2 2 0-2 2-2 1-1-2-2-1-2-1-3 0 1 3M343 144l-2 1-2 2 1 2 2 2 2 0-2 0 0 2 3 1 1-2M261 228l-1-2 1-3-3 0-2-1 0-2 3 0 2 0 1-2 1-2M392 170l-2 1-1 3 0 2 3 1-1 2-1 3-1-3-2-1 2-2M175 131l1-2 3-1 2 1 2 2-2 1-1-2-1-2 2-2 0 3M382 101l1 2 2 2 0 3 0-3 1-2 2-2-1-2-3-1-2 0M305 153l-3 1-2 1-2 1-2 1-1 3 1 2 0 3-1 2 0-2M373 137l-2 1-1 2 0 3 1 2 2 2-2 0-3-1 1-2-2-3M317 232l3 0 2-1 2-2-1-2 3-1 2 0-2 1-2 1 2 2M311 95l0 3-2-1-3-1-1 2-2 1 2-2-2-2 2-2-1 3M384 139l-1 3 0 2 3 0 2-2 2 2 2 0 2-2 3-1M378 128l-1 2-3 0-1 2 0 3-2 1 0 3-2 2-2-1-2 2M314 119l1 2-1 2-2 2-2 2 0 2 3-1 1 2 2 2 1 2M319 184l-1-2-2-1-2 2-2 0-1 3-2 0-2 2-1 2-1 2M390 128l-2-1-2-1-3-1-1 3 3 1-3 0 0-3 2 2 0-2M170 80l2-2 2 0-1 2-2-1 2-2-1-2-1-2 0 3-2 1M290 105l0 2-1 3 2 2 0 2-1 3 1 2 2 2 2 1 3 0M298 142l2 1 0 3 1 2 1-2 1-2-1-2 1-3 2-1-3-1M275 210l0 2-2 3-1-3-1-1-3-1 2 1 3 1 0-3-1-2M383 147l-1-2 1-3 1-2-1-3 3 1 2 0 3 0 2 1 2 2M331 146l0-2 0-2 1-3-2 0-2 0 2-2 2 1 0 3 1 2M358 225l-1-3-1-2-1 3 0 2-2-1 2 0 2-1 1 2 2 1M311 156l-1 2-3 1-2 1 1-3-3 0-2-2-1 3 0 2 1 3M386 142l1 2 2 0 2-1 3-1-2-2 0-3 0-2 2-2-3 0M324 221l2 0 0 2-1-2 0-3-2-1-3 0-2-1 0-2 3 0M395 204l2 2 1 2 0 3 0 2-2-1 2-2-2 1-1-2M384 94l0 3 2-1 0-3-2-1-3 0 2-2 2-1 0-3 0-2M388 85l3-1 1-2 2-1 2 1-1 2-2 1 1-2 2-1M367 139l-2-2 1 3 2-1 2 1 1-3 1-2 0-2 1-3-1-1M356 211l-2 1-2 1-2-1 0 2 2 1-1 2-1 2-2 2-2 1M367 162l-3-2-1 3-2 0-3 1 3-1 2 0 2 1 3-1 2-1M332 196l1-2-1-3-2 1-1-2 2 0-1 2-2 2 2 0 2-1M389 139l-1-2 1-3-1-2 0-2 3-1 2 1-2-1-2-2-2 1M190 125l-2 1-2 2-1 3-2 0-3 1-1 2-3-1 2 2 2-1M356 103l2-1 3-1-2-1-2-2 0-3-1-2-1-2-2 1-2 2M250 212l1-3 1-2 2-2 1-2 0-2 1 2 1 2 2 0 1-2M180 144l1 2 1 2-2 0-3-1-2 2-2 1-2-1-2-2 3 1M270 201l-2 2-1-2 1-3 2-1-2 1-1 3 2 1 3 1 2 0M191 187l0-2-3 0-2 1 0 2-1 2 2 0 3 0-1-3 0-2M283 135l-2 0-3 1 3 0 1 3 3-1 2 0-1-2 2 1-2-1M324 235l-3-1-1 2 1-2 2-2 0-2-2-1 0 2 2 2-2 0M213 87l0 3-1 2 0 2 0 3-2 1 0 3-1 2-1 2 1 2M287 97l-3-1 0-2-3 0-2-1-3 0-1-2 1 2-1 2-2 2M339 177l3 0 2 1 0 3 0 2 2-1 2-1 2-1 2-2 0-3M262 142l3 0 1 2-2-1-1-3-1-2-1-2 0-3 1-2 2-2M369 186l2-2-1-2-1-2-2-2-2 1-3 1 2 2-2 2-3 0M363 109l0 2-1-1-3 0-2 0-3 1-2 0-2-1 0-3-1-2M308 155l2-1 1-3 2-1 2 1 3 1 2 1 2-1-2-1 3-2M191 169l2-1 1-3 2-1 0-3 0-2-1 2 3 0 1 3 2 0M308 91l-2 2 0-3 0-2-2 2 2 2-2 2-1 2 1 2 3 1M389 180l2 2 1-2-2 1-1 2 1 2 2 0 1 2 3-1 2 1M203 108l2-1 2 2-3 0-2 1-2-2-3 0-2 0-3 0-2-1M346 174l-2-2-1 2-2 2-2-2 0-2 3-1 0-2-1-2 1-2M309 100l-1-2-2 0-1 3 1 2 1 2-2 2-3-1-2 1-1 2M271 215l-1-3 3 0-1-2 0-3 0-2 2-2 0 3-2 1 2 2M319 120l2 1 2 2-1 2 0 2 1 3 0 2-1 2-2 1 2 1M295 115l2 0 0-2-1-2-3-1-1 3 1 2 0 3-3 0-1 2M297 151l-1-2-3 0-2 0-3 1-1-2 0-3 0-2-2 1-2-2M180 122l2 2-3 1-2-2-1 2 2 2 1-2 2-1 1 3-1 2M264 191l-1-2 2-2 2 2 2-1 0-3-3 0-2 0-3 1 0 2M174 149l2 2 1 2-1 2 0 2-2 2 0 2 2-1-2 2-2-1M292 128l-1-2 1-2 2-2 1-3 2 1-2 1-3 1 1-3-3 0M312 220l-3 0-1-3-2 2-2-2-2-2-2 2-1 2 1 2 3 0M378 233l1-3 2-2-3 1-2 1-2-2-1-3-2 1-2 2 1 2M365 159l1-2-3 0 2 2-2 1-2 1-3 0-1-2 1-2 2 1M316 147l0 2 1 2-1 2-2-1-1-2-2-2-2-2-2 0-2 1M289 224l1 2-1 2-2 0-2 1-1 2-2 0 0-3-3 0-2-1M209 224l0 2 2 2 0-3 1 2-2 2 1 2 2 2 2 0 0-3M363 206l-1-3-2 1 2 0 3 0 1 2 2 1 1-2 0-3 1 3M353 152l2-1 3 1-1-2-1-3 0-2-2-1-2-1-1-2 2 1M385 92l3 1 2-1 2-1 3 0 2 0 0 2 1-2-2 1M297 161l0-2 2-2 1 2 1 3-1 2-2-1-2 0-3 0-1 2M339 204l-1-2-2-1-2 1-2 0-3 1-1 2 2 2 1-2 1-3M395 199l2-1-1-2-2-1-2 1 2 0-2-2 0-2 2 1 0 3M335 122l-1 2 0-2-2-1-3-1 0-3 0-2-1-3 1-2 1-2M169 119l-1-3 2-1-1-2-2-2 0-2 0 2 2 2 2 1M359 154l-2 1-2-1 1-2 2-2 2 2 1 3-2 2-1 2 2 1M187 147l2 1 2 1 2 2 1-2 2-1 3-1 1 2 2 3 0 2M285 212l-2-2-1-2-2-1-2 0-3 1-2 2-2 1-2 0-3 0M385 99l-2-1 2-1 3 1 2 1 0 2-3 0 1 3-2 1 2-1M294 94l1 2 0 3 2 1 0-2-3 1-1 2-1-3-2-1-2-1M359 85l2 2 3 0-1 2-1 3-1 2 2-1 2 2 1 2 2 0M338 98l1 2 1 2 1-2-1-2 0-3-1-2-1-3 0-2 1-2M274 197l-2-1-2-2-1-2-2-2-1 3-2 1-1-2 0-3 2 0M270 141l-1 2 0 2 0 3-2 0 2 2-2 2-3 0-1-2-2-2M235 183l0 2-3 1 1-2 0-3 3 1 0-2 2 1 0 3-3 0M363 142l-2 0 0-2 1-2 3 0-1 2 1 2 0 3 0 2-2 2M188 125l-2-1-2-2-2-1-1-2 1-2-2-2-2-2-2 0-2 1M307 143l-2 2-2 2 2 2 0 2 1 3-3-1-2 2-2-1-2 1M350 183l-1-2-2-2-2 1 1-2-1-2 0-3-3 0-1-3-3 1M238 193l1 2 0-3 2-1 1-2-1-2 2-1 0-2-1-3 0-2M99 238l1-2 1-3-2-1-2-1 2-2 1-2-2-1-2-2-3 1M376 86l2 0-2-2 1-2-2-1-3 1-2-1-2 0-2 2 0 2M390 75l1 3 3-1 2 1 1-2-2-1-3 1-2-2-2-1M337 231l-1-2 2 1 2 0-1-2 3-1 1-2 2 1 2-1 2-2M307 157l-1-2 0-2-1-2 1-3 1-2-3 1 1 2 2 2 2-1M391 126l-1-2-3-2-1-2-2-1-3-1 2-1 2-2-1-1 0-3M377 120l-2-1 2 0 2 2 2-3 2 0-1-2 0-3 2 1 1 2M361 197l-3 0-2-1-2-2 0-2-2-1-3-1-1-2 2 1 2-1M397 225l-1 2-2-2 0-2-1-2-3 1-2 1-2-2 1-2 1-2M382 227l0 2-2 1-2 1 0 2 3 1 1 2-2-2-1-2-1 3M262 138l-2-1-1-2-2-2-3 0-1 2 1 3 1 2 2-1 1 3M378 153l0-2 1-2 2 0 1 3 0 2-2 2 0 2 2 1-2 1M371 137l-2-2 0-2-3 1-2 1 0 2 2-1 2-2 1-2 3-1M387 245l-1-3-3 0-1 2-1 3-1 2 0 2-2 0 2 1M360 230l-2-2-2 1 1-3-2-2-2 0 0 2 1 2-1 3-2 0M377 102l-1-2-3 0-2 1-1 3-2 1-1 2-2 2 2 1 2 1M376 105l2 2 3 0 1-2 0-3 2-1 1 2 3 0 1 2 1 2M349 238l3-1 1 2 1 2 2-1 1-2-2-2 0-2-1-2-1 2M327 76l2 2 2 0-2 1-2 2-2 2-2 1-1-2 1 2 2 1M379 242l2 2 2 2 0 2-2 2-2 2 1-2 0-3-1-2M210 197l3-1-2-2-2-2-2-1-1-2 2-2 2 0 2-2-1-2M299 195l3-1-2 2 0 3-2 1 0 3-2-1-2 1 1-3-1 3M378 144l1 2 3 1 1 2 1-2 3 1 2 0 3 0 2 1 2 1M394 98l-2-1-2 1-3 0-1 2-3 0 0-2-2 1 1 2 2 1M238 130l1-2-2-2-2-1 0-2 1-2 3 1 2-1 0-3 1-2M249 115l-1-3 2-2 2 0 2-2-1 3-2-1-2-2 2-2 0-2M395 177l-1 2 2-2 1-2-3-1-2-1 1-2 3-2 2 2M272 157l1 2 3 0-1 2-1 2-2 1-3-1-1-2-2-2-1-2M245 222l2 0 2-1 1-2 0-3 2 1 2-2 2-1 2 1 1-2M366 134l2 2 1 2-2 1-3-1-2-1 0-2 0 2-2 2 0 3M395 194l1 2-2 2-1 2 1 3 1 2-2 0-3-1-2 1-3-1M285 217l-2-3 0-2 3-1 2 1 2-1-2-2-2 1-1 2-1 3M358 238l-2-2-2 0-2-1-2-2-3 0 2-1 3-1 0 3-1-2M258 214l-1-2-1-3 2-1 3 0-1 2 3-1 0-2-1-3 3 1M385 96l-1 3-2 0-2 1 2 2 3 1 1-2 2 0 3 1 2-2M203 179l-2-2-1-2 1-3 2 0 1-2 2-2 3 0 1 2 2 2M272 188l0 2 1-2 1-2 2-2 1-3-1-2 1 2 3 0 2-2M326 175l0 3-2 1 0 2 1 2 2 1 0-3 2-1 2 0 2-1M287 203l2 1 2-2-1-2-2-2 0-2 2-2 3 0-1 2 2 1M299 99l1-2 0-3 2 2 2 0 0-3 3 1 1-2 2 1 1-2M346 233l0 2 0 3 1 1 2 2 0 2-2 2-2-2-2-1-3 0M325 206l1 3 2-1 3 0 2-2-2-2-2-1-1-2-1-3 2-1M320 134l2 1 3 0 2 0 3-1 2 0-1-3-3-1-1-2 2-2M368 119l-2-1-2 1-2-2 3 0-2 1-1-2 2-1-1 2-2 1M285 89l1 2 1 3 3 0 2-2 1 3-2 2 1 2-1-3 3 0M253 191l2-1 1-3 2 1 3 0 2-2 2-1 1-2 3 0 2-1M321 171l-2 1-2 2 0 2 2 2 1-2 0-3 0-2 2-1 2-1M270 224l1 2 1 2 1-2 0-3 2-1 0-3 3 1 2 2 1 1M322 134l0 2-2 2-1 3-2-2-1-2 2-2-2-1-1-2-2-3M180 121l2 1 1-2 0 2 0-2-1-2-2-2 0-3 1-2 3-1M250 220l-2 2-2 1-2-1-2 2 3 0-1 2 2 2 1 2 1 2M375 227l1 3 2 2 0 2 0 3 3-1 2-1-2 0-3 1-2 1M313 93l1-3-1-2 2 1 1-2 3 1 2-2 1-2 0-2-3 0M379 163l1 2 1 3-3 0-2 2-2-1-3 1 1-3-3 1 1 2M342 130l-2 2-1 2 3-1 0 3 3 1 0 2 2 2-2 2 0 3M396 78l-2 1-1 3 2 0 1-2 2-1-1-2-2-2-1 2 1 2M338 135l2-1 2-2 2 2 2-2 2-2 1-2-3 0 3 0 2 1M385 84l-2 1 0 2-1 3 0 2 1 2 2 2 2 1 2 0 3-1M340 198l1-2-2-1 0 2-2 2-1-3-3 2 0 2-3 0-2-1M380 76l3 1 2-1-1-3 3 1 2-1-2 1-3 0M397 157l0-3 1-2-2 1-2-2 1-2-1-3 1-2 2-1 0-3M363 192l0 3 1 2 2-1 2-1 2 2 2 0-1-2-2 0-2 0M317 219l-3 0-2 1 1 3 1-2 2 0 2 1-1 2-2 2 1 2M336 239l2 3 1 2-2 0-1-2-2 1-2 1 0 3 3 0-1-2M279 108l2-2 2-1-2-2 2-2 1-2 3 0 0 3 3-2 1-2M348 78l-2-1-2-2-2-1-2 2 2-1 3 0-1 2-2 2-2 1M309 182l1 2-2 2-2-1-1 2-2-1-1-2 3-2 0 3-1 2M266 121l-2 0 2 2 1 2 2 2 0 2-2 2 3-2 1-2-2 2M172 180l0 2 2-1-1 2-2 1 1-2 1-3 0-2 0-3 1-2M321 135l-1-3-1-1 2-1 2-2 1-2-1 2 3 1 1-2 2 2M387 149l-1 3 2 2-3-1-2 1-2 1 0 3 0 2 2 2 0 3M322 82l0-3-1-2-2-2 2-1-2 2-2-1 0 3M345 219l1 2-1 2-2 0-2-2-1-2-2-1-1-3-2 0-1 2M191 174l0-2 2 1 2 2-2 0-2-1-2-2-2-2-2-1-2 1M296 184l1-2 1-3-2 1-2-2 2 2-3 0 1 3-2-2 2-2M201 120l-1-3 2 0 1-3 2 1 1 2-1 2 0 3-2-2-3 1M303 128l2 0 1 1 1-2 0-2-1-3-2-1-2-2-2-1-2 2M390 181l-2 1-2 2-2 0-3-1 3-1 2 2-2-2-2-1-1-2M287 210l2 1 0 3 0 2-1 3 1 2-2 2 1-2 1 2 2 2M339 119l0-3-2-1 1-3 1 3 1 2 2-2-3 1-1 2-1 2M366 132l2 0 1-2-2-2-2-1 1-2 2 1 2-1-2-2-1-2M215 172l-2 2-1-2-1-2-3-1 0-3-1-2-2-1 0-3 1-2M373 202l-2 0-2 2-3 0 3 0 2-2 1-2 1 3-2 2-2-2M346 205l-2-1-2 1-1 3-2 2-1 2-3-1 0-2-2 2-2 1M388 181l-3 0 0 2 0 3-1 2 2-1-1-3 1-2 1-2-3-1M369 102l-2 0-2-1-2-2-2-2-2-1 0-3-3 1 1 3 3 0M185 164l-2-2 0-3 1-2-1-2 0-2 3 0-2-2-1-2 1-3M225 183l-1-2 2-1-2-2 2-1 2 2-2 1 0-2 0-3 2-1M309 118l-2 0-3-2 3 0 2 1 3 0-2 1-3-1 2-2 1-2M238 213l0-2 3-1 2 0 2 1 2-3 0-2-2 0-3-1 1-2M284 85l3 0-2 2 2 2-3 0-2 1 1 2 2-2 2 1-1 3M315 204l-2-1 1-3 1-2-3 0-1-3 3 1 1 2 2 1 2 1M253 153l-2 1-1 2-2 2-1 2 0 2 1 3-1 2-1 2 2-1M191 120l2-2 2 0-1 2-2 1 0 3 0 2-3 0 2 2-1 2M183 81l-3 1 0 3-3 0-2 1-2 0-2 2-2 2-2 0 0-3M385 204l2-1-1 2-1-2-3 2 2-2 1 2 2 2 2 1 1-2M264 151l-2-2 0-2-2-1-1-2 0-3 1-2 1-2 0 2 2 0M330 79l-2 0 1 2-1 2-3 1 2 2 1 2-2 1-1-2 1-3M283 224l2 2 2 1-1 2-2-1-3 1-2-1-2-1 0 2-2 2M266 159l-1-2 1-2 2-1 3 0 2 0 3 1 2-2-3-1 2-1M360 196l0-3 2 0 1-2 2 0 3 1 1-2 2-2 2 0 2 1M302 109l0-2 3-2-2-2-1-2-3 1-2 1-1 2 1 2 1 3M399 128l-3 0 1-3-3 0-2-2-2 1-2 1-2 2 2 2M179 77l2-1 2 1 3 1 2 1 2 2 2 1 2 1-1 3-2 1M340 128l-2-1-2 2-2 2 2 2 0-3 0-2 3 0 1-2 2-2M294 223l1 2 2 2 2-2 0-3 2-2 2-1 3 0 1-1-1-2M373 173l-2-1-2-2 2-2-2-2 0-2 2 0 0 2-2-1-2-1M315 146l2 1 2 0 2-2 1-2 1-2 3-1 1 2 2-1 3 0M383 152l-3 0-2 0 1-2 1-2 2 1 3 0 1 3 0-3 3 0M380 159l0 2-2 2-3 0-1-2-2-1 0-3 1 2-2 1-2 1M364 233l-3 1-1 1-3-1-1 3 0-3-1-2 1-3 2-1-2-2M332 148l-2 1 0 3 2 0-1 2 3 1 2 0 2 1 0-2-2-2M372 181l0 3 1 2 2 0 1-2 2-1 3-1 2 2 1 2-1 3M183 111l3-1 0 3 1 2 2 1 2 1 2 1 3-1-1 3 0 2M368 212l3 1-1 3 1-2 2-2 1-2 2 2 2-1 2 1 1 2M332 125l-1 3-2-1-1 3-3 1-2-1-2-1 1 2 1 2-2 1M359 187l2 0 3 1 2 1 2 1 0 2-3 0-2 2 2-2 2-1M239 77l1-3-2 1-3 1-2-1-3 1-2-1 2 2M331 228l2 2 2 1-2 2-2 1 1 3 2 1 1 2-1 3 2-2M318 138l-2-1-1-2-2-2-2 2 2-2 2 0 1-2 2-2-2-1M247 125l2 0 0 3 0 2 0 3 2 0 2-1 0-3 2 0 2-2M323 138l1-2 2-2 2-2 2 1 3 0 2-1 2 1 1 3 2 1M385 228l1 2 2-2 2 1 0-2-2-2-1 3 2 2 1 2-2 0M253 143l-1 3-3 0-1-2 2-1 2 0 2 2 1-2 1-3-2-1M297 195l-1-2-1-3 0 3-1-3 2-1-1-3-1-2 2-2 3 0M276 176l-1 3-3 0 0 2-2 2-2 1-2-2-2 0-1 2 0 3M380 196l1-2 3 0 2 0 2 2 3-1 2 1 1 2-3 1 2 2M171 98l-3 1 2-2 2 1 2 1 0 2 1-2-2 1-2 2M369 82l-1 2-3 0-1 2-1-3 2 0 0 3 2-1-2-2-1-2M231 180l-1 2-2 0-1 3 0-3 1-2 1-2 1-2-1-3 3 1M268 84l-1-2-3-1-2-1-1-3-1-2 1 2 0 3 1 2M268 181l-1-2 2-2-2 2-2 2-2 0-3-1-2-1 0-2-2 0M389 91l0 2-3 1 0 3-3 0-1-2-1-2-1 1-3 0-2 1M372 96l1 2 1 3-1-2 1-3 2-1-1 2-1 3 3 0-3-1M217 232l3 0 0-3 1-2-1-2-1-3 1-2 2-1-1-2-1-2M347 125l-1-3-1-1 0 2 1 2 1 3 2 0-1-3-2-2 1 3M281 81l0 3-1 2-1 2 0 3 3-1-1 2 2 2 2 1 0-2M286 242l-2 1-1-2-2-1-3 0-2 1-1 2-3-1 0-2 1 1M301 196l1-2 0-3 0-2-3 0-2 0-2 2 1-2-2-3-2 1M351 109l-1 2 1 2-3 1-2 1 1-2 3 0 2 0 3 0-2 2M342 135l-2 1-1 2 0 3 3 1 2 0 2 2-2-2-1-2 2 2M329 79l-1-3-2 0 1 2 0-2 2-2 1 2 1 2-1-2-2 1M344 140l-2-1-3 2-2 0-2 0-2-2-2-1-3 1-2 0 0-3M341 152l-2 1-1-2 2 0 2-1 2-2-2-2-2 0-2 1 2-1M322 132l1 2 0 3 1 2-2 1-2-1-3 0-2 1-1 2-3 0M277 232l-2 1-3-1-2 0-3 0-1 2-2 2-2 1-3-1 3-1M288 183l2 2 1 2 2 1-1 3-2-2 0 3-3 0 1-2-1-3M348 131l2 2 2-1 2 1 3 0 1 2 2-2-2 1-3 0-1 2M355 176l2 0 0 3-2 1 2 2-3 1 2 1-2 2-2-1-3 0M230 181l-2-1 1 2-3-1-2 0 0-2-2-2-3 0 0-2 0-3M175 116l-2 2 0 2 2 2 0 2-2 2 2 1-1 3-2 1 1 2M317 192l2-1 3 0 2-1 3 0 2-1 1-2-2-2-2 2-3 1M209 159l-2-1-1-2 0-3-2 0-2-1-3 0-2 0-3 0-2 1M395 130l-2 2 0-2-2-1 2-1 0-2-1-2-3 0-2-2 2-2M390 200l1-2 1-2 0-2-2-1-2-2 2-1 3-1 0 3 1 2M296 97l2-1 3-1 2-1 1-2 0-3-2-2 2-2 2-1 2 0M365 223l1-2 1-3-2-2-2 1 1 2-2 2-2-1-3-2-2 0M390 195l2-1 1-2-2-1-3-1 1-3-1-2 2 1 3 0-1-2M398 132l-2 2 0 2-3 0-1 2 1 2-3 2-2 0-2 0 1-2M396 113l-2-2 0-2 2-1-1 1 0 3 2 2-1-3-3 0M355 183l-2-1 0 2 2-1-1-3 1-2-1-1-3-2-1 2-1 2M183 200l-1-3 3 1 2 0-2 2-2-2-2 0-2-2-3 0M286 89l2-2 1 2 3 0 0 3 0-3 2 1 1 3 3 0 2 1M307 77l-2-1-3 1 1 2 1 2 3 0 0-2 1-2 3-1 2 0M291 167l3-1 0-2 0-3 1-2-3-1-2 1-1 2 2-1 2-2M283 221l3 0 2 1 1-3 2 1 2-2 2 0 3-1-3 0 2-2M279 192l2 2 2 1 2 2 2 1 3-2-3-1-2-1-2 0 2 1M309 120l-1-2-2-1 2 1 0 3-2 1 1 3 2 1 1 2 3-1M397 99l0-2-2-2 1 2 3-1-2-1-2 2-2 1 2 2M360 188l3-1-2 1-2 2 1 2 1 2-2 2-2 1 1 3 2 1M380 77l-2 0 1-2 1 2-2 2-2 0-2-2-3 0-2-1-3-1M180 133l0-2-3-1-2-1-3 1-2-2 0-2-3-1 3 0 2-1M252 207l-2 2 2 2-2-1 0-3 1-2-2 1 0 2 1 3-2 1M340 201l-2-1-2-2-2 2-2-2 1-2 1-2 2-2 1-2 2 0M383 226l-1 3-2-2-2 0-2 0-3 0 0-2 0-3-3 0-2 1M325 194l-2-1 2 1 1-2 2 1 1-3-3-1-2 0-3 1-2-2M378 167l-2 2 2 2-1 2 2 1 2-1 3 0 1 3 2 0 1 2M259 223l-2 1-3 0-2 2-1 2-1-2-3 0 2-2 2 2-2-1M342 194l2-1 1-2 2 1 1 3 2-2 0-2 2-2 1-2-2-1M340 174l3 2 1 2 0 2 2 2 1 2-1 2-3 0-2-1 2 0M381 147l0 3-2 1 0 3-2 1 0 3-1 2-2 1-2-1-1-2M303 133l2 2 1 2 2-1-2 1 1-2 1-2 2 2 0 2 2 1M172 77l-2 1-2-2 0-3 0 3 1 2 0 2-3 1M265 223l-2-1-1-3 3 1 1-2-3-1 1-3 1-2 3 0 1 3M292 177l-2-1-2 1-2 0-2-2-2-2-2 0-1 2-1 3-2 1M322 241l-2-2-1 3-1 2-2-2-2-1-1-2 3 1 2 1 2 1M203 111l2 2-1-2-2-2-2-2 2-2 2-2 2 0 1 2 2 3M172 85l-2-1-2-2 1 3 0 2-1 3 0 2 0 2 3 0M274 136l1 2-2 1-2 2 0-2 2-1 2 2 1-3 1-2-1-2M393 216l2 2 0 3 1 2-2 1-2 2-2 0-2 2-2-2 1-2M200 99l-2 1-1 2-3 1-2 1-2-2-2-1 3 1 0-2-2 0M190 134l-1 2 3 1 0-3-1-2 2 1 0-2 3 0 0-3 2-2M263 154l-1-2-2-1-1 2 2 1 2 2 3 1 2 1 0 2-1 3M310 134l0-3 3 0-1 3-2 1-2-1 1 2 2 1 2 1-2 2M274 212l1 2 1-2 2-1-2-2 0-2-3 0-1 2-2-1-1-2M367 172l-2 2-2 1-2 2 1 2 3 0-1-3 0-2-2 2-2 1M356 168l-1-3-1-2-2 2-2 2 1 2 2-1-2-1 3 0 2 1M225 194l-1-2-3-1-1-3 1-2-2-1-1-2-2-2 2-2-2-2M228 132l-1 3 1-3 2 1 2 1 2-2 3 0 1-3 2 2 2-1M370 74l3 1 2 0-2-1-1 3 2-2 2-1M375 117l0 2-1 3 0-3 2-1 2 0 2-2-2-1-1-3-2-1M321 128l2-2 2-1 2 1 1 2 1 2 1 2 2-2-1-2-1 2M321 161l-2-1 1-2 1-2 0-3 2-1 1-2 1-2 2-2-2 1M322 195l1-2 2 0 2 2 0-3 0-2 3-1 2 0 1 3-2 1M291 220l2 2 1 2 2 1-2 1 3 1 0-2-1-2 0-3-2-1M299 182l0-3 2 0 1-3 2 0 1-2-2 0-2 2-3-1-2-1M373 76l-1 2-2 2 1 2 3 1-3 0-2-1-1-3-2-1-2 1M238 170l1-2-1-2 1-3 1-2 1-2 1-2-1-3-2-1 0-2M349 173l1 2-1 3 3-1 2 1-2-2 3-1 2 0 0 3 2 2M314 199l2-1 2 0 2-2-1-2 2 0-1 2-1 2-2 1-2-2M241 205l0 3-2 0-1 2-2 1 0-2-3 0-2 0-2 2-2-1M346 135l-1-3-2 0-2 1-3 1-2 1-2 0-3 0 0-2 2-2M314 192l2 0 3 2 2 1 2 1 0 3 0 2 2 2 2-2 2 1M277 81l-2-2-2 0-2 1-2-1-2-2-2-2-2 1-2 1 2 0M356 176l1 2 2-2 1-2 2-1 2-2 2 1 2 0 2 2-2 2M280 119l2-2-2-1-2 2-2 2 3-2-2 2-1 2-3-1-2-1M358 75l2 1 2 1 1 3 3-1-1 3-2-2-1-2 1-2 2-1M332 232l3 0-2 2 1 3 1 2-1 3-2 1 1-2-2-1 1-3M333 95l-2 0 0 3 2 2 1 2 0 2 2 0 1-2 1 2 1 3M346 106l-1 2-2 0-3 0-2-1 1-2 1-2 2-2-1-3-2-2M295 207l-1-2 1-3 1-2-2-2 1-2 3 0 0 2-1 2 2 0M383 123l-2 0-2-2 1-2 0-2 2-1 2-1 2-2 0 3 3 1M227 152l-2 0-1-2 2 0 3-1 2 1 3 0 0 2 2 2 2 2M281 90l2-1 1 2-1 2-2-1 0-3 2 2 2 0 1-2 2 1M316 88l1-3 0 3-2 2 0 2 1 2 2 2 1-3 2-1 2 1M193 102l3 0 2 0-2 2-1 2-1 3-2-1-3 0-2 0-2 2M347 187l-2 1-1-2 1-3 1-2 2-2 1 2-1 3 1 1-1 3M271 181l-3 0 0 2-3-1-2-1-1-3-2-1-2 1-1 2 0 3M275 142l2-1 3 0 2 1-2 0-2-1-2-2 0-2-2 1-3 0M323 85l-3 0-2-2 3 0 2 0 3 0 0-2-2-2-1-2 2-2M260 94l2 2 1-2-2-2-2-1-1-3-1-2-2-1-2 1-1 2M176 92l2 2 3 0-1-2 1-3 0 3-3-1 1 3 1 2 2-2M320 213l2-2 2 1 2 0 1-2-3-1-2 0 0-3-1-2 3 0M386 212l-2-1-3 1-2-1-1-2-2-1-1-3 1-2-2-1-1-2M285 162l-2 2-1 2-1-2 2-1 0 2 3 1 2 0-1-2 3-1M340 246l2 1 3 0 1-2-1-3-1-2 3-1 2 1 1 2 0 3M260 121l-3-1-2 0-1-2-3 1 1 2-2 1-2-1 0-3 3-1M365 160l-1 2-1 2 3 1 1 2-2 2-1-1-1-3-3 1-1 2M255 125l2 0 0-2-2-2-2 1-2 1-2 2 0 2 2 0 2 1M290 133l2 2 1 2 2-1 2 2 0-2 1-2 2-2 2 1 1 2M297 182l-2 1 2 0 1-3-2-1-2-2 0-2 3-1-1-2 0-3M300 138l3 0-1-3 2-2 2 2 0 2-1 3 2 2 0 2 1-2M378 143l-3-2-2 0 0 2 1-2 2 1 3 1-3-1-2 1 1 3M302 142l0 3 2-2-1-2 3 0 2 1 1 2-2 1-3 1-2 0M290 229l0-3-2-2-2 2-3-1 1-2-3-1-2-1 2-2 2 1M375 100l-2-1-3 0-1 2-2 2-2 1-3-1 1 2-2-1 2-2M333 196l3 0-3-1-2 1-1-2 1-3 2 2 3 0-2 2-3 1M341 228l1-3-1-2 1-2-1-3-2 1 0 3 1 2 3 0 0 2M320 147l0-2 2 0-2 1-1 2 0 3-1 2 0-2 0-3-2-2M367 138l1 2 0 3-1 2-1-2-2 1-3 1-2 0-3-1-1-2M322 230l1 2-1 2 1 3 0 2 2-2-2-1-3 0-2 2 0 2M218 135l-1 3-1 2-2 1-2-2-1-2-1-2-2 2-2 1 2 1M356 79l1-2 2-1 0 2-2 2-1 2 0-3 2-2-2-2-1 2M388 77l-3 1 0-3-3-1 3 1 2-1 1 2 2 2-1 2M368 215l3 0 1 2 1-1 0-3 0-2-2-1-3-1-2-2-2 0M378 133l2 0 3 1 1 2-3 1 1-3 2-1 2 1 3-1-3 0M242 191l0 3-2 1-1 2 2 2 3 1 0 2 2-1 2 2 2-1M363 155l-2-2-1-2-1-2 1-2 2-2 2-1-1 3 1 2-1 2M338 231l0-2 0-2 2-2 0-2 1-2 0-3 1-2 2 0 3-1M365 139l2 0 1-2 1-2 3-1 2 0 2-1 3-2-1 3 2 1M303 74l2 1 2 2 0 2 0 3-2 0 2-2 2-1 0-2 3 0M300 158l-2 0-1 3 0 2-3 1-2-2-2 3-2 0-2-1-1 2M172 143l0-2 2 0 3-1 1-2-1-2 2 1 2 2-1 2 2 2M298 172l-2 2-2 2 3 0 2 0 0-2-1-3-2 0-3 0-2-1M174 156l-2-2-2 1-1 2-3 0 2-1 0-2M377 130l1 2-2 2-1 2 0 3 2 1 1 2-2 1-1 3 3-1M289 154l-2 1-2-2-2 0-1 3-1 2 1 2 2-1 1-2 2-2M261 179l0-3 2-1-1-3-1-2 1-2 2-2 2 0-1 2 1 2M360 194l0 3 2 2 1 2-1 2 3 0 1 2 2 1 2 2 0 2M328 137l2 1 2-1 3-2 2 0 3 0-2 2 0 3 0 2 0 3M375 76l2 2 0 2-1 2-2 2 2 2 0 3-1 2-1-2-3 0M313 142l1 2 0 3-2 1 1 2 3 1 1-2 2 1-1-2 2-1M307 201l-3-1-1-2 2 1 2-1 3 1-1 2 2 1 2 2 2-1M330 88l0-3-1-2 0 2-2 2 0 2 3 1-3 1 0-2 0-3M285 241l1-2-1-3-1 3-2 1-2 1-3 0-2 0-3-1-2 0M389 159l0-2-1 3-2-1 0-2-3 0-1 2-2 0-2-1-3 1M351 126l1 2 2 2 1 2 3-1 2 1 2-1 2 1 2-2 1-2M243 137l-2-2-1-2 1-2 2-1-2-1-2 1-1-3-3 1 2 2M360 100l0-2-1-2 1-3-2-2-2-1-1 3 2 0 1-3-1-2M201 91l2 0 3-1 2 0 2-1 1 2 1 2-2 2-2-1 1 2M185 130l-2-2 0-2-2-2 1-2-1-3 3 1 1 2 2 1 0 3M306 229l-1 2-1-2 1-2 2 2 2-2 0-3 2 0 3 1 2 1M307 87l-2 1-2 1-1-2-3 0-1-2 2-2-1-2-1-2-3 0M304 133l0 3 2 2-1 2 2 0 2 0 3-1-1 2 2-1 2 1M363 155l-2-2 3 1 2-2 2-1 0-2 0-3 0-2-1 1 1-2M338 223l-2 1 0 3 1 2 3 1 2-1 2-1 1-2 0-3-2-2M291 175l2 0 3 1 2 1 1-3 2 1 2 1-1 2-2 2 0 3M325 113l-3 0-2 1 1 2-1-2-2-2-2-1 0-2-2 1-3-1M329 190l1-3 2 1 2-2 2-1 2 1 1-3-3-1 0-2-1-3M365 176l2 2 1-3 2-1 1-2 2-2-1 2-1-1-3 0 2 2M398 149l1-2-1 2-2 0-3 0 2-2 2-2M391 96l2 2-2 2-1-3 2-2 1-2 0 3 3 1 2-1M307 106l-1-2-1-3 3-1 2 1 2 1 0 3-2 1-2-2-3 0M336 186l1-2-1-3 2-1 0 2 0 3-3 0 0 2 2 2-2 1M370 100l1 2 2 1 0 3-1 2 0 2-3 0-2 1-2 1-2 2M308 188l0 2-2 1 1-2 2-2 2-1-1-2 0-3 1-2 3 1M219 140l-2 2-2 1-2 1-1-3-1-2-3 0-1 1 1 2 1 3M383 229l2-2-2 1-1 3-3 0-2 2-2-1 2 2 2 1 3 0M358 76l2-1-2 2-1-2-1 2-2-1 2 0M266 143l-1-2-1-2-1-2 2 1 0-3-2 1-2 2-3 1-2 0M389 88l3 0 1-2 1-2 2 1 2-2-1-2-1-2-2-1M391 90l2 0 2 2 1-2 0-2-2 0-3 1 1-3 2-1-2 2M272 136l2 1-1 3-2 1-2 0-2 1 1 3 1-3 1-2 1-2M296 153l-2 0 0 2-3-1-2-1 0 2-2-2-1 2 1 2 3 0M279 138l0 2-1 3-2 1-1 2-2 2 3 0 2 0-2 0-2-1M198 171l-2-2 3-1-2-2-1-2 1-2-2-2-2 0 0 3 1 2M279 74l-1 2-1 3 3 1 2-2 1-2-1-2-3 0M386 94l-2-1-2-2-2-2 1-2 2-1 1 2-2 1-1 2-2 2M333 115l-2 2-3 1-2 1 0-2-2 2-2 1 1 2-3 1-2 0M345 186l1 2-2 1 0-2 1-2 1-2 3-1 2-2 0 2 2 2M380 127l1 2 1 3 1-2 0-3-2-1-3-1-1-2 0-2 2-2M390 86l-1-2 2-2 2 2 3-1 0 3 2-1 0-2-2-1-2-1M392 192l2 1 2-1 3 1-2 1-2-2 2-2M227 207l0-2 3 1 2 0 1 2-1 3 3 1 2 0 1-2-1-2M207 113l-1 2-1 3 1 2 0 2 2 2 0 3-1 2-3 0-1 2M384 203l2 1 2-2-2-1 0-3 3 0 1-2 0-2-1-2-2-2M324 149l-1-2-2 1-2 1-2 1 0 3-2 0-2 3 2-2-1-3M305 99l-1 3 3 1 2-2 2 1 2 1 2 1 0 3-2 1-3 0M305 82l-2-2 2-1-1-3 2-1 1 2-1 2 1 3 2-1M291 124l-1 2 0 3-1 2 2 0-2 1-3-1-1 2-2 1-2 0M248 126l-3 1 1 2-2-2-1 2-3 1-2-2-2 2 0 2-1 3M306 74l0 2 2 1 3 0 1 3-1-3-3 1-2 1 0 2M288 186l2 2 2 0 2-2-1-2 3 0 2 0-1 3 1 2-2 0M280 148l1 2 2 2-1 3-2 1-2-1-2 1-2 2-3 0 0-3M376 107l1 2-1 2-3 1 1 3 1 2-3 1 2 1 3 1 1-1M360 91l-2 1-2 1-3 1-2 0-2 1-2 1-2 2-2-2 2-1M186 167l3 1 0 2 1 3-1 1-1-2 1-2 3-1-1-3 0-2M286 214l2 2 1 2 1 3 0 2 0 3-1 2 2 1 0 2 3 0M299 139l1 2 3 1 0 2 2 2 1 2-1 3-1-2 0-3 0-2M264 171l0 3 0 2-1 2 1-2 0-2 2-1 3 0 2-2 1 3M358 229l-2-2-2 0 2 1-2 2-3 1 2 2 0 2 3 1 0-2M295 202l-2-2-2-1-1 3 2-1 2-2 1 2-1 2 0 3-2-2M316 198l-1 2-2 1-2 1 0 3 0 2 2 2 1-2 2-2 2 0M286 241l-1 2-2-1 1-3 2 1 0 2 2 0 3-1-2-1M219 216l2-2 1-2-2-2-1 2-2 1-2 1-2-1-2-2-1-2M238 214l3 0 2-2 0 2 3 2 2 0 2 1 3 1 2 0-2 0M342 73l-2 1-1 2 1 2 1 2 0 3 0 2 0 3 3 1-1-3M380 174l-2 1 2 2-3 0 0-3 2 2 2 1 2-2 2 1-1-3M199 179l2 0-2-1-1-2 1-2-2-1-2-2 2 0 1-3 2 1M322 212l-1 2 0-2 3-1-1-2-2-1-1 3-2 1-1 2-3-1M296 198l3-1-2-2 2-2 2 1 2 1-1-2 1-2 1-2-1-3M322 82l-3 1 2 2 0 3-1 2-2 2 2-2 0 3 1 2 2 0M376 163l-2 1-3-1-2 2-2-1-1 2-3-1-1 3-2 0 2 2M203 149l2 1 2-2-2-2 2-2 3 1-3 1-2 0 1-2 0-3M383 231l-3 1-2 1-2 0-3 0 0 2-2 1-2 1 0 2 2 1M382 104l2-1 1 3 2 2 2 1 0 2-3 1-2-1-2 1-3 0M369 195l-2-1 1-3 0-2 1-2-2-2 0-3-1-2-3 1-1 2M378 120l-2-2-1-1 0-3 2 0 2 2-1 2-2 1 0 2-1 2M300 220l2-1 2 0 3 0-1-2 2-1 0-3-1-2 1-2 0-3M339 114l2 2 1-2-3-1 2-2 2-1 1-2 3-1 0-2-3-1M236 141l1 2-2 2 0 2-3 1-2 1-2 2-2-1 1-2-2-2M363 224l-1 3-2 1-2 0 2-1 0-3-2 0-2-2 0-2 2 2M325 223l-1-2 2-1-1-2 0 2 3 1 2 1 2-1 2 2 2 1M374 198l-1-2 2-2 1-3 0 3 2 1 1 2 2-1 0-3 2 2M379 119l3-1 2 2-2 2-1-3-2 0-3 0 0-3 1-2 1-2M313 161l0 2-3 0-1 2-3 1-1 2-1 2-1 2-3 1-2 1M385 79l0 2-2-1 1-2-2-1-2 2 1 3 3 0 0-3-2-1M320 158l1-2 2 1 1 2 2 1 3 0 2 0 0-2 1-3 1-2M365 194l-2 2 0 2-2 2-1 2-2 1-3-1-2-1-2-2 0-2M374 103l-2 1-2 1-2-1 2 2 1-2-1-3 2-1 1-3 2-2M359 187l1 2-2-2-2-1-1 3-1 2-1 2 0 2-2 0 0-2M313 187l0-3 1-2 1 3-2 1-2 2-2 0-3 0-2 0-1-2M233 187l3 1-1 2-3-1 2-1 3 0 2-1 2 2 2 1 1-2M257 87l-1-2-2 2-1 2 0-3 2-1 2-1 2-1 1-2-1 2M314 93l-2-1-2 0-1 3 2 2-3 1 1-2 0-3 2-2 0-3M358 117l0-3-1-2 0-2 3-1 1-2 2-2 3-1 2 0-2 1M286 143l-1-3 1-2 2-1 2 2 3-1 2 1-3 2 3 1-1 2M328 107l-1 3-2 2-2-1-2 2-2-2 0-3-2-2-2 0-3 1M290 199l1-2 1-2 2 1 1 2 3 0-1-2-3-1 0-3-3-1M335 115l2 0 2 2-1 2-2 2-3-1-2 0-2-1-1 2 0 2M218 152l-1 2-1 3 2 0 3 0 1-2-2-2 0-2-1 2 3-1M382 81l0-3-2-1-3-1-2 2 2 2-1 3 0 2-2 2-2-1M333 112l0-3-3 0 0-2 1-2-2-2-2 0-2 0-3 0 1 2M234 188l2 0 3 0-1 2 0 3 1 2 2-1 1-2 3 0 2-1M267 221l1-3-2-1 0-3 2 2-2 2-2 2-2 2-2 1-1 2M216 231l1-2 3 1 2-1 2 1 2-2 1-2 2-2 1-2-1 2M293 100l-1 3 1 2 1-3 2 2 2 2 0 2 2 2 2-1-1-2M391 186l2 1 2 0-1-2 2 0-1 2-2-2-2 1-2 2 0 2M365 217l1-2 2-2 1-3 1-2 0-2 1-2-1-2-1 2-1 2M190 82l-1-2-3 1-2-1 1 2 0 3 1 2 1 2 2 2-3 1M340 106l-2-1 1-2 2-2-1 2 3 0 2 1 2 2 2 1 1 2M266 167l3 0 2 1 2 2 1 2-2 2-1 2-3 0-2-1-2 2M298 216l-1 3 1 2 2 1 3 1 1 2 0 3-1 2 0-3 2 2M361 208l-2 1 2-2 0-2-2-2-1-2 2-1 1-3 2-1 1-2M277 126l0 3-2 0-3-1-2 0-3 0-1 3 3 1-3 0-1 2M274 151l0 3-2 1-2 1-1-3-1-2 0-2-2 1-3 1 3 1M211 184l2 0 1-3 2 2 1 2 2 2-2 1 1 2 1 2 2 3M391 150l-1-2-2-1-3 0-2 1-2 0-2-3-2 1-2-1-2-2M311 125l2-1 2-2 2-1 1-3-1-2-1-2 0-2 1-3 1 3M292 170l3-1-2-2-2-1-3 0-2 1-2-2 0 3 2 2 2-1M379 109l2 1-1 3-2 1-3-1-2 1-1-2 1-3-1-2-2 2M326 123l1-2 3-1 2 0-2-1-3 0-1-2-1 2 2 0 3 1M339 163l2-2-1 3-1-3 3 0 0 2-2 2 3-1 0-3 0-2M351 178l-1 2 1 3-1-2-2 1 1 2 3 1 2 0 1 3 0 2M196 149l2-2-1-3 2 1 3 0 2-1 2-2 1-2-2-2-2-1M304 200l-2-1 1-2-2-2 3 0 2 1 2 0 3 1 2 0 3 0M282 112l0 3 3 0 0-3 1-2-1 2 2 0 1 2-2 0-2-1M337 108l3 1 2 1 2 2-2 1-3-1-1 3-2 1 0-3 3 0M323 175l2 3-3-1-1-2-3-1-2 1-2 1 0 3 2-1 3 1M329 226l1 2 3 0 2 0-2-1-1-3 1-2 2 2 1 2-2 1M190 169l-1-2 2-1-2-2-2-2 2-1 2 0 3 1 2 1-1 2M291 94l2 1 0-2 2-1-2-1-2-1-3 0 1 2 3 0 2 1M218 149l-2 1-2 1-1 2-2 2 1 2-2 1 1 3-1 2-2-2M292 209l2-1-1-2-1-2-1-3-2-1 0-2 3 0 2 1 2 1M368 175l3-1 2-1 2-1 2 2 0 2-1 3-2 1-2-2-2-1M360 167l0-2 2 1 3 0-2-2 3 0 1 2-2 0-2 2-2 1M267 171l3 0 2 2-3 0 2 2-2 2-2 2-1 2 0 2-1 3M317 230l-1-3 0-2 2-1-1-2 3-1 2 1 2 2 2 1 2-1M308 154l-2 1-2-2-1-2-2-2-1-2-3 0-1 2-3-1-2 2M357 144l-3 1 1 2 0 3 2 1 0-2 2 1 2 1 1 3 0 2M348 141l-2 1 0-2 2-2-2-2 1-2 2 2 2-2 1-2 1-2M286 180l2-1 2-2-1-2-1-3-1-2 2-2 3 1-1-3 3 1M346 157l-3 0 2 2-1 2-2 1-2 2-3-1 0-2 1-3 1-2M384 92l-2 2 2 0 2-2-2 1-1-1-2-3-1 3 0 2 0 2M307 160l-2 0-3 0 0-3-1-2-1 2-3 1-1-2-1 2 0 3M390 114l-2-2-2-1-1-2-1-3 1-2-3 0 0-3-2-1 2-1M337 102l-2 0-1 2 2 1 2 1 3 0 2 1 2 1 2-2 3 2M325 140l-1-2-2 1-3-1-2 0-1 2-3 0-2 0-2 2 2 0M279 89l-2-1 1 2 0 3-3 0-2 0-2 2-2 1-2-2 3 0M303 129l2 2 1 2 0 2-3 0-2 0-1 2-1 2-1 2-1 3M329 95l1 2-2-1-2-1 0-2 2-1 2 1 3 1 2 1 2 1M337 111l1-2 2-2-1-3 2 0 2-2-2-2-2-1-1 2-3 1M303 197l-1 2 1 2-1 3-2 1-1 3-2-2-2 1-2 1 2-1M309 200l-2-2 1-2-3 0-1 2 1 2 2 1-1-2 0-3 2-1M398 231l-1-2 1-2-2 0-1-2 0-3 2-1-2 1M392 132l-2 2 2-1 0-2 1-3 2-1 2 1-1 1 0 3 1 2M392 196l1 2 0-2-1-2-2-3 2 2 2 1 3 0-3 1M333 110l-1 2-2 2-2-1 1-2 1-2-1-3 1 3 0 2-1 3M339 167l-1-3 0-2-2-1-2 2-2-1-2-1-2 2-1 2-2 1M306 235l2-1-1-1 0-3 0-2 2-2 2-1 0-2-2 0-2 1M241 147l2 1 3 1 0-3 2-1 3 0 2 1 2 2 2 1 1-2M383 243l-2-1-1 2 1 2-1 2-2 2 0 2 3 0M367 176l3 1 2 0 2-1 3 1 2-2 2 1 2 2-3 1 2 2M359 148l-2 1 3 0 0 2-2 2-2-2-2 0-2-1 0-3-2-1M235 192l0-3 2 1-1 2 1 2 2-1-2 2-1-2 0-3 0 2M308 236l-1-2 2 1 2-1 2-2 2-2-2-1-1-2-3 0-2-1M386 113l-1 3-1 1-1 3-1 2 3 0 2 0-2 0-2-2 2-2M348 144l3-1 0 3 1 2-1 2 2 1 1 2 1-2 1-2 2-2M395 112l-3-1-2 1-2-1-3 1 0-3 0-2 3 0 2 1 0 3M187 92l-2 0-2-2-2-1 1-3 0-2 1 2-1 3-1 2-2 1M361 119l0 3 1 2-1 3 3-1 2-1 3 1 0 2 1 2 2 2M228 116l-1-2-1-3-1-2-1-2-1-2 2-2 2-2-3-1-1 2M269 210l-2 1 0-2 1-2 1-2 2-2 2 0 3-1 2 0 3 0M387 209l-1 3 1 2 1 3-3 1 0 2-3 0-2-1 0-2 2-2M338 185l-1-2-1-3-3 0 3 2 2 0 1-2 3 1 2-1 2 1M377 78l1 2 0 2-2 2-2 1-3 0-2 2-1-3 1-2 2-1M298 105l0-2-2-2-2-1-3 0-2 0-2 2 0 2-1 3-2-2M336 98l-2 1 1 2 0 3-1 2 1 2 2-2 2 1 2 1 3 0M387 188l2 0 2 2 0 3 2 1 0 3 1 2 2-2 3 0M316 187l-2 0-3 0-2 1 2 2 1-2 2 0 2 2 3 0 1 2M236 165l1-2 1-2-3 1 2 1 1 3 2 1 2-1 3 0 1 2M322 125l-1-3-2 1-2 1-2-1-2 0-3 0-2-2 3 1-3 2M259 141l2 2 1 2-2 2 0-2 0-3 0-2-2-2-3 1-2 1M237 228l-1-2-1-2 0-3-3 1-2 0-1 3-2 1-2-3 2-2M376 182l0-2-1-3-1-2-2-2-1 3-2 1-2-1 2 0 2-1M353 140l-2-2 0 3 0 2-3 1 1 2 2 2 2-1 3 1 2 0M358 182l0 3 0 2 3 1 2 1 1 3-1 2 2 2 3 0 1-2M338 160l-1-2-2-1-3 0-2-1-2-2 0-2-1-3 3 1 0 3M391 189l-2-1-1 3 2 2-1 2-1 2-3 1 2 1 3-1 2 1M196 135l-1-3-2 2-1 2-2 2-1 2-1-3 2-1 1-3-2-1M170 142l0 3 0 2 3 0 2 1-1-2-2 1-2-2-2 2 1-2M293 210l0-3 2-1 2-1 2 2 3 0 2 1 3 0-2-1-2-2M366 183l-1-2 2-2 2-1 3 0 1 2-2 2-2-1 0 3-3 1M259 129l2 2 2 2-1-3 1-2 0 2-1 2-3 1 2 2 0 2M299 125l-1-2-1 2-2-1 0-3-1-2-3-1 2-2 0-2-2 0M361 199l0 2-2 2-2-1 0-3-2 1-3 0 2 2 2 1 0 3M296 88l-2 0-3-1-2-1 1-3 2-1 1-2 1-3 2 1 0-2M379 225l2 2-3 0-1-2 0-2-2-1-2-2-3 0-2 1-2-2M212 118l-2-1-2 0-2-2-1-2-2 1 1 2 2 0 2 1 1 2M347 174l1-3 2-2 1-2-2-1-3 0-2-1 0 2 2 2 3 0M370 91l2 2-2 2-2-2-3 1 0 2-2 1-3 0 1-3 2-1M386 84l0-3 2-1 2 0 1-2 0-3 2 2 1 2-2 2-2 2M338 135l-2 2 0 2-2 1 2 0 0-2 0-2 2-3-1-2-2-1M329 143l3-1 2 1 1 2 2 2 2 1 3 1 1-1 2-2-1 2M335 126l2-2-1-2 0-2 3 0-1-3-2 1-2-2 0-3 1-2M343 130l-2-1-2 2 2-1 3-1 2 1 2-1-1-2-2-1 1 2M312 159l2-2 2-2-2-2 0 3-1-3-1-2 1-2 2 2-2 1M369 114l-2 2-1 3 0-3 2 0 1-3-1-2 2-2 3 1-2-2M306 90l2 1 1 3 2 0-2-1-1-3 3 0-1 3 1 2-1 3M346 92l0 2 2 1 1-2-1-3-3 0-1-2 0-3 2 1-2 1M256 129l2 2 1 2-3 1-2-1 1-2-2-1-1 2-1 2 1 2M338 81l1-2-1-3-2-1-1 3-2 1 2-1 2-3 0 3M296 180l-1 3-1 2-2 0-2 2-2 2 2-1 0-3 3 1-1 2M283 199l2-1 0 2-2-2 2-1 3-1 0-3-1-2 0-3-2-1M365 164l-2-1-2 0 0 2 3 1-1-2-2 1-3-1-1-2 2-2M270 170l1-2 2 0 2 2 2-1 2 0 3-1 2-1 1-2 2-3M197 86l3 2 2 1-3 0-2-1-2 0 0 3-1 2 1 2-2 1M185 167l3 1-3-1-1 2 0 2-1 3-2 2 0 2 2 2 2 0M284 157l1-2-3-1 0 2 0 3 2 2-1 2 0 3 2-1 1 2M388 221l2 1 2-1 2 2-1 3-3 1 2 2-2 2-2 1-2-2M385 224l-2 0-1 2 1 2 1 3 3 0 0 2 0-2 2 1 2-1M379 238l0-3 2 0 3 0-1 2-2 2 0 3 3 0-1-2 1-2M344 80l-2 1-2-2-2-1 1 2 0 3 1 2 2 2 0 2 1 3M339 122l0-3 2-2 3 0-1-2-1 2-3-1 3-1 1-2 3 1M356 149l2 1 1-3 1-2-2-2 0-2-3 0 2 2 1 2 1 3M367 79l2-1 2 1 3-1 1 2 1-3 1-2-3 0 0 3M254 148l2 1 3-1-2-2-1 2 3 1-1 2 3 1 1 2-2 2M341 96l2 0 1-2 0-3-2 2 0 2 2-1 2-2-1-2 0-3M359 158l1-3 2 2-2 1-1 2-3 1-1-2-1 2-1 2-2 2M342 177l0-3 1-2-2-1 2-2 1-3-2-1-1-3 1-2 1-2M383 159l1-2 1-3-3 1-2 1-1 2 1 3 2 0 1 2 2 2M225 156l2-1 2-1 3 0-1-2 2 1 2 0 1-3 2-1 2-1M309 161l2 0 1 3 2 1 0 2 2 2 1 2-3-1-2 1 0 3M343 191l3 1 2 0 3 0 1 2 0 2 0 3-1 2-2-1 0-2M187 93l-1 2-2-1-1-3 2-1-2 1-2-1 2-2 2 1-2-2M289 190l-1-2-1-2 0-3 2 2 2 2 0 2 2 2 2 1-2 2M344 240l1 2 0 2 0 3 3 0 2 0 1-2-2 0-2-1-3 1M266 218l-2-1-1 3 0-3-2-1 0-3 2 0 3 0 2 1 0 2M324 141l-2 1-3 1-1 2 3 1 0-2 1-3 1-2 2 1 2-1M301 193l3 1 0 2 1 2 3 0 2 0 3 1 1-2 1-2 1-2M356 85l-2 0-3 0-1-2-2-1-3-1-2 2-1 2 1 2 3 0M314 182l-3 1-2-2-2-1 1-3 2 2 2 0 2 1 2 2 3-1M339 84l2 0 1-3-2-1 1-3 2 2 2 1 1-2 2 2-2 2M275 194l3 1 1 1 3 0 2 0 0-3-2 0-2 2-1 2 2 1M224 189l-1-2-1-2 0-3 1-2-2 2 1 2-1 3 1 2 2-2M392 82l-1 2-1 3-2-2-1 2 1 2 2 0-1-2-2-1-2 1M279 106l-2 0 2 2-1 2-3-1-2 0 0 2-2 1-1-2-2 2M287 219l1-2-1-2 2-2 2 0-2 1-2-1-2-1-1-2-2-2M359 130l0-3-2 2 0 2 0 3 0 2 3-1 2 0 2 2-1-3M368 82l2-2 2-1 2 2 2-2 2 2 0-3 1-2-3-2 3 1M361 84l-1 2 2 0 3 0-2-2 0-2-1-3-2 2-2 0-2 0M393 242l0 2-3 0-1 3-2 0-3 1-2-1-1-3 1-2 0-2M279 196l0-3-1-2-1 2 1 2 2 1 3 0 1 2-1 2 0-3M310 153l0-3-2-2-2-1-2 0-2 1 0 3-1 2-2 1-3 1M390 183l-3 1 0-2 1-2 1-3-2-2 3 0-1-2-1-2-1-3M368 177l-2-2 2-2 1-2 2-2 0-2-2-2-2-2 2-1 2-2M319 239l2 2 2-2-1-2-2-2 0-2 0-3-2 1-3 1 0-3M311 148l2-2 0-2 2-2 1-2 2-1 2-1 3-1 1 2 0 3M275 159l2 1 2 1-2 1 2 2-1 3-1 2-1 2 0 3 0 2M254 175l1-3 1-1 2 1 1 3-1 2 0-2 1 2-2 0-3 0M250 234l-2-2-3 0 1-3-2 1 0 3 2 1 3 1-1 2 2 2M308 176l0 3 1 2 2 2 0 2 2 0 0-2-3 0-2-1-2 2M299 108l-1 3-3 1-2 1-2 0 1-2 2-1-1 1-2-1-3 0M279 139l2-2 2-2 1 2 1 3 2 1 1 2 0 3-3 0 1 3M377 170l-2 1-1 2 3 0 0 3-2 1-2-1-2 1-3 1 3 1M347 188l-1 3-1 2-2 1-2-2-1-2-3-1-2 2-1-2 1-3M243 124l2 2 2-1 1 3 2 1 2-1 0-3-2-1 0-3 2 1M172 115l2 1 2 1 0 3-2 1 1-2 1 2 2 0 2 1 1-3M368 84l1 3-1 2 1 2 2 2 1-3-1-2-3-1-2-1-1-2M384 231l2 0 1-3 1-1 2 1 3-1-2-2 2-2 2-1 2-2M326 225l-2 1-2-2-3 0-2 2 3-1 2-1 3 0 1-2-1-2M286 158l2-2 1-2 2 1-1 2-2 1-2 1 1-2-1-2-3 0M383 103l-1-2 2-1-3 0-2-2-1-2-2-2-1 2-2 2 1 3M367 131l-2 1-1 2 1 2 2 1 1 3 2 1-1 3-2 1 2 0M300 101l-1-3-2 0-1 2 1 2 0 2 2-1 1-3 2 0 2 2M382 138l2 2 2-2 2 1-2 2-2-1 0-3-1-2-2-2-1-2M343 244l3 0 1 2-2 0 2-2 2 1 0 2-2-2-2-2-1-2M372 144l-3 0-1-2 1-3 1 2 1 3 0 2 2 1 2 0 2-2M213 193l2 0 1 3 2 1 1-2 2-2-1-3-1-2 0-2 0-3M329 142l3-1 0 3-2-1-2 2-2 1-2 1-3 0-2-1 0 3M325 83l3 1 0-2-2-2-2 1-3 0-2 0-1 3 2-1 3-1M182 101l0-3-2 2-2 2 1 2 0 2 0-2 3 1 2 1 0 3M367 229l2 2 0 2-3-1 0-3-3-1 0-2-1-2-3 1-2 0M318 176l-1-3 3 0 1 2-2 2-2 1-1 2-2-2 0-2 2-1M390 129l-1-2-2-2 3 0-1 2 2 2 2 0 2-2 2 0M381 218l0 2-1 2-2-1 0-3-1-2 2 1-2 2-2 1 2 2M275 208l0-2-1-3 2 0-1-3-1-2 2-2 2 2 2-2 2 2M307 189l-2 2-1-2-1-3 2-1 0-2 1-3 3 0 2 1 2 0M313 120l0 3-3 0-1 2-1-2 1 2-1 2-3 1 0-3 1-2M263 119l0 3 1 2 0 2 1-2 3 0 1-2 2-1 2 2 0-3M214 177l-2-1 1 2 3 1 1 2 1 2 1-2 2-2 2 1 3 0M344 94l-2 0-3 0 0 2-2 1-1 2-1 3-2 0 0 3-3 0M359 87l-1 2-2-2-1 2 1 2 2 1 1-2 2-2 0 3 0 2M381 221l-1 2 1-2-1-3 1-2 0-3-2 1 0 3-2 1 1 2M185 131l-2 1-2-1 3 1 2 0-3 0 3 0 1-2 2-2 2-1M348 182l-1-3-1-2-1-2-2-1-2 2-2 1-1 2 2 1 0 2M340 114l0 2 0 3 2-2 1-2 0 3 2 0 1 2 1 3-2 1M307 155l-2-2-2 0-2 2-1 2 1 3-2 1-2-1 3-1 2 0M370 77l-3 1-1 2 2 1 1 2-1 2-2 1 1-2 3 1 0 2M382 165l0-2-1 2-2-1-2-1 0-3-1-2 1-3 1-2 2-1M326 109l-2 0 0 2-1 2-2 2-2 2-2 1 1 3-2 2 3-1M366 112l-2 2-1-2-2-2-2 1-3-1 1-3-2-2-1-2 2-2M385 175l-2 1-3 0 0-2 1 2 3 0 2 0-2 0 1 2 0 2M302 89l-3-1-2 2 2 2-1 2 2 2-2 1-2 2-2 2 1 2M333 138l3 1 1-2 1 3 2 2 2 1 0-3-2 0-2-2-2 2M392 184l3 1-1 2 1 2 3-1-3 1-2 2-1 2M348 184l0-3 1-2 2 0 2-2-2 1-1-3-2 2-2-1 0-3M297 90l-1-2-2 2-2-1-1 2-3 0 2-2 2-1 0-3 2 2M274 185l-3 1-2 0-2 2-2-1-1 3 3 0 2-1 0-2-3 0M323 189l-2-2-2-2 2-1 3-1 2 1 2 2-1 2 2-1 2 0M330 92l2 2 3 1 2 1 1-2-1-3-1 2-3 1 1 2 3 0M392 196l-3 1 2 1 3 2 1 1 2-1 1-2 1-3M359 206l-2 0 1-3-3 0-1 1-2-1-1-3 0 3 2 2-2 1M266 114l0-3 2-1 0-3 2 0 1-3 2-2 1-2 2 1 2 1M333 185l1 2 2 2-2 1-2 2-2 2 1 2 2 2 2-1-2-2M371 204l-2-1 2-1 1 2-3 0 0 2 1 2 0 3 0-3-2 0M262 75l1-1 1 2 1 2 0 3 0 2 1 3M277 183l-1 2 2 0 0 3-3 1 1-2-2-1-2-1-2-1-3 0M388 158l0-3 2-1 2 0 2-2 2-1 3-1-3 0-1 3M180 194l-1 2 0-2-1-3 2-1 2-1 2-2 1-2-2 1-1 2M372 115l3-1-3 0 0 3 0 2 1 3 2-2 2-2 2 2-1 2M172 132l-2-1-1-3 2-1-2 2-2-2 2 2-3-1 3 1M355 199l2 2 0 3-2 2-2 1-2 2-2 2 2 1-1-2-2 2M325 100l0 2 2 0 3 1-2 2-2 1 1 3 2 0 3 0 0 3M355 99l-1-2-1-2-1-2-2-2 0-2 2 2-3 0-2-1-3 0M287 137l-2 2 0 3-2 1 0 3-2 0-3 0-2 1 2-1-2-2M316 220l3 0-1-3 3-1 1-2 2-1 2-2 2 0-1-2-1-3M296 114l1-2 2 1 2-2-1 2 0 3 0 2-2-1-2-2 3 0M378 155l-2-1-2-1 1-2 0-3-1-2 2-1-2-2 1-2 2 2M294 79l2 2 2-1 1-3 1-2 1 2 2 1 3 1-1 3 0 2M321 135l2 2-1 2 1 2-1 2-1-2 2-1 2 2 3-1 2-1M386 182l2-2 0-2 3 0 2 1 3 0 2 0-1-3 0-2M315 114l3 0-3-1-2 0-3 1 0 3-1 2 1 2 2-1 2-2M317 200l1-2 0-3 3 0-3 1-2-1 1 2-1 2 0 3-3 0M344 171l3-1 0 3-2 0-1 3-1 2 1 2 2 1-1 3-2 1M189 89l-1-2 2-1 1 2 2 1 3-1 2 0 0-2 2-2 1-2M319 190l2-2 1-2 2-1-2-2-2 0-1-2-1 2 0 2 2 2M311 98l0-3-1-2 0-3 2-1-1-3-1 2 0 3 3 0 2 1M242 118l-2 1-3-1 1-2-2-1 1-2 2 1 2 2 1-2-1-3M356 227l-3-2-2-1-1-2-3 1 0 2 2 1 3-1-1-2-2-1M191 178l1-2-3 1-1-2-2 1-2 0-1-3-1-2 0-2-1-3M292 88l0 3 1 2 2 1 0 3 2 0 2 3 0 2 3-1-1-2M317 212l1 3 2 1 1 3 3-1 1-2 0-2-2 1-2-1-1 3M213 224l0-3 0-2 2-1 1-3-2-1-2 0 2 0 0 2 3 2M236 134l2 0-1-3 2-1 2-2 2 1 1 3 0 2 1 3 0 2M192 158l0-2 2 0-1-3 0-2 3-1-3 0 0-3 1-2 1-2M213 157l-3 0-2-1-1 2 2 0 0-3-3 1 0-2 3 0 0 2M367 103l2-1 2-1 3 0 0 3 2 1-3 0-2 2-2-1 0-2M337 215l2 2 2-1 2 2 3 0 1 3-2 1-2 2 1 2 2 2M300 185l2-2 2 1 3 1 1 2 2 2 1 2 2 2-3 0-1-2M192 110l0 3 0 2 2 0-1-3 3 0 2-1 0 2-3-1-2 2M356 159l2 0 1-3 2 1 3-1 2-1 3 0 2-1 1 2 1-2M333 169l2 2 2 1 3 1 1 2 2 2 2 1-1 2-1-2 2-1M316 170l-3-1 0-2 1-3 3 2-2-2-1-3-2 0-2-2-2 2M216 128l2 1 0 2 2 2 2 1 1 3 0 2-1-2 2-2 2 0M360 97l2 1 3-1 1-2-1-2-2-2-2 0-3-1 1 2 3 1M244 110l-2 1-3 0-1 2-2 2-3-1-1-2-2 0-2 2 1 2M327 151l-1 2-2-1-2 1-2 1 0 2 2 1 0-3 1-2 3-1M329 86l2 1 2-1 1 2 1 3 3 0 0 2 1 2 2-2 2 2M248 149l1-3-3-1-2-1-1-2 1 2 0-3 3 0 2-1 2 0M397 203l-3 0-1 2 2 2 2 1-2 1-2 1-3 0 0-3-2-1M280 159l3 0-3 0-1 3-2-2-2-2-2 0-3 0 0 2-2 1M241 153l2-2 0-3-3 0-1 2-3 0-2 0-3 0 0-2 2-1M375 210l1 1 0 3-3 1-2-1-1-3-3 0-2 1 0 3-2 1M188 167l3 1 2 0 2 0 3 1 2-2-2 1 2 0 2-2 2-2M337 216l2 1 3 0 1-3-1-2-3-1-2-1-1-2-2 1-1 2M316 171l0 3 1 2 2 0 2-2 2-2 1-2 2-1 3 1 2 1M304 185l0 2-1-2-1-3 0-2-2 0-2-2-1-3-2 0-1-3M166 75l3 1 0 2 2 2 2-1 2 1 2-1M237 113l-3-1-2-1-2 0 0 3 2-1 1 2-1 2 0 2-3 1M300 173l-2-2 0-2-2-2 2 2 2 2-1 2-2 0-3 2-2 0M332 174l-3 0-2-1-1-3-1-2 1 2 3 1 2-1 2 1 3 0M286 169l1-2 3-1-1-2-2-2 1-2-3 0 0 3 0 2-2 2M282 150l2 0 2-2-3 0-1 2-1 3 1 2 2 1 2-2 1 2M196 157l2 1 2-1-1-2 2 1 2 1 3-1 1-3 0-2 1 2M283 204l2-2-3-1-2 1 2-1 2 0-2-1-2 0-2 1-2 2M356 161l2-1 2-2-1-2-2-2-2 1-2 1 2 2 1 2-2 0M281 84l0 2 2-2 2 2-3 1 0 2-2 1-3-1-2 0-2 1M204 189l2-2 1-2 2 0-1-2 1-2 2-1 1 3-1-3-2-1M362 188l0 2 2 0-2 0-3-1 0-2-2-2-1-2-1-3 2-1M343 134l2 0 2-1-1-2-2-2-2 2 2-2 2-1 3 0 2-1M193 194l2-1 2-2 2-2-3 0 2-1 3-1 1-3 2 0-2-1M299 142l1-2 1-3 2-1 2 1 0 3 1-3 2 2 2-1 1 3M320 186l-1-2 2-1 3 0 1-2-1 2-2 0 0-2 0-3 2-1M345 213l-2 2-2 1-1 2-2 2 2 0 0 3-1-3 3-1 0 2M356 146l2-1 3-1 0-3 2-2 1-2 1-2 2-2 2 0 2 2M356 161l3-1-1-3-2-2-2-1-2-1-2-1 2 1-1 2-3 0M295 171l1-2-2-1-1 2 2 2-1 2-2 1-2-1 2-2 2-1M311 73l2 2 2 2-2 2 0 2 2 2 2 1 2-1 1 2M331 239l2 2 2-1 2 1 2 1-1 2 0 2 2-1-2-2 1-2M289 225l0-3 2 2 1 2 1 3 2 1 1 3-2 2-2-1-1-3M385 163l1 2-2 1-2-1-1-2 1-2 2-1 1 2 1 2 3 0M332 235l-3 0-2 0-2-2-2 1-2 1-3 0-2 1-1 2-3 1M234 152l2-1 1 3-1 2-2-1 0 2-1 3-2-1-2-2-2 0M187 120l-2 2 1-3-2 1-3 0-2-1 0 3 0 2 2-1 1-3M332 139l2 0 3 1 2 1 2 1-1 1 2 1 2 1 3-1 2 0M260 123l2 2 2 1 3-1 2-1 2 0 2-2 2 2 2 1-1 2M249 133l-1 2 2 0 3 0-1-3-1-2 2 0 3 1-2 2 2 0M386 241l1-2 1-3 2 1 1-2 2 0-3 1-1 2-2 2 0 2M258 153l3 1 2-1 2 2-2 1-2 0-2 2-2 1 1 3-1 2M277 189l0 3-3-1-2 2 2 2 1 2 1-3 0-2 2-2 1-2M332 142l-1-2 2-1 1-2 0-2-2-2 0-3-2 2-1-3 2-2M360 123l-3 0-2 1 1-3 3 0-1 3 2 2-1-3-2-1-2-2M344 160l2-2 3-1-1-2-1 2-1 3-2 1-2 2-2-1-1-3M310 110l2 1-2-1-2 2-2 1-2-2-1-3-1-2-2-1-3 0M271 158l-3 1-1 2-2 2 2 1 2-2-2-2-1 3 3 0 0-3M397 218l-3 0 3 1-2 2-2 1-1 2 1 3 0 2-2 1M255 112l2-2-3-1-2-1-2-1 1-2 1 2 0 3 1 2-2 1M312 136l-2 0-1 3-1 2-2 1-3 0-2 0 1 3-1 2-2 0M305 162l-1-2 2 0 1 2 1-2 3 0 0-3-3 0-2 0-1-2M291 134l2 1 1 2 0-2-2-1-3-1-1-1 1-2 1-3-1-2M397 86l-1 3-2 0-2 2 0 2-2 1-3 1-2 1-2-2 0-2M375 125l2-2 1-2 2 1 2 2 2 2 1 2 2 0 0-3 3 1M267 172l2 2-3 1 2 2 2-1 1-2 3 0-2-2 0 3-2 0M193 168l2-1 2 0 2 2 1 2 2 1 0 2 3 1 2-2 0-2M238 223l1 2 2 0-2-2-1-2-3 2-1 1-3 0-2 0 0 3M327 92l1-3-2-2-2 1 0-2 1-2 0-3-1-2-2-2 0-2M371 177l2 0 2-1 3-1 2 1 2 0 3 0-1 3-2-2 2-2M304 138l2 0 2-1-2-1-3 0-2 1-2 0 2-1-3 0-2 1M316 169l2-1 2-2 2-1 1-2 3-1 2 0-1 2 1-2 0-3M342 92l-3 1-2 1-2 1-2-1-2 1-2 2 2 1-1 3-2 1M243 139l2 0 2 1 1-2 3 0 0-3 0-2-2 2-2 0 1-2M367 137l1-2 2 1 2-1 0-2-1-2-2-2-2-1-2-2-2-2M299 177l-2 2-3 0-1-3 0-2 1-2 2-2-2 0 2-1 0-2M292 86l-2 2-2 1-2 1-2 2-2 1-2 2-1 2-2 1-3 0M358 234l1 2 2 2-1 2-1 3 1 2-1 2-1 3-2 1M375 196l-2 0 2 1-2 0-3 1 0 2 2-1 0-3 0-2-2-2M307 98l2-2 2 0-1-3 3 0-2-2-1-3-2-1-2 1-2 2M348 164l1 2-2 0-1 3 2 2 2 0 2 1 2 2 3-1 2 2M340 91l2 2 2 1 3-1-1-2 1 2 0 2-1 3-2 1-3 0M366 108l0-2-1-3-1-2-2-1-2-1-2-2 3-1 2 0-2-1M375 235l1 2 2-1 0 2 3 0 1 3 2 1 0-2 2 1-2 1M314 140l-2-2-2-2 2 2 1 2 3 0 0-3 2-2 2 0 3 0M287 122l-2-1 2 1-1 2-3-2 0-2-3-1-2 0 0 3-1 2M317 88l-2 1 1-2-1 3 0 2 2 2-3 0 0-2-3 0-2 1M279 169l-2-2 2 0 3 1 1 2 0 3-2 0-1-2 2 1 3 1M298 237l-2-2-2 1 0 3 0 2-1 3 1-3 3 1 2 0 0-3M198 78l3 1 2 1-1 3 2 1-1 3 1 2-2 0 0 3 3 0M387 105l-2-2 0-2 0-3-2-2-1-2 2-2-1-2-3 0 2-1M279 149l1 2 2 1 2 2 0 3 3 1 2 0-2 2-2 0 0 2M328 80l1 2-2 2-1 1-1-2 1-2 1-2 2-1 2-1-1 1M354 171l0 3 1 2 0 2-2 2-2 2 0-3-1 2-1 3 2 2M308 216l-1 2 0 3-3-1 2 2-1 2 1-2 3 0 1-2 0-3M330 178l2-2-3-1-1-2-3-1-2 0-2 2 3 1-2-2-2-1M202 103l2 1 2 2-1 2 1 1 3-1 2 0 3 0 1-2 2-1M291 105l2 0 1-2-3 0 0-2-2-1-3 0-1 2-1-2 2-2M329 199l1-3 2-2 2 2 2 1-2-1 1-2 0 2-2 2-2-1M316 92l3-1-2-1-1-3 0-2 1-2 1-2 0-3 1-2 3-1M349 176l2 1-2 1 1-2 3 2 2 0 2 1 2 2 0 2 0-2M361 88l-2 1-1-2 1-2 2 1 2-1 0-3 3 1 1-2 1 2" fill="none" stroke="#1c1c1c" stroke-width="0.62" stroke-linejoin="round"/></g></g>
<g clip-path="url(#cpm)"><g transform="scale(0.5)"><path d="M89 233l3 1 2 2 3 2 3 1 2 2 2 3 3 0 3 1 3-1 1-3-1-3 0-3M170 241l1-3 2-2 3 0 3 0 4 0-2 2-2 3 2 3-3 2-3 0-2 2M67 282l3 2 0 3 1 3 3 1 3 1 1 3 0 3-1 3-3-1-3-1-3-2M126 275l-3 2-3 0-3 0-3-2-3-1-3-2-2 2 0 3 1 3 2 3 3 1 3-1M129 288l0 3 0 3-2 2 1 4-3 1-2 3-1-3-2-2-3-2-3-1-3-1M89 251l0 3-1 3-3 0 0 3-3 2-3 0-2 3-2 2-3 1 3-1 3 1M139 238l-2 2-3 2-3 1-3 1-2 3 1 3 1 3 3 1 2 3 3 1 0 3 0 3M93 267l3-2 3 0 3-2 1-3 2-3-1-3-1-3 1-3 2-2 1-3 0-3 0-3M137 293l1 4-1 3 2 2 0-3-1-3-2-3-1-3-2-3 1-3 1-3 3 0M63 288l3-1-2-3 3-1 3-1 3 0 0-3 1-4-3 0-1-3 1 3M77 273l1 3 1 3-2 2-2 3-3 2-3-1-3-1-1-3-2-3 1 3 2 3M107 283l3-1 4 0 0-3 0-3-2-3-1-3 2-2 2-3 1-3 3-2-1-3-2-3M176 245l3 0 4 0-1 3-3 1 3-2 0-3 0-3-3 0-2 3M72 281l0 3 1 4-2 2-2 3-3 1 3-1 2-3 3-1 2-2 4 0 2 2M69 227l0 3 0 3 2 2 4 0 1-2 0-4 0-3 0-3 1-3 2-2-1-3M129 234l-1 4-1 2-2 3-1 3-1 3 2 3 1 2 3 2 3 1-1 3-3 2-2 3M106 234l2-3 1-3 3-1 2-2 4 0 3-1-3 2-1 3-1 3 3 2 3-1M105 261l3 0 3-1 3-1 1-3 1-3 2-1 4-1 0-3 0-4 3-1 2-3 1-3M133 237l2-2-1-3 0-4-3-2-3-1-3-1-3 0-3 0-3-2-3 1-2 3-3-1M140 302l2-2 2-2-2 2 1-3 2-3-3-1M130 283l-3 2-3-1-2-2-3-1-2-3 1-3 2-2 3 1 3 1 3 0 2-2 3-2M105 237l3 2 3 0 0 4 2 2-1 4-3-1-1-3 3-2 0-3 0-3-1-3-2-2M104 263l3 0 3 0 3 1 3 0 4 0 3 1 3-1 3 0 3 0 3 1 3 1 3 1M110 256l-2 2-4 1-1-3-2-3-1-3-1-3 2-3-2-2-1-4 1-3 1-3-2-3M94 259l3-1 3-1 3 1 3 2 2 2-1 3 1 3 3 2 2-2 3 0 3 1 3-1M96 248l-3 0-3-1-1-3-2-3 0-3-1-3 1-3 1-3-3-1-1-3-1-3-2-2M105 244l2 2 2 3 2 2 0 3 0 3 1 3 0 3 0 4 2 1 0 3-2 3-2 2M85 257l3-2-1-3-2-3-3-1-4 1-2-3 2 3 1 3-1 2-3 1-2 3M95 229l-2 2-2 3 0 3 1 3 4 1 3-1 2-2 3-2 2-2 0-3-2-2-3-1M99 260l-4 0-3-1-2-2-3-1-3-1-3-1-2-3-3-1-3-2 2-2 0-3M111 271l3 1 1 3 3 2 3 2 2 2 2 2 2 2 3 2 2-3 2-3 0-3 0-3M127 274l-3 1-3 1-2 2-3 2-3 0-3 1-3-1-2-2-3-2 1-3 2-2 2-2M127 254l-2 3 0 3-1 3-1 3 3 1 3 0 2 3 3 1 3 2 0 3-2 3-1 3M94 279l1 3-1 3 2 3-1-4 3-2-1-3-2-2 3-2 3 1 2-3 3-1M129 242l2 3-2 2-2 3-3 2-2 2-2 3-2 1-4 0-2-2-3-1-3 2-2 1M87 229l-3 2-2 2-3 2-3 1-3 0 3-2 3 1-1 3 0 3-3 3 0 3M137 249l3 1 3 0 2-3-1-3 2-3-2 3-1 3-1 3-3 2 2 3-1 3M109 249l4 1 3 0 3-1 0-3 0-4-1-3-1-3 0-3 0-3 2-3 0-3M100 280l0-3-3-2-3-2-2-2-1-3-2-3-3 1-3 0-2 3-3 2-3 0-3 0M82 220l-3 1-3-2-3 2-2 2 0 3 1 4 2 3-3 2 4 0 1-3 1 3M99 283l-2 2-2 3 1 3-1-3-1-3-1-3-3-1-3 0-3 2-2 3 2 2M95 269l2 3 3 1 0 4 0 3 0 3 3 0 3 1 3 2 2 1 2 3 0 3-1 3M91 284l-3-2-2-2 0-3 1-3 2-3 0-3 0-3 4-1 2-2 3 0 3-2 2-2M148 255l3 1-2-2-3 0-2 2-3 1-4 0-3 0-2 2-3-2M74 220l-3-1 2 2 3 2 1 3 2 2 1 3 3 1 3 1 3 1 3 2 3 0M113 289l0-3-3-1-1-3 1-3-1-4 1-3 1-3 0-3-1-3-1-3-3-1M86 247l-2-3-3 1-3 1-1 3-3 1 3 1 0 3 2 2 3 1 3-1 1-3M97 271l3 1 2 2 2 2 4-1 3 1 3 1 1-2 3-3 0-3 1-3 3-1 2-2M166 246l3 0 3-2 0-3-1-3-1-3-1 3-3 2-2 2-3 1-3 2-3-1M115 293l3 0 1 3 3 1 3 2 1 3 2 2-3-1-3 0 3 0 2-3M131 262l-3-1-4-1-1-2 3-1-1-3-2-3-3 0-3 2 1 3-1 3 3 2 2 3M149 251l0 3 0 3-1 4-3-1-3-1-3 0-3-1-2-3 1-3 0-3-1-3-3-1M169 246l0-3-3-3-3 0-2-2 2-2 3-2 1 3-3 2-3 0-3-1-2-3M117 276l-1 3-3 0-3 0-3-2-3 0-3-2-2 3-3 1-3 1-3 0 0 3-2 2M79 297l0-3-3-2-3-1-3 0-3-1-3-2 1-2 2-3 3-2 3 1 3 2M88 209l-3 1-2-2 1-3 1-3 3-2 3 2 1 2-1 3-4 1-1 3 3 1 3 2M88 215l-1 2-2 3-3 1-2 3 1 3 2 2 3 2 3 1 2 3 3 0-1 3-2 3M132 257l0 3-1 3-1 3-2 3-2 2-3 2-2-2-3 1 1 3 3 1 3 0-1-3M84 259l2 2 2 3-1 3-1 3 0 3 1 3 2 1 4 1 2 2 3 1-2-3M137 256l2 3 4 0-1-3-3 1-3 1-3 2-3 1-3-1-3 1 0 3-2 3 0 3M112 296l1 4 3 1 2 2 0-3-1-3 0-3-3 1 2-2 2 2 2 2M126 225l-2 2 0 3-1 3-1 3 2 2 3 1 3 1 0 3-4 0-3 0-3-1-2 3M115 250l-3 0-2 3 1 3 2 2 2 3 0 3 2 2 4 0 2-1 3-2 2-3-1-3M134 252l-2-3-3-1-1 4-1 2 2 2 3 2-1 3-1 3-2 3-3 1-3-2-1-2M118 302l-3-1 3 1 3 1 2-3 1-3 3 1 1 3-3 2-2-3 3-1M157 238l2 3 1 2 2 3 3 0 3-2 2-2 3-2 3 0 3 1 2-2 3-2M86 255l1 3 0 3-1 3-1 3-3 0-3-1-2 2 0 3 1 3 2 3 2 2 2 2M115 299l1-3 2-2 2-3 2-3 1-3 0-3 1-3 2-2 4 1 2-1-1-3-3-1M132 242l-1 3 2 3-1 3-2 3-3 1-1 3-3 2-2 2-3 2-3 1-3 0-3 0M81 257l3-2 1-3 3-1 3 1 2 2 2 3 0 3-1 3-3 2-3 0-2-2-1-3M144 298l-3 1-2-2-3-1-3-1-3 1-4-1-2-2-1-3-3 1-3 1M69 234l3-1 2-3 3 2 1 3 0 3 1 3 2 3 1 3 3 1 2-2 3 0M179 245l-3 0-2-2-3-2-2-3-1-2-3-1 0 3 0 3 2 3 3 0 2-2-1-4M144 266l4 1-2-3-3-2-3 0-3 1-2 2-3 1-3 0-3 2-3 1-3 1M93 268l-2 2-3 0-3 0-3 0-4-1-3 1-3-1-3 1-1 3-3 2 1 3M81 257l1-3 2-3 2-3 0-3-2-3-2-2-3 1-3 1 1 2-2 3-2 2M87 270l-1 3 0 3 1 3 1 3 3 1 3 1 2 2-1-3 1-3 3 1 3 1M115 292l-3 2 1-3 3-2 1-3-3-2-3 0-3 1-3-2 0-3 2-3 2-2M64 278l3 2 2 2 3 2 3-1 3-1 3 1 3 2-2 3 1 3 2-2 1-3-2-3M134 242l-3 0-2 3-3 1-3-2-2-1-1-3-3-2-2-2-3-3 3-2 2-2 1-3M135 237l3-1 3-1-3 1 0 3 3 1 3 0 3 1 2 3-3-1-3 0M102 234l-3-1-4-1-3-1-2-2-3 0-3-1-2-2-3-1-3-1-3 1-3 1-3-1M76 231l-3 1-4-1-2-2 3 2 3 0-1 3 3 3 1 3 0 3M106 221l-3-1-2 2-2 2 0 4 3 1 3 2 2 2 3 2 2-2 3-1 3 0 4-1M75 247l-1 3 3-1 2 2 2 3 3 1 3 2 2 2 1 3 2 2 1 3 2 3" fill="none" stroke="#9a0d10" stroke-width="2.6" stroke-linejoin="round"/><path d="M89 233l3 1 2 2 3 2 3 1 2 2 2 3 3 0 3 1 3-1 1-3-1-3 0-3M170 241l1-3 2-2 3 0 3 0 4 0-2 2-2 3 2 3-3 2-3 0-2 2M67 282l3 2 0 3 1 3 3 1 3 1 1 3 0 3-1 3-3-1-3-1-3-2M126 275l-3 2-3 0-3 0-3-2-3-1-3-2-2 2 0 3 1 3 2 3 3 1 3-1M129 288l0 3 0 3-2 2 1 4-3 1-2 3-1-3-2-2-3-2-3-1-3-1M89 251l0 3-1 3-3 0 0 3-3 2-3 0-2 3-2 2-3 1 3-1 3 1M139 238l-2 2-3 2-3 1-3 1-2 3 1 3 1 3 3 1 2 3 3 1 0 3 0 3M93 267l3-2 3 0 3-2 1-3 2-3-1-3-1-3 1-3 2-2 1-3 0-3 0-3M137 293l1 4-1 3 2 2 0-3-1-3-2-3-1-3-2-3 1-3 1-3 3 0M63 288l3-1-2-3 3-1 3-1 3 0 0-3 1-4-3 0-1-3 1 3M77 273l1 3 1 3-2 2-2 3-3 2-3-1-3-1-1-3-2-3 1 3 2 3M107 283l3-1 4 0 0-3 0-3-2-3-1-3 2-2 2-3 1-3 3-2-1-3-2-3M176 245l3 0 4 0-1 3-3 1 3-2 0-3 0-3-3 0-2 3M72 281l0 3 1 4-2 2-2 3-3 1 3-1 2-3 3-1 2-2 4 0 2 2M69 227l0 3 0 3 2 2 4 0 1-2 0-4 0-3 0-3 1-3 2-2-1-3M129 234l-1 4-1 2-2 3-1 3-1 3 2 3 1 2 3 2 3 1-1 3-3 2-2 3M106 234l2-3 1-3 3-1 2-2 4 0 3-1-3 2-1 3-1 3 3 2 3-1M105 261l3 0 3-1 3-1 1-3 1-3 2-1 4-1 0-3 0-4 3-1 2-3 1-3M133 237l2-2-1-3 0-4-3-2-3-1-3-1-3 0-3 0-3-2-3 1-2 3-3-1M140 302l2-2 2-2-2 2 1-3 2-3-3-1M130 283l-3 2-3-1-2-2-3-1-2-3 1-3 2-2 3 1 3 1 3 0 2-2 3-2M105 237l3 2 3 0 0 4 2 2-1 4-3-1-1-3 3-2 0-3 0-3-1-3-2-2M104 263l3 0 3 0 3 1 3 0 4 0 3 1 3-1 3 0 3 0 3 1 3 1 3 1M110 256l-2 2-4 1-1-3-2-3-1-3-1-3 2-3-2-2-1-4 1-3 1-3-2-3M94 259l3-1 3-1 3 1 3 2 2 2-1 3 1 3 3 2 2-2 3 0 3 1 3-1M96 248l-3 0-3-1-1-3-2-3 0-3-1-3 1-3 1-3-3-1-1-3-1-3-2-2M105 244l2 2 2 3 2 2 0 3 0 3 1 3 0 3 0 4 2 1 0 3-2 3-2 2M85 257l3-2-1-3-2-3-3-1-4 1-2-3 2 3 1 3-1 2-3 1-2 3M95 229l-2 2-2 3 0 3 1 3 4 1 3-1 2-2 3-2 2-2 0-3-2-2-3-1M99 260l-4 0-3-1-2-2-3-1-3-1-3-1-2-3-3-1-3-2 2-2 0-3M111 271l3 1 1 3 3 2 3 2 2 2 2 2 2 2 3 2 2-3 2-3 0-3 0-3M127 274l-3 1-3 1-2 2-3 2-3 0-3 1-3-1-2-2-3-2 1-3 2-2 2-2M127 254l-2 3 0 3-1 3-1 3 3 1 3 0 2 3 3 1 3 2 0 3-2 3-1 3M94 279l1 3-1 3 2 3-1-4 3-2-1-3-2-2 3-2 3 1 2-3 3-1M129 242l2 3-2 2-2 3-3 2-2 2-2 3-2 1-4 0-2-2-3-1-3 2-2 1M87 229l-3 2-2 2-3 2-3 1-3 0 3-2 3 1-1 3 0 3-3 3 0 3M137 249l3 1 3 0 2-3-1-3 2-3-2 3-1 3-1 3-3 2 2 3-1 3M109 249l4 1 3 0 3-1 0-3 0-4-1-3-1-3 0-3 0-3 2-3 0-3M100 280l0-3-3-2-3-2-2-2-1-3-2-3-3 1-3 0-2 3-3 2-3 0-3 0M82 220l-3 1-3-2-3 2-2 2 0 3 1 4 2 3-3 2 4 0 1-3 1 3M99 283l-2 2-2 3 1 3-1-3-1-3-1-3-3-1-3 0-3 2-2 3 2 2M95 269l2 3 3 1 0 4 0 3 0 3 3 0 3 1 3 2 2 1 2 3 0 3-1 3M91 284l-3-2-2-2 0-3 1-3 2-3 0-3 0-3 4-1 2-2 3 0 3-2 2-2M148 255l3 1-2-2-3 0-2 2-3 1-4 0-3 0-2 2-3-2M74 220l-3-1 2 2 3 2 1 3 2 2 1 3 3 1 3 1 3 1 3 2 3 0M113 289l0-3-3-1-1-3 1-3-1-4 1-3 1-3 0-3-1-3-1-3-3-1M86 247l-2-3-3 1-3 1-1 3-3 1 3 1 0 3 2 2 3 1 3-1 1-3M97 271l3 1 2 2 2 2 4-1 3 1 3 1 1-2 3-3 0-3 1-3 3-1 2-2M166 246l3 0 3-2 0-3-1-3-1-3-1 3-3 2-2 2-3 1-3 2-3-1M115 293l3 0 1 3 3 1 3 2 1 3 2 2-3-1-3 0 3 0 2-3M131 262l-3-1-4-1-1-2 3-1-1-3-2-3-3 0-3 2 1 3-1 3 3 2 2 3M149 251l0 3 0 3-1 4-3-1-3-1-3 0-3-1-2-3 1-3 0-3-1-3-3-1M169 246l0-3-3-3-3 0-2-2 2-2 3-2 1 3-3 2-3 0-3-1-2-3M117 276l-1 3-3 0-3 0-3-2-3 0-3-2-2 3-3 1-3 1-3 0 0 3-2 2M79 297l0-3-3-2-3-1-3 0-3-1-3-2 1-2 2-3 3-2 3 1 3 2M88 209l-3 1-2-2 1-3 1-3 3-2 3 2 1 2-1 3-4 1-1 3 3 1 3 2M88 215l-1 2-2 3-3 1-2 3 1 3 2 2 3 2 3 1 2 3 3 0-1 3-2 3M132 257l0 3-1 3-1 3-2 3-2 2-3 2-2-2-3 1 1 3 3 1 3 0-1-3M84 259l2 2 2 3-1 3-1 3 0 3 1 3 2 1 4 1 2 2 3 1-2-3M137 256l2 3 4 0-1-3-3 1-3 1-3 2-3 1-3-1-3 1 0 3-2 3 0 3M112 296l1 4 3 1 2 2 0-3-1-3 0-3-3 1 2-2 2 2 2 2M126 225l-2 2 0 3-1 3-1 3 2 2 3 1 3 1 0 3-4 0-3 0-3-1-2 3M115 250l-3 0-2 3 1 3 2 2 2 3 0 3 2 2 4 0 2-1 3-2 2-3-1-3M134 252l-2-3-3-1-1 4-1 2 2 2 3 2-1 3-1 3-2 3-3 1-3-2-1-2M118 302l-3-1 3 1 3 1 2-3 1-3 3 1 1 3-3 2-2-3 3-1M157 238l2 3 1 2 2 3 3 0 3-2 2-2 3-2 3 0 3 1 2-2 3-2M86 255l1 3 0 3-1 3-1 3-3 0-3-1-2 2 0 3 1 3 2 3 2 2 2 2M115 299l1-3 2-2 2-3 2-3 1-3 0-3 1-3 2-2 4 1 2-1-1-3-3-1M132 242l-1 3 2 3-1 3-2 3-3 1-1 3-3 2-2 2-3 2-3 1-3 0-3 0M81 257l3-2 1-3 3-1 3 1 2 2 2 3 0 3-1 3-3 2-3 0-2-2-1-3M144 298l-3 1-2-2-3-1-3-1-3 1-4-1-2-2-1-3-3 1-3 1M69 234l3-1 2-3 3 2 1 3 0 3 1 3 2 3 1 3 3 1 2-2 3 0M179 245l-3 0-2-2-3-2-2-3-1-2-3-1 0 3 0 3 2 3 3 0 2-2-1-4M144 266l4 1-2-3-3-2-3 0-3 1-2 2-3 1-3 0-3 2-3 1-3 1M93 268l-2 2-3 0-3 0-3 0-4-1-3 1-3-1-3 1-1 3-3 2 1 3M81 257l1-3 2-3 2-3 0-3-2-3-2-2-3 1-3 1 1 2-2 3-2 2M87 270l-1 3 0 3 1 3 1 3 3 1 3 1 2 2-1-3 1-3 3 1 3 1M115 292l-3 2 1-3 3-2 1-3-3-2-3 0-3 1-3-2 0-3 2-3 2-2M64 278l3 2 2 2 3 2 3-1 3-1 3 1 3 2-2 3 1 3 2-2 1-3-2-3M134 242l-3 0-2 3-3 1-3-2-2-1-1-3-3-2-2-2-3-3 3-2 2-2 1-3M135 237l3-1 3-1-3 1 0 3 3 1 3 0 3 1 2 3-3-1-3 0M102 234l-3-1-4-1-3-1-2-2-3 0-3-1-2-2-3-1-3-1-3 1-3 1-3-1M76 231l-3 1-4-1-2-2 3 2 3 0-1 3 3 3 1 3 0 3M106 221l-3-1-2 2-2 2 0 4 3 1 3 2 2 2 3 2 2-2 3-1 3 0 4-1M75 247l-1 3 3-1 2 2 2 3 3 1 3 2 2 2 1 3 2 2 1 3 2 3" fill="none" stroke="#de1c20" stroke-width="1.4" stroke-linejoin="round"/></g></g>
<path d="M116.0 62.0 114.0 63.7 112.1 65.5 110.4 67.2 108.8 68.9 107.4 70.6 106.2 72.3 105.4 74.0 104.9 75.7 104.8 77.3 105.0 78.9 105.5 80.5 106.4 82.1 107.6 83.7 109.1 85.3 110.8 86.8 112.7 88.4 114.7 89.9 116.8 91.4 118.9 93.0 121.0 94.5 123.0 96.0 124.9 97.6 126.5 99.1 127.9 100.7 129.0 102.3 129.7 103.9 130.2 105.5 130.3 107.1 130.0 108.8 129.4 110.4 128.5 112.1 127.3 113.8 125.8 115.5 124.2 117.3 122.3 119.0 120.4 120.7 118.4 122.5 116.5 124.2 114.6 125.9 112.9 127.7 111.3 129.4 110.0 131.1 109.0 132.8 108.3 134.4 107.9 136.1 107.9 137.7 108.2 139.4 108.8 141.0 109.8 142.6 111.1 144.1 112.6 145.7 114.4 147.2 116.3 148.8 118.4 150.3 120.5 151.8 122.6 153.4 124.7 154.9 126.7 156.4 128.5 158.0 130.0 159.5" fill="none" stroke="#25238a" stroke-width="1.4"/>
<path d="M107.5 62.4 109.2 64.0 111.0 65.5 113.0 67.1 115.1 68.6 117.3 70.1 119.4 71.7 121.4 73.2 123.3 74.7 125.0 76.3 126.4 77.8 127.6 79.4 128.4 81.0 129.0 82.6 129.1 84.3 129.0 85.9 128.4 87.6 127.6 89.2 126.5 90.9 125.1 92.7 123.4 94.4 121.6 96.1 119.7 97.8 117.8 99.6 115.8 101.3 113.9 103.0 112.2 104.8 110.6 106.5 109.2 108.2 108.1 109.9 107.3 111.6 106.8 113.2 106.7 114.9 106.9 116.5 107.5 118.1 108.4 119.7 109.6 121.3 111.1 122.8 112.8 124.4 114.7 125.9 116.7 127.5 118.9 129.0 121.0 130.5 123.1 132.1 125.1 133.6 126.9 135.1 128.5 136.7 129.9 138.3 130.9 139.8 131.7 141.4 132.1 143.1 132.2 144.7 131.9 146.3 131.3 148.0 130.3 149.7 129.1 151.4 127.6 153.1 125.9 154.8 124.1 156.6 122.2 158.3 120.2 160.0" fill="none" stroke="#25238a" stroke-width="1.4"/>
<path d="M116.0 62.0L107.5 62.4M110.4 67.2L113.0 67.1M106.2 72.3L119.4 71.7M104.8 77.3L125.0 76.3M106.4 82.1L128.4 81.0M110.8 86.8L129.0 85.9M116.8 91.4L126.5 90.9M123.0 96.0L121.6 96.1M127.9 100.7L115.8 101.3M130.2 105.5L110.6 106.5M129.4 110.4L107.3 111.6M125.8 115.5L106.9 116.5M120.4 120.7L109.6 121.3M114.6 125.9L114.7 125.9M110.0 131.1L121.0 130.5M107.9 136.1L126.9 135.1M108.8 141.0L130.9 139.8M112.6 145.7L132.2 144.7M118.4 150.3L130.3 149.7M124.7 154.9L125.9 154.8M130.0 159.5L120.2 160.0" fill="none" stroke="#25238a" stroke-width="0.6"/>
<path d="M126.0 84.0 128.2 84.4 130.2 84.7 132.1 84.5 133.6 83.9 135.0 82.7 136.0 81.1 136.9 79.2 137.8 77.2 138.6 75.2 139.6 73.5 140.9 72.2 142.4 71.4 144.2 71.1 146.2 71.2 148.3 71.6 150.5 72.1 152.6 72.4 154.5 72.4 156.1 71.9 157.5 70.9 158.7 69.4 159.6 67.6 160.5 65.5 161.3 63.5 162.3 61.7 163.4 60.3 164.9 59.3 166.6 58.9 168.5 58.9 170.6 59.3 172.8 59.7 174.9 60.1 176.9 60.2 178.6 59.8 180.1 59.0 181.3 57.7 182.3 55.9 183.2 53.9 184.0 51.8 184.9 50.0" fill="none" stroke="#25238a" stroke-width="0.9"/>
<path d="M126.0 84.0 126.8 82.0 127.8 80.1 128.9 78.7 130.4 77.7 132.0 77.3 134.0 77.3 136.1 77.6 138.2 78.0 140.4 78.4 142.4 78.5 144.1 78.2 145.6 77.4 146.8 76.1 147.8 74.4 148.7 72.4 149.5 70.3 150.4 68.4 151.5 66.8 152.9 65.7 154.5 65.1 156.3 65.0 158.4 65.2 160.5 65.7 162.7 66.1 164.7 66.3 166.6 66.1 168.1 65.5 169.4 64.3 170.5 62.7 171.4 60.7 172.2 58.7 173.1 56.7 174.1 55.0 175.4 53.8 176.9 53.0 178.7 52.7 180.7 52.9 182.8 53.3 185.0 53.8 187.1 54.0" fill="none" stroke="#25238a" stroke-width="0.9"/>
<g transform="scale(0.5)"><path d="M230 158l-1-3-1-3 3-2-3-2-2-1-3-1-3-2-1-2 3 0M228 215l3-1 3 0 3-1 0-3-1-3-2-3-3 1-3-2-3 0M254 232l3-2-2-3-3-1-1-3-2-3 1-3-2-2-3 0-3-1M230 140l3 0 3-1 3-1 2-3-3 1-3 1-1 3 3 0 3-1M219 282l-1-3 1-2 1-3-2-3 3 1 1 3 3 1 2 3M239 249l1-3 3-1 1-2 3-1 3 0 3 2 3 1 3 0M248 205l0 3 3 2 1 2 3 1-1 3 1 3 0 3 1 3-1 3M343 127l-2 3 0-3 1-3 2 1 3 1M251 271l3-2 0 3-2 3 3 0 3 2 3 2 0 2-2-2M250 240l-3 1-3-2-1-3 2-2 1-3 3 0 3 0 1-3 2-2M256 203l-1-3 1 3-2 3-2 1 0 3-1 2-3 2-3-1M362 115l3 1-2-2-3-1-3-1 0-3 3-2 3 1-2 2M245 186l3-2 2-2 2-2 2-2 3-2-3 2-3 0-3 0M215 153l1-3 3-1 3 1 3 0 2 2 1 3 1 3 2 2 3 1M272 160l-1-3-1-2-3 1 2 3 2 1 0 3-3 0 2-2M249 296l1-2-1-3 1-3-2-3 1-2 3-2 1-3 3 1 2 1M257 288l1-3-1-2-3-2-3 1-1 2-1 3-3 2-2 2 1 3M238 164l-3 0-2 1-3 1-1 3-3 1 1 3-3 2-2 1-3 2M266 159l3 0 2-2-1-2 3 0 2 0 3 1 0 3 3 2M254 177l0-3-3 0-2 2 0 3-1 3 1 3 3 1 1 3 0 3M208 121l0 3-2 2-3 1-3 1 2 1 3 2 3 1M216 157l0-3-1-3 2-2 2 1 3-1 3-1 3 1 3 0 2-3M244 244l3 1 1-3 3 1 2 1 3 1 3 1 1 3-1 3 0 3M218 158l-1 3-1 2-2 2 2 1-3 1 0 3 3 1 2-2M218 239l3 1 2 1-1 3 0 3 2 2 3 0 3-1 0 3 1 3M232 323l3 0 2 2 1 3-2 3-2-2-3 1-3-1 0-3 3-2M246 171l-3-1-2 2-1 3-3 0-3 0 0-3 0-3-1-3-2-2M285 149l-3 1-2-2-3 1-3 2-2 2-1 3-2 2-2 2M225 271l3-1 3-1 3 0 1-3 2-3 3 0 3 1 1 3-2 2M245 180l-3-1-3 2-3 0-3 1-2 1 1 3 1 3 3 0 3 1M227 214l1-3 3 0 2 2 3-1 1-3 3-2 3 1 2-2 2-1M220 154l-1 3-1-3-3-2-1-2-2-2 0-3 3 0 2-1 3 0M233 113l3 1 3 1 2 2 3 2 1 2 0 3 1 3 2 2 2 3M271 154l-1 3-2 2 1 3 0 3-2 3-1 2-1-3M213 118l-2-2-2-3-3 1-2-2 1 3 2 2 3 0 3-1M231 262l1-3 3 0 2-2 0-3 2-2 2-2 0-3 1-3 3 0M246 117l2 3 1 2 2 2-1 2-3 2-3 1-1 3-1 3M254 229l-2-1-3 1-3-2-2-2 2-2-1-2-3 0-1 3 2 2M246 242l-2-2 0-3-2-2-1-3-1-3-1-3-2-2-3 0-3 0M232 271l-1-3-3-2-2-2-3 1-3 1-1 3 2 2 2 2M222 268l-2-2-1-3 0 3 2 3 2 2-1 3 3 1-1 3M214 192l1 3 0 3 1 3 0-3 2-3 3-1 3-1M252 138l-3-2-3 1-2-2-1-3-1-3-2-2 3-1 3-1M263 302l-2 2-3 2-3 0-3-1-3 1-2-2-3-1 2-2M255 317l2-1 3-1 0-3-1-3-3 0-3-1-3 0-3-1-3 0M220 278l1-3 2-2 2-2 3-1 2 2 3 1-3 2 2 2-2 2M267 162l1-2 2-3 3-1 3 0 1-3 1-2 3-1 3-1 2-3M246 214l-3-2-3 0-2-2-3 2-3 0-1-3-3-1-3 0-3 1M288 149l-2 2-3 1 2 2 0 3 0 3 0-3-3-1-3 0M237 184l-3-1-2-2-3 0-2-2 1-3-3-2-3 0 0 3 3 1M220 233l3 1 1 3 1 2 3 1 2-2 3 0 3 0 0 3 0 3M240 258l3 0 3 1 2-2 3 0 3 1 3 2-1-3-2-3 3-1M238 154l0 3 2 2 1 3 1 3 1 3-3 0-3 2-1 2-1 3M320 132l3-2 3-1 0 3-3 1-3 1-3 1-1 3-3 1-3 1M204 134l-2-3-1-3 3 0 3 1 2-3-2-1 0-3 3 0M223 283l-2 2 3 1 3-1 1 2 3-1 3 0 3 2 1 2M307 142l3 0 3 1 2-2 1-3 1-3-2-3 1-2 3-1 3 1M234 140l-3 1-2-2-2-3 1-3 2 2 0 3-2 2-1 3 0 2M226 266l2 2 3 2 2 1 2 3 3 0 1 3 3 1 0-3-2-3M238 131l-1-3-3 0-3 0-2-2-2-2-2-2-3-2-2-2-1-2M249 287l2 1 1 3 1 3-3 2-2 1-3 1-2-2-2-3-1-2M259 247l-3 1 1 3-2 2 0 3-2 2-2 3-3 0M243 307l0-3-1-3-1-3-2-2-3 0-2-2-2 3-3 0-2 2M210 127l-1 3-2 2-1 3 0 3 0 3 1 2 1 3-1 3-1 3M225 123l-2-2 1-3-3-1-3 0-2 2-1 3-3 1-2-3 1-3M233 251l2-2 3-1 2 2 1 3 2 2-2 3-3-1-2-2-1-3M273 165l-3 0-3 1-3 0-2 2-3 2-3 0-1-3-3 0-2-2M251 285l3 1 3 1-3 1-2 2-2 2 0 3-3 0 1 3 3 0M229 198l3-1 3 0 2-2 2-2 3-1 2-2 0-3 0-3-1-3M232 313l3 1 3-1 2 0 3-2 3-1 2-1 2 2 3-2 3 0M266 160l3-1 3-1 3 0 2 1 2-2 0-3 2-2-2-3-3 1M254 252l2 2 1 3 0 3-1-3-3 1-3-1-2-1-3-1-3-1M229 280l-3-1-1-2-3 0-3 1 2-2 3 2 3 0 3 0M227 229l-3 0-2 2-3 0 0-3 0-3-1-3 1-2 2-2 3 0M274 162l2-2 2-1 3-2-1-3-3-1-2-2-1 3 3 0M233 288l3 1 1 2 2 3 1-2 1-3 1-3 1-3 2-2 3-1M251 138l3 1 0 3-2-3-3 1-3 0-2-2-1-3 2-2M278 164l-1-3 1-3-3-1 0-3 0-3 3-1 3 0M251 253l3-1 3 0 0 3 1 3-3 0-3-1-3-1-2 3-1 2M234 236l-2-2-3-1-3-1 0-3-1-3 1-3-2-2 2-2-2-2M249 231l-1-3 0-3-3 1-3 1-2 1-2-2-2 1-2 3 3 2M256 167l3 0 3-1 3 0 3 0-1 2 2-1-1-2M236 222l2-2-1-3-2-2 1-3 2-2 2 2 3-1-2-3 3-1M258 173l-2-1-3-1-2-2 0-3 1-3 0-3-3 0-1 2-3 1M212 117l2-2 3-1 2-2 2 2 3-1-2 2-3 0-2 2M205 144l2 2-2 3 2 2 2-3 3 2 2 2 3 1 3 1 2 2M291 153l-2-3-1-2 2-2 0-3-2 2-3 1-2 2 1 3M241 210l3 0 2-2 1-3-3-1-2 2-2 2-3-1-2 2-2-2M234 221l2-2 1-3-2-3 1-3 2-2 3-1 3 0 3 1 0 3M262 285l-3 0-3-1 1-3 3-1-2 2-3 0M232 189l1-3-1-3-1-2 1-3 2 3 2 2-1 3-3 1-3 0M274 166l2-2 1-3-3 1-3-1-3 1-1 3-3 1-3 0M262 294l-3 0-2 2 0 3-2 3-2 2 1 2-3 3 2 2 3 2M285 153l-3 2-3-1-3 0-2-2 3-1 3 2 2 2 1 2M228 227l3 1 2 2 3 2 2 2-3 0-3 0-2-2 2-3 2-2M225 291l-1-3-3 0-2 2 2-2 2-2 3-1 1-3-3-2M245 222l-2 2-1 3-3 2-3 0-3-1-2 2-1 3-1 3 1 3M221 262l-3 1 3-1 0 3 3 2 2-2 3 2 3-1 2 0M249 150l2-2 1-3 0-3 2-3-2 3-3 0 1 3-2 2M256 174l1 3-2 2-1 3 0 3 0 3 3 2-3 0-3-1M236 317l3-2 2-2 0-3 3 0 2 2-1 3-2-2-1-3-1-3M352 117l-1-3-1-3 2 2 1-3 2-2 3-1 1 3-1 3M253 147l-1-3-3 0-2 2-2 2-3-1-3 1-1 3-1 3 0 3M233 131l0 3-2 2-3 0-2-2 0-3 2-3 0-3-3-1-3 0M225 153l-3 1-3 0-2 2 1 3 3 1 2 1 3 0 1 3 1 3M236 129l1 2 0 3-3 1 0-3 2-3-1-3-3-1-2-2-1-3M251 132l-2-2-3-1-2-1-2 2-3 1-2-2-3 1-2 2 0 3M221 267l0-3 3-1 3-1 2-2 2-2-1-3 3 0 3 2 1 3M219 239l2-2 2-2 3 0 3-1 1 3 0 3 2 1 3 0 3-2M227 174l-1-3 1-2 1-3 1-3-3 0-2 2-2 2-3-2 0-3M222 181l-3-2 0-3 1-3 0-3 1-2 2-2 3-1-3 1-2 3M222 141l2-2 3 1 2 2 1 3 2 2 1 3 3-1 2 2 3 0M325 130l1-3 2-2 2-1-3-1-2 2-3 0 3-1M340 115l0 3-2 1-3 0 0 3 3 0 2-1 0-3-3-1M226 284l-2-2 0-3 0-3 0-3-3-1-3 1 1-3 3 0M242 204l3 0 2 2 2 3 2 2 1 3 2 2-3 2-2 2 0 3M254 258l-1 2-1 3-1 3-1 3 3 1 3 1 1 2 1 3 2 3M227 174l-2-2 1-3-1-3-3-1-3 1-2 1-2 3-1 3M241 297l2-2 3 0 3-1 3 1 1 2 2 3 3-1 1 2 3 0M208 134l2-2-1-3-3 1-2 0-3-2 0-3 0-3M353 123l-2 1-3 2 2-2 0-3 3 1 3 0 3-1M240 297l2-3 0-2 0-3-1-3-3-1-3 0-2 1-3 0-3 1M253 139l-3 0-3-2-2-1-3-2-2-2-3-1-3-1M253 173l-1 3-3-2-3 0-1 3 1 3 3 1 2-1 0-3-3 0M213 147l-1-3 1-3-1-3-3 0-3 1-2-2-1-3 0-3-1-3M217 164l3 0 3 2 1 3 2 2 2 2 3 1 3 2 1 2 2-2M215 145l-3-1-3-1 1 3-2 3-2-1-2-3 0 3 0 3M253 208l3-1-3 0-3 0-3 1-3 1-1 3 0 3 3 0M225 245l-1-3 3-1 0-3-1-3 0-3-3 0-3 1 0 3-1 3M229 309l3 0 2 1 2 3 2 2-1 3-2 2-3 1-2-2-1-3M225 223l0-3 1-3 2 2 0-3-2-1-3 2 1 3 0 3 2 2M201 146l2 2 2 3 3 1 1-3 3 0 3-1 1-3 3-1M358 110l-2-2-1 2 0 3-1 3 1 3-2 3-1 3M224 158l3 2-2 2-2 3 1 3 3 0 2 2 0 3-1 2-2 3M367 105l-3 0 1 3-2 1-2 3-1 3 2 2 3 0 2-3-1-2M260 256l-2 2 0 3 0 3 1 3-3 0-3 0-2-2M217 214l3 1 3 1 2 2 2 2 3 1 0 3-1 3 1 3M255 249l-3-1-3-1 0-3 2-2-1-2 0-3-1-3 3 0 3 0M246 213l-1 3 1 3 0 3 2 2 2 2 2-2 3-1 2-2M225 200l-3 0-3 1 2 2 0 3-2 2-3 0 2-2 3-2M217 190l1-3 3-2-1-3 3 0 1-3 0-3 0-3 3 0 3 0M220 179l-3-1-2 3-1 2 3-1 3-1 3 2 1-3 3-1M249 182l2 2 3 0-3-1-2 2-3-1-3-1-1-3 3-1M204 148l-1 2 0-3 3 0 2-2 3 0 3 2 2 1 2 3M249 121l0-3 0-3-1-3 0 3-2 3-2 2-2 2-2 2M242 157l2 3-1 3-1 3-1 3 2 2-3 2 0 3-3 0-1 3M245 285l-3 0-2 2-3-1 0-3-1-3-3 0-3 0-2-2-3-2M220 205l0 3-2 3-2 2-1 3 0 3 2 3 0-3 0-3M238 135l0 3 3 2 3 0 3 1 0 3 1 3-2 2-2 3-3 0M258 242l-3 1-3 0-2-2-2-2-1-3 2-2 2-3 1-2-1-3M258 304l-3-1 2 3-3 1-3-1-3 0-1 3-2 2-2 2-1-3M274 162l-2 3-3 1-1 3-3-1 0-3-2-2 0-3 1-3M243 185l1 3 3 1 2 2 3-1 2-2 3-1-3 0-3 1M243 215l-1 3 3 1 2 2-2 2 0 3 0 3 3 2 0 3 1 2M216 123l-3 1-2 1-3 1-2 3-2 2-2 2 3 1-2-3M257 274l3-1-3 0-2 2-3 1-3-2 0-3 0-3 2-2M203 123l2-2 1-3 1-3 1-3 2 2 3 2 0 3-2 2M232 275l2-2 1-3 0-3 1-3 2-2-1-3-2-3-2-2 0-3M237 162l-3 0-2-1-2-3 0-3 2-3 0-2 3-2 2-2 3-1M234 166l2 2 3-1 3 0 3 1 3 0 1 3 2 2 2 2 3 2" fill="none" stroke="#25238a" stroke-width="1.2" stroke-linejoin="round"/></g>
<path d="M104 70 C100 58 112 54 118 60 C124 66 112 76 106 72 M110 62 C116 58 126 62 124 72" fill="none" stroke="#25238a" stroke-width="1.2"/>
<path d="M124 158 C128 165 128 172 131 182" fill="none" stroke="#1f2a55" stroke-width="1.1"/>
<path d="M129 132 C135 138 137 146 135 152 C133 160 139 166 140 172 C141 178 137 182 142 186 M132 136 L139 138 M134 146 L140 149 M135 156 L141 158 M138 166 L143 168" fill="none" stroke="#5ab8e2" stroke-width="1.2"/>
<rect x="105.6" y="40.5" width="32" height="14.5" fill="#fff"/>
<text x="112.20" y="51.00" font-size="9.0" fill="#25238a" font-weight="bold" textLength="19.30" lengthAdjust="spacingAndGlyphs" stroke="#25238a" stroke-width="0.3">tRNA</text>
<rect x="67.8" y="146.2" width="32.2" height="14.2" rx="3" fill="#fff"/>
<text x="71.50" y="157.30" font-size="9.0" fill="#d31f26" font-weight="bold" textLength="25.50" lengthAdjust="spacingAndGlyphs" stroke="#d31f26" stroke-width="0.3">RPS15</text>
<rect x="148.5" y="136.6" width="32.6" height="14.4" rx="3" fill="#fff"/>
<text x="152.70" y="147.40" font-size="9.0" fill="#41abe0" font-weight="bold" textLength="25.00" lengthAdjust="spacingAndGlyphs" stroke="#41abe0" stroke-width="0.3">mRNA</text>
<text x="75.60" y="111.30" font-size="8.6" fill="#d31f26" font-weight="bold" textLength="26.60" lengthAdjust="spacingAndGlyphs" stroke="#d31f26" stroke-width="0.35">Pro131</text>
<path d="M92.5 112.6 L103.0 119.5" stroke="#d31f26" stroke-width="1.5"/>
<path d="M106.4 121.8 L99.9 120.3 L102.9 115.9 Z" fill="#d31f26"/>
<rect x="22.30" y="36.60" width="177.10" height="148.30" fill="none" stroke="#222" stroke-width="1.0" />
<rect x="9.50" y="20.80" width="73.50" height="73.40" fill="#fff" stroke="#333" stroke-width="1.4" />
<g clip-path="url(#cpi)"><g transform="scale(0.5)"><path d="M125 86l0-3 3 1 2-1 2 0 2-2-1-3-2 0-2 1-2 1-3 1M138 106l-1 2 1 2-2 1-1 2 1 3-2 1 0 3 0 2 0 2 0 3M92 67l1 2 0-2 0-3-2-1-3-1-2-1-1-2 0-2 2-2 2-1M56 47l2 0 1 2 2-1-3 0-2-1 0 3-2 0M142 125l3-1 0-2 0 2-1 3-1 2-1 2-2-1-2-1-2-2M90 124l-2 0-1-3-2-1 1-2 2 1 0-3 0-2 1-2 2 1 2 1M53 61l-2-1 1-2 2-1-2 2-2-1 0-2-2-2-1 2 2 0 2-1M111 109l2-1 2 0 0 3-2 1-1 2-3 0 2 2 2 1 3 0 0 2M107 106l3 0 2 1 2 0 2-1 0-2 0-3 1-2 2-1 2-1 2-2M92 69l-2 2-2 0-2-2-2-1-2 2-2-2-2-1-2-1-2-1 0-3M89 89l-2-2-2 1 2 1 3 1-1 2 1 2-2 1-2 1-2 1 0 3M119 77l-2 1 2 0 2 0-1-2-2-2-2 0-1 3 2 1-2 2-2-1M53 89l0-2-3-1 0-2-2-2 2 2 2-2-1-3 3 0 2 2 2 0M132 105l1-2 1-2-3 0-2-1-2 2 2-1 3 0-1-2 2-1 2-1M152 135l-2-2-3 0 3-1 0-2 2-1 2-1-2-2-1-2M66 90l-1 2 0 2 1 2-3 1-2 0 2-2 0-2-2-1-2-2M57 76l1 3-2 2-2 1 3-1 1-2 3 0 2-1 1 2 2 1 2 1M95 67l3-1 2 1 2 2 1-2 3-1 1-2 2-1 2-1 2 0 3-1M123 114l2-1 2 1-2 1-1 2-2-1 3 1 2-2 1-2 2 0 2 2M95 85l1-2 0-2 2-2-1-3-2-1-1-2-1-2-1 1 1 3 2 0M117 107l-2 2-2 1-2-1-1-3 2 0 3 0 2-1 2 1 3 0 1 2M50 125l-2 1-2-1-2 0 2-1 1-2 1 2 2-2 1-2 1-2M81 124l1 2-1 2 2 2 1 2 0-2 2-1 2 1 3-1 2 0 2-2M156 127l0-3 0 3-1-3 0 3-1 2 1 2 2-1M70 75l2 0 3 0 2 0 1 3-2 1-2 2-1 1 2-1-1 2-2 2M128 101l-1-1-2-2-1-2 1-3 0 3-1 2-3 0-2 0-1 3-2 1M133 89l2-1 2-1 0-2 1-2-2-1-1-2-3 0-1 2M90 108l-1-2 0-2-2 1 2 2 2-1 0 2 1 2 0 3M117 76l2-1 0-3-2 0 0-3-1-2-3 0 0-3-2-1M61 102l0 2-3 0 0-2 0-2-3 0-2 0-2 1-1 2-2 1-2 1M91 82l-1 2 1 2-2 0 1-2-3 0-2 0 1 3 1 1 3 1 2 0M39 113l0 2 2 0 2 0 1-3 3 1 0 2-1 2-2-1-3-1-2 2M105 138l-3 0-2-1-2-1-1-2-2 1-2 2-2-1-2 1-1-2M110 81l-1-2-1-2 0-3 2-1 1-2-2-1 1 3 0 2 1 2 0 2M128 108l2 2 1 2-2 1 2 1 0 3-2-1 2 2 2 0 2-2 2 2M112 139l-2-1 1-3 2 2-1 3 2-1-1-2-2-1M48 130l-2-1 3-1 1 2 2 0 2 1-1 3-2-2-2 0-3-1 0-2M74 66l1-3-1-2-2-1 1-2-2 0-2 1 0 2 2 1 0-2-1-2M108 126l-2-2 1-2 1-2-3-2-2 0 0-3 2-1 1-2 3 0-3 0M125 79l-1-2 2-2 2-1 2 1 2-1 1-2-2 2-2 0-2 2M82 57l-2 0-1-2-2-1-2-1-2-1-1 2-2 1-2-2M57 117l-1 3 2 1 1 2-2-1 1 2-1 3-2-2-2-2 2-1M73 128l-2-1-2-1-2 1-3-1-2 0-2-1 1 2 1 2-2 1M134 86l-1-2-2-2-2 0 0-2-1 2-1 2 2 0 2-1 3 1 2 0M100 66l-1 2-2 1-2 2 0 2-2 1-1-1 1-2 2 2 2-1-2-2M125 113l-1 2-2 2-2-2-2 1-3-1-1 2-2 1-2 0 1 3 2 0M54 65l2 1-1 2 1 3 2 1 3-1 1 1 1 3-2 1-2-2 0-2M145 130l1 2 2 1 2-2 0-2 1-2-3 1-2-1-2 1-1 2M54 103l2 2 2 1 1-1-2-2-2 1-2-1-1 2 0 3 1 2-2 2M57 89l-2 1 2-2 2 0 3 0 2 0 1-2 2-1 0 2-1 2-2 2M106 129l1-1 3-1 2 0 2 1-2 0-3 0-2 1-2 2 1 2-1-2M133 112l1-3 0-2 1-2 1-2 2 2 2 1 1 3 2 1-2 2-2 0M82 86l1-2-3 0-1 2-2 1 0 3-1 1-1 3-2 0 1-2-1-3M39 107l0-2-2 1-2-2 0-2-2-1 0-3-2 2 0 2 3 0-1-2M56 120l0 2 2 0 2 2-2 0 0 2 2-1 2-2-2-2-2-1M120 67l-2 1-1-2-2 1-2-1-1 2-2-2-3-1-1-2-2-1 0-3M55 128l1 2-2 2-2 0-3-1-2 1-2-1-1-2 2-2 1-2 1 2M129 74l0 2 2 0 2-1-2-1-2-1-2-2-1 2-1-2M65 84l0 2 1 3 2 1-1 2 2 1 2 1 2 0 2-1 2-2 2-1M49 118l0-2-1-2-1-2-2-1 0-3 3 1 2 1 2-1 0-2 2-1M102 124l-2-1-2-1-2-2 3 0-1-2-2-1 1-2 2-1-2-2-2 1M97 62l1-2 3 0-3 0-1 2 1 2 2-1 2 0 2-2-1-2M150 129l-1-3-2-1-2 1-2 1-2-1 2 1 2 0-2 2-2 0-1 2M122 75l3 0 0 3 2 0 2 0 3 0 2-1 1 2 0 3 0 2M119 127l3 0-2 2-2 1-2 1-3 0 0 2 2 2-2 1-1 3-2-2M100 99l1 2 2 2 2 0-1 2-3 0-1-2-2-1 0-2-1-3 1-2M83 64l-2 2-2 1-2 1-2 1-2-2-3 1-1-2 0-2-1-3-1-2M122 124l-2 0-2-1-2-1-1-3 2-2-1-2-3 0 3 2 2 0 2-2M89 73l2-2 2-2-3 0-2 0-2 2-1 2-1 2 2 2 0 2-2 2M86 110l-1 2 1 2 2 2 2-1 2-2-1-2-1-2-3 0 0 2-2 2M130 121l2-1 2-1 3-1 2 1 2 1-2 1-2 0-2-2-2 0M54 99l1-2 0-2-3 0-2 1-2 0 1 2-1 2 1 2-2 2-2 1M128 123l-3 0 1-3 0-2-2-2 0-2-2-1-2 0-2 1-3-1-1 1M127 124l-2 1-3 0-2-1 1 2 0 2 0 3 1 2 1 2 2 1 2 1M55 118l2-1 1 2 2-1 0-2-2-1-2-2-2 0-2-1 2-2 1-2M142 123l-2-2-2 2 0 2-2 2-1 2 1 2 1 2-1 2-3 1M79 122l3 0 2 1 1 2 2 2 1 2-1 2 2 1 1 2 0 3M98 71l1-2 1-3-2-1 1-2 0-2 2 1 2 1 1-2 2 0M76 87l-3-1-1-2-1-2-3 0 0-3 2-1 2-2 1-2-2-1 2-2M93 81l2-1 0-3-2 1 2 0 2 0 3 0 2-2 2 1 2 2 1 1M151 130l1 2 1 2 0-2 1-3 1-2-3 0-2-1 1-3 2-1M63 129l-2-1-2-2 2-1 3 1 0 2 2 0 2-2 0-2 2-1M49 92l1-2 2 0 2 2 1 2 2 1 2 1-1 2-2-2-2 0-1-3M77 124l0-2-1-2-1-2-2-2-2 1 1 1-2 1 0 3 2 0 0-2M62 96l-1 2-2-1-2 0-2-2 2 0 1-2-2-2 0-2-2-2M60 97l-2-1-2-1-1-2 0-3-2 2 1 2-1 2 3-1-2-1-3 0M57 102l0-2-2-1 0-3-1-2-2-2-1-2 2-1-1-3 1-2-2-1M105 123l0 2 1-2 1-3 3 1 2-1 2-1 2 0 1-2 2-2 0-2M57 112l1 1 2 2-1 2 0 2 0 3-1 2 1 2 2 1 1 2-1 2M122 74l2 2 2 2-3 0 0 2 2 1 2 0 0-2 2-1-1-2-2-1M84 80l2 1 0 3-1 2-1-2-2-1 2-2-1 2-2 1 2 2 1 2M35 100l-2 1-2-1-2-1 2-1 2 0 2 2 2 0-1 2-3-1M138 85l1 2 1 2 0-2 2 0-2 1-1 2M93 129l-1-2 2-2 2 0 2 2 2-1 1-2-2-2-1 2-2 1-3 1M135 123l-2-2-1-2 2-1 1 2 2 0 2-1 0 2-2 2-3-1M130 104l2 1 2 2 2 0-2 2-1-2-3 0 0 2-3 0-1 2 1 2M133 95l0 3 1 2-2 1-3-1 3-1 2 1 2 2-1 2-1 2-2 0M109 60l2 0 1 2 1 3 0 2 0-2 1-3 1-2 1-2 2 0M50 128l-3 0 1 3 0 2-2 2 0 2-1-2 3 0 2 1M67 128l2-1 2-2 1-2-1-3 2-1 1-2-2-1 1-2 0 2 0 2M106 138l-3-1-2-1 3 1 1 2 1-2M70 70l2 2-2 2 0 2 1-2 2-2 0-2-2-1-2 2-2 1 0 2M68 101l-1-2 0-2 1 2-1 2 1-2 0-2-2-1 2-2 2-1 2 0M88 54l-1-1 2 0 2 0 2-2 0-2 1-2-1 2M81 55l0 3 3-1-1-2-1 2-3 0-1 2 2 2 2-1 2-1 2-1M48 109l-2-1-2 1-1 2 2 1 2 1 2-1 1-2-1-2-2-2-3 0M47 65l-2-2 1-2-3-1 2 2 0 2-2-2 2 2 1 2M47 78l-2 0-1 2-2-1 0-2 1-3-1-2 0-3-1-2-2-1M110 93l2 1 3-1 2 1 2 2 1 2 0 2 0-2 2-2-1-2 2-1M81 91l2 1-2 0-2-2 0 2-1-2 3 0 1-1-1-2-3 0-1 2M40 93l-2 1 1 2-2 2-2 1-1 2 2-1 3 2 2 1 0 2 3 0M72 64l2-1 3 0 2 1 1 2-1 2-1 2-2 2 2-2-2-2 1-2M98 136l1 2 2-1 3 0 2-1 0-2-1-2 1-3 0-2 2-2 2-1M69 114l-2 0 0-2 1-2 2 1 1 2 3-1 1-2 2-1 2 1M116 79l-2 1-2-2-1-2-1 3 3 0 2-1 1 2 2 2 0 2 0 3M105 57l1 2 3 1 1-2 1-2 2 0 2 1 0 2-2 2 1-2M43 131l0 3 0 2 2 1-2-2-1-2M95 87l-1-2-1-2-2-2 0-2-3 0 0-2-1-3-2 0 0-2 1-2M73 92l1 2-1 3-1 2-2 1-2-2-2 0 0 2-1 3 1 2-2-1M126 83l-1 2-1 2-3-1-1-2-3 1-2 1 0 3-1-3 3 1 2-1M97 135l0 2 2 1 1 2 0-2-1 2M148 122l-2 0-2 1-1 2 0 3 1 2 1 2 2 1-3 0M111 65l0 3 2 1-2 1 2 1 1 2 1 2 1 2-1 3 3 1 2 0M42 123l1 2-1 3 2 0 3 0 2 0 1-2 2 2 0 2 1 3M45 112l-2-2-2-1-1-2 0-2-2 1-2-1-2-2 1 2 1 2M61 79l2 3-1 2 1 2 2 2-1 2-1 2 0 2 1 3 0 2M83 87l2-1-1-2-2 1-2 0-1-2-2-1-2 2 2 0 3 0 0-2M112 118l-1 2-2 1-2 0-2-1-1-2-3 0 1-2-1 2-1 2-1 2M128 95l-1 3 2 1 1-2 3 1 2 0 2 0 3 0-1 2-1 2M79 82l-2-1-1-2-1-2-2-2-1 2 0 3 2 2 1 1-1 2-3 0M54 51l1-2-1 2-2-1 0 3-1 2-2 1 2 1 2 1 2-1M103 107l0 2 1 2-1 2-2 2 1 1-1 3-1-2-1-2 2 1-1-3M94 102l1-2-2-2-2-2-2 0 0-3-2-2-2 0-2-1 1-1-2-1M79 92l-2 1 1 2-2 2-2 1-2 0-3 1-1 2 1 2-1 2-2 1M107 102l1-1-1-2-2-2 2 1 1 2 2-1-2 0-2 2 1 1 3 1M144 116l-2-1-1-2 2 0 1 2 1-2 2-1 2-1M120 85l1-2 1-2 0-3-2-1-3 0-2 0 0-3 1-2 0-2-3 0M143 131l-1 3 2-1 3 1 2 0-2-1 2-1-3-1-1 2-2 0M110 66l2 1 2-1 0 3-2 1-2 2-2 1-1 2 1 2 2 1 3-1M98 67l2 0 1 2 2 0 3 1 2-2 1 2 1 2 1 2-1-2 1-2M93 113l-1-3 0 3 1-2 2-1-1-2-1-2-2 0 0 3 3 0 0-2M123 65l-2 2 0-2-2 0-2 1 0 3-3 0-1 2-2 2M59 117l-2-1-2-1 0-3 1-2-1-2-1-2 1-3 3 1-2 1 0 2M77 91l3-1 2 1 1 2-2 1-2-2-3 1 0 2-1-1 2-2 2 1M66 131l2-1 1-2 2-1 2 2-2 2-3-1-2 2-1-2 2-2 2 1M58 98l3 0-1 2 2 2 0-2 2-1 3 0 0-2 2 1 2-1 2-1M43 84l0-2-2 1 2-2 0 3 2-2 0 3 2 2 0 2-2 2M69 120l2-1 2 0 1 2 1 2 3 0 2-1 1-2 2-1 2 0-1-2M120 75l0 3 2-2-1-2-3 1-1 2 2 0-1 3 2 1-2 2 0 2M51 74l-1 3 2 1 3 0-1 2-1-2-2-1-3 0-2 0-1 3-1 2M98 119l-2 1-2 2-1 2-3 0-1-2 2-1-2-1-1 3 3-1 2 0M44 133l0 3-1-3 1-1 3-1 2 1-2-1 0 2 2 1M81 115l0-3 2 1 3 0 2 1 2-1 2-1 3 0 2-1 1-2 2-2M72 101l-1 2-2 1 1 2 2 0 2 0 3 1 2 0 2-1 2-2-2-2M92 129l-1 3 0 2-2 0-2 0-3 1-1 2 0-2 3 0 1-2M146 114l0-2-2-2-2 1-2 1 2 1 2 0 1-2-1-3-2 1M94 51l0-2 3 0 2 0-2 1 0 2-2-1-1 2 2 2 1-2M47 114l-2-2-1-2-2-1-2-2-2 0 0 3 2 0 1-3-1-2 3 0M135 103l0 2-1 2-1 2 1 2 0 2 0-2-2 2 2 2 2 1M31 100l2-2 2 2 0 2-1 2 1 1 0 3 1 2 2 1 1-2M91 82l2-2 2 0 2-1 2-2 1-2 1 3 2 1 2-1 2 2 2 0M94 73l2 1 0-3-2-2 1 3 1 2 1 2-3 1 0-2 2 0 2 2M49 124l-2-1-1-2 1-2 2-2 2 1 2 2 1-2 3 0 1-2 2-1M129 79l-2 0-1-3 1-2 1-1 3 1 1 2 2 1 2 1-2-1M157 127l0 2-2-1-1 2 2-1-2-1 2-1M117 108l-2-1 0 2-2 2-1 2-1 3 2 1 3 0 2 1 2 1 2-1M81 113l-1 2 3 0 0-2 2 1 2-1 2-1 1 3 2-1 2 1M90 91l-1-2 1 2 1 2 2 1 0 2 3-1 1-2 2 0-2-1M111 137l-1-2-1-2 2 2 1 2 1-2-2-1 1-2 2 0 0-2-3 0M69 56l1-2-1-2-1 2-2 2 1 2 1 2 3 1 1 2 2-1M54 53l2 2 2 2 2 0-2 2-2-1-2 2-2 2 3 0 1 2 1 2M121 130l0 2 3-1 1-2 2-2 1-1 2-2-1-2-3-1 2-2 2 1M79 54l-1 2-2 1-2 1-2 2-1 2-3 0-1 2 2 2 3-1 2 1M49 134l3 0 1 2 1-1-1 1-3 0-2-1-2 0-2-2M129 87l-1-2-1-2-1-3 2 2 3 0 1-1 3 0 1-2-2-2-2 2M127 116l-2-1-3 0-1-2-3 0-2 1 1-3 2 2 2 1 1 2-1 2M102 133l2 0-2 1-2 2-2-1-2 1-2 2-1-2-1-2 2-1 2 0M35 91l-2-1 2-1 2 1 2 0 2 0 2-2 2 0 2 0 0-2-2-1M57 75l-1 2 2 1-1 2 2 3-2 1-1 3 1 2 1 2 1 2-2 2M143 130l0 3-2 0 1-1 3 0 2-1 1-2-2-1-3 0-1-2-2-2M58 103l2 1 3 1 2-1 1-2 1-2 2 2-1 2 2 1-1 3M106 130l1 2 2-1 1 3-2 1-2-1-3 0-2-1 1 2 2 0 2-1M106 66l-2-2 3 0 0 2 2 2 1 2 0 2 1 2 3 0 2 0 2 0M76 77l2 1-2-1-2-1 2-2 1-2-1-2-2 1 0 2 2 1 2-1M56 66l-1 2-3 1 3 0 0 2 3 0-1 2-1 2-1 2-1 2-3 0M113 112l1-2 2-1 1-2-1-2-2-1-1 2-1 2 3 1-2-2 2-2M117 88l0 2-2 2-2-1-3 0-2 0-2-1-2 0-1 3 2 1 2 2M73 98l-2-2 1-2-2-1-2-2-2 1 0-3 1-2 2 1 1 2 1 2M132 129l0 2-1 2 0 3-2-2 0-3-2-1-1-2-2-1 3 0M109 72l-2 1-1 2-2-1-2-1-1-2-2 0-2 2 1 3 2 1 1 2M130 114l-2 2 2-2 2 2 1 2 2 1-1 1-2-1-2-1-3-1-2 2M120 126l1-2-2-1-2 1 0 2-1 3-2 1-1 2 1 2 1 2 2 1M110 61l2 1 2-2 3 1 2-1 1-2-2 1-2 2 0 2-2 0M117 114l-2 2 2 2 2 1-2 2-1 2-1 2 1 2 0-2 1 2 0 2M81 133l-1 2 0 2 2 1-2-1-2 1 1-2 1-2 0-3M93 100l2 1 3 1 2 2 2-2 2-1 0 2-2 1 1 3-2-2 2 2M150 109l-2 1-1-2 2 2-3 0-1-2-2-2 3 0 2-1-1-2M91 67l3 1 0-3-2 2-1 2-2-1-1-2 1-2 2-1 2 1M74 70l3 1-1 2-2 0-2-2-2 1-2 1-1 2-2 1-2-1 1-2M67 65l-3-1 0 2-3 0-2 0-2 1-3 0-2 0-1 3-2 1 0 2M70 76l-2 0 2-1 2 0 3-1 2 1-1 2 0 2 1 2 2-2-1 2M123 76l0 3 0 2-3-1-2 1-1-2 0-2 2-1 2-2-3 1M97 77l-2 1-2-1-1 2 0 3 2 1 3 0 2 1-1 2-1 2-2 2M69 51l-2 2-2 0-2-2-1 2 0 3 0 2 2 1 2 2 0-2 1-2M48 93l1-2 3 0 1 2 3 0 1 2-2-1-2 0 2 0 1 3M60 52l1-1-1 2-2-1-2 2 1 2 0 3 3 0 1 2 2-1M60 127l-1-2-2-1-2-1-1-2-3 0-2-1-2-2-1-2-3 0-2 1M46 121l-1 2-2 1 1 2 2-1 1 3 2 0 3 0-3 0-2 1M54 95l-2 1 1 2 1 2 1 2 1 2-2 2-1 2 1 2 1-2-1-3M109 88l0-3 1 2 2-1 2-2 1-2-1-2-2-1-2-2-1 2-2 2M135 116l1-2 0-3 0-2 0-2-1-2 1-2 1-2 2-1 1-3 1-2M52 90l-1 2 2 2-1 2-2-2-2 1 0 3 1 2 2 0 2 1 2 1M98 106l2-1 1-2 3 0 1-2 1-2 1-3-2 1-2 1-3-1 2 2M78 45l-1 2 1 2-3 0-2 0 2 1 2-1 0-2-2 1-1-3M130 88l1 2 0 3-1 2 1 2 2 1 2-2 0-2-1-3 2-1 1 3M84 75l2 0 2-1 1-3 2-1 0 3-1 2 2 2 1-2-2 0-3 0M78 94l2 1 1 2-1-1 0-3 3 0-1-2 2 2 1 2-2 0 0-2M119 101l0-2-1-2 0-3-2 1-1 3 2-1 1-2 0-2-2 0-1 2M47 67l-3 1 0-3 1-2 1-2 2 0 2 1 1-2 0-2-2-1-2 2M35 76l-1-2 2 1 2-2 1-2 0 2-2 2 0 2 0 2M57 79l-2-1 2 2 1 2-1 2 0 2-2 2 3 0 1-2 2-2 2 0M51 85l2 1 2 0 1 2 1 2 1 2 2 1 1-1-1-2 2 0 3 0M111 118l2 2 1 2-1 2-2 2 3 0 1-2 1-2 3 1 2-1 0-3M127 81l1 2-2-1-2-1-3 0 1 3 1 2 2 1 0 3-2-2M140 95l-1-2-2-2 0-2-2 1 0-2 2-1 0 3 3-1 2 0M58 77l1 2-2 1-2 1-2 1-3 1-2-2 0-2-3 0-2 1-1-3M125 98l-2-1-2 1 1 1 0 3-2-1-2 2 1 1 2-2 2 0 2 1M68 99l0 2 1 2 3 0 0 2 1 2 2 0 3 1 0 2M111 103l2 1 1 2 2-1 3 0 2-1 2 0-1 2-2 0-2-2 3 1M81 57l2 1-1 2 0 3-2 2 0 2 2 2-1 2 1 3-1 2-2 1M136 128l2 0 1 2 0-2-1-2-1-2-2 0 2-2-2 2 0-2-1-3M128 98l2-2 2-1 0 3-3 0-1-1-1-3-1-2-2-1-1-2 2-2M113 124l-2 0-1 1-3 1 0 2 0 3-1 2 2 2-1-3 0-2M89 115l-2-1-1-3 2-1 2 0 2-1-1-2-2-2 0-3 2-1M75 101l0-3 2 0 3 0 1 2-1 3-2 0-2-2-1-2 1-2 1-2M108 74l-1 2-2 1-1-3-1-2-1-2-1 2-2-2 0-2 0-3-2 1M104 114l2-1-2 1-2 0-3 0-2 2-2 0-2 1-2 2 1 2-1 2M104 71l1 2 2 1 3 0 2-1 1 2 0 3 3-1-2-2-2-1 3 0M140 101l2-2 2 1 1 2 0 2-2 2 1 2 0 2 0 3 3 1M112 137l2-1 2-2 2 0 0-2-3-1 2 2-2 2-2-2-2-1-1-2M104 91l-3 0-1-2 1-2-1-2 1-2 2-1-1-2 2 0 2 0 2-2M44 117l-2-1-1-2-1-2 0-2 3-2 2 1 1-2 0-3-2 0-2-3M116 88l1-1-1-2-2-1-2-1 0-3 1-2 1 2 1 2-1 2-1-2M46 121l-3 0-2 1 0-2-1-2 2 0 0 2 1 3 2-1 1-2M109 119l2 1-2 1 1 2 2 0-1 2 2 2 0 2 2 2 1 2-1 2M90 94l2 1 3 1 2 1 0 2 0 2 0 3-1 2-2 1-1 2 0 3M72 119l3 0 2 1-1 2 2 2 1 2 2-1-1 2 2 2 0 2 3-1M43 106l-2 2-3 0 2 2 3 0 2-1 2 1 2 1 3 0 2 0 2 1M121 136l-3 0 1 2-2 1-2 1 2-1-2-1-3 0 2 1 2-1M77 82l1-2-2-1-1-2 3-1-2 2 1 3 1 1 2 2 2 2 2 1M113 65l3 0 0-2 2 1 2-1 2-1-1 2-2-1-2 2M79 121l-3 0 0-3-3-1 3 0 2 2 2-1 2-1 2 0-1-3-1-1M88 99l0-2 2 1 1-3 1-2-2 0 0 2-1 3 0 2-2 0M112 64l2 0 0 3 0 2-2 1-2-1-2-2-1-2 1-2 2-1 2 1M69 86l-3 0-1 2 2 2 0 2-2 1 1-2 1-3 1-1 1-3M52 102l-3-1-1 2 1-2 2-2 2 0 2-1 2-1 2 2 2-1M76 125l2-1 1-3 2 1 2 2 1 1-1 2 2 1 2 1 1-3 2 0M64 135l2-1-1 2-2-2 2-2 2 1 3 1 2-1-1-2 3 0M109 136l1-1 2-2 2 0 2 0 1 2-3 0-2 0-2 2 2-1 3 0M84 94l1-2 2 0 2-2-1 2 2 1 2 2-1 2 2 0-2-2-2-1M121 74l0 3 1 2 1-2 3 1 1 2 2 1 3 0 2-1 0-2 2 0M117 55l-2 2-2 2-1 2 3 0 2-1-1-3-1-2-2 1-1 2M85 69l2 1 2 0 2 1-1 2-2 1 0 3-1 1-2 2 0 2-2 2M148 131l-2 1-2-2-2-2-2 0-2 1-3 0-1 2-3 0-1-2M42 109l-2 1-3 0-2 0-2-2 2 2 2-2 1-2M102 110l2 1 2-2-2-2-1-2-1-2-1-2 1-2 2 0 3 1 1-1M114 97l0 2-1 2-1-2-1-2-2-1-2 2-1 2-2 1-2-2-2-1M63 86l0-3-1-2 2 1 1 2-2 2 2 1 2 2-3 0 0 2 0 2M136 120l-2-1 1 3-3 1 0 2-2 2-1 2-2 1-1 2-2 2-2-2M114 66l-1-2-3-1-2-1-1 2-2 0-2 2-2 1-2 0-2 2-1 2M74 58l-2-1-2-2-2 0-2 0-2 2-1 3-1-3 2-1-2-2-2 2M88 135l-2 0-2 2-3 0 2-2 1-2 2-1 0-2-2 2 2-2 0-2M121 103l-1 2 0 2-2 0-2 2-1 2-2 2-2 0 1 2 0 3 2 2M44 59l-1-2 3 0 2 2-1 2 0-3-1-1-2-2 2 2M78 123l-3 0 2 1 1 2 1 3 0-3 2 2-2 2 0 2-1 3-2-2M133 101l2-1 1 2 1 2-3-1-1 2 2 2 0 3 3 0 0-3-2 0M88 130l1 2 2-2 2 0 2 0 2-1 2-2 0 2 0 3-1-3-2 1M130 75l2-1 1-2 2 1-2 0-3-1-2-1 1 3M121 114l1-1 1-3 2-1 2-1 2-1 2 0-2 1 0 2-2 0-2-2M71 52l-2 1-2 1-2 0-2 2-2-2-2-2 1-2-3 1-2 0 1 2M72 134l-3-1-2 0-1-2 1-2-1-2 2 0 1 2-1 3-2 1-2-1M102 84l3-1 1-2 2-1 1-2 1 2 2-2 2 2 2 1 2-2 2 0M82 77l-1 2-2 1 2-1 2 1 1 3-3 0 2 1 0 3 0 2-2 2M50 85l1 2 1 2 0 3 2-2 2-1-1 3 0-3-1-2-2-2 2-1M49 125l-2 0 2-1-2-1 2-1-1-2 3 0 2 0-1 2 1 2M42 81l-2 0-3 0 0-2-2-1-1-2-1 2 3 1-1 2M115 136l1-3 1-2 0-2 1 2 2-2 2 0 2-2 1 2-2 0-2 0M103 73l-2-1 2-1 2 0 2 1 1-2 2 2 2 0 3-1 2 2 2 1M102 101l-2-1 1-3 1 3 2 1 1 3 2 0-3 0-2 1-2 0-3 0M58 126l-3-1-1-2-2 1 2 2 2 0 0-2 2-2 2-1-1 2 0 3M96 90l-2 0-3 0-1 2 1 2 2-1-3-1-1 2-2 1 1 2-3 0M85 83l0 2 0 3 2 1 1 2-1 3-1 2 1 2 3-1 2 1 2 0M152 132l-1-2 1-2 2 0 1-3 1 2-2 0-2 2-2 1M77 61l-3 0-2-1 0-2-1-3 2-1 2-2-2 0-2 1-3 0M86 49l-3-1 2-2 2 2 1-3-2-1-2 2-2 1 2 0 2 2 2 1M112 126l1 2 2 1 3 0 1-2 3-1 1-2 2 0 2 2 2 0 2 2M137 103l-3 0-2 0-2-2-2 1 1 3 1 1 2 2 1-2-1-2-2 1M93 68l-2 1-2 0-3-1-2 0-1-2-1-2 0-2 0-3-2 0-3-1M56 103l0-3 2-1 0 3-1 2 0 2-1 2 2-1 2 0 2-2 2-1M33 96l-2-1-2 1 0 3 2 1 2 1 1-2-2 1 0 3 2 1 3 0M131 125l1 2-2 1 2-1 2 0 3 0 2 2 1-3 1-2 3 0 0-2M62 62l3 1 1-2 2 0 1 2 3 1 0-2 2-2 2 0-1-3-1-1M156 132l-2 1 1-2-2 1-2 1-3 0-1-2-2-1 0 3M67 80l1 2 2-2 0-2 1-2 0-2-1-2-3-1-2 1-2 0-3 0M108 74l-2-1-1-2 1-2 2-1 1-2-1-2-1-2 2-1 2 1 1 2M101 66l-2 1-1-2-3 0-2 1 0 2 2-1-2-1-3 0 1-2-1-3M117 134l-2-1 2-1 2-1 2 1 1 2 0 2-2 1-2-2-1 3 1 2M79 93l0-2-1-2 2-2-1-2-2-2-2-1-2 1-2-1 0-2-2 0M69 66l2-1 3 0 2 1 1 2 1 2 0 2-2 2-1 2 3 0-1-2M90 59l-2 1-2-1-1-3 2 0-1-2 3 0-3 0-2-1 1-2M43 110l-2 1-2-1-2-1-2 1 1 2-1 2 2 0 0-2M132 120l1 2-2 2 0 3-2 0-1-3 2 0-2-1 1-2-2-1-2-2M84 60l3 1 1 2 1-2 1-2 0-2-3 0 3-1 0-2M65 110l-1 2-1 2-1 2 2 1 0 3-1-3 0-2-2-1-2 2-2 1M122 83l0-2-2-1-1-2 1-2-2-2 0 3 2 1 2-1-1-2-2 0M88 45l0 2 1 2 2 2-2 1 0 2 2-1 2-1 0-2M141 126l2-1 1-2 3 0 2 0 3 1 1-2-2 1 0 3 2 1M102 97l-2 2-2-1-3 0-2 1-1-2-2-1-1-2 0-2 3-1 1 2M74 82l1 2 1 2 1 2 2 0 3 0-1-2-2-2-2 0 1 3M106 133l0 3 2 2-2-2 1-2 3-1 2 1 2-2 2 0 0 3M112 99l-2-2 0-2-2-1 2-1 2-1 3 1 1 2-1 2-2 1 2 1M97 65l2 1 0 2-1 2 2 2-2 1 0 3-2 0-2 2-3 1-2-1M133 120l-1 2-2 1-2-2 1-2-2-1-1-2-1-2-2 0-1-2-2-1M58 113l2 1 2-1 1-2-3-1-2 1-2 2-2-2-1 2 1 1-1-1M146 113l-2-2-2-1-3 0-2-1-2-2-2-1-1 2-3 1-1-2M52 73l-2 2 1 2 2-1-2 1 2-1 2-1 3-1-1 3 0 2 1 3M126 81l-1-2-2-1 1 2 0 2 2 2 2-1 2-2 2 0 2 0 3 1M55 97l1 2 3 1 2 1 1-2 0-2-3 0-1 2-1-3 0-2 2-1M45 107l-2 1-2 0-2 1 2 0 2-1 2-2 2-1-1-2 0-3 1-2M72 136l2 0 3 0 2-1-2-1-3-1 0-2-3 0M135 97l-2-2 0-3-2-1 1-2 2-1-1-3 0-2 0-2-2-1-3 0M62 63l0-2 1-2-2-1-2-1-3 1-2 0-2-1-2-1-2-1 1 2M126 93l1 2 2 1 3-1 0-2-2-1-1-2 0-3 2-1 2-1M61 59l0 2-1 2-2-2-2 0-3 0-2 1 2-1 2-1 3 0 2-2M64 66l1 2 0 2 2 1-2 1-1-2-2 1-3 0-2 1 0 2 0 2M76 60l-3 0 3 1 2-1 2-2 2 2-2 1-3 0-2 0-1 2-1 3M44 104l-2 1 0 2 0 3 0 2 0 2-1 3 2 1 0 2 1 2M94 122l0 2-3 0-1 2-1 2-1 2 1 2 2 2 2 1 2 0 2 0M43 127l-1 2 0 2 2-2 0-2 2-1-1-2-3 1M62 82l0-2 2-2 0 3-2 2-2-2 3 1 2 0 2 1 3 0 1 2M82 65l1 2-2 2-2-2 2 2 2-1-1-2 0-2 3-1 1-2 1-2M101 82l0-2 3 0 2 1 2-1 2-1 2-2 1-2 3 1 1-2 0-3M88 123l0-2 0-3 2-2 0-2 1-2-1 2 2 1 1-2 2 2 2 1M141 114l-1 2 3 0-3 1 3-1M73 56l2 1 2 2 0 2-1 3 0 2 0 2 1 2 2 0 0-2-2 0M70 117l3 0 1 2-3 1-1 2-1 2 1 2 0 3-1 2 2 1 0 3M99 80l2 1-2 1-3 0-2-1-2-2-1-1-2 1-1 2-3 0 1 2M56 85l-2 1-2 2-2-2-2-1 0-2 1-2 2-1 2 1 1 2 0 3M146 127l2 0 3 0 2-1 2-1 2 2-2-2-2-2-1 3-1 2M90 109l2-1 1-2 1 2-2-2-2 1-1 2 1 2 2 0 2 2M130 96l3 0 2 0 2-1 2-1-1-2 0-2-1-2-3-1 0-2 1-2M61 108l-2 2-1 2 2 0 2 2-2 1-3 1-1 1-1 2-3 0-2 0M100 82l2 0-1-2-2-1-2-1-2-1-1-2-1-3 3 0 2 0M97 122l2 0 1 2 2 1 3 1 1 2 3 0 1-2 1-2 1-2 2-2M47 57l-1-1-3-1 2 2 3 0-1 2 0-2-2-2 3-1M127 83l-1-2-3 0-1-2-2 1 2 1 2-1 3 1 2-2 2 2 2 0M86 57l2 0 2 2-1 2-1 2-1 2 1 3 2-1-3 0-2 0M153 134l-3 0 1-2 2 2 0-3-2 1-3 1-2-1M51 133l2 0 2-2-1-2-2 1-1 2-1 3 2-2 2-1M116 137l-2 0-1-2-1-2-3 0-2 1-2 0-3 0-2 1 0 3-1 2M101 98l-1-2-1 2-1 2-1 2 2 2 2 1 2 0 3 1-1 2-1 2M95 97l-2-1-1-3-1-2 0-2 2-2 0-2-2 2-2 0-3 1-2 0M70 68l-2-1-3 1-2-1-2-1-1 2-1 2 0 2 2 2-3 0-2 1M102 118l-2 0 0-3-1-2-2-1 0-2 1-2 0-2 2 0 2 2 2 1M72 105l-2 1 2 1 3-1 2 0-2 1 1 2 2 2 2 2 0 2M100 121l-1 3 0 2 1 2-2 1-2-1 2-1 3 0 1-2 2-2 2 1M117 109l-2-1-2 0-2-2-1-2-1 2 0 2-2 1 0 3 1 2 2 1M76 52l-2 0-2 1-2 2 0 2-2-1-2 1-2-1-2 0-2-2-2 0M68 66l2 0 1 2-2-2 0-2-2-1-2 1-1 2-1 2-3 0-2 1M96 69l-2 0-2 1-3-1 0-2 2-2 2 2 2 0 2 2 2 2 2 0M153 123l-2-1-1 2-2-1-2 0 2 1M61 126l-2-2-1 2-2 0 2-1 2 1 1-2-2-1-2-1 0-3M120 94l1-2 3 0 0 2 0 3 2 1 2 2 2-1 3 2-3 0 2 1M108 74l2-1 2-1 2 0 2 1 2 2 2 0-2 0-3 0-1 2 0 3M36 114l-1-2 2-1 2 1 3 0 0 3 1-3 1-2-1-2-1-2-1 3M137 83l2 1-1 2-1 2 0 2 2 2 2 1 1 2 1-2-2 0M39 112l1 2-1 2 2 1 0 2 2 2-1-3 2 2-3-1M104 118l-1 2 1 3 2 0 2 2-2 0-2 0-3-1-2-1 0 3 1 2M118 123l1-2 0-2 0-3 2-1 2 1 2 1 1 3 1 2 1 2-1 2M114 64l0 3-2-2 3 0-2-2 1-3 2-1 2 0 2 1 2 2M65 126l2-1 2 2 1-2 0-3 2 0-1-3 1-2 2-1 3-1-3 1M73 112l-1-2 2-1-2-1-2 0-1-2 0-3 0-2-2-1-1-3M144 123l-1 2-1 2 1 2 2 2 2 1 2 0 0-2-2-2M37 114l-2-1 1 3 2 1-1-2 3-1 0-2-2-2M56 109l2 0 2-2 1 3-2 1-1-2 1-2-2-2-1 2 1 2 2 2M93 96l0-2 0-2-1-3-2 1-1 2-2 1-2 2-3 0 0 2-2 0M101 133l3 1 2-2 2 1 0 3 0-3-2 2-2 1 2 1 2-1M54 72l-3 0 1 3-1 2 1 1 1 2 0 3-2 2-2 1-1 2-2 2M117 124l1 2 3 0 2-1 0-3 3 1 1-3 1-1 0-3 0-2 3-1M42 131l2-2 2 1 1 2-2 0-2 0 0 2 2 1 2-1M74 61l2 1 1-2 1-2 3-1-2-1 0-3-3 0 0-2 0-2 2-1M71 117l2 0 1 2-1 2 0 3 1 2-1 2 2 0 2 1 2-1 0-2M75 55l-2 0-3 0 0-2 3-1 2 2 2-1 2 1 3 1 1 1 1 3M153 132l2-2 0-2-1-2 0-2 2 1-3-1-2-1-2 1M40 81l1-2 2-1 1-2 2 2-2 1-1-2 2-2 1-2 0-3-1-2M36 102l-2 1 2-1 2-1 0-3 1-2 2 2-3-1 0-2-1-2M57 63l-2-1 1-2-2 0-3 0-2 0 2 1-1-2-1 2-2 1-2 1M59 92l2 2 1-2-1-2 0-3 0-2-1 2 1 2-1 2-1 2M130 72l2 1-2 2-1 2-2 1-1 2 1 2-3 0-2-2 1-2 1-2M78 58l2-1 3 0 1 1 2 0 2-2 2 1 3-1 2-1-2-1M83 81l-1 2-2-1-2-2-3 0-1-1-1-3 2 0 1 2-1 2-2-1M78 109l1-3 2-1 2 0 2-2 2-2 0-2 1-2 0-2 2-1 3-1M122 64l-3 0-2 1-2 1-1 2-1-2-3 0-2 1-2 1-1-2M39 73l0-2-1 2-2-2 1 3 0 2 2 2 2 1 2 1M54 78l3 0-2-2-2 2-1 2-3-1-1-3 0-2-2-1-3 1 1-3M136 80l2 2-3-1-1-2-1 1-3 0-2 0-2-1-2 1-3 1M100 136l2-1 2-1 2 2 0 2-2-1 0-3 3 0 1 2 2 1M70 77l1-2 3-1-1 2-2 2-1 2-2 0-2-2-2 0-3 1-2 1M63 75l2 0 2-1 1-2 2-1 3 0 2-1 2 2 0 2 1 3 1 2M114 56l2 1 1 3 0 2-1 2-1-2 1-2 2-1-1-3M88 89l-2 0 0 3 1 2 2 0 0 3-1 1-2-1-2-2 2 1 0 2M98 127l2-1 1 2 2 1 2-1-2-2-2 0-1-2-2-2-3 0-2 0M59 52l-2-1-1-3 1 2-2 0-1 2 1 2 2 2 3 0 1 2M84 116l-2 1 0-2 0-2-2 0-1 2 1 2-2 2 0 2-1 3-2 0M56 93l0 2-2-1-2-2 1-2 1-2 1-2 1-2 2-1 0-2M117 118l2 0 2-2 2 1-1 2 1 2 2 2 1 1 3 2 2-2-1-2M116 135l0 2 1-2 1-2 0-2-2-1-1-3-2 0 1-1 0-3-2-1M56 120l1-2 1-2 0-2-1-2-2-1-3-1-2-1-2 1 1 2 2-1M57 83l-1-2 0-3 2 1 2 0 2 1 2-2 2-1 1-2-1-2-2 1M86 80l1 2 2-1 2 1 0 2-1 2-1 2-2 0-2-1-2-1-2-1M77 92l0 2 3 0 1 2 1 2 2 1 0 2-1 3-2-1 1 3 2 1M130 77l0 3 3 1 0 2 2 2 1 2-1 2 1 2-1 2 1 2 2-1M118 129l0-2 0-3 0-2-2-2 2-1 3 0 2 0 2-1 3 0 1-2M83 42l0 3 1 1-1 3-2 1-1 2 0 2-1 2 1 3 2 1M67 77l0 3 1 2 2 1 3 0-1 3 0 2 0 2 3 1 2 1 2 1M73 73l0-3 1-2-1-2-1-2 2-2 2 1 1 1 1-2-1-2-1-2M69 109l-1 2 2-2 0-3-1-2-1-2 0-2 2 1 0 3-2 0M66 124l-3-1-1-2 3-1 1 2-2 2-1 2-3 0-1-2 0-2-1 2M138 111l1-2 3 1-2-2-1-2 3-1-3 0 2-2 0-2-1-2-1-2M76 134l-3 0-1-2 0-2-1 2-2 2-2 0-2 2-2 1 2-1M79 114l2 0 3-2 2 0 0 3-2-1-3-1-2 0-2-2M41 95l0-2-2-2-1 2 2 0 0-2 2-2 2 1 1-2 0-2 0-2M106 68l2-1 1-3 3 0-2 1-2 2-2-1-2 0 2-1 2 0 2-2M125 104l2 1 2-2-2-1-3 0-2 0-2-2-2 1-2 2-1-2 0-3M76 99l-2-2-2-1 0-3-1-1-3-1-2 2-2 0-2 0-3 0-1 1M78 62l-2-1 0-2-2-2 2-1-1-3 0-2 2 0-2 2-1 2-2 0M138 86l-1 3-2-1 0-2-2-2 0-2-1-2 0-3-3 1-2 0-2 1M70 56l1 2 0 2-3 1 1 2-1 2 1 3 1 2 0 2 3 0 1-2M102 126l-2-1-1-3-1 3 2 1 2 0-2 0-2 0 0 2 2 0 0 2M56 96l0-2-1-3 0-2-2 1-3 0 1-2 2-1 2 0 2-1 2-2M111 74l3 0 2 0 2-1 1 1 0 3-1 2-2 0-3 1 0 2M60 99l2 0 1-2 2-2 0 3-1 1-1 3 3 0 2 1 2 1 2 0M47 126l-1-2 0-2 2-2-2-1-1-2-2-1-2-2-2-1-2 0 1 3M125 91l2 1 1 2 1 2-1 2 2 0 1 2 2 2 3 0-1 2 1 2M63 135l-1-2-3 0 1-2 2 0 1-2-2-1-2 1M76 63l0 2 2 1 1-2 1-2-2-2-2 1 0-3 0 3 1 2 2 1M68 76l1-2-1-3 1-2 2 1-3 0-2 0-1 2-1 2 0 3-3-2M93 102l2-2 3 1-3 0-2 0-2-2-1 2-3 0 1 2M84 98l-2 1-2-1 2-1 2-2 1-2 2 0 2-2 0-2 1-2 0-3M117 63l2 2-1 2 1 2-1 2-2-2 0-2 1-2 2 1 1 2-1 2M116 75l-1 2 0 3 2 1 2 0-1-2 2-2 0-2 0-2-1 2M88 110l2-1 2-1 2 1 0 2 0 3-1 2-1 2-2-2-1-2-3-1M90 93l-1-2-2 2 1 2 2 1 2-2 0 3 1-2-1-3 2-1-1-3M92 98l-3 0 2-2-2 2-1 1 1 2 0-2 1-2 1-2-2-1M76 134l1 2 1 2 1-2 1-2-2 2-2 0 2-1 2 0M69 108l2-2 2 1 1-2 2-1 2 2 2 1 2 1 3 0 1-2 2 2M105 90l-2-1-1 2 1-2 2 1 1-2-1-3 3 0 1-2-2-1M134 99l1 2-3 1-2-1 0 3-2 2-1 2-2-2 2-2-2-2-2-2M89 124l2-2 0-3 0-2-1-3-2-1-2 1 1-2 0 2 1 2 3 0M64 99l0 2 1 2-2 1-2 0-2 2-2 1-2 1-1 2-2-2-1-2M40 74l2 0 2-2 2 1 2-1 2-1 2-2-1-1-2-2 0-3 0-2M95 100l-2-1-2 0-3-1-2 0-2 2 0 2-3 0-2-1-1 2-2 2M114 128l-3-1 1-2 2 1 2-2 2-1 1-2 1-3 1 2 3 1 2 0M87 137l-2-1-1 1-3 1 0-2 1-2-2-2 2-2-1-2-2-1-2-1M53 77l0 2 2 2 2 1 1 2 1 2 2 1 2 2-2-1 1-3 0-2M131 82l0-3 2 1 2 1-2 1 0-3 1-2 1 3-3 0-1-2M81 41l0 3 1 2-3 1-2-1-2-2 2 1 1 2 2-1M139 97l0 2 0 3 2 2-1 2-2 1-1 2 0 3 1 2 1 2 0 2M136 81l-2 1-2 0-2-2 2-2 1-2 2-1 1-2-2-1-3 0 0 3M49 75l-2-2-2-1-2-1 0 3-2 1-2 2-2 1-3-1-1-2M76 108l-2-1 0-2-1-3-2 1 1 3-2-1-1-2 0-2 1-2 2-2M74 73l1-2 3 0-2-2 1-1 2 0 2-2-1-2 1-3 1-2 0-2M39 89l2 1 0-3 3 1-1 2-2 2-2-1-1-3 2 1-2 0M124 95l-2-2-2 2 0-3 3 0 0 3-2 1 0 2 2 2 2 1-1 2M44 78l-2-1 2-2 2 0 2-2 1-2-1-2-2-1-2-2 2-1 1-2M121 132l-2-2-2-1 0-3-2-1 1 3 0 2-2 1-2 2-2 1-2-1M99 48l-2 0-2-1-2 1 0 3-2 1 2 1 2-2 2 2M44 96l2 0 1 3-2 2 2 2 2-1 2-1 3 0 2 0-1 2 2 2M44 117l-1 2-3 0 2-1 1-3 0-2-2 2-1 2 3 0M86 84l0 3 0 2 1-2 1-2-1-2 0-2-2-1-1-2 0-3 1-2M84 48l2-2 2-1-2-2 1 2 1 2-2 2-1 1M128 104l1-3-1 3 1 2 3-1 2-1 2 2 2 1 2 1-1-2 2 0M54 59l2-2 0 3 1 2-2 2-2 1 1 3-2 2-2 1-2 2 1-3M86 75l-2-1-2 2 2 1 2 1 2 2 1 2 2-2 2-1 0-2 0-2M77 58l0 3 2 1-1 2-1 2-2 0-2-2-1-2-2 0-2 2-2 1M41 113l2 1 2 0 1 2 0 3 0 2-2 1-2-2-2 1 1 2 3 0M123 115l-3-1-2 1-2 1-1 2-1 3-2-1 0-2 1-2 2-1 0-3M99 125l-2 2 2 0 2 2 1 2 2 1 3 0 1 1-2 0-1 2 2 2M59 121l2 2 2 0 3 0 1-3 0-2 0-2 2-2 1-2-2-1M84 91l-2 1-2 2 0 2 0 3-2-1-3-1 0-2-1-2 1-2 2-1M80 130l2 2-1 2-2 0-2-2-2-2-2-1-2 0-1-2-2-2-1-2M77 101l-3 0-2 2-2-1-2 1-2-2-2-1-2-1-2-2-2-1-1-2M152 132l2-1 2-1-2 1-2 0 2-1-1-2 3 0-2 2-3 0M135 92l2 1 1 2 2 1-2-2-1 2-1 2-3 1 0 2-2-1M74 118l-2-2-2 1 0 2 0 2 2 0 1-2 0-3 2-1 2-1 2 2M48 94l-2 2-2-1-1-2-2 0-2-1-3 1 1 2 0 3 2 1 2 1M126 134l1-2-2 2-2 1-2 1-2 1-1 2 3 0 1-2 2 0M125 124l-2-1-2 1-2 2-2-1-3-1-2 1-2 0-2 2 2 2 2 0M79 117l2 2 1-2 2-1 2 0 2-1-1 2-2 1-2-1-2 1-3 0M55 96l0 3-2 1 0-3 1-2-1-1-2-1-2-2-1-2-2-2-2 0M72 121l1-2-1 1-2-2-2 0-1 2 2 1 3 0 2 1 1-1 2-2M62 75l1-2 2-2-2-1 2 1-1 2 2 0 2-1 2-1 2 2 2-1M33 93l-2-1 1 1 0 3-3-1 0 2 1 2 0 3M137 125l-2 1-3 1-1 2 1 2 2 1 2 1 1 2-2-2M61 66l-1-2 2-1 1-2 1 2 2 0 2 1 3 0 2 1 2 1 1 2M75 66l2-1 1-2-2 0-2-2 1-2 2 0 3 0 2 1 2 1-1 2M139 97l-2 2-2 1-1 3-2 0-1 2-3 1 0 2 0 3 1-3 1 2M131 132l-2 0-3 0 3-1 0 2-2 2-1 2-3 0-2 0-1-2M62 111l-2-1 2-2 1 2-2 1-1-2-2 1 2 1 3 1 0 2 2 0M123 78l-2-1-2 2 1 2-1 3-1 2-2-2-2 1-2-2 0-2-1-2M84 62l3 0 2 0 2-1 2 1-2 1-2 1-2 1 0 3-3-1 2-1M101 106l-1 2 1 2 2 2 0 2-1 2-2 0-2-1-2-1-2-2-1-2M49 129l2 2 2-1 1 2-1 2 2 1-2-2M73 96l-1 2 1 2-2-2 1 3 2 0 1-2 0-2-2-2 0-3-1-2M49 111l-1 2 0 2 1 2 2 1 0-3 2 1 1 2 2 1 3-1M54 72l-3 0-2-1-1-2-2-1 0-2 1-2 2-1-1-2-2 1-2 1M53 130l-1-2-1-2-1-2 2-1 1-3 2-1 0-2-1-3 0-2-2-1M101 67l-1-2 0-2 2 0 2 2 2 1-1-2 3 0-2 2 1 3 2-1M98 109l0 2 2 2 2 0 0 2 2 2 0 2 3 1 0 2 0 3 0 2M79 128l-1 2-2-1-1 2 2 0 0-3-2 2-2-1-2 2-1 2 3 0M142 128l0-2-2-2-2 1-2 2-2-1-1-3 0-2 2-1 2 1 3 0M79 116l-1 2 2 0 0 3 1 2-2 1-3 0 0 2-1-2-2-2 2 0M56 58l-1-2-2 3-2-1-2-1-1-2-3 1 2-2 0 3 2 1M61 74l-1 2-3 0-1-2 0-2 2-1 1-2-2 1-2-1-2-2-2 2M143 91l0 3-1-3-2 0-2 1-2 1-1 2-2 1-2-1M117 85l-2-1-2 1 0 3 1 1 2 2 3 0 1 2 3 0 2 0 1 2M45 76l2-2 2-1 1-2 1-2-2 1-1 2-2 1-2-2-2 0-1 2M114 79l2 1 2 0 2-1 0-3 2 1 2 0 2 2 2 1-1 2-2-1M113 136l1 2 0 2-1-2 1-2 1 2-2 0 0 2 2-1-2-2 0-3M104 118l-1 3-2 0-2-1-2-1-1-3-2 0-2-2 1-2 2-2 1-2M122 74l3 1-1-2 2 2-2 1 1 2 2 2 2 1 0 2M82 57l-2 1 2 0 2 2-2 0 1 2 0 2-2 1-2-2-1-2 1-2M119 87l3 1 2 1-3 0 2 1 1 3 2 0 0-2 3 0-2 2M88 98l2-2-2 0-1 2 0 3-1 2 1 2 2 2 0-3 1-2-1-2M45 126l-2 1-2 1 2-1 0-3 0-2-1-2 0-3-3 0M55 75l2 1 3 1 1 2-1 2-2-1 1-2-1-2-2-2-2 0-1 2M96 70l-1 2-2-1 2-2 3 1 2 0 2 2 1-2 0-3 1-2 3 1M62 105l-1-2 0-3-2 0-1 2 0 3-2 1-1 2 2 0 2-1 1-2M117 120l0 2 1 2-2 1-1-1-1-3-2-1 2-1 2 0 2 2 2 0M98 133l0-2-2-1 0 2-1 2-2-1 1-2 2 0 1-2 0-3 2 0M134 132l-1 3 2 2 1-3 1-1 2 2-1-2-2 1 0 2M112 105l0-3-2-2 1-2 0-2-1-3 3 1 2-1 0-2-1-3 2-1M73 97l-1 3-1 2-2 0-1 2-2 0 2-1-2-2 0-2-2-2 0-2M109 118l-2 2-1 2 2 1 0 2 1 2 0 3-2 1-1 2-1-2 1-2M124 77l2 2 2-2-1 3 0 2 0 2 2 2 2 2 2 1-1-2-3 0M118 90l2 1 1-3-1-2-3 0 2-2 1-2-2-1-2 0-1 2 2-2M83 96l0 3-1 2-2 1 2 0-2 0-2 1-3 1-2-2 3-1 1-2M38 90l0-3-2 2-1 2-1-2 0 2 2 1 2-2 0 2M100 122l2-2-3 0-2-2-1-2-2-1-3 1-2 0-1 2-2 1 1 2M51 76l1 2 2 2 2-1 2-1 1 2-2 0-2 1 0 3 0 2-3 1M117 126l-2-2 1-1 1-2 0-3-2-1 1-2-3-1-2 2-2 0 2 1M128 106l-2 1-2 1-2 2-2 1-1 2-1 3-2 0-2 2 0 2 0 3M132 79l2 1 3-1 0-2-2-2-1-2-3 1-1-2 2-2M42 101l0-3-2-2 1-2 2 1 2 0 2 1 2 2 2 0 3 0 2 1M118 84l2-1-1-2 2-1 2-2 2 0 0-2 2-2 2 1-2 1 1 2M40 111l-1 3-2-1-1 3 2-2 2 1-1-3-2 2-2 2M80 65l1-2-2-1-1-3 0-2 1-2-1-3 3 1 2 1-2 1-3-1M65 95l1-2 1-3 1-2-1-2 2-2 1-2-1-2 1-2 1-3-2-1M47 70l-2 1-1 2-2 1-1-2 1-2 0 3-2 1 0 2 2 2 1 2M91 113l0-2 1-2 1 2 1 2 0 2 2-1 2 2 2 0 1-2 0-3M78 81l-1 2 0 3 0 2 3-1 0-3 1-2 2-1-1-2-1-2-2-1M33 77l2-2 2-1 1-2 2-2 0-3 2-1 2-2 0-2 2 1M84 95l3-1-1-2 3 0 2 1 0 2-1 2 0 3-2 0-2 1-2 2M86 116l2-1-1 1-2-2-1-2 1 3 2 1 0 2-2-1-1 2M139 97l2-1-3-1 2-2-2-1-2-2 3-1-2-2 2-2 0-2M57 63l0 2 0 3 2 1 2 2 1-2 1-2 3-1 1-2-1-2-3 0M37 108l2 0 2 0 3 1-2 2 3 0 2-1 1-2-1-3 1-2 1-2M133 110l-1 2-1 3 2 1-3-1 1-2-1-3-1 2-2-1-3 1M52 115l1-3 1-2 2-1 2-1 1 2-2 2-1-2 0-2 2-2-1-2M137 105l0-3 0-2 2-1 1-3-1-1 0-3-1-2 2-1 0 3-1 2M85 114l-1 2 2 1 2 1 2-1 2 0 3 1 2-1 2 1 1 3 2 0M109 80l-3 0-2-1 2-2 1-2 0-2-3 0-2 0-1-2 0-2-1-2M71 91l-1-3-2 0-2-1-3 1-1 2 1 2 1 2 1 3 2-1 0 3M119 138l0-2 3-1 2 0-2-1-3 0-2 0-2 0-1-2-2-2M100 97l1 1 2 2 2 0-2 1-1-2-2-2 2-2 1 2 2 1M134 124l2 1 2 2-2 1 0-3 1-1 2 0 3 0 2 0-2 1 0-2M91 81l-2 1-1 2-2 2-2 0-2 2-2 2-2-2-2 0-2 0-3 1M67 136l-1-2-1-2-1 2 1 2-2 1 1-2 0-2-2-1-2-1M137 134l1 2 0-3-3-1-1-2 1-2 1-2 2-2 2 0 3 0M44 130l2 0 2 2 2 2 2 0 3 1-2 1-2 1-2-1M119 109l0-2-2-2 1-2-1-3 1-2 2 0 2 2 1 2-2 1 1 2M96 100l-3-1 2 2-2-2 1-2 2-1 1-3-1-2-2 1-3 0M117 59l-1-3-2-1 3 1 2 0-2-1-3 1 0 3M63 103l2 1 2-2 1-2 2 1 1 2 3 0 2 2-2 1-2 0-2-1M90 124l-2 1 1-2 2-1 1-2-1-2-1 1-2 1-3-1-2 0-2 1M83 102l-2-2 1-2 1-2 1-3-2 1 0 3 1 2 2 1-1 2 0 2M96 79l3 1-1 2 1-2-2-2 2-2-2 2-1 2 1 2-1 2-1 2M97 111l-1-3 1 2-1 2 1 3-3-1-1 2 0 3 0 2 1 2 2 1M67 96l2 0 0 2-2 1 1-2-1-2-2-2 1-2-1-2-2-1 1-1M67 64l-2-2-1-2-2 0 0-3 1-2 1-2-1-3 1 3-2 2M59 80l2 1 2-1 2-2 0 2 2-2 1-1 1-3 2 1 2-2 1-2M79 110l1 2-1 3-1 1 0 3 2 1 2 0-1-3-2-1-2-2-2 0M102 109l2-2 2-1 1-2 0-2 2 1-1-2 1-1 3-2 1-1 3-1M69 136l1-2 2-1 0-2 2 0-2 1-1 2-2 2-2 1M143 128l0 2 0 2-1-2-2-1-2-2-2 0-2-2-1-2-2-1M54 91l2 0 2-1-2-2 0 2-2 2 2 2 1 2-1-2-2-2M133 126l-1-2-2 1-2 2-2 2 0-2 0-3 2 1 3 0 2-1 1-3M138 98l1 2-1 2-3 0 2-2-1-2-1-2 0-2 1-3 0-2 1-2M78 94l0 2 0 2-2 1-2 0 1 2 2 2-2 1-3 0-2 1 3 0M93 112l2 2 0 2 1 2-3 1 0-3 2-2 2-1 1-2 2 0 1-2M56 92l2 0-1-2-1 2-1 2 2 2-3 1-1-2 3 0M96 126l-3-1-2 2 2 2 2 1 1-1 0-3 1-2 2-2 1-1 0-3M91 121l1 2 0 2 1 2 1 2-1 3 0 2-1 2 0-2-1-2M60 126l1 2 1-1-1-2-2-1-1-2 1-3 2-1 2 0M120 82l-1 2 0-2 2-1 0-2-1-2 1-3 2 1 2 1 2 1 2 2M118 86l1-3 2-1 0-2 0 2 1 2-2 1 0 3-1 2-2 1-1 2M94 100l0-2 2-2 0-2 0-3 2 1 1 3 2 1 1 2 3 0 1 2M128 117l1-2 2-2 2 1 2 1 2 0 2 1 1 2-1-2 0-2M99 111l2 0-1-2-2 1-1 2 1 3 2-1 2 0 3 0-1-3-1-2M153 134l0-3 3 0-3 0-2-1-2 2 2-2 0-2-2-1M138 125l1 2 2 2-1 2-1-2 0-2-1-2-3 0-2 1 0-2-1-2M36 91l-2-1 2-2 2 1 3 0 2 1 2-1 2 1 0 2 3 0M57 123l2 0 1-2 1-2-3-1-1-2 1-2 2-1-2-1-2 0-2 2M84 118l1-2-2 2-1-2-3-1-2-1-1 2 1 3-2 0-2 1-2 2M111 73l-3 0-1 2 0 3-1 2-2 0 2 1 3-1 0 3-2 1 0 3M47 54l2 2-2 1 0 3 2 1 2-1 3-1 2-1 1-2 2 2 0-2M111 61l2 2 1 2 2 1 2 0 3-1-2 2 0 3-1 2-2 1M73 89l-2-2-1-2-1-3 2 2 0 2 2 2-3 0-2-2M104 85l0-2 1-3 2-1-1-3-3-1-1 2-3-1-2 1-2 0 0 2M49 121l-2 1-1 2 2 1-1 2-1 3-1 2-2 1-2 0" fill="none" stroke="#a2a2a2" stroke-width="0.75"/><path d="M50 136l1 2 2 0 3-1 2-1 2 1 2 1 2-2 1-2 2 1M136 139l2 1 2-2 1-2 2 2-2 1-3 0-2 0 1-2 2-1 2-2M122 135l0-2-1-3-2 1-1-2-2 1-2 1-2 0 1-2 2 0 2 1M113 169l0 3 2-1-2-1-2 2-1 2 2-1M59 150l3-1 2 0 1-2-2 1-1 2-2 2 1 2-1-2-2-1 1 2M128 141l-1 2 2-2-2-1-1 2 0 2-1 3-2-2 2 0 2-1 3-1M150 149l-3 0-2-1-2 1 1 2 2 1 1-1-2 0-1-3-1-2-2 2M86 171l1-1-1-2 1-2 2-2-1-3-1-2-1-2-2 0-1-3 1-2M46 156l2 0 0-2-3-1-2 1 0-2 0-3 0-2 2-1-1-2 0-2M154 153l2 0 1-3-1-2-1 1-2 2 1 1 2 2-1-2 1-3-2 0M131 133l-2 2-1 2-2 2 3 0-1-2-2 2 2 0 0-2-2 2-2-2M106 155l-2-1-2 1-1-2 1-2 3-1 0-3 3 0 1-1 2-2M89 161l1 2 2 2-1 2-2 1-3-2 3 1-3 1-2-1-2 1-2-1M91 175l-3 0 3 1 2-2-3 0-2 0-1 2-2 1M75 134l-2 2-2 0-1-2 1-3-3 0-1-2 0 3 1 2 0 2M86 177l-1-2-1-2 2-1-1-2-2-1 0-3 0-2-1-2 1-2M77 143l-2-1-2-1-1-2 1-3 0 3 2 0 1 2 0 3-2-1M90 138l-1 2 2 1-1 2-2 2 0 2 1 2-3 1 1 2-2 1 0 3M118 144l-2-1 2-2 1-2 3 0 2 1-2-1-2 1-3 0-2-2 0 3M75 136l-1-2-2-2-2-1-1-2-1 2-2 2 1 2 1 2 3-1 1-2M79 164l1 3 1 2 2 1 1-1-1-2 0 2 2 1-1-2-1-2-3 0M59 135l-2 2-2 1-2 1-2 0 0-2 2-2 2-1-3 0 1 2M146 153l2-2 0 3-1 2-2-1 0 2-2 2-2 0-1 2-2 1-2-1M125 128l2 1 2-1 2 1 1 3 1-3-2 2-2 0 0-2M134 166l-1 2-1-2-3-1 0 3-2-1 2 0 2-1 3 0M84 149l-1-2-3 0-1-1-3-1 3 1 2 1 1 2 2 0 2 0M160 146l2-1-2 2 1 2-1-2 1-2-2 1 0 3 1 2M67 167l1 3-1 2 0-2-3-1 0-2-3 0 3-1 0-3 1-2M107 133l1-2-2-2-1 2-2 1-2 0-2 2-1 2-1 2-3 0-2 1M80 155l2-2-1-2 1-2 2-2 1-2 0-3-1-2 2 1 1-3 2-1M108 129l2 2 2 1 2 1 2 0 3 0 2 0 1 2 2 0 0 2-3 1M41 142l2 1 3-1 0-2 1-3 1-2 0-2 2-1 2 2 2 1 2-2M53 153l-3 1-1 1-3-1-2-1 3 0-2-2-2 1-1 2 2 2-1 2M49 165l2-2 2-1 2 0 3 1 2 1-2 2 1-2 0-3M125 131l1 2-2 1 0 2 1 2 2 1-2-1-2-1 1-2-1-2 0-3M90 133l2 0 1 2 3 0 0-3-2 2-1 2 0 3-2 0-1 3-2 1M51 131l-1 2-1 3-2 1-2-1-1-2 2-2-2 2-2 0M123 149l-1-2-2-2 1-2 2 0 2 2 2 2 2-1 1-2 0-2 1-3M100 128l2 0-2-1 0 2 1 2-1 3M47 154l0 2-2 1 2-1 2-2 0-2 3 0 2-1 0-2 0-2-1-2M60 156l3 1 2-1-2-1-1-2-3-1-1-2-2-1-2-2-2 0-2-1M66 142l1 2-1 3-2 1 3 1 2 0 2-1 2-1-1-2-2-1M40 136l-1 2-2 2 1-3 2 0 1 2 2 1 2 1 3-1M100 128l0 2 1 2 1 3 0 2-1-2-2-1-2-1-2-1 1-2 1-2M43 150l0 2-1 2-2 2-2 1-2 1-2-2 1-2 2-1 1 2 1 3M116 158l-2-1-2-1-2-1-1 2 1 2 0 2 0 2 0-2 1 2 0 3M57 159l2 2-2 2 0-2 0-2 3-1-1-3 1-2 0-2 1-2M40 136l3-1 1 2-1 2-2-2-2-1 0-2 2 1 2 1 1-3M68 140l0 2 0 2-3 1-2 1-1 2-3 0-2 0 0 2-2 1-2 1M83 169l-1-2-1-3 3 0 2 2 2 0-1 2 0 3 1 2-2 0-2 2M44 152l-3 0-2 0-1 2-2 2 0-2 2-1-1-2 0-3 1-2-2 0M70 132l-1 2-3 1-2-2 2-2 2 1 2 2 2-1 0 2 2 2M35 156l-2-1 1 2 2 1 2-1-2-1 1-3 1-2-1-2M75 153l-1 2-2 1-1-1-3 0 2 1 1 2 2 1 1-2 3 1-2 1M121 164l0-3-2-1-1-2-3 0-2 1-2 1 2 2 2 1 2 1M74 148l3 0 1 1-2 1-2-2-2 2 0 2 3 0 1-2-1 2M133 134l-2-1-2 2-2-1-3 0 2-1 2 1 1 3 0 2 2 1 2-1M120 147l3-1 2 0 2 1 2 0-2-2-1 2-1 2 2 1 3 1 1 1M33 152l3 0 2 1 2-2-1-2-2-1-1-2-2-2 0-2 1-3-1 2M115 147l-2 1 1 2 2 0 0-2 2-1 2-1 3 0 2-1 1-2 2 1M140 141l0-3 0-2 1-2 2 2-2-2 2 1-3 1 0 3-2 0M64 158l-2-2-2 1 0-2 2-2 2 0 2-1 3 0 1-2-2-1 2-1M64 152l2 2-2 2-2 0-3 1-1-2-3-1-2 1 0 2-3 1-2-1M123 126l2-1 1 2 0 3-2 2-2 1 0 3-1 2 0 2 2 2 2 1M119 134l2 1 1 2 2 1 2 1-2-1-2-2 2-2 3 0 2 1 2-2M102 152l-2 0 0 2-2-1-2-1-1 3 1 2 1 2 1 2-1 3 3 0M111 145l-2-1 0-2-1-2-1-3 0-2 2 1 1 3-3 1-2 0-2 1M87 177l0-3 0-2 1-2-1-3 2-2 2 1 0 2-2 2 2-1M123 135l1-2-3-1 2-2 2 2 2 1 2-1 0 3-2-1-3 1 0 2M144 145l1 2 1 2-2 1-2 0-1 2-1 2-2 1-2 2-2 1-1 2M76 138l2-1 3-1 2 1 1 2 1 2-2 2-2-1-2 1-3 0 0 3M122 160l-1 2 3 0 2 1 1 2-1 3 1-3-2 0-2-2M51 158l-2-1 1-3 2 0 3-1 2 1 2 0 2-1 2-2 2-1 1-2M121 145l-1-2 1-2 3 1 1-1 3 0-3-1-2 0-2-1 2 2 1 2M75 153l-1-2 0-2 1 2 1 2 0-3-1-2-2-1M101 156l3-2 1-2-3 0 0 2-2 1-1-2 1 2 1 2-1 3M107 152l-2-1-1-3-2 0-3 1-1-2 1-2 2 1 1 3-1 2 0 2M62 159l-2 1-1 2-2 1 0 3 3-1 2 0 2-1 3 0 1-2M109 157l2-2-2 2 0 3 0 2 2 2 1 2 1 2 0 2-2 0-2 1M104 155l3 0 0-3-2-1-2 0 1-2-2 1 0-2-3 1-1-2 0-3M157 154l1-2 0-3 2 0 2-2-2-1-2-2-2 2-2-1-2 0M158 150l-2 0-2-1-2-2-2 0-1 2 1 2 2 2 3-1 2-1 2 0M156 144l1-2-1 2-2 2 1 2 3 1 0 2-2 2-2-2 2-1M116 140l-1-2 2 0 0 3-1 2 1 2 2 1 1 2 2 1 2 2-1 2M54 143l-2 1-1-2 0-2-2 1 2-2 1-2 1 2-3 0-2-1 0 2M136 164l1-2-2-1-3 0-2 0 0-2 3 0 0 2-1-2 0-2-1-2M73 153l-1 2-1 2 2 2-2 2 1 2 2 2 0 2 0 3 2 1 2 2M113 151l3 0-2 2 1 2 2 2 1 2 2 1 2-1 0 3 0-3 3 0M35 160l1-2 3 1 0-3 3 1 2 0 1 2 2 1 2 0-1 3-2-2M126 160l0 3 1 2 1 2-2-1 2-1 2-1 1-2 3 0M101 150l-2-1-3 0-2-1-2 1-2 2 2 2-2 2 2 2 2-1 2 0M72 171l-1-2 1-2 2-2-2 0 1-2 2 0 1-3 0-2 3 0 2-1M77 147l1-2 1-2 2-1 0-3-2 2-2-1-2-1-1 2-2 1M121 152l-2-2-2-2 1-2 1-2 2-2 2-1 2-1 2 2 1 2 2 0M149 147l-2 2-2 1 1-2 1-2-3-1-2 1-2 1-2-2-2-1-2 0M90 165l-3-1-2 1-2 2-2 0-2-1 0-2-1-2 0-3 1-2 0-2M45 133l2-1 1 2-2 0 0 2 2 0 1 3 0 2 1 2-1 2M116 143l1 2-1 3 0 2-2 2-2 0-2 2-2-1 0-3 1-2-1-2M64 136l2-2 2-2 0-2 1 2 1-1-1 2-2 2 2 1 2 2M121 145l-1 2-3 0 0 2 2 1 0-3 2 0 2-1 2 0 2 0 1-3M73 140l2 1 2 1 2-2-1-2 2-1 2-1 2 2 2 1 2 1-1 2M91 132l-1 2-1-1-2-2-1 1 0 3 2 2-1 2 0 2M144 137l1 3-3 0-1 2 2 1 1-3 0-2 2-2 1 2M132 146l-1 3 2 1 3 1 0 2-2 1-2 0-3 1-2-1-2-1-2 1M91 168l-1-2-1-2-2-2 0-2 1-3 1-2-2-1-2-1-2-2-1-2M129 159l-1-2 2-2 2 2 1 2 2 1 2-1 3 0 2-1 2 2 2 0M88 136l2 1 2-2 1-2 3 0-1-2 2-2 2 1 2 0 2 1 3 1M92 132l1 2 2 1 3 1 1 1 2-2 2 0 1 2 0-2 2-2 1-2M149 139l-2-2 0 2 1 3-2 2 2 1 2 0-2 0 2 1 2-2 0-2M129 159l-1 2-2 2-1-2-3 0-1-2-1-2-2-1-1-3 2-2-2-2M146 146l2-2-1-2-2-1 0 2 2 0 3-1 0-2-2 0-2 0-3 0M90 158l-2 1-2-1-3 1-2-1-2 0 0-2 1-2 2-1 3 0-1-2M124 147l-2 2 2 2 2 1 2-2 0-2 1-2-2-2-2-1-2-2 1-2M120 159l2 2 2 1 0 3 3-1 2 0 2-1-2 0M67 151l-2 0 1 3-3 0-2-1-2 1-2 1-2 2-1 1-3-1-1-1M108 172l-2-2-2 1 2 1 0-2-3-1-2 0-2 2-2 0-2 2-1 2M123 151l-2 1 0 3-3 0-2 1 2 2 2 1 3 0 1-2 2-1 2-1M71 134l2 1 2 2-2 1 2 2 1 2 2 1 3 0 1-2-2 1 0 2M62 148l0-2 0-2-2 0-2-1-3 1 0-3-2-1 2-2-1-2 2-2M43 136l3 0-1-2 1-2 2 0 2 2 2-2 2-1 2 0 2 1M106 154l2-2-2-2-2 1-2-1 1-2-2-2 1-2-1-2-2-1-2 0M72 130l2 1 2-1 1-2 1 2 3 1 2 0 2 0 2 0 3 1M45 166l-1-2 0-3 3 1 1 1 0 3 2-2 2 0M143 163l1 2-2 1-2 2-2-1-1-2-2-2-2-1-2 1M58 141l1 1 2-1 1-3 0-2 2-1 2-1 2 0 0 2 0 3-2-1M63 169l-2 0 1-1 2 1 3 0 2 1-2 1 2-1-2-1M92 159l-2-1 0-2 1-2-2-1-2 1-1-3-2 0-1-2 2-1 1-2M122 131l-2 1-2 1-2-2-2-1-1-2 2 1 2 2 2 0 0-2M83 146l0-2 0 2 3 0 2 0-2 0-1-2 2-1 2-2 1-2 1-2M108 128l-1 2-1 2-1 2 3 2 0-3-3 1-2 1 0 2-2-1-3 0M103 155l2-2 3 0-2-1-1-2 2-2 2-1 0-2 2-2 0-3 2 2M129 153l-1-2-2 0-2 1 0-2-1 1 0 3 1 2 0 2-2 1-2-1M136 146l2 0-2-1-2 1-2 2-2-2-1-2-2-2-2-1-2 0 0-3M96 138l0-2 1-2 1-2 2-1 2-1-2-1-2 1 0 2 2-2 1-2M56 133l-1-2 2 1-1-2 2 1-2 1 2 0M66 154l-1 2-1 2 1 2 2 0 2 0-2-2-2 0-2 1 0 3 1 2M52 162l2 2-2 0-2-1-3 0-2 0-2 2-1-3M136 144l0-2 2-1 2 0 3 0 0 3 1 2 2 2 1 2-2 1-1-2M78 147l0 2 1 2 2 1 3 0 2 0 2-1 2-2 0-2 1-3 1-2M82 148l-2 2 1 2 2 0 1-2 0-2-1-2-1-3 1-2 1 2M65 152l0-2 2-1 2-1 3 1 1 2 1-2 2-1 2-2 1 2 1 2M114 131l1-2-2 0-2 1 0-3 2 0M95 152l1-2 2-1 3 0-2 2 2-1 1-2-1-3-2 1-2 1-2 0M113 141l2-1 1-2 1-2 3 0 2 0 3 0 2 0 2 0 0 3 2-1M94 147l2 1 2-1 1 2-1-2 1-3 1-2-2-2 2-1 1-3M80 154l-2 0 1 2 2-1 3 1-3 1-2-1-2 0 0 2M83 171l-3 1-2 1 2 1 1 2 2-1-2 0 2-2 2 0M131 156l-3 0-2-1 2 0-2 1-1-2 0-3-2-1 1-3 1-2 0-2M36 151l0 2-1-2 2 2 0-3 2-1 0-2 2 1 2 0M84 147l0 3 2 1 1 2-1 2-1 2-1 2 1 3-2-1-3 1-1 2M59 140l-2 0 1-2 3 0-3-1-2-1-1-2-2-1-2-1 1 2 1 3M48 155l-3 1-2 1 0 2-2 1-2-2 3 1-1 3-2-1 1-2M95 148l2-1 1-2 1-3-3 1 0 2 1-2 2 0 0-3 2-1-1-2M42 159l-2 2 3-1 0-2 0-3 2-2 2 2 2 1 2 0 2 1M48 164l-3 0-2 0-1-2 0-3 1-2 1-2 2 0 2 1 3-1 0-2M99 145l2-2 2 0-2-1-2 2 1-3 3 1 0-3 0-2-2-1-2-1M41 136l1 2 0 3 0 2-3 1-2 1 0 2 1 2 2 0 3 0 0-3M110 161l1 2 0 3 0-3-1-2 1-2 0-3 2-2 0-2-2-2 1-2M80 130l2 0 0-2 0 2-1 2-2 1-3-1-2 2-2-2M73 149l2 0 3 0 1-2 0-3-2-1-1-2-2 1-2 1-2 1 1 1M67 146l1 2 0 2 2 1-2 2-1-2 0-2-2-1-2-2-2-1-1 2M119 147l2 0 1 2 2 1 1 3-2 1-2-1-1 3 1-3-3 0-2 1M141 139l0-3 2 0-2-1-3 0-1-2-3 0-1 2-1-2-3 0M107 142l-1 2-2 2-2 2-2-1-1-2 1-2-1-2 2-2-3 1 2 1M62 142l-2 1-2 1 2 1 2 2 0 2 2 1 2-2 2 0 2 1 0 3M113 161l-2-1-2 0 1 2 0-2 2-2 3-1 1-1-1-2-2-1 0 2M84 148l-2 1 1 2 2-1 2 0-1-3 0-2 1 2-1 2-2 1-2 1M101 169l-2 2-2 0-1-2-1-2 0-2 2-1 1-2 0-2-2-2M125 133l2-1 1-3 1-2 1 2-1 2 2 1 1-2 2 2 1 2 0 2M83 173l-2 1 1-2 2 1 1-3 2 1 2-1 2-1 2-1 1 3M38 138l-1 1-2-2 1 3-1 2-1-2 1-2 2-1 1 2-3 0M111 137l-2 1-2 2 2 2-2-1-3-1-2 1-2-2-2 0-2-1M48 135l-2-1 0-2 2 0 3 0 1-2 2 2 0 2M124 163l-2 0-2-1 1-2 3 0 2-1 2 1 2 1 2 1 2 2 0-3M147 151l2-1 1-2 2-2 2-1-1-3 0-2-3 0 0 2 0 3M76 141l-1-3 0-2 2 1 2 1 3 0 1-2-2 0-2-2 1-3 2 1M99 166l1-2 2-1-1 2-1 2-1 2 2 2-2-1 3 0M79 143l-2-1-3 0-2 0-2-2-2 1-1 3 0 2 2 2 1-2-1-2M117 158l1-3 3 0 1-2-3 0-1 2-3 1-2 0 2 1 0 3-1 2M106 164l-1-2 0 2-1 2-3 0-2 1-2-1-2 1-3 0-1 2M115 166l1-2 2-1 1 2-1 2 0-2 3 0-2-2-1-3-1-2M86 160l1-2 0-2-3 1-1 2 0-2 1-2 0-3-1-2 0-2 0-3M77 130l2 1 1-3-3 2-2-1-1 2 0 2-2 2-3 0M54 152l-2 2-2-1-2-1-2 1-3 0-2 0-2 0-3-1-2 0 0 2M86 142l-1-2 2-1 0-2 2-1 1-3-2 1-2-1 0-3 2 0M102 150l1 2 2 1 3 0 2 1 1 2 2 0-1-2 0-2 1-3 1-2M103 147l-2-1-3 0-1-1-2-2 2-1 3 0 2-1 2-1-2-1 1-2M155 158l0-2 2-2 2 0 0-2 3 0-2 2-2 1-1-2M99 164l-1-2-2-1 2 0 3 0-3 0-1 2-2 1-2 1 1 2M144 145l-3 0-2-2-2 0-1-2-2 1 2 1 2-1 3-1-1 3-1 1M147 152l2 1 0 2-1 2-2 0-2-2-2-1-2-1 1-2 3 1 0 2M39 162l1-2 2 2 2 1 1-2 0-3 0-2 2-2-1-2 2-2M99 129l-2-2 3-1 1 2 2 2-2 2-2 0-2 0-3 0 0 3M109 145l-1-2 1-3 2 0 2-1 2 1 2 1 2-1 2 2-1 3-1 1M81 141l0-2 1-2 2-1 0-3 2 2 2-1 2-1-1-3 1 3M142 139l-3 0 0-3 2-2 0 3 2-2-2 2-1 2 1 2M85 156l-2 0-2-2-1-2 1 2 3 0-1-2 2 0-2 1 0 2M92 160l0 2 0 3-2-1-3 0 0 2-3-1-1-2-2-1-2 1 0 2M34 160l3 0 2 1 2 0 2 1 2-1 2 0 2-2-2-1 2-2-1-2M78 131l2 1 1-3-2 0-1 2 0 3-2 1-2 2-2 1-2-1-2-1M155 156l0-2-2-2 2-2 2-1 3 1 1 2-2-2 1 3M100 166l0-3-2-2 1-2-1-2 2-2 2 2-2-1-1 2M67 150l-2-1 2-2-1-2 2-2 1-2 1-2 2-2 2 2 2 1 2 0M44 142l-1-2-1-2-2-1 0 3 2 1 3 0 2 0 2-1 2 2-2 2M120 130l2 2-1 2-3 0-1 2-2-1-2 0 2 0 2 0 2 2 1 2M46 149l0 3 0 2-2 2-1 2-2 1-2 1-2-1-2-1-1 2M91 150l3 0 1-2-1-2-1-3-1-1-2-1-1 2 2 0 2 1 1 3M43 141l-1-2-2-1-1-2 2-2 1 2 0 2-1 2-1 3M97 138l2-1 2-1 1-3 0-2-1 2 1 2 0 2-3 0 0-2M98 161l1-2 1-2-2-2 3 0 2-2-2-2-2 0 0-3 0-2-1-1M128 127l-2-2-2 1-1 2 2 2 0 3 1 2-1 2-2 2M140 169l1-2-2-1-1 2 0-3-1 3 3 0 1-3M145 143l-2 1-3 0-2 0-2-2-2-2-1-1-2-2-1-2 2 0 2 1M139 144l1 2 1 2 3 0-3 0-2-1 0 2 0 2-1-2 1-2 1-2M126 149l2 0 2-1 0-3-1-2 0-2-1-2-1-2 1-2-1-2 0-3M62 165l-2 1 2-1 2-2 2 0 1-2-2-1 0-2 2-2 1 3-2 1M83 136l-2 1-2 0-2-2-1 2 0 2 2 0 3-1 2 2-1 2 1 2M97 149l-2 1-1 2 2 1 2-2 0-2 1-2 2-1 1 1 2 2 2-1M128 164l3-1 2-1 1-2-1 2-2 1-2 2 2 2-3 0 2-2M66 167l0-2 1-2 3-1 0-2-1-3-2 0-3 0-2-1-2 0-2-1M60 167l-1-2 1-2-2-1-3 0-2 0 0-3 0-2 2 1M133 168l0-2-2-1 1-2-2 2-1-2 2-1-1-2-1-3-2 2-2 0M78 169l0 2-2 2-1-2 0-2 2-2 1-2 1 2-2-1 2-2 2-1M74 134l-1 2 0 3 1-3-2-1 2-1 1-2 2-1-1 3 2 1 0 2M114 173l1-3-1-1-3 0-1 2-1 2-2 0M132 153l0-2 2-1-1-2 0-3 1-2 1 2 3 1 2-2 0 3-1 2M75 161l-2 1 3 0-2-2 0-2 1-2 3 0 0 3-2-2-2 2 0 2M69 164l1 2 1 2 0 2 1 2-1-2-1-2-3 0-2 1-2 1-2-1M68 172l2-1 2-1 0-2 2-2 0-3 1-2 1-2-2-2 0-2-3 0M117 139l3 0 2-1 1-2 0-2-1 2-2 2 1 2 2 2 1 2-1-2M121 159l2 0-2-1-3 1 1-3-2-1-2-2-2 1-2 1-2 1-3-1M132 132l0 2 2 2 2-1-2-1-1-2 0-3 2 2 0 3 0 2M41 144l1 3-2 0 0 2 2 2-1 2 0 2-2 1-2 1-2-1-1-2M126 166l0-2 3 2 0 2-1-2-2-1-1-3-1-1-2-2-1-2 1-3M116 165l1 1-2 0-2 0-2-1 0-3-2 1-1 3 1 2 2 0M131 131l2-1 2 2-1-3 1 3-2-2-1 2-1-2M120 165l2-2-2-2-2-2-2 0 2 1 0-2-3 0-2 1M49 138l-2-1-2-1-2-1-2-2 3 0 2 0 2 2-2 1M87 136l-1 2-2 1 2 0 1 2-1 3 1 2 2 1 3 0 1 1-2 2M108 130l2 0 3 0 0 3 1 2 3 0-2-1-2 1-1-2 0-2 0-2M124 158l0 2 0 3 2-1 2 1 2-1 0 3 2 1 3 1M45 161l-2 1-3 0 3 0 2 0 2 2 2 1-1-3M80 137l-1 1-3 2 0 2 2 2 1 2 0 2 2 2-2-2 1-2 0-2M129 136l-1-2-2 1 0 3 2 1-1 3-3 0 1 2 2 2 2 0 2 1M91 163l-2-1-2 1 1 3 1-2 0 2 1 2 1 2-2 0-2 1 2 1M67 156l2-1 2-1 1-2 1-2-1-3 0-2 1-2 1-2 2-2M100 167l-1-2 0-3-2 0-3 0 1-3 2-1-1-3 1-2 2-1 2-1M51 141l-2 1 1 2 0 2 2 2 0 3 1 2 3 0-2-2 0-2 1-2M60 143l-2-1 1-2-2 0-2-1-2 0 0 2 2 0 2-1 2-1-1 2M65 154l-1-2 2-2 0-2-2 0-2 2 1 2 0 2 2 1 2-1 2 1M94 165l1-2-2-1-2-1-2 2 0-3-2-1 2-2-3-1 1-2 1-2M63 152l-2 0 0 3 1-2 0-2-1-2-3 0-2 0-1-2-1-2-2-2M97 130l0 2 1 3 1 1 1 3 1 2 1 2 2-2 2 0 2 1 3 0M152 140l0 2 0 3 1 2-2 1-2 0-2-1-3 1 1 2-1 2-3 1M116 140l0-2 2-1 2 1 2 1 2 1 2-1 2-2 2 1 2 1 1-2M97 152l-2 1 2 1-2 0 0 2 2 2 1-2 1-2 0-3-2-2 1 3M87 177l2-1 2-1 2-1-2-1 1 2 2 0M156 146l2 0 3-1-2 2-2 1-3 1-2 1-2 2 2 2 2 1M44 163l2 2 2-1 1-2-1-2 1-3-3 1-2-1-2 1 0 3 2 2M48 145l3 0 2 1-1 3 2 2-3 0 0 2-2-2-2 2-2-2-1-2M73 164l-1-2-2 1-2-2-2-1 1-2 2 1 1 2 1 2-2 1-1 2M117 163l0-2 2-1 0-2-1-2-2-1-2-2-2 0-3-1-1 2-1-2M127 165l-1 2 2 1 2 0-2-1-2-1-1-2-1-3-1-2-2-1M53 158l-2 1 1 2 2 2 2-1 1-3 2-1 1-2-3-1-2 0-2 2M88 175l0 2 2-2 2 1-1-2 1-2M107 165l2 0 0-2 3-1 2-1 2-1-1-3-2 2 2 1 2-2-1-2M103 131l-2 1 2 2-2 1 2 1 2 0 1-2-2 2-2-1-2 1M49 138l1-2 1-2 2-1 3 0 1-2-1 2-2 0-1 2 0 3M159 148l0 3 0 2 2-1-2 0-2 1-1 2-1-3 0-2-1-2-2 0M112 170l2-2-3-2-1 2-1 2 1 2-1-2 1-2 2-2 2 1M119 131l2 2-3 0-2-2-1-2-1-2-2 2 3-1 1 2-2 1-2 1M109 169l-3 0-2-1-2 1 1 2-2 1-2-1-1-2-1-3 2-1M53 148l0 2-2 2 0 2 1 2 1 3 2 0 2-1 1-2 0-3-3 0M98 151l0 2 0 3-2 0-1 2-3 0-2 0-2 1-2-2 1-2 2-1M83 137l-2-1-2 1-2 1 0-3 2 1 2 2 2 1 0-3 0-2 2-2M134 150l-1 2 1 3 0 2 2 2-2 1-2 1-3 0-2-1 0 3-1-2M86 171l-1-2 2-2 2 2 2-2-2-1-1 2 2 0 1 3 2-1-1 3M152 141l-1 2-1 2 1-2 3 0 0-2-2 1-1-2M44 135l1-2 2 2 1 2 2 2-1-3-1-1-3 0-2 0-1 2M137 151l-2-2-1-1-2 1-2-2-2-2-2 0-2-2-1-2-3 0-1 3M51 146l-2-1-1-2-3 0-2-1-1-2 1-2-2-1-2-1-2 1-1 2M156 147l-1 3 2-1 1 2 1 2-3 0-2-2-1 2-2-1 0-2M111 136l1-2 1-2-1-2 0-3-2 2 1 2-1 2-2 2-2 1 0 2M150 149l3 1 1-2 2-1 0-2 1-3-1 2 0 3 2 1 2 2M100 157l-2 1 0 2 0 2-3 0-1-2-2-1 1-2-3 1-2-1 0-2M117 151l2 1 2 2-3 1-2 0 2-1 0-3-1-2 2-1 1 2-2 2M109 133l2-1 2 1 2 0-1-2 0-2-3 0 2 1 2-1M138 144l-1 2 1 2 2 0 2 1-1 2-1-2-3 1-2-2-1-1 1-3M99 157l-3 0-1-1-1-3-3 0-2-1 0-2 1 2-2 2 0 2-2 2M83 149l-2 0-3 0 3 1-2-2 1-2-2-1 1 2 2 0-2 2M102 165l1 3-2-1-3 0-2 2 1-3 2 1 1 2-3 0-2 1-2-1M71 143l-2-2-1-2-1-2-1-3-1-1 0 2 2 2 1-1-1-3-1-1M104 171l2-1 2-1 2 0 1-2-2-1 2-2 2 1 0-3 3 0M112 172l2 1-1-2 1-2 2-2-2 2 0 2-2 1M115 143l1 2 0-2 0-3-2 0-1 1-1 3 1 2 2 0 3 0 2 1M145 136l2 1-2-1-2-2-1 2 0 3-1-2 1-3 2 0M148 154l0-3-3 1-1 1 1 3-3 0-1-2 1-2-1 2 1 2 3 2M68 162l-2 0-2 2 1 2 3 0-1-2-2-1-2-1-3-1-2-1 3 1M134 163l-2-2-2 1-2 1 1-2 2 1-1 3-1 2-2 1-1-2M96 170l-2-1-2 0-2 1-2 1 0 2-2 0-3-1-1-2-2 1 0 3M61 155l-2 1-1-2 2 0 3 0 0-3 1-2 1-2 2-1 2 1 1 2M90 173l-3 0-2 1-2 0-1 3-2-1 2-2-1-1-1-2M60 141l-2-2-2-1-2-1-1-2 0-3-2-1 2 2-3 0M61 154l0 2 2 1 1 3 1-3 1 2 0 3-2-1-1-2-1-3-2-1M48 142l3 1 1 1 0 3 1 2 3 1-1-3 2 1 0 3 0 2 0 2M52 150l2-2-2-2 2 2 2 0 2 2 2-1 1 2 1 3 1 2 0 2M72 166l0 3-1 2 2 1 2-1 0 2-2-2-2-1-2-1 0 2M101 156l-2 0-3 1-2 0-2-2-1 2-1-2-2 0-3 0-1 2-3-1M113 139l-3 0-2-1 2 1 2 2 2-1 3 0 0 2-2 2 0 2-1 2M67 133l-2-2 2 2-2-1 2-1 2 0 2 1 0 3-2 1-3 0M135 154l1-2-1-2-1-2 2-1 1-2-3-2-2 1-2 2 0 2-2 2M75 132l-1 1-2 1 1-1 3 0 1-2 0-2-3-1 2 1-2 0M36 160l-1-2-2 1 1-2 2 0 1 2-2 2 0-2 0-3M99 145l-1 2-1 3 2 1-1 3-1 2-3-1 1-2 3 1 0 2 0 2M89 171l-1 3 1 2 2-1-1-2-2-2-2-1-1 1 0 3 3 0 2 1M81 163l2 0 0-3 2 0 2 0-2 2-2 1-1 2-2 2-2 0-2-1M85 148l3-1 2 0 2 1 3-1 0-2 1-2 2-1 1-2 2-2 0-2M109 169l2 1 2-1-2-2-2 2 0 3-2 1 1-2-2-2 1 2M145 139l1-2 0 2-2 2 1 2-1 3-1 1-1 3 1 2 0 2M106 142l2-1-1 3 0 2 1 2-2 1 2 1 2 2 2 0 0 2 0 3M121 154l-2-2-3 0 1-3 2 0 2 1 0-3-1-2-2-1-2 0 0-2M127 139l-2 1-1 2 0 2-2 0-2-1-2 2 1 2 1 3 1 2-2 2M93 161l1 2 2-2 2-1 3 1-2-2-1-2 2-2 2 0M126 167l2 1-1-1-2-2 1-2 0-3 2-1 2-2M74 166l-2 0-1 2-1 2 0 2 3 1-1-3 2-1 0-3-2-2 1-2M114 161l3 1 2 1 3-1 2 1 1 3-1-3 2 1 2 2M126 125l-2 1-2 1 1 2 0 3 0-3-2-1 2 1-1 2M140 139l2 0 2-2-3 1-2 1-2 0-2 1-3 1-2 1 0 2 0 2M77 131l-2-1-1-2 0 2 3 1 1 2 2 1 2 0 1-2 0-2M98 167l-1 2 2 2-2-2-2-1-2-1 2 0 2-2-2-2 1-2M120 127l2 0 1 2 2 1 0-2 3-1 1 2-1 1-3 1M149 163l2-1-1-2-2 0-1 1 0 3 0-3-2-1-1-2-1-2M72 162l1 2 1 2-2 2-1 1-2 1 0 3-2 0M148 162l2-1-1-2-2-1-2 1 2 1 0 2 2 1 1 2 0-2M139 168l2 0 0-3 0-2-2 0-1 2-1 2 2 2 2 0M152 160l0 2 2-2 0-2-2-1-2 1-2-2 0-2M65 141l0 3 1 2-2 1-1 2-3 0-2 0-3 0-2 0-1-2-2 1M101 157l-3-1 0-3 0-2 0-2 0-3 2 2 2 1 2 1 3 0 0 2M55 153l0 2 0-2 0-2-2-2-1-2 1-2-2-2-1-2 2 0 2 1M95 161l2 0 3 0 0-2-2-1-1-2 0-2-2-2 1-2 0-3M115 144l-2-1-1-2-1-3 1-2-1-2 1-2 1-2 0-3-2 2-1 1M145 159l-2-2 0-2 3 1 0 2-1 2 2 2 1 2-2-2-2-1M67 169l1 2 2-1 2-2 2-1 2 2 1-2-2-2-2-1 2-1 1-2M93 140l-1-2-2-1 0-2 1-2 1-2-1 2-1 2-2 2-2 0M122 146l-1-2-1-2 0-2 0-3 1-2-2-2-1-1 1-3 1 3M86 172l-1-3 1-2 0-2-2-2-1-3 2 2 3-1 1-2-2-1-3 0M114 139l1-2 3 1 2 0 0-2 0-3-2 2 3 1 2 0 1-3 2-1M149 152l-2 0-2 0-1 2-1 2-3 0-2 1-1 2 3 0 2-1 1-2M92 162l2-1 2 1 1-3 2-1 0 2 2 2-2 0-3 1-1-3-2 0M44 152l0-3 2-1 3 1 1-2-1-2 3-1 1-2 3 1 1 2 2 1M155 141l-3 1 2-2-3 0 2 2 2 1 2 1 3 0-2 3 2 1 2-1M99 159l0-2 1-3 2-1 0-2 2-2 2-1 2 1 2-1 3 1-1-2M141 135l1-1 0 2 3 1 0 2-2 2-2 0-1 2M116 166l-1-2 1-2-3-1 1-2 2-1 1-2 2-1 0-2-2 0 2 1M39 153l1 2-2 2-2 0-2 2 3 0 0-2-3-1-2-1 2 2M67 133l1 2 2 1 2 1 1-2 2-2 1-2 2-1 2 2 1-2 2 1M104 137l2 1 0 2 0 3 1 2-3 1-2 0 2-1 3 0 2 1 1-2M50 149l1-2 1 2-1 2-2 2 1 2 1 2-2 1-1 3-2-2-2-1M98 162l3 1 0 2 0 2-3 0-2-2-1 2 1 2 2 0 3 0 2-1M106 141l-2 2-1 2-2 1-1 2-1 3 3-1 1 2-1 2-2-1 1-2M44 146l0-2 1 2 2 1-1 3-2-1 0 2 1 2 3 0 2-2 1-1M93 146l-1-2-1-2-1-2-2-2-2-1-3 0 2-2 2 2-3 1-1 2M109 132l1-2 0-2 0 2 2 1 2 1 2 2 2 1 2 0 2 1M107 131l-1 2-1 2-1-2-2 0-3 0-2 1-1 2-2 2 3 0 2-1M54 133l-1 2 1 2 0 3-3 0 0 2-2-1-2 1-3 0-1-2-3 1M72 156l2 0 2 1 1-2-2-2-2-2 2-1 1-3 1-2 0-2 0-2M117 135l0-2 1 2 2-1 1 3-2 0 0-2 3-1 2 1 2 1 2-1M139 164l-2-1-2 0 2-1 2 0 1-2 0-3 2-1 3 0 2-1 2 1M51 133l1 2 2 0 0-3-2 0 2-1-1 2-2 0 0 2-1 2M154 144l0-2-1-3-1 2 2 1-1 2-2 1-2 1M132 135l2-1 0-3 0-2 1 2 1 2-2 1-2 0 2 1 1 2M137 162l-2-2-2-1-2 2 2 1 2 2 1-2-1-2-2 0-1-2-1-3M69 141l-2-2-2 0-1-2 0-3 1 3-1 2 2 1 2-1 1-2M56 147l-2-1-2 0-3 0-2-1-2-1-2 1 0 2 2-1 3 0 2 1M95 149l-1-2 2-2 2 2 0 2-2-1-1-2-1-2 0-2 1-3-3 0M55 151l-1-3 1-2 2 0-2 0-2-1-2-1-2-2-2-1 2-2 0-2M88 144l3 1-1-2-1-3 3 1 2 1 0 2 0-2 0-2 1-3-1-1M97 138l-1-2-3-1-2-1-2-1-2 2-1 2-2 0-3-1-2 0-2 0M111 172l3 1-2 1 0-2 2-2 3 1-2-2M147 160l3 0-2 2-2 2 2-2-2-1 1-1 3 0 2 0 1-2 2-2M92 160l1 2 1 2 2-1 2 0 1-3-1-2 1 2 1 3 2 1 2 1M153 144l2 1 2-2-2-2 1 2-2 1 2-1 2 2-2 2 1 1M92 163l1 2-1 3 2-1-1-2 0-3-1-2-2 1-2 2 2-1 2-1M134 161l2-1 2-1-1-2-2 1 1 2 0 2-3 1 0 2 0 3M99 138l-1-2 0-3 0-2 2 0 1-2-2 1-1 2-3-1 3-1M113 167l-1-2-2 0-2-1-1-2 2-1 1-2 2 1 2 1 2 0 3 1M150 163l1-2 2-1-1-2-2 0-2-2 1-2-1-3 2-1 3 0 2 1M121 134l-3 0 0-2-1 2-3 0-2 0-3-1-2 1 0 2-1 3-1 2M86 140l-1-3-2 0 2 1 2 2 1 2 2-1 2-2-2-2-1-2-1-3M109 134l0-3 2 0 0-3-1 2-2-1 1-2 2 0 0 2M91 160l0 2-3 0-1-2 1-2 2-1 2-1 1-3 1 2 1 2-1 2M110 152l3 1 0 3 2 1-1 3 1 2 1 2-2 1-2 2-1 2-1 2M88 148l0 3 1 2 1 2-1 2-1 2 0 3-2-2-2-1-2 1-2 0M33 158l2 1 2 2-3 1 3 0-3-1 2-1M131 156l-2-1-2-2-2 1 1 3-3-1-1 2-1 2 0 2-2-1M35 150l3 1 2-1 2 1-1 2 2 0 2-2 2 1-1 2-2 0-2 0M54 154l1 3-1 2 2 2-1 2-1-2-3 1-1 2-2 0-1-2M122 157l-2 1-2-1 0-3-3 0-1 2-2 1 1 3 2-1-1-2 0-2M102 144l-1-2-2-1-2 0-1 2 0 2 2-1 2-2 2 0-1-2-1-2M147 144l2 2-3 0-2 1-2-2-3 0 0-2 2 0 2-2 2 1 2-1" fill="none" stroke="#c9c177" stroke-width="0.9"/></g></g>
<g clip-path="url(#cpi)"><ellipse cx="17.5" cy="69.6" rx="5.2" ry="3.6" fill="#d03a36" opacity="0.8"/></g>
<g transform="scale(0.5)"><path d="M66 132l-2-1-3 0 2-2 1-2 2-2 2 0 1 3 1 2 0 2M78 121l-1-2-2 1-2 1-1-2-3 0-1-2-3-1 3-1M73 136l-2 1-2 0-1 3 1 2-2 1 0 3-2-1 1 2M65 145l2 1 1-2 1-3 1-2-1-2 0-2 2-2M61 134l2 0 2 2 1 2 1 2-1 3 1 2-2-1 1-2M75 127l-1 2 0 2-1-2-2 0-3 1-1-1-2-2-2-1M70 139l0 2-2 2-2 0-3 1 1-2 0-3 2-1 1-3M78 121l2-1 0-2-2-2 3 1-2 1-2 2-3 0M73 139l1 2-2 1 0-3 1-2 0 2-1 2M62 131l1-2 2-1 1-2 0-3 3 1 1-2-2-1-2-1-1-2M68 143l1 2-1 3 3-1-2-2 0-3 2 1 2-2M76 121l0 2-2 1-2 0-3 1 1-3 1 2 1 2 2 2-1-3M68 137l-1-2-3 0-2 0 0 2 3 1 2 2 2-1 2 0M75 122l-2-1-2 1 0 3 1 2 0 2 1 2 0 3 2 0M71 135l-3 0 1 3 2 1 1 2 2-2 0-3-1-1M72 127l3-1-1-2 2 0-1 1-1 3-1 2-2 1 2 2" fill="none" stroke="#3b37a6" stroke-width="1.3" stroke-linejoin="round"/></g>
<path d="M37 74 L36.5 88" stroke="#6cc3d8" stroke-width="0.9"/>
<text x="43.70" y="54.10" font-size="8.6" fill="#111" font-weight="bold" textLength="15.30" lengthAdjust="spacingAndGlyphs" stroke="#111" stroke-width="0.3">28S</text>
<text x="43.70" y="76.60" font-size="8.6" fill="#111" font-weight="bold" textLength="15.30" lengthAdjust="spacingAndGlyphs" stroke="#111" stroke-width="0.3">18S</text>
<path d="M0.7 0 V663" stroke="#000" stroke-width="1.4"/><path d="M0 0.5 H520" stroke="#000" stroke-width="1.1"/>
<path d="M519 0 V663 M0 662 H520" stroke="#2a2a2a" stroke-width="2.0"/>
</svg>
</body></html>
